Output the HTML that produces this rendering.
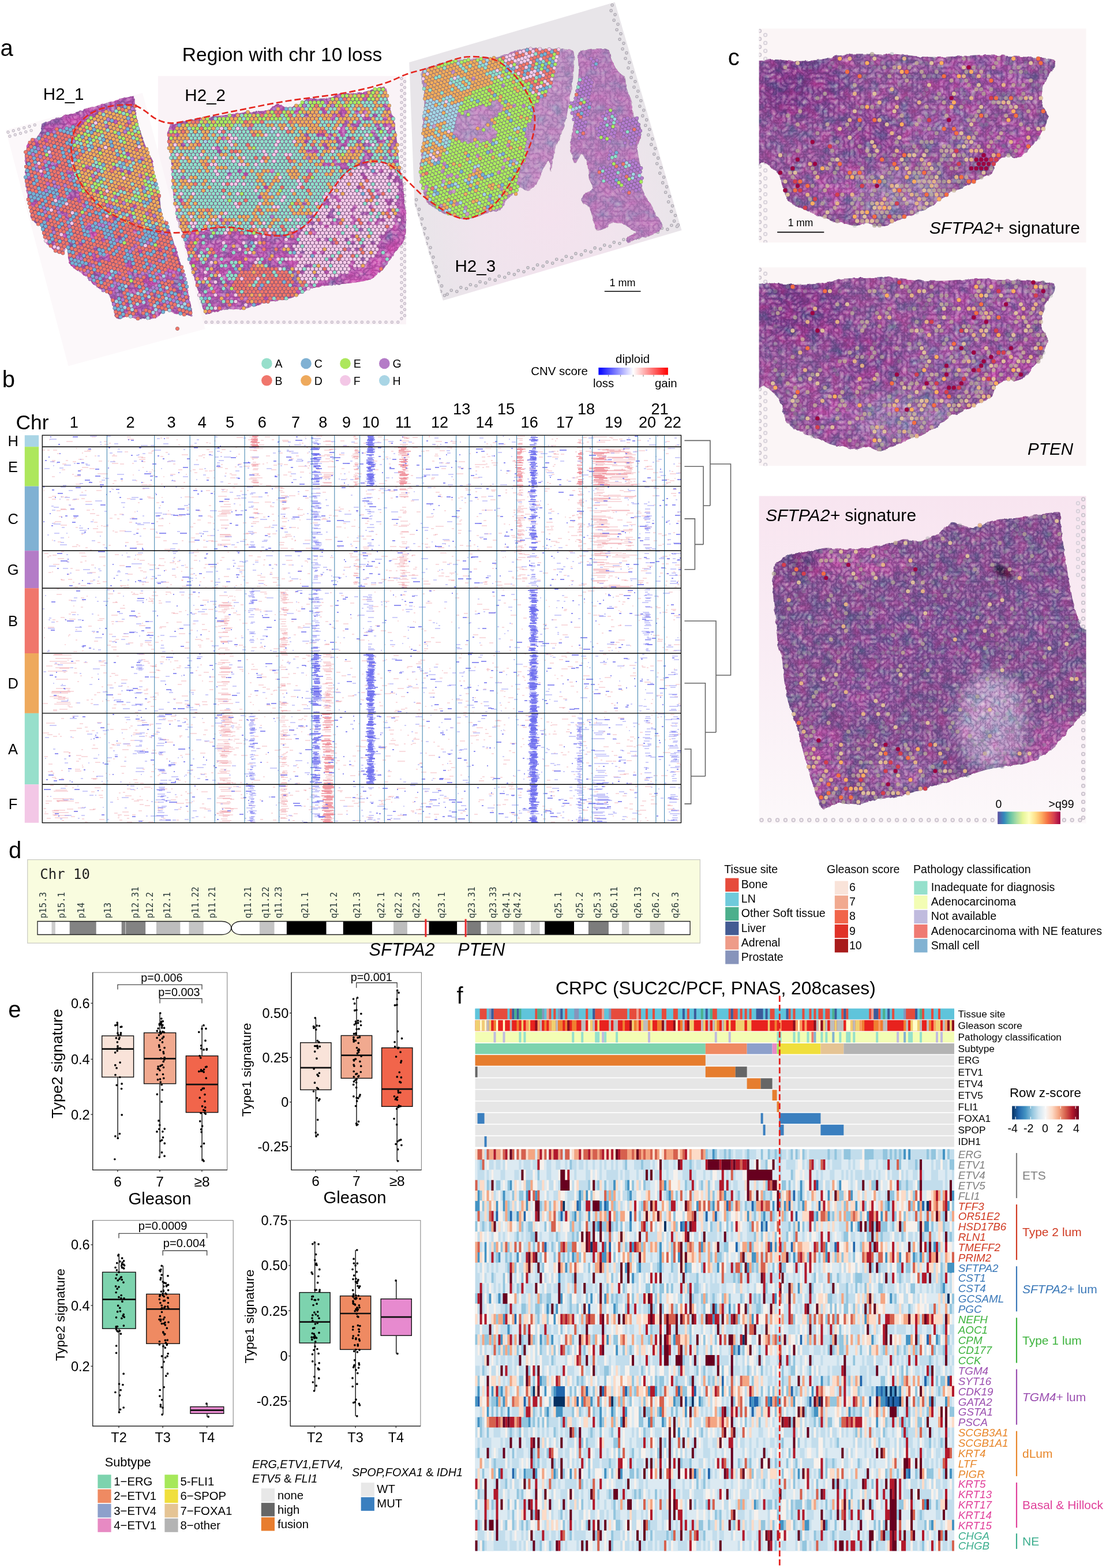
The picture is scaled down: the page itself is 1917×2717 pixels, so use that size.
<!DOCTYPE html>
<html lang="en"><head><meta charset="utf-8"><title>Figure</title>
<style>
html,body{margin:0;padding:0;background:#fff;}
body{width:1917px;height:2717px;overflow:hidden;}
svg{display:block;font-family:"Liberation Sans",sans-serif;}
.mono{font-family:"DejaVu Sans Mono","Liberation Mono",monospace;}
</style></head>
<body>
<svg width="1917" height="2717" viewBox="0 0 1917 2717">
<g id="panel_a">
<defs><filter id="ta" x="-3%" y="-3%" width="106%" height="106%" color-interpolation-filters="sRGB"><feTurbulence type="fractalNoise" baseFrequency="0.12" numOctaves="2" seed="18" result="e"/><feDisplacementMap in="SourceGraphic" in2="e" scale="4" xChannelSelector="R" yChannelSelector="G" result="s"/><feTurbulence type="turbulence" baseFrequency="0.13" numOctaves="2" seed="11" result="n"/><feColorMatrix in="n" type="matrix" values="0.45 0 0 0 0.374 0.45 0 0 0 0.374 0.338 0 0 0 0.405 0 0 0 0 1" result="nc"/><feTurbulence type="fractalNoise" baseFrequency="0.05" numOctaves="3" seed="14" result="n2"/><feColorMatrix in="n2" type="matrix" values="0.45 0 0 0 0.311 -0.113 0 0 0 0.556 0.045 0 0 0 0.477 0 0 0 0 1" result="nc2"/><feBlend in="nc" in2="s" mode="hard-light" result="b"/><feBlend in="nc2" in2="b" mode="hard-light" result="b2"/><feComposite in="b2" in2="s" operator="in"/></filter><filter id="ta3" x="-3%" y="-3%" width="106%" height="106%" color-interpolation-filters="sRGB"><feTurbulence type="fractalNoise" baseFrequency="0.12" numOctaves="2" seed="30" result="e"/><feDisplacementMap in="SourceGraphic" in2="e" scale="4" xChannelSelector="R" yChannelSelector="G" result="s"/><feTurbulence type="turbulence" baseFrequency="0.12" numOctaves="2" seed="23" result="n"/><feColorMatrix in="n" type="matrix" values="0.3 0 0 0 0.416 0.3 0 0 0 0.416 0.225 0 0 0 0.437 0 0 0 0 1" result="nc"/><feTurbulence type="fractalNoise" baseFrequency="0.05" numOctaves="3" seed="26" result="n2"/><feColorMatrix in="n2" type="matrix" values="0.25 0 0 0 0.395 -0.062 0 0 0 0.531 0.025 0 0 0 0.487 0 0 0 0 1" result="nc2"/><feBlend in="nc" in2="s" mode="hard-light" result="b"/><feBlend in="nc2" in2="b" mode="hard-light" result="b2"/><feComposite in="b2" in2="s" operator="in"/></filter><filter id="ab8" x="-30%" y="-30%" width="160%" height="160%"><feGaussianBlur stdDeviation="8"/></filter><filter id="ab20" x="-30%" y="-30%" width="160%" height="160%"><feGaussianBlur stdDeviation="22"/></filter></defs>
<rect x="273.9" y="131.7" width="430.1" height="430.3" fill="#FAF3F7"/>
<g fill="none" stroke-linecap="round">
<path d="M696,136V556M701.5,141.2V556M357,558.2H700" stroke="#c8becb" stroke-width="5.4" stroke-dasharray="0 10.4"/>
<path d="M696,136V556M701.5,141.2V556M357,558.2H700" stroke="#F1E8EF" stroke-width="2.6" stroke-dasharray="0 10.4"/>
</g>
<clipPath id="ck2"><path d="M290.8,231.1C291.2,226.9 293.2,219.3 295,217.2C296.8,215.1 300.9,214.4 306.1,213.1C311.3,211.8 330.7,207.6 339.4,206.1C348.2,204.7 371.4,201.9 381.1,200.6C390.8,199.3 413.1,196.1 422.8,195C432.5,193.9 457.6,192.6 464.4,190.8C471.2,189.1 477.2,180.2 481.1,179.7C485,179.2 493.2,186.5 497.8,186.7C502.3,186.8 516.1,183.1 520,181.1C523.9,179.2 527.9,171.1 531.1,170C534.4,168.9 542.6,171.6 547.8,171.4C553,171.2 570.7,169.7 575.6,168.6C580.4,167.5 584.6,162.5 589.4,161.7C594.3,160.9 610.7,162.3 617.2,161.7C623.7,161 639.5,157.6 645,156.1C650.5,154.7 661.5,148.8 664.4,149.2C667.4,149.5 669,155.8 670,158.9C671,162 671.8,171.7 672.8,175.6C673.8,179.4 677,188.3 678.3,192.2C679.6,196.1 682.9,204.4 683.9,208.9C684.9,213.4 686,225.3 686.7,231.1C687.3,236.9 688.8,252.4 689.4,258.9C690.1,265.4 691.2,280.2 692.2,286.7C693.2,293.1 696.8,308 697.8,314.4C698.8,320.9 699.9,335.7 700.6,342.2C701.2,348.7 702.9,365.6 703.3,370C703.7,374.4 703.9,375.9 703.9,380C703.9,384.1 704,400.1 703.3,405C702.6,409.9 699.7,418.1 697.8,421.7C695.8,425.2 689.6,431.7 686.7,435.6C683.8,439.4 676,450.8 672.8,455C669.5,459.2 662.1,468.4 658.9,471.7C655.6,474.9 648.2,481 645,482.8C641.8,484.6 636,486 631.1,486.9C626.2,487.9 609.8,490.3 603.3,491.1C596.9,491.9 581.4,493.2 575.6,493.9C569.7,494.5 558.2,495.7 553.3,496.7C548.5,497.6 538.4,500.3 533.9,502.2C529.4,504.2 519.3,511.4 514.4,513.3C509.6,515.3 498.1,517.8 492.2,518.9C486.4,520 469.3,522.1 464.4,523.1C459.6,524 453.8,526.2 450.6,527.2C447.3,528.2 440.9,530.3 436.7,531.4C432.5,532.5 419.3,536.5 414.4,536.9C409.6,537.4 398.9,535.4 395,535.6C391.1,535.7 385,537.4 381.1,538.3C377.2,539.3 364.9,543.7 361.7,543.9C358.4,544.1 356.6,548.1 353.3,539.7C350.1,531.3 339.1,490.3 333.9,471.7C328.7,453 311.5,388.6 308.9,380C306.3,371.4 312,398.3 311.7,397.8C311.3,397.3 307.2,381.1 306.1,375.6C305,370 302.8,356.4 301.9,350.6C301.1,344.7 299.7,331.4 299.2,325.6C298.7,319.7 298.1,306.4 297.8,300.6C297.5,294.7 297,281.1 296.4,275.6C295.7,270 292.9,258.5 292.2,253.3C291.6,248.1 290.5,235.3 290.8,231.1Z"/></clipPath>
<g filter="url(#ta)"><g clip-path="url(#ck2)"><rect x="270" y="130" width="440" height="440" fill="#B25CB4"/><path d="M520,520L600,498L660,478L700,430L700,360L670,440L620,470Z" fill="#CC5CB8" opacity="0.8" filter="url(#ab8)"/><ellipse cx="420" cy="470" rx="60" ry="40" fill="#B858B4" opacity="0.5" filter="url(#ab8)"/></g></g>
<g fill="none" stroke-linecap="round">
<path d="M0 0m650 154.7h0m7 0h0m7 0h0m-24.5 5.7h0m7 0h0m7 0h0m7 0h0m7 0h0m-73.5 5.6h0m7 0h0m7 0h0m7 0h0m7 0h0m7 0h0m7 0h0m7 0h0m7 0h0m7 0h0m7 0h0m7 0h0m-94.5 5.7h0m7 0h0m7 0h0m7 0h0m7 0h0m7 0h0m7 0h0m7 0h0m14 0h0m7 0h0m7 0h0m7 0h0m7 0h0m-143.5 5.7h0m7 0h0m7 0h0m7 0h0m7 0h0m7 0h0m14 0h0m7 0h0m7 0h0m7 0h0m7 0h0m7 0h0m7 0h0m7 0h0m7 0h0m7 0h0m7 0h0m7 0h0m7 0h0m7 0h0m7 0h0m-157.5 5.6h0m7 0h0m7 0h0m7 0h0m7 0h0m7 0h0m7 0h0m7 0h0m7 0h0m7 0h0m7 0h0m7 0h0m7 0h0m7 0h0m7 0h0m7 0h0m7 0h0m7 0h0m7 0h0m7 0h0m7 0h0m7 0h0m14 0h0m-199.5 5.7h0m7 0h0m14 0h0m7 0h0m7 0h0m14 0h0m7 0h0m7 0h0m7 0h0m7 0h0m14 0h0m7 0h0m7 0h0m7 0h0m14 0h0m7 0h0m7 0h0m7 0h0m7 0h0m7 0h0m7 0h0m7 0h0m7 0h0m7 0h0m-234.5 5.6h0m35 0h0m7 0h0m7 0h0m7 0h0m7 0h0m7 0h0m7 0h0m14 0h0m7 0h0m7 0h0m7 0h0m7 0h0m7 0h0m14 0h0m7 0h0m7 0h0m21 0h0m7 0h0m14 0h0m14 0h0m7 0h0m7 0h0m7 0h0m7 0h0m7 0h0m-276.5 5.7h0m14 0h0m7 0h0m7 0h0m7 0h0m7 0h0m7 0h0m7 0h0m7 0h0m7 0h0m7 0h0m7 0h0m7 0h0m7 0h0m7 0h0m7 0h0m7 0h0m7 0h0m14 0h0m7 0h0m7 0h0m7 0h0m7 0h0m7 0h0m14 0h0m14 0h0m7 0h0m7 0h0m7 0h0m7 0h0m7 0h0m7 0h0m14 0h0m7 0h0m7 0h0m-318.5 5.7h0m7 0h0m14 0h0m7 0h0m7 0h0m7 0h0m7 0h0m7 0h0m7 0h0m7 0h0m7 0h0m7 0h0m7 0h0m7 0h0m7 0h0m7 0h0m7 0h0m7 0h0m7 0h0m7 0h0m7 0h0m7 0h0m7 0h0m7 0h0m7 0h0m7 0h0m7 0h0m7 0h0m7 0h0m7 0h0m7 0h0m14 0h0m7 0h0m7 0h0m7 0h0m7 0h0m7 0h0m7 0h0m21 0h0m7 0h0m7 0h0m14 0h0m7 0h0m-353.5 5.6h0m7 0h0m7 0h0m7 0h0m7 0h0m7 0h0m7 0h0m7 0h0m7 0h0m7 0h0m7 0h0m7 0h0m7 0h0m7 0h0m7 0h0m7 0h0m7 0h0m7 0h0m7 0h0m7 0h0m7 0h0m7 0h0m7 0h0m7 0h0m7 0h0m7 0h0m7 0h0m7 0h0m7 0h0m7 0h0m7 0h0m7 0h0m7 0h0m7 0h0m7 0h0m7 0h0m7 0h0m7 0h0m7 0h0m14 0h0m7 0h0m14 0h0m7 0h0m7 0h0m7 0h0m7 0h0m7 0h0m7 0h0m7 0h0m-367.5 5.7h0m7 0h0m7 0h0m7 0h0m7 0h0m7 0h0m7 0h0m7 0h0m7 0h0m7 0h0m7 0h0m7 0h0m7 0h0m7 0h0m7 0h0m7 0h0m7 0h0m7 0h0m7 0h0m7 0h0m7 0h0m7 0h0m7 0h0m7 0h0m7 0h0m7 0h0m7 0h0m7 0h0m7 0h0m7 0h0m7 0h0m7 0h0m7 0h0m7 0h0m7 0h0m7 0h0m7 0h0m7 0h0m7 0h0m7 0h0m7 0h0m14 0h0m21 0h0m7 0h0m7 0h0m7 0h0m14 0h0m21 0h0m-374.5 5.6h0m7 0h0m7 0h0m7 0h0m7 0h0m7 0h0m7 0h0m7 0h0m7 0h0m7 0h0m7 0h0m7 0h0m7 0h0m7 0h0m7 0h0m7 0h0m7 0h0m7 0h0m7 0h0m7 0h0m7 0h0m7 0h0m7 0h0m7 0h0m7 0h0m7 0h0m7 0h0m7 0h0m7 0h0m7 0h0m7 0h0m7 0h0m7 0h0m7 0h0m7 0h0m7 0h0m7 0h0m7 0h0m7 0h0m7 0h0m7 0h0m14 0h0m7 0h0m7 0h0m7 0h0m7 0h0m7 0h0m7 0h0m7 0h0m14 0h0m7 0h0m-374.5 5.7h0m7 0h0m7 0h0m7 0h0m7 0h0m7 0h0m7 0h0m7 0h0m7 0h0m7 0h0m7 0h0m7 0h0m7 0h0m7 0h0m7 0h0m7 0h0m7 0h0m7 0h0m7 0h0m7 0h0m7 0h0m7 0h0m7 0h0m7 0h0m7 0h0m7 0h0m7 0h0m7 0h0m7 0h0m7 0h0m7 0h0m7 0h0m7 0h0m7 0h0m7 0h0m7 0h0m7 0h0m7 0h0m7 0h0m7 0h0m7 0h0m7 0h0m21 0h0m7 0h0m7 0h0m7 0h0m7 0h0m7 0h0m14 0h0m7 0h0m7 0h0m14 0h0m-388.5 5.7h0m7 0h0m14 0h0m7 0h0m7 0h0m7 0h0m7 0h0m7 0h0m7 0h0m7 0h0m7 0h0m7 0h0m7 0h0m7 0h0m7 0h0m7 0h0m7 0h0m7 0h0m7 0h0m7 0h0m7 0h0m7 0h0m7 0h0m7 0h0m7 0h0m7 0h0m7 0h0m7 0h0m7 0h0m7 0h0m7 0h0m7 0h0m7 0h0m14 0h0m7 0h0m21 0h0m14 0h0m7 0h0m14 0h0m7 0h0m7 0h0m7 0h0m7 0h0m7 0h0m7 0h0m14 0h0m7 0h0m7 0h0m7 0h0m7 0h0m-388.5 5.6h0m7 0h0m7 0h0m7 0h0m7 0h0m7 0h0m7 0h0m7 0h0m7 0h0m7 0h0m7 0h0m7 0h0m7 0h0m14 0h0m7 0h0m7 0h0m7 0h0m7 0h0m7 0h0m7 0h0m7 0h0m7 0h0m7 0h0m7 0h0m7 0h0m7 0h0m7 0h0m7 0h0m7 0h0m7 0h0m7 0h0m7 0h0m7 0h0m7 0h0m7 0h0m7 0h0m7 0h0m7 0h0m14 0h0m14 0h0m7 0h0m14 0h0m7 0h0m7 0h0m7 0h0m7 0h0m7 0h0m14 0h0m7 0h0m14 0h0m-388.5 5.7h0m7 0h0m7 0h0m7 0h0m7 0h0m7 0h0m7 0h0m7 0h0m7 0h0m7 0h0m7 0h0m7 0h0m7 0h0m7 0h0m7 0h0m7 0h0m7 0h0m7 0h0m7 0h0m7 0h0m7 0h0m7 0h0m7 0h0m7 0h0m7 0h0m7 0h0m7 0h0m7 0h0m7 0h0m7 0h0m7 0h0m7 0h0m7 0h0m7 0h0m14 0h0m7 0h0m7 0h0m7 0h0m7 0h0m7 0h0m7 0h0m14 0h0m14 0h0m7 0h0m14 0h0m7 0h0m7 0h0m7 0h0m21 0h0m7 0h0m-381.5 5.6h0m7 0h0m7 0h0m14 0h0m7 0h0m7 0h0m7 0h0m7 0h0m7 0h0m7 0h0m7 0h0m7 0h0m7 0h0m7 0h0m7 0h0m7 0h0m7 0h0m7 0h0m7 0h0m7 0h0m7 0h0m7 0h0m7 0h0m7 0h0m7 0h0m7 0h0m7 0h0m7 0h0m7 0h0m7 0h0m7 0h0m7 0h0m7 0h0m7 0h0m7 0h0m7 0h0m7 0h0m14 0h0m7 0h0m7 0h0m21 0h0m7 0h0m7 0h0m7 0h0m21 0h0m7 0h0m7 0h0m7 0h0m7 0h0m14 0h0m-395.5 5.7h0m7 0h0m7 0h0m7 0h0m7 0h0m7 0h0m7 0h0m7 0h0m7 0h0m7 0h0m7 0h0m7 0h0m14 0h0m7 0h0m7 0h0m7 0h0m7 0h0m7 0h0m7 0h0m7 0h0m7 0h0m7 0h0m7 0h0m7 0h0m7 0h0m7 0h0m7 0h0m7 0h0m7 0h0m7 0h0m7 0h0m7 0h0m7 0h0m7 0h0m7 0h0m7 0h0m7 0h0m7 0h0m14 0h0m7 0h0m14 0h0m7 0h0m7 0h0m7 0h0m14 0h0m7 0h0m7 0h0m7 0h0m7 0h0m7 0h0m7 0h0m14 0h0m-388.5 5.7h0m7 0h0m7 0h0m7 0h0m7 0h0m7 0h0m7 0h0m7 0h0m7 0h0m7 0h0m7 0h0m7 0h0m14 0h0m7 0h0m7 0h0m7 0h0m7 0h0m7 0h0m7 0h0m7 0h0m7 0h0m7 0h0m7 0h0m7 0h0m7 0h0m7 0h0m7 0h0m7 0h0m7 0h0m7 0h0m7 0h0m7 0h0m7 0h0m28 0h0m7 0h0m7 0h0m7 0h0m7 0h0m7 0h0m7 0h0m7 0h0m14 0h0m7 0h0m14 0h0m7 0h0m7 0h0m7 0h0m7 0h0m7 0h0m7 0h0m7 0h0m-388.5 5.6h0m7 0h0m7 0h0m7 0h0m7 0h0m7 0h0m7 0h0m7 0h0m7 0h0m7 0h0m7 0h0m7 0h0m7 0h0m7 0h0m7 0h0m7 0h0m7 0h0m7 0h0m7 0h0m7 0h0m7 0h0m7 0h0m7 0h0m7 0h0m7 0h0m7 0h0m7 0h0m7 0h0m7 0h0m7 0h0m7 0h0m7 0h0m7 0h0m7 0h0m7 0h0m7 0h0m7 0h0m7 0h0m7 0h0m7 0h0m7 0h0m7 0h0m7 0h0m7 0h0m7 0h0m7 0h0m7 0h0m7 0h0m21 0h0m7 0h0m7 0h0m7 0h0m14 0h0m-388.5 5.7h0m7 0h0m7 0h0m7 0h0m7 0h0m7 0h0m7 0h0m7 0h0m7 0h0m7 0h0m7 0h0m7 0h0m7 0h0m7 0h0m7 0h0m7 0h0m7 0h0m7 0h0m7 0h0m7 0h0m7 0h0m7 0h0m7 0h0m7 0h0m7 0h0m7 0h0m7 0h0m7 0h0m7 0h0m7 0h0m7 0h0m7 0h0m7 0h0m7 0h0m14 0h0m7 0h0m7 0h0m7 0h0m7 0h0m7 0h0m7 0h0m7 0h0m7 0h0m7 0h0m7 0h0m7 0h0m7 0h0m21 0h0m7 0h0m7 0h0m7 0h0m7 0h0m7 0h0m7 0h0m-388.5 5.6h0m7 0h0m7 0h0m7 0h0m7 0h0m7 0h0m7 0h0m7 0h0m7 0h0m7 0h0m7 0h0m7 0h0m7 0h0m7 0h0m7 0h0m7 0h0m7 0h0m7 0h0m7 0h0m7 0h0m7 0h0m7 0h0m7 0h0m7 0h0m7 0h0m7 0h0m7 0h0m7 0h0m7 0h0m7 0h0m7 0h0m7 0h0m7 0h0m7 0h0m7 0h0m7 0h0m7 0h0m7 0h0m7 0h0m7 0h0m14 0h0m7 0h0m7 0h0m14 0h0m7 0h0m14 0h0m7 0h0m7 0h0m7 0h0m7 0h0m7 0h0m7 0h0m-374.5 5.7h0m7 0h0m7 0h0m7 0h0m7 0h0m7 0h0m7 0h0m7 0h0m7 0h0m7 0h0m7 0h0m7 0h0m7 0h0m7 0h0m7 0h0m7 0h0m7 0h0m7 0h0m7 0h0m7 0h0m7 0h0m7 0h0m7 0h0m7 0h0m7 0h0m7 0h0m7 0h0m7 0h0m7 0h0m7 0h0m7 0h0m7 0h0m7 0h0m7 0h0m7 0h0m7 0h0m7 0h0m21 0h0m28 0h0m7 0h0m7 0h0m21 0h0m7 0h0m7 0h0m7 0h0m7 0h0m7 0h0m7 0h0m7 0h0m-388.5 5.7h0m7 0h0m7 0h0m7 0h0m7 0h0m7 0h0m7 0h0m7 0h0m7 0h0m7 0h0m7 0h0m7 0h0m7 0h0m7 0h0m7 0h0m7 0h0m7 0h0m7 0h0m7 0h0m7 0h0m7 0h0m7 0h0m7 0h0m7 0h0m7 0h0m7 0h0m7 0h0m7 0h0m7 0h0m7 0h0m7 0h0m7 0h0m7 0h0m7 0h0m7 0h0m7 0h0m7 0h0m7 0h0m7 0h0m7 0h0m7 0h0m7 0h0m21 0h0m7 0h0m7 0h0m7 0h0m14 0h0m7 0h0m7 0h0m7 0h0m7 0h0m7 0h0m7 0h0m7 0h0m-388.5 5.6h0m7 0h0m7 0h0m7 0h0m7 0h0m7 0h0m7 0h0m7 0h0m7 0h0m7 0h0m7 0h0m7 0h0m7 0h0m7 0h0m7 0h0m7 0h0m14 0h0m7 0h0m7 0h0m7 0h0m7 0h0m7 0h0m7 0h0m14 0h0m7 0h0m7 0h0m7 0h0m7 0h0m7 0h0m7 0h0m7 0h0m7 0h0m7 0h0m7 0h0m7 0h0m7 0h0m7 0h0m7 0h0m7 0h0m7 0h0m7 0h0m7 0h0m7 0h0m7 0h0m7 0h0m7 0h0m7 0h0m7 0h0m7 0h0m14 0h0m7 0h0m7 0h0m7 0h0m-388.5 5.7h0m7 0h0m7 0h0m7 0h0m7 0h0m7 0h0m7 0h0m7 0h0m7 0h0m7 0h0m7 0h0m7 0h0m7 0h0m7 0h0m14 0h0m7 0h0m7 0h0m14 0h0m7 0h0m7 0h0m7 0h0m7 0h0m7 0h0m7 0h0m7 0h0m7 0h0m7 0h0m7 0h0m7 0h0m7 0h0m7 0h0m7 0h0m7 0h0m7 0h0m7 0h0m7 0h0m7 0h0m7 0h0m7 0h0m7 0h0m7 0h0m7 0h0m7 0h0m7 0h0m7 0h0m14 0h0m7 0h0m14 0h0m7 0h0m7 0h0m14 0h0m7 0h0m-388.5 5.6h0m7 0h0m7 0h0m7 0h0m7 0h0m7 0h0m7 0h0m7 0h0m7 0h0m7 0h0m7 0h0m7 0h0m7 0h0m7 0h0m7 0h0m7 0h0m7 0h0m7 0h0m7 0h0m7 0h0m7 0h0m7 0h0m7 0h0m7 0h0m7 0h0m7 0h0m7 0h0m7 0h0m7 0h0m7 0h0m7 0h0m7 0h0m7 0h0m7 0h0m7 0h0m7 0h0m7 0h0m7 0h0m7 0h0m7 0h0m7 0h0m7 0h0m7 0h0m7 0h0m7 0h0m7 0h0m7 0h0m14 0h0m7 0h0m7 0h0m7 0h0m7 0h0m14 0h0m14 0h0m-395.5 5.7h0m7 0h0m7 0h0m7 0h0m7 0h0m7 0h0m7 0h0m7 0h0m7 0h0m7 0h0m7 0h0m7 0h0m7 0h0m7 0h0m7 0h0m7 0h0m7 0h0m7 0h0m7 0h0m7 0h0m7 0h0m7 0h0m7 0h0m7 0h0m7 0h0m7 0h0m7 0h0m7 0h0m7 0h0m7 0h0m7 0h0m7 0h0m7 0h0m7 0h0m7 0h0m7 0h0m7 0h0m7 0h0m7 0h0m7 0h0m7 0h0m7 0h0m7 0h0m7 0h0m7 0h0m7 0h0m7 0h0m7 0h0m7 0h0m7 0h0m7 0h0m7 0h0m7 0h0m7 0h0m7 0h0m-374.5 5.7h0m7 0h0m7 0h0m7 0h0m7 0h0m7 0h0m7 0h0m7 0h0m7 0h0m7 0h0m7 0h0m7 0h0m7 0h0m7 0h0m7 0h0m7 0h0m7 0h0m7 0h0m7 0h0m7 0h0m7 0h0m7 0h0m7 0h0m7 0h0m7 0h0m7 0h0m7 0h0m7 0h0m7 0h0m7 0h0m7 0h0m7 0h0m7 0h0m7 0h0m7 0h0m7 0h0m7 0h0m7 0h0m7 0h0m7 0h0m7 0h0m7 0h0m7 0h0m7 0h0m7 0h0m7 0h0m7 0h0m7 0h0m7 0h0m7 0h0m7 0h0m7 0h0m7 0h0m7 0h0m7 0h0m7 0h0m-388.5 5.6h0m7 0h0m7 0h0m7 0h0m7 0h0m7 0h0m7 0h0m7 0h0m7 0h0m7 0h0m7 0h0m7 0h0m7 0h0m7 0h0m7 0h0m7 0h0m7 0h0m7 0h0m7 0h0m7 0h0m7 0h0m7 0h0m7 0h0m14 0h0m7 0h0m7 0h0m7 0h0m7 0h0m7 0h0m7 0h0m7 0h0m7 0h0m7 0h0m7 0h0m7 0h0m7 0h0m7 0h0m7 0h0m7 0h0m7 0h0m7 0h0m7 0h0m7 0h0m7 0h0m7 0h0m14 0h0m7 0h0m7 0h0m7 0h0m7 0h0m7 0h0m7 0h0m7 0h0m7 0h0m-381.5 5.7h0m7 0h0m7 0h0m7 0h0m7 0h0m7 0h0m7 0h0m7 0h0m7 0h0m7 0h0m7 0h0m7 0h0m7 0h0m7 0h0m7 0h0m7 0h0m7 0h0m7 0h0m7 0h0m7 0h0m7 0h0m7 0h0m7 0h0m7 0h0m7 0h0m7 0h0m7 0h0m7 0h0m7 0h0m7 0h0m7 0h0m7 0h0m7 0h0m7 0h0m7 0h0m7 0h0m7 0h0m7 0h0m7 0h0m7 0h0m7 0h0m7 0h0m7 0h0m7 0h0m7 0h0m7 0h0m7 0h0m7 0h0m7 0h0m7 0h0m14 0h0m7 0h0m7 0h0m7 0h0m7 0h0m-381.5 5.6h0m7 0h0m7 0h0m7 0h0m7 0h0m7 0h0m7 0h0m7 0h0m7 0h0m7 0h0m7 0h0m7 0h0m7 0h0m7 0h0m7 0h0m7 0h0m7 0h0m7 0h0m7 0h0m7 0h0m7 0h0m7 0h0m7 0h0m7 0h0m7 0h0m7 0h0m7 0h0m7 0h0m7 0h0m7 0h0m7 0h0m7 0h0m7 0h0m7 0h0m7 0h0m7 0h0m7 0h0m7 0h0m14 0h0m7 0h0m7 0h0m7 0h0m7 0h0m7 0h0m7 0h0m7 0h0m7 0h0m7 0h0m7 0h0m14 0h0m7 0h0m7 0h0m7 0h0m-381.5 5.7h0m7 0h0m7 0h0m7 0h0m7 0h0m7 0h0m7 0h0m7 0h0m7 0h0m7 0h0m7 0h0m7 0h0m7 0h0m7 0h0m7 0h0m7 0h0m7 0h0m7 0h0m7 0h0m7 0h0m7 0h0m14 0h0m7 0h0m7 0h0m7 0h0m7 0h0m7 0h0m7 0h0m7 0h0m7 0h0m7 0h0m7 0h0m7 0h0m7 0h0m7 0h0m7 0h0m7 0h0m7 0h0m21 0h0m7 0h0m7 0h0m7 0h0m7 0h0m7 0h0m7 0h0m7 0h0m7 0h0m7 0h0m7 0h0m7 0h0m7 0h0m7 0h0m7 0h0m-381.5 5.7h0m14 0h0m7 0h0m7 0h0m7 0h0m7 0h0m7 0h0m7 0h0m7 0h0m7 0h0m7 0h0m7 0h0m7 0h0m7 0h0m7 0h0m7 0h0m7 0h0m7 0h0m7 0h0m7 0h0m7 0h0m7 0h0m7 0h0m7 0h0m7 0h0m7 0h0m7 0h0m7 0h0m7 0h0m7 0h0m7 0h0m7 0h0m7 0h0m7 0h0m7 0h0m7 0h0m14 0h0m7 0h0m14 0h0m7 0h0m7 0h0m7 0h0m7 0h0m7 0h0m7 0h0m7 0h0m7 0h0m7 0h0m7 0h0m21 0h0m-381.5 5.6h0m7 0h0m7 0h0m7 0h0m7 0h0m7 0h0m7 0h0m7 0h0m7 0h0m7 0h0m7 0h0m7 0h0m7 0h0m7 0h0m7 0h0m7 0h0m7 0h0m7 0h0m7 0h0m7 0h0m7 0h0m7 0h0m7 0h0m7 0h0m7 0h0m7 0h0m7 0h0m7 0h0m7 0h0m7 0h0m7 0h0m7 0h0m14 0h0m7 0h0m7 0h0m7 0h0m21 0h0m7 0h0m7 0h0m7 0h0m7 0h0m7 0h0m7 0h0m7 0h0m7 0h0m7 0h0m7 0h0m7 0h0m7 0h0m7 0h0m14 0h0m-374.5 5.7h0m7 0h0m7 0h0m7 0h0m7 0h0m7 0h0m7 0h0m7 0h0m7 0h0m7 0h0m7 0h0m7 0h0m7 0h0m7 0h0m7 0h0m7 0h0m7 0h0m7 0h0m7 0h0m7 0h0m7 0h0m7 0h0m7 0h0m7 0h0m7 0h0m7 0h0m7 0h0m7 0h0m7 0h0m7 0h0m7 0h0m7 0h0m7 0h0m7 0h0m7 0h0m7 0h0m7 0h0m7 0h0m7 0h0m7 0h0m7 0h0m7 0h0m7 0h0m7 0h0m14 0h0m7 0h0m7 0h0m14 0h0m7 0h0m7 0h0m7 0h0m7 0h0m7 0h0m-374.5 5.6h0m7 0h0m7 0h0m7 0h0m7 0h0m7 0h0m7 0h0m7 0h0m7 0h0m7 0h0m7 0h0m7 0h0m7 0h0m7 0h0m7 0h0m7 0h0m7 0h0m7 0h0m7 0h0m7 0h0m7 0h0m7 0h0m7 0h0m7 0h0m7 0h0m7 0h0m7 0h0m7 0h0m7 0h0m7 0h0m7 0h0m7 0h0m7 0h0m7 0h0m7 0h0m7 0h0m7 0h0m7 0h0m14 0h0m7 0h0m7 0h0m7 0h0m14 0h0m7 0h0m7 0h0m7 0h0m7 0h0m7 0h0m7 0h0m7 0h0m14 0h0m7 0h0m-381.5 5.7h0m7 0h0m7 0h0m7 0h0m7 0h0m7 0h0m7 0h0m7 0h0m7 0h0m7 0h0m7 0h0m7 0h0m7 0h0m7 0h0m7 0h0m7 0h0m7 0h0m7 0h0m7 0h0m7 0h0m7 0h0m7 0h0m7 0h0m7 0h0m7 0h0m7 0h0m7 0h0m7 0h0m7 0h0m7 0h0m7 0h0m7 0h0m7 0h0m7 0h0m7 0h0m7 0h0m7 0h0m7 0h0m14 0h0m7 0h0m7 0h0m7 0h0m7 0h0m7 0h0m7 0h0m21 0h0m7 0h0m7 0h0m7 0h0m7 0h0m7 0h0m7 0h0m-374.5 5.7h0m7 0h0m7 0h0m7 0h0m7 0h0m7 0h0m7 0h0m7 0h0m7 0h0m7 0h0m7 0h0m7 0h0m7 0h0m7 0h0m7 0h0m7 0h0m7 0h0m7 0h0m7 0h0m7 0h0m7 0h0m7 0h0m7 0h0m7 0h0m7 0h0m7 0h0m7 0h0m7 0h0m7 0h0m7 0h0m7 0h0m7 0h0m7 0h0m14 0h0m7 0h0m7 0h0m21 0h0m7 0h0m7 0h0m7 0h0m14 0h0m7 0h0m7 0h0m7 0h0m7 0h0m7 0h0m7 0h0m7 0h0m7 0h0m7 0h0m-367.5 5.6h0m7 0h0m7 0h0m7 0h0m7 0h0m7 0h0m7 0h0m7 0h0m7 0h0m7 0h0m14 0h0m7 0h0m7 0h0m7 0h0m7 0h0m7 0h0m7 0h0m7 0h0m7 0h0m7 0h0m7 0h0m7 0h0m7 0h0m7 0h0m7 0h0m7 0h0m7 0h0m7 0h0m7 0h0m7 0h0m7 0h0m7 0h0m7 0h0m7 0h0m7 0h0m7 0h0m7 0h0m7 0h0m14 0h0m7 0h0m7 0h0m14 0h0m7 0h0m7 0h0m7 0h0m7 0h0m21 0h0m7 0h0m14 0h0m-374.5 5.7h0m7 0h0m7 0h0m7 0h0m7 0h0m7 0h0m7 0h0m7 0h0m7 0h0m7 0h0m7 0h0m7 0h0m7 0h0m7 0h0m7 0h0m7 0h0m7 0h0m7 0h0m7 0h0m7 0h0m7 0h0m7 0h0m7 0h0m7 0h0m7 0h0m7 0h0m7 0h0m7 0h0m7 0h0m7 0h0m7 0h0m21 0h0m14 0h0m7 0h0m21 0h0m7 0h0m7 0h0m14 0h0m7 0h0m7 0h0m14 0h0m14 0h0m7 0h0m7 0h0m7 0h0m-367.5 5.6h0m7 0h0m7 0h0m7 0h0m7 0h0m7 0h0m7 0h0m7 0h0m7 0h0m7 0h0m7 0h0m7 0h0m7 0h0m7 0h0m7 0h0m7 0h0m7 0h0m7 0h0m7 0h0m7 0h0m7 0h0m7 0h0m7 0h0m7 0h0m7 0h0m7 0h0m7 0h0m7 0h0m7 0h0m7 0h0m7 0h0m7 0h0m7 0h0m7 0h0m7 0h0m7 0h0m14 0h0m7 0h0m7 0h0m7 0h0m7 0h0m7 0h0m7 0h0m7 0h0m7 0h0m7 0h0m7 0h0m7 0h0m7 0h0m7 0h0m7 0h0m7 0h0m-360.5 5.7h0m7 0h0m7 0h0m14 0h0m7 0h0m14 0h0m14 0h0m7 0h0m7 0h0m7 0h0m7 0h0m7 0h0m7 0h0m7 0h0m7 0h0m7 0h0m7 0h0m7 0h0m7 0h0m7 0h0m7 0h0m7 0h0m7 0h0m7 0h0m7 0h0m7 0h0m14 0h0m7 0h0m14 0h0m7 0h0m7 0h0m7 0h0m7 0h0m7 0h0m7 0h0m7 0h0m7 0h0m7 0h0m7 0h0m14 0h0m7 0h0m7 0h0m7 0h0m7 0h0m7 0h0m-346.5 5.7h0m7 0h0m14 0h0m28 0h0m7 0h0m7 0h0m7 0h0m7 0h0m21 0h0m7 0h0m7 0h0m7 0h0m7 0h0m7 0h0m7 0h0m7 0h0m7 0h0m7 0h0m7 0h0m7 0h0m7 0h0m21 0h0m7 0h0m7 0h0m14 0h0m7 0h0m7 0h0m7 0h0m7 0h0m14 0h0m7 0h0m7 0h0m7 0h0m7 0h0m7 0h0m7 0h0m7 0h0m7 0h0m7 0h0m7 0h0m-346.5 5.6h0m7 0h0m28 0h0m14 0h0m77 0h0m14 0h0m42 0h0m7 0h0m14 0h0m7 0h0m7 0h0m7 0h0m7 0h0m7 0h0m7 0h0m7 0h0m7 0h0m7 0h0m7 0h0m7 0h0m7 0h0m14 0h0m7 0h0m7 0h0m7 0h0m7 0h0m7 0h0m-332.5 5.7h0m21 0h0m154 0h0m21 0h0m7 0h0m7 0h0m7 0h0m7 0h0m14 0h0m14 0h0m7 0h0m7 0h0m7 0h0m14 0h0m7 0h0m7 0h0m7 0h0m7 0h0m7 0h0m7 0h0m7 0h0m-325.5 5.6h0m7 0h0m14 0h0m35 0h0m35 0h0m14 0h0m7 0h0m7 0h0m7 0h0m63 0h0m7 0h0m7 0h0m7 0h0m7 0h0m7 0h0m7 0h0m7 0h0m14 0h0m7 0h0m7 0h0m7 0h0m14 0h0m7 0h0m7 0h0m7 0h0m14 0h0m-325.5 5.7h0m7 0h0m56 0h0m14 0h0m21 0h0m14 0h0m56 0h0m14 0h0m7 0h0m7 0h0m7 0h0m7 0h0m7 0h0m7 0h0m7 0h0m7 0h0m7 0h0m7 0h0m7 0h0m7 0h0m7 0h0m7 0h0m7 0h0m7 0h0m14 0h0m7 0h0m7 0h0m-318.5 5.7h0m7 0h0m21 0h0m7 0h0m21 0h0m28 0h0m14 0h0m7 0h0m21 0h0m21 0h0m14 0h0m7 0h0m14 0h0m7 0h0m7 0h0m7 0h0m7 0h0m7 0h0m7 0h0m7 0h0m7 0h0m7 0h0m7 0h0m7 0h0m7 0h0m14 0h0m14 0h0m7 0h0m7 0h0m7 0h0m7 0h0m-325.5 5.6h0m7 0h0m14 0h0m14 0h0m7 0h0m35 0h0m21 0h0m7 0h0m7 0h0m63 0h0m7 0h0m7 0h0m14 0h0m7 0h0m14 0h0m14 0h0m7 0h0m7 0h0m7 0h0m7 0h0m7 0h0m7 0h0m7 0h0m7 0h0m7 0h0m7 0h0m7 0h0m7 0h0m14 0h0m-332.5 5.7h0m7 0h0m7 0h0m7 0h0m7 0h0m14 0h0m98 0h0m42 0h0m14 0h0m7 0h0m7 0h0m7 0h0m7 0h0m7 0h0m7 0h0m7 0h0m7 0h0m7 0h0m7 0h0m7 0h0m7 0h0m7 0h0m7 0h0m7 0h0m7 0h0m7 0h0m-318.5 5.6h0m14 0h0m7 0h0m7 0h0m28 0h0m42 0h0m21 0h0m7 0h0m14 0h0m14 0h0m7 0h0m7 0h0m7 0h0m7 0h0m7 0h0m7 0h0m7 0h0m7 0h0m7 0h0m7 0h0m7 0h0m7 0h0m14 0h0m7 0h0m7 0h0m7 0h0m7 0h0m7 0h0m7 0h0m14 0h0m35 0h0m-318.5 5.7h0m14 0h0m7 0h0m28 0h0m7 0h0m7 0h0m28 0h0m7 0h0m35 0h0m35 0h0m7 0h0m7 0h0m7 0h0m7 0h0m7 0h0m7 0h0m7 0h0m7 0h0m7 0h0m7 0h0m7 0h0m7 0h0m14 0h0m7 0h0m7 0h0m-297.5 5.7h0m49 0h0m7 0h0m14 0h0m14 0h0m21 0h0m7 0h0m7 0h0m7 0h0m56 0h0m7 0h0m21 0h0m7 0h0m7 0h0m7 0h0m7 0h0m7 0h0m7 0h0m7 0h0m7 0h0m14 0h0m7 0h0m7 0h0m-290.5 5.6h0m21 0h0m7 0h0m42 0h0m7 0h0m21 0h0m7 0h0m7 0h0m7 0h0m7 0h0m7 0h0m7 0h0m7 0h0m7 0h0m14 0h0m7 0h0m7 0h0m7 0h0m7 0h0m7 0h0m7 0h0m7 0h0m7 0h0m7 0h0m7 0h0m7 0h0m7 0h0m7 0h0m7 0h0m56 0h0m-325.5 5.7h0m21 0h0m21 0h0m21 0h0m21 0h0m7 0h0m7 0h0m7 0h0m7 0h0m7 0h0m7 0h0m7 0h0m7 0h0m7 0h0m7 0h0m7 0h0m7 0h0m14 0h0m14 0h0m7 0h0m7 0h0m7 0h0m7 0h0m14 0h0m7 0h0m7 0h0m7 0h0m7 0h0m-234.5 5.6h0m7 0h0m7 0h0m14 0h0m7 0h0m7 0h0m7 0h0m7 0h0m7 0h0m7 0h0m7 0h0m7 0h0m7 0h0m7 0h0m7 0h0m7 0h0m7 0h0m7 0h0m7 0h0m7 0h0m14 0h0m7 0h0m7 0h0m7 0h0m14 0h0m7 0h0m7 0h0m7 0h0m7 0h0m-241.5 5.7h0m14 0h0m7 0h0m21 0h0m14 0h0m7 0h0m7 0h0m7 0h0m7 0h0m7 0h0m7 0h0m7 0h0m7 0h0m7 0h0m7 0h0m7 0h0m7 0h0m7 0h0m7 0h0m7 0h0m14 0h0m7 0h0m7 0h0m7 0h0m7 0h0m7 0h0m7 0h0m7 0h0m-220.5 5.7h0m7 0h0m7 0h0m14 0h0m14 0h0m21 0h0m7 0h0m7 0h0m7 0h0m7 0h0m7 0h0m7 0h0m7 0h0m7 0h0m7 0h0m7 0h0m7 0h0m7 0h0m7 0h0m7 0h0m14 0h0m7 0h0m7 0h0m7 0h0m7 0h0m-206.5 5.6h0m21 0h0m28 0h0m14 0h0m7 0h0m7 0h0m7 0h0m7 0h0m7 0h0m7 0h0m7 0h0m7 0h0m7 0h0m7 0h0m7 0h0m7 0h0m7 0h0m7 0h0m21 0h0m7 0h0m14 0h0m-178.5 5.7h0m21 0h0m14 0h0m7 0h0m7 0h0m7 0h0m7 0h0m7 0h0m7 0h0m7 0h0m7 0h0m7 0h0m7 0h0m7 0h0m7 0h0m7 0h0m7 0h0m7 0h0m7 0h0m7 0h0m14 0h0m-178.5 5.6h0m14 0h0m42 0h0m7 0h0m7 0h0m7 0h0m7 0h0m7 0h0m7 0h0m7 0h0m7 0h0m7 0h0m7 0h0m7 0h0m7 0h0m7 0h0m7 0h0m14 0h0m-178.5 5.7h0m28 0h0m21 0h0m14 0h0m7 0h0m7 0h0m7 0h0m7 0h0m7 0h0m7 0h0m7 0h0m7 0h0m7 0h0m7 0h0m7 0h0m7 0h0m7 0h0m7 0h0m7 0h0m-164.5 5.7h0m7 0h0m7 0h0m21 0h0m35 0h0m14 0h0m7 0h0m7 0h0m7 0h0m14 0h0m7 0h0m7 0h0m7 0h0m7 0h0m-143.5 5.6h0m7 0h0m28 0h0m7 0h0m7 0h0m7 0h0m21 0h0m7 0h0m7 0h0m7 0h0m7 0h0m7 0h0m-101.5 5.7h0m35 0h0m28 0h0m14 0h0m-80.5 5.6h0m7 0h0m7 0h0m7 0h0m42 0h0m-66.5 5.7h0m7 0h0" stroke="#504a58" stroke-width="6.55"/>
<path d="M0 0m660.5 160.4h0m0 11.3h0m7 0h0m-136.5 5.7h0m63 0h0m35 0h0m7 0h0m7 0h0m14 0h0m7 0h0m7 0h0m-136.5 5.6h0m28 0h0m49 0h0m21 0h0m7 0h0m7 0h0m-143.5 5.7h0m7 0h0m21 0h0m42 0h0m7 0h0m28 0h0m14 0h0m21 0h0m14 0h0m7 0h0m-108.5 5.6h0m14 0h0m42 0h0m35 0h0m7 0h0m7 0h0m-241.5 5.7h0m70 0h0m21 0h0m14 0h0m84 0h0m35 0h0m14 0h0m-283.5 5.7h0m49 0h0m70 0h0m63 0h0m28 0h0m42 0h0m28 0h0m7 0h0m21 0h0m-220.5 5.6h0m7 0h0m7 0h0m7 0h0m7 0h0m7 0h0m49 0h0m14 0h0m7 0h0m7 0h0m7 0h0m35 0h0m14 0h0m7 0h0m7 0h0m-297.5 5.7h0m63 0h0m7 0h0m28 0h0m7 0h0m7 0h0m21 0h0m21 0h0m14 0h0m42 0h0m7 0h0m14 0h0m14 0h0m35 0h0m21 0h0m14 0h0m-332.5 5.6h0m49 0h0m14 0h0m14 0h0m14 0h0m7 0h0m14 0h0m7 0h0m7 0h0m7 0h0m7 0h0m14 0h0m21 0h0m14 0h0m7 0h0m7 0h0m35 0h0m7 0h0m28 0h0m21 0h0m14 0h0m7 0h0m7 0h0m14 0h0m-332.5 5.7h0m14 0h0m21 0h0m7 0h0m21 0h0m7 0h0m7 0h0m7 0h0m7 0h0m7 0h0m28 0h0m7 0h0m14 0h0m7 0h0m7 0h0m21 0h0m14 0h0m42 0h0m7 0h0m7 0h0m21 0h0m14 0h0m7 0h0m7 0h0m7 0h0m14 0h0m14 0h0m14 0h0m-353.5 5.7h0m7 0h0m7 0h0m7 0h0m14 0h0m14 0h0m7 0h0m7 0h0m14 0h0m7 0h0m7 0h0m7 0h0m7 0h0m35 0h0m7 0h0m14 0h0m7 0h0m7 0h0m7 0h0m7 0h0m21 0h0m7 0h0m42 0h0m14 0h0m7 0h0m7 0h0m7 0h0m7 0h0m28 0h0m7 0h0m7 0h0m7 0h0m-346.5 5.6h0m7 0h0m7 0h0m21 0h0m7 0h0m42 0h0m7 0h0m7 0h0m7 0h0m7 0h0m7 0h0m7 0h0m7 0h0m7 0h0m7 0h0m7 0h0m7 0h0m7 0h0m7 0h0m35 0h0m7 0h0m7 0h0m7 0h0m14 0h0m14 0h0m7 0h0m21 0h0m14 0h0m7 0h0m7 0h0m14 0h0m-339.5 5.7h0m14 0h0m14 0h0m14 0h0m7 0h0m14 0h0m7 0h0m14 0h0m7 0h0m7 0h0m7 0h0m7 0h0m7 0h0m7 0h0m7 0h0m7 0h0m7 0h0m7 0h0m14 0h0m7 0h0m7 0h0m35 0h0m14 0h0m42 0h0m14 0h0m7 0h0m14 0h0m14 0h0m7 0h0m21 0h0m-346.5 5.6h0m28 0h0m7 0h0m7 0h0m7 0h0m7 0h0m7 0h0m7 0h0m21 0h0m7 0h0m14 0h0m7 0h0m7 0h0m7 0h0m7 0h0m7 0h0m14 0h0m7 0h0m7 0h0m7 0h0m14 0h0m14 0h0m14 0h0m28 0h0m7 0h0m21 0h0m7 0h0m42 0h0m14 0h0m-360.5 5.7h0m35 0h0m7 0h0m7 0h0m7 0h0m21 0h0m14 0h0m7 0h0m7 0h0m7 0h0m7 0h0m21 0h0m7 0h0m7 0h0m7 0h0m7 0h0m7 0h0m7 0h0m7 0h0m7 0h0m7 0h0m7 0h0m14 0h0m7 0h0m14 0h0m7 0h0m35 0h0m42 0h0m7 0h0m7 0h0m14 0h0m7 0h0m-367.5 5.7h0m7 0h0m7 0h0m7 0h0m7 0h0m7 0h0m7 0h0m14 0h0m7 0h0m7 0h0m14 0h0m7 0h0m28 0h0m7 0h0m7 0h0m7 0h0m21 0h0m7 0h0m14 0h0m7 0h0m7 0h0m7 0h0m7 0h0m42 0h0m28 0h0m7 0h0m7 0h0m49 0h0m21 0h0m14 0h0m-381.5 5.6h0m21 0h0m7 0h0m7 0h0m7 0h0m14 0h0m7 0h0m7 0h0m7 0h0m21 0h0m7 0h0m14 0h0m7 0h0m7 0h0m7 0h0m7 0h0m7 0h0m14 0h0m14 0h0m7 0h0m21 0h0m7 0h0m7 0h0m28 0h0m14 0h0m7 0h0m7 0h0m49 0h0m21 0h0m7 0h0m7 0h0m7 0h0m-374.5 5.7h0m7 0h0m28 0h0m14 0h0m7 0h0m14 0h0m14 0h0m14 0h0m14 0h0m21 0h0m7 0h0m14 0h0m21 0h0m7 0h0m7 0h0m7 0h0m14 0h0m7 0h0m7 0h0m42 0h0m7 0h0m14 0h0m42 0h0m21 0h0m7 0h0m21 0h0m7 0h0m7 0h0m-374.5 5.6h0m7 0h0m14 0h0m7 0h0m21 0h0m14 0h0m7 0h0m7 0h0m7 0h0m14 0h0m14 0h0m7 0h0m7 0h0m7 0h0m21 0h0m14 0h0m7 0h0m7 0h0m21 0h0m7 0h0m7 0h0m14 0h0m7 0h0m14 0h0m7 0h0m14 0h0m28 0h0m21 0h0m21 0h0m7 0h0m7 0h0m7 0h0m-360.5 5.7h0m7 0h0m7 0h0m7 0h0m7 0h0m35 0h0m7 0h0m14 0h0m7 0h0m28 0h0m14 0h0m7 0h0m7 0h0m7 0h0m7 0h0m7 0h0m7 0h0m7 0h0m14 0h0m14 0h0m7 0h0m7 0h0m63 0h0m7 0h0m35 0h0m42 0h0m-374.5 5.7h0m7 0h0m7 0h0m7 0h0m7 0h0m7 0h0m14 0h0m7 0h0m28 0h0m7 0h0m7 0h0m7 0h0m7 0h0m7 0h0m7 0h0m14 0h0m7 0h0m7 0h0m7 0h0m7 0h0m7 0h0m7 0h0m7 0h0m14 0h0m7 0h0m7 0h0m7 0h0m7 0h0m7 0h0m7 0h0m7 0h0m7 0h0m7 0h0m7 0h0m21 0h0m7 0h0m-311.5 5.6h0m21 0h0m7 0h0m7 0h0m14 0h0m14 0h0m14 0h0m7 0h0m14 0h0m7 0h0m14 0h0m7 0h0m14 0h0m7 0h0m28 0h0m7 0h0m7 0h0m28 0h0m7 0h0m14 0h0m14 0h0m7 0h0m7 0h0m14 0h0m14 0h0m7 0h0m84 0h0m-388.5 5.7h0m7 0h0m7 0h0m7 0h0m7 0h0m7 0h0m7 0h0m7 0h0m7 0h0m7 0h0m7 0h0m14 0h0m7 0h0m14 0h0m7 0h0m7 0h0m14 0h0m7 0h0m21 0h0m7 0h0m7 0h0m14 0h0m7 0h0m28 0h0m7 0h0m14 0h0m7 0h0m7 0h0m21 0h0m7 0h0m7 0h0m98 0h0m-388.5 5.6h0m7 0h0m14 0h0m21 0h0m7 0h0m7 0h0m7 0h0m7 0h0m7 0h0m7 0h0m14 0h0m7 0h0m7 0h0m14 0h0m7 0h0m7 0h0m14 0h0m7 0h0m7 0h0m21 0h0m7 0h0m21 0h0m28 0h0m7 0h0m7 0h0m7 0h0m7 0h0m7 0h0m7 0h0m105 0h0m-388.5 5.7h0m28 0h0m7 0h0m7 0h0m14 0h0m14 0h0m7 0h0m7 0h0m7 0h0m7 0h0m14 0h0m7 0h0m7 0h0m7 0h0m21 0h0m7 0h0m21 0h0m7 0h0m7 0h0m7 0h0m14 0h0m14 0h0m7 0h0m7 0h0m7 0h0m7 0h0m7 0h0m7 0h0m-269.5 5.7h0m35 0h0m14 0h0m7 0h0m7 0h0m7 0h0m35 0h0m14 0h0m14 0h0m7 0h0m14 0h0m14 0h0m7 0h0m7 0h0m7 0h0m7 0h0m7 0h0m14 0h0m7 0h0m7 0h0m7 0h0m7 0h0m7 0h0m14 0h0m70 0h0m28 0h0m-374.5 5.6h0m7 0h0m14 0h0m14 0h0m7 0h0m7 0h0m7 0h0m14 0h0m7 0h0m7 0h0m7 0h0m7 0h0m7 0h0m7 0h0m7 0h0m7 0h0m7 0h0m7 0h0m14 0h0m21 0h0m7 0h0m14 0h0m7 0h0m7 0h0m21 0h0m7 0h0m7 0h0m7 0h0m7 0h0m7 0h0m-255.5 5.7h0m7 0h0m7 0h0m7 0h0m7 0h0m7 0h0m14 0h0m7 0h0m7 0h0m7 0h0m14 0h0m7 0h0m7 0h0m7 0h0m7 0h0m7 0h0m7 0h0m14 0h0m7 0h0m14 0h0m7 0h0m14 0h0m7 0h0m14 0h0m7 0h0m7 0h0m14 0h0m7 0h0m7 0h0m7 0h0m7 0h0m49 0h0m28 0h0m28 0h0m-367.5 5.6h0m14 0h0m7 0h0m14 0h0m7 0h0m7 0h0m7 0h0m7 0h0m7 0h0m7 0h0m7 0h0m14 0h0m21 0h0m7 0h0m7 0h0m7 0h0m28 0h0m14 0h0m7 0h0m7 0h0m14 0h0m7 0h0m7 0h0m14 0h0m7 0h0m7 0h0m-255.5 5.7h0m14 0h0m7 0h0m14 0h0m7 0h0m7 0h0m7 0h0m7 0h0m7 0h0m7 0h0m14 0h0m7 0h0m7 0h0m7 0h0m7 0h0m7 0h0m7 0h0m7 0h0m35 0h0m7 0h0m14 0h0m7 0h0m7 0h0m7 0h0m7 0h0m7 0h0m7 0h0m7 0h0m7 0h0m133 0h0m-381.5 5.7h0m14 0h0m14 0h0m7 0h0m7 0h0m7 0h0m7 0h0m7 0h0m7 0h0m7 0h0m7 0h0m14 0h0m7 0h0m7 0h0m14 0h0m7 0h0m7 0h0m7 0h0m14 0h0m7 0h0m7 0h0m14 0h0m7 0h0m7 0h0m14 0h0m14 0h0m7 0h0m7 0h0m7 0h0m-248.5 5.6h0m21 0h0m14 0h0m7 0h0m7 0h0m7 0h0m7 0h0m7 0h0m7 0h0m7 0h0m7 0h0m21 0h0m7 0h0m7 0h0m7 0h0m35 0h0m7 0h0m7 0h0m7 0h0m42 0h0m91 0h0m21 0h0m-339.5 5.7h0m21 0h0m7 0h0m7 0h0m7 0h0m7 0h0m7 0h0m7 0h0m7 0h0m7 0h0m7 0h0m7 0h0m14 0h0m7 0h0m7 0h0m7 0h0m14 0h0m7 0h0m7 0h0m21 0h0m7 0h0m14 0h0m7 0h0m14 0h0m7 0h0m7 0h0m21 0h0m-248.5 5.6h0m7 0h0m7 0h0m7 0h0m35 0h0m7 0h0m7 0h0m7 0h0m7 0h0m7 0h0m7 0h0m7 0h0m7 0h0m7 0h0m21 0h0m28 0h0m7 0h0m7 0h0m14 0h0m14 0h0m14 0h0m7 0h0m140 0h0m-381.5 5.7h0m14 0h0m21 0h0m14 0h0m14 0h0m7 0h0m21 0h0m7 0h0m7 0h0m7 0h0m7 0h0m7 0h0m14 0h0m14 0h0m7 0h0m7 0h0m7 0h0m7 0h0m7 0h0m7 0h0m84 0h0m56 0h0m14 0h0m-346.5 5.7h0m14 0h0m14 0h0m21 0h0m28 0h0m7 0h0m7 0h0m7 0h0m28 0h0m14 0h0m7 0h0m7 0h0m14 0h0m7 0h0m7 0h0m7 0h0m7 0h0m7 0h0m7 0h0m7 0h0m21 0h0m105 0h0m-325.5 5.6h0m14 0h0m7 0h0m7 0h0m21 0h0m35 0h0m7 0h0m14 0h0m21 0h0m7 0h0m7 0h0m21 0h0m21 0h0m14 0h0m7 0h0m49 0h0m63 0h0m-297.5 5.7h0m7 0h0m49 0h0m21 0h0m7 0h0m14 0h0m21 0h0m14 0h0m7 0h0m7 0h0m7 0h0m7 0h0m7 0h0m7 0h0m7 0h0m-199.5 5.6h0m14 0h0m7 0h0m14 0h0m7 0h0m21 0h0m7 0h0m7 0h0m7 0h0m7 0h0m7 0h0m7 0h0m14 0h0m7 0h0m7 0h0m14 0h0m7 0h0m14 0h0m7 0h0m7 0h0m91 0h0m14 0h0m-283.5 5.7h0m14 0h0m21 0h0m14 0h0m7 0h0m28 0h0m7 0h0m7 0h0m56 0h0m14 0h0m14 0h0m105 0h0m21 0h0m-262.5 5.7h0m7 0h0m42 0h0m7 0h0m14 0h0m7 0h0m28 0h0m7 0h0m7 0h0m35 0h0m63 0h0m49 0h0m-290.5 5.6h0m14 0h0m133 0h0m17.5 5.7h0m56 0h0m56 0h0m-276.5 5.6h0m252 0h0m21 0h0m-234.5 5.7h0m35 0h0m14 0h0m84 0h0m-164.5 5.7h0m28 0h0m49 0h0m-87.5 5.6h0m56 0h0m21 0h0m77 0h0m84 0h0m77 0h0m-332.5 5.7h0m21 0h0m7 0h0m14 0h0m203 0h0m42 0h0m-269.5 5.6h0m35 0h0m70 0h0m35 0h0m77 0h0m105 0h0m-318.5 5.7h0m49 0h0m7 0h0m42 0h0m35 0h0m-101.5 5.7h0m7 0h0m14 0h0m14 0h0m42 0h0m84 0h0m28 0h0m-213.5 5.6h0m133 0h0m35 0h0m-129.5 5.7h0m77 0h0m28 0h0m77 0h0m-213.5 5.6h0m28 0h0m7 0h0m7 0h0m49 0h0m21 0h0m-94.5 5.7h0m14 0h0m7 0h0m140 0h0m-199.5 5.7h0m14 0h0m28 0h0m56 0h0m21 0h0m-24.5 5.6h0m63 0h0m28 0h0m14 0h0m-178.5 5.7h0m21 0h0m133 0h0m-164.5 5.6h0m63 0h0m105 0h0m-175 11.4h0m14 0h0m112 0h0m21 0h0m-143.5 5.6h0m35 0h0m14 0h0m-38.5 5.7h0m-3.5 5.6h0m7 0h0" stroke="#8FE0CB" stroke-width="6.0"/>
<path d="M0 0m636 166h0m-38.5 5.7h0m-49 11.3h0m-70 11.3h0m7 0h0m-31.5 5.7h0m28 0h0m21 0h0m84 0h0m-252 11.3h0m7 0h0m84 0h0m28 0h0m49 0h0m-66.5 5.7h0m-87.5 5.6h0m266 0h0m-297.5 5.7h0m70 0h0m112 0h0m56 0h0m7 0h0m-269.5 5.7h0m7 0h0m140 0h0m94.5 5.6h0m77 0h0m-318.5 5.7h0m52.5 5.6h0m84 0h0m112 0h0m-140 11.4h0m7 0h0m266 0h0m-231 11.3h0m14 0h0m42 0h0m3.5 5.6h0m-143.5 5.7h0m178.5 17h0m70 0h0m-73.5 5.6h0m-3.5 5.7h0m105 0h0m-297.5 5.7h0m56 0h0m94.5 5.6h0m35 0h0m105 0h0m-241.5 5.7h0m147 0h0m105 0h0m3.5 5.6h0m21 0h0m-17.5 5.7h0m-220.5 5.7h0m210 0h0m-318.5 5.6h0m98 0h0m98 0h0m73.5 5.7h0m-227.5 5.6h0m91 0h0m196 0h0m24.5 5.7h0m3.5 5.7h0m-122.5 5.6h0m70 0h0m-297.5 5.7h0m112 0h0m154 0h0m35 0h0m-248.5 5.6h0m112 0h0m182 0h0m-262.5 5.7h0m28 0h0m21 0h0m35 0h0m-171.5 5.7h0m7 0h0m70 0h0m21 0h0m42 0h0m14 0h0m28 0h0m35 0h0m-220.5 5.6h0m189 0h0m-164.5 5.7h0m238 0h0m42 0h0m-290.5 5.6h0m126 0h0m126 0h0m-255.5 5.7h0m7 0h0m-3.5 5.7h0m35 0h0m63 0h0m28 0h0m21 0h0m119 0h0m28 0h0m-255.5 5.6h0m259 0h0m-290.5 5.7h0m252 0h0m21 0h0m-269.5 5.6h0m126 0h0m119 0h0m-147 11.4h0m-101.5 5.6h0m98 0h0m7 0h0m7 0h0m7 0h0m7 0h0m7 0h0m7 0h0m84 0h0m98 0h0m-283.5 5.7h0m42 0h0m7 0h0m7 0h0m14 0h0m7 0h0m7 0h0m7 0h0m14 0h0m7 0h0m7 0h0m21 0h0m-101.5 5.6h0m7 0h0m7 0h0m7 0h0m7 0h0m7 0h0m14 0h0m7 0h0m14 0h0m7 0h0m7 0h0m-136.5 5.7h0m49 0h0m14 0h0m7 0h0m7 0h0m14 0h0m7 0h0m7 0h0m7 0h0m7 0h0m7 0h0m7 0h0m7 0h0m-94.5 5.7h0m7 0h0m7 0h0m7 0h0m7 0h0m14 0h0m7 0h0m14 0h0m7 0h0m7 0h0m14 0h0m7 0h0m21 0h0m-185.5 5.6h0m49 0h0m14 0h0m7 0h0m7 0h0m7 0h0m21 0h0m14 0h0m7 0h0m7 0h0m7 0h0m7 0h0m7 0h0m28 0h0m-115.5 5.7h0m7 0h0m7 0h0m7 0h0m7 0h0m7 0h0m14 0h0m7 0h0m7 0h0m7 0h0m7 0h0m7 0h0m7 0h0m7 0h0m7 0h0m-143.5 5.6h0m42 0h0m14 0h0m7 0h0m7 0h0m7 0h0m7 0h0m7 0h0m7 0h0m7 0h0m7 0h0m7 0h0m7 0h0m7 0h0m7 0h0m-115.5 5.7h0m21 0h0m7 0h0m7 0h0m14 0h0m14 0h0m7 0h0m7 0h0m7 0h0m7 0h0m7 0h0m7 0h0m7 0h0m-87.5 5.7h0m14 0h0m7 0h0m7 0h0m7 0h0m14 0h0m14 0h0m7 0h0m-129.5 5.6h0m35 0h0m35 0h0m14 0h0m7 0h0m7 0h0m7 0h0m-66.5 5.7h0m-17.5 5.6h0m-17.5 5.7h0" stroke="#F0766A" stroke-width="6.0"/>
<path d="M0 0m590.5 171.7h0m-94.5 17h0m-185.5 28.3h0m49 0h0m287 79.2h0m-17.5 39.6h0m24.5 5.7h0m-329 67.9h0m-3.5 5.7h0m115.5 5.6h0m-98 11.4h0m171.5 5.6h0m31.5 5.7h0m-213.5 5.6h0m80.5 17h0m84 22.7h0m-38.5 5.6h0m-98 22.7h0m84 11.3h0" stroke="#74B2D6" stroke-width="6.0"/>
<path d="M0 0m639.5 160.4h0m14 0h0m14 0h0m-59.5 5.6h0m14 0h0m28 0h0m14 0h0m7 0h0m-87.5 5.7h0m21 0h0m21 0h0m28 0h0m-80.5 5.7h0m7 0h0m21 0h0m49 0h0m-136.5 5.6h0m56 0h0m21 0h0m28 0h0m7 0h0m28 0h0m7 0h0m14 0h0m-192.5 5.7h0m42 0h0m21 0h0m7 0h0m14 0h0m21 0h0m14 0h0m14 0h0m14 0h0m7 0h0m14 0h0m-220.5 5.6h0m35 0h0m35 0h0m28 0h0m7 0h0m7 0h0m7 0h0m28 0h0m7 0h0m21 0h0m21 0h0m14 0h0m28 0h0m7 0h0m-262.5 5.7h0m28 0h0m28 0h0m49 0h0m21 0h0m7 0h0m7 0h0m7 0h0m7 0h0m7 0h0m28 0h0m14 0h0m21 0h0m28 0h0m7 0h0m-318.5 5.7h0m49 0h0m7 0h0m28 0h0m7 0h0m21 0h0m42 0h0m7 0h0m7 0h0m7 0h0m7 0h0m7 0h0m7 0h0m14 0h0m7 0h0m21 0h0m7 0h0m7 0h0m7 0h0m7 0h0m28 0h0m28 0h0m-346.5 5.6h0m28 0h0m14 0h0m35 0h0m28 0h0m77 0h0m7 0h0m7 0h0m7 0h0m7 0h0m14 0h0m35 0h0m7 0h0m14 0h0m42 0h0m7 0h0m7 0h0m7 0h0m7 0h0m-360.5 5.7h0m14 0h0m7 0h0m56 0h0m28 0h0m7 0h0m35 0h0m7 0h0m14 0h0m7 0h0m14 0h0m14 0h0m7 0h0m7 0h0m7 0h0m7 0h0m21 0h0m14 0h0m21 0h0m28 0h0m7 0h0m42 0h0m-374.5 5.6h0m7 0h0m7 0h0m49 0h0m28 0h0m91 0h0m21 0h0m28 0h0m7 0h0m7 0h0m7 0h0m21 0h0m28 0h0m-297.5 5.7h0m14 0h0m14 0h0m14 0h0m7 0h0m77 0h0m7 0h0m7 0h0m56 0h0m14 0h0m14 0h0m7 0h0m7 0h0m63 0h0m-297.5 5.7h0m7 0h0m35 0h0m14 0h0m84 0h0m70 0h0m42 0h0m14 0h0m105 0h0m-381.5 5.6h0m7 0h0m7 0h0m7 0h0m28 0h0m7 0h0m21 0h0m14 0h0m119 0h0m7 0h0m7 0h0m98 0h0m56 0h0m-381.5 5.7h0m7 0h0m7 0h0m28 0h0m35 0h0m140 0h0m7 0h0m21 0h0m14 0h0m7 0h0m7 0h0m7 0h0m98 0h0m-381.5 5.6h0m14 0h0m21 0h0m7 0h0m70 0h0m105 0h0m14 0h0m28 0h0m14 0h0m49 0h0m7 0h0m35 0h0m14 0h0m14 0h0m-395.5 5.7h0m7 0h0m14 0h0m7 0h0m7 0h0m7 0h0m56 0h0m42 0h0m91 0h0m49 0h0m7 0h0m28 0h0m7 0h0m14 0h0m28 0h0m28 0h0m-388.5 5.7h0m56 0h0m63 0h0m105 0h0m7 0h0m35 0h0m7 0h0m35 0h0m14 0h0m7 0h0m14 0h0m14 0h0m7 0h0m28 0h0m-374.5 5.6h0m70 0h0m7 0h0m140 0h0m7 0h0m7 0h0m14 0h0m28 0h0m14 0h0m7 0h0m7 0h0m7 0h0m63 0h0m-374.5 5.7h0m14 0h0m35 0h0m42 0h0m14 0h0m49 0h0m63 0h0m14 0h0m7 0h0m28 0h0m14 0h0m7 0h0m7 0h0m7 0h0m7 0h0m42 0h0m-360.5 5.6h0m7 0h0m21 0h0m21 0h0m7 0h0m14 0h0m49 0h0m42 0h0m49 0h0m28 0h0m21 0h0m35 0h0m7 0h0m21 0h0m21 0h0m7 0h0m-346.5 5.7h0m7 0h0m42 0h0m77 0h0m91 0h0m28 0h0m7 0h0m21 0h0m42 0h0m56 0h0m7 0h0m-381.5 5.7h0m7 0h0m49 0h0m21 0h0m7 0h0m7 0h0m119 0h0m168 0h0m7 0h0m7 0h0m-374.5 5.6h0m28 0h0m14 0h0m77 0h0m21 0h0m7 0h0m35 0h0m7 0h0m7 0h0m35 0h0m28 0h0m14 0h0m-143.5 5.7h0m7 0h0m49 0h0m7 0h0m7 0h0m49 0h0m7 0h0m-241.5 5.6h0m7 0h0m84 0h0m28 0h0m28 0h0m28 0h0m7 0h0m14 0h0m-227.5 5.7h0m14 0h0m7 0h0m35 0h0m91 0h0m7 0h0m21 0h0m7 0h0m-178.5 5.7h0m14 0h0m7 0h0m7 0h0m21 0h0m105 0h0m14 0h0m98 0h0m35 0h0m21 0h0m-311.5 5.6h0m14 0h0m35 0h0m84 0h0m21 0h0m105 0h0m-269.5 5.7h0m49 0h0m112 0h0m119 0h0m-185.5 5.6h0m56 0h0m7 0h0m21 0h0m28 0h0m28 0h0m56 0h0m-283.5 5.7h0m21 0h0m126 0h0m7 0h0m7 0h0m-143.5 5.7h0m133 0h0m56 0h0m14 0h0m112 0h0m-339.5 5.6h0m21 0h0m14 0h0m119 0h0m7 0h0m7 0h0m49 0h0m14 0h0m-213.5 5.7h0m7 0h0m119 0h0m56 0h0m21 0h0m28 0h0m-241.5 5.6h0m35 0h0m7 0h0m14 0h0m77 0h0m21 0h0m7 0h0m7 0h0m28 0h0m14 0h0m14 0h0m147 0h0m-353.5 5.7h0m7 0h0m14 0h0m14 0h0m21 0h0m56 0h0m14 0h0m56 0h0m7 0h0m7 0h0m7 0h0m7 0h0m126 0h0m21 0h0m-367.5 5.7h0m28 0h0m7 0h0m14 0h0m7 0h0m42 0h0m7 0h0m7 0h0m14 0h0m-129.5 5.6h0m7 0h0m14 0h0m28 0h0m28 0h0m7 0h0m7 0h0m21 0h0m14 0h0m7 0h0m28 0h0m7 0h0m14 0h0m98 0h0m-276.5 5.7h0m49 0h0m7 0h0m14 0h0m28 0h0m35 0h0m21 0h0m-157.5 5.6h0m7 0h0m35 0h0m112 0h0m-150.5 5.7h0m7 0h0m119 0h0m-101.5 5.7h0m276.5 5.6h0m21 0h0m-189 11.3h0m-45.5 5.7h0m87.5 5.7h0m7 0h0m63 0h0m-234.5 5.6h0m7 0h0m28 0h0m77 0h0m203 0h0m-171.5 5.7h0m-115.5 5.6h0m70 0h0m-52.5 5.7h0m42 0h0m31.5 5.7h0m7 0h0m98 0h0m77 0h0m-262.5 5.6h0m49 0h0m91 0h0m-171.5 5.7h0m105 0h0m105 0h0m-171.5 5.6h0m133 0h0m-164.5 5.7h0m175 0h0m-164.5 5.7h0m168 0h0m-157.5 5.6h0m70 0h0m3.5 17h0m14 0h0m63 0h0m-129.5 5.7h0m52.5 5.6h0m-14 11.3h0m-66.5 5.7h0" stroke="#F0AC5C" stroke-width="6.0"/>
<path d="M0 0m650 154.7h0m7 0h0m7 0h0m-17.5 5.7h0m-52.5 5.6h0m7 0h0m14 0h0m14 0h0m14 0h0m14 0h0m-80.5 5.7h0m35 0h0m7 0h0m21 0h0m7 0h0m-122.5 5.7h0m14 0h0m7 0h0m7 0h0m7 0h0m28 0h0m21 0h0m7 0h0m7 0h0m-101.5 5.6h0m21 0h0m14 0h0m28 0h0m14 0h0m7 0h0m-66.5 5.7h0m-66.5 5.6h0m21 0h0m14 0h0m14 0h0m-122.5 5.7h0m28 0h0m7 0h0m14 0h0m14 0h0m14 0h0m21 0h0m-136.5 5.7h0m21 0h0m7 0h0m7 0h0m21 0h0m14 0h0m21 0h0m7 0h0m14 0h0m7 0h0m7 0h0m14 0h0m-150.5 5.6h0m14 0h0m14 0h0m7 0h0m7 0h0m7 0h0m14 0h0m7 0h0m21 0h0m7 0h0m-122.5 5.7h0m28 0h0m14 0h0m7 0h0m7 0h0m7 0h0m14 0h0m-66.5 5.6h0m7 0h0m14 0h0m7 0h0m-66.5 5.7h0m7 0h0m357 0h0m-213.5 5.7h0m196 0h0m-346.5 5.6h0m143.5 17h0m154 11.3h0m-112 34h0m59.5 5.6h0m-56 22.7h0m-66.5 5.6h0m-21 11.4h0m108.5 5.6h0m-105 45.3h0m-31.5 5.7h0m70 0h0m-101.5 16.9h0m-3.5 39.7h0m66.5 39.6h0" stroke="#AAEC5E" stroke-width="6.0"/>
<path d="M0 0m629 200h0m-245 22.6h0m28 0h0m63 0h0m21 0h0m91 0h0m42 0h0m42 0h0m-290.5 5.7h0m17.5 5.7h0m63 0h0m21 0h0m154 0h0m-234.5 5.6h0m7 0h0m259 0h0m-339.5 5.7h0m70 0h0m84 0h0m28 0h0m126 0h0m-332.5 5.6h0m98 0h0m77 0h0m168 0h0m-276.5 5.7h0m231 0h0m-143.5 5.7h0m21 0h0m98 0h0m-269.5 5.6h0m42 0h0m63 0h0m49 0h0m14 0h0m21 0h0m7 0h0m-185.5 5.7h0m21 0h0m35 0h0m14 0h0m35 0h0m-17.5 5.6h0m49 0h0m21 0h0m-108.5 5.7h0m7 0h0m42 0h0m7 0h0m21 0h0m196 0h0m14 0h0m7 0h0m7 0h0m-45.5 5.7h0m7 0h0m14 0h0m7 0h0m7 0h0m7 0h0m7 0h0m-360.5 5.6h0m63 0h0m238 0h0m7 0h0m7 0h0m7 0h0m7 0h0m14 0h0m14 0h0m7 0h0m7 0h0m-304.5 5.7h0m224 0h0m14 0h0m7 0h0m14 0h0m7 0h0m14 0h0m7 0h0m7 0h0m14 0h0m-290.5 5.6h0m91 0h0m112 0h0m7 0h0m7 0h0m7 0h0m7 0h0m14 0h0m7 0h0m7 0h0m7 0h0m7 0h0m14 0h0m-353.5 5.7h0m42 0h0m42 0h0m105 0h0m70 0h0m7 0h0m7 0h0m7 0h0m7 0h0m7 0h0m7 0h0m14 0h0m7 0h0m7 0h0m7 0h0m7 0h0m7 0h0m-290.5 5.7h0m14 0h0m7 0h0m14 0h0m98 0h0m63 0h0m7 0h0m7 0h0m14 0h0m7 0h0m14 0h0m7 0h0m14 0h0m7 0h0m7 0h0m14 0h0m7 0h0m-171.5 5.6h0m63 0h0m7 0h0m7 0h0m7 0h0m7 0h0m7 0h0m21 0h0m7 0h0m7 0h0m7 0h0m7 0h0m7 0h0m7 0h0m7 0h0m-241.5 5.7h0m63 0h0m70 0h0m14 0h0m7 0h0m7 0h0m7 0h0m14 0h0m7 0h0m28 0h0m7 0h0m14 0h0m7 0h0m-374.5 5.6h0m21 0h0m77 0h0m154 0h0m14 0h0m7 0h0m14 0h0m7 0h0m7 0h0m7 0h0m14 0h0m14 0h0m21 0h0m7 0h0m7 0h0m-297.5 5.7h0m105 0h0m70 0h0m7 0h0m21 0h0m7 0h0m7 0h0m7 0h0m7 0h0m7 0h0m7 0h0m7 0h0m21 0h0m7 0h0m7 0h0m7 0h0m-192.5 5.7h0m84 0h0m7 0h0m14 0h0m7 0h0m7 0h0m7 0h0m7 0h0m7 0h0m21 0h0m7 0h0m7 0h0m21 0h0m-276.5 5.6h0m42 0h0m98 0h0m28 0h0m7 0h0m7 0h0m7 0h0m7 0h0m7 0h0m7 0h0m7 0h0m14 0h0m7 0h0m14 0h0m7 0h0m14 0h0m-374.5 5.7h0m105 0h0m63 0h0m7 0h0m77 0h0m14 0h0m7 0h0m14 0h0m7 0h0m7 0h0m14 0h0m7 0h0m7 0h0m14 0h0m7 0h0m7 0h0m7 0h0m7 0h0m7 0h0m-129.5 5.6h0m7 0h0m7 0h0m14 0h0m7 0h0m7 0h0m7 0h0m14 0h0m7 0h0m7 0h0m7 0h0m14 0h0m7 0h0m7 0h0m-276.5 5.7h0m154 0h0m7 0h0m7 0h0m7 0h0m14 0h0m14 0h0m7 0h0m7 0h0m7 0h0m7 0h0m28 0h0m28 0h0m-346.5 5.7h0m49 0h0m175 0h0m7 0h0m21 0h0m7 0h0m7 0h0m7 0h0m14 0h0m7 0h0m7 0h0m7 0h0m7 0h0m14 0h0m7 0h0m14 0h0m-311.5 5.6h0m133 0h0m14 0h0m21 0h0m7 0h0m14 0h0m7 0h0m7 0h0m28 0h0m7 0h0m21 0h0m7 0h0m14 0h0m21 0h0m7 0h0m14 0h0m-360.5 5.7h0m7 0h0m21 0h0m49 0h0m49 0h0m91 0h0m14 0h0m7 0h0m28 0h0m7 0h0m14 0h0m14 0h0m14 0h0m14 0h0m7 0h0m7 0h0m7 0h0m-346.5 5.6h0m105 0h0m77 0h0m14 0h0m7 0h0m7 0h0m7 0h0m7 0h0m14 0h0m7 0h0m7 0h0m7 0h0m14 0h0m14 0h0m7 0h0m7 0h0m7 0h0m7 0h0m7 0h0m7 0h0m14 0h0m-325.5 5.7h0m42 0h0m56 0h0m14 0h0m42 0h0m21 0h0m7 0h0m14 0h0m7 0h0m7 0h0m7 0h0m7 0h0m7 0h0m7 0h0m7 0h0m7 0h0m7 0h0m21 0h0m14 0h0m7 0h0m7 0h0m7 0h0m-276.5 5.7h0m77 0h0m56 0h0m28 0h0m7 0h0m7 0h0m7 0h0m7 0h0m21 0h0m7 0h0m7 0h0m7 0h0m7 0h0m7 0h0m14 0h0m7 0h0m7 0h0m-220.5 5.6h0m14 0h0m63 0h0m7 0h0m7 0h0m7 0h0m7 0h0m7 0h0m7 0h0m7 0h0m7 0h0m7 0h0m7 0h0m7 0h0m7 0h0m21 0h0m7 0h0m14 0h0m7 0h0m-157.5 5.7h0m28 0h0m7 0h0m7 0h0m7 0h0m14 0h0m28 0h0m7 0h0m14 0h0m7 0h0m21 0h0m7 0h0m7 0h0m7 0h0m-269.5 5.6h0m35 0h0m21 0h0m77 0h0m7 0h0m7 0h0m7 0h0m7 0h0m7 0h0m7 0h0m7 0h0m21 0h0m7 0h0m21 0h0m14 0h0m7 0h0m14 0h0m-157.5 5.7h0m14 0h0m7 0h0m14 0h0m7 0h0m7 0h0m7 0h0m7 0h0m7 0h0m7 0h0m7 0h0m7 0h0m7 0h0m7 0h0m7 0h0m7 0h0m7 0h0m14 0h0m7 0h0m7 0h0m-234.5 5.7h0m98 0h0m7 0h0m7 0h0m7 0h0m7 0h0m7 0h0m7 0h0m14 0h0m7 0h0m7 0h0m7 0h0m21 0h0m21 0h0m7 0h0m7 0h0m7 0h0m-220.5 5.6h0m84 0h0m14 0h0m7 0h0m14 0h0m14 0h0m7 0h0m7 0h0m14 0h0m7 0h0m7 0h0m7 0h0m7 0h0m14 0h0m14 0h0m-304.5 5.7h0m168 0h0m14 0h0m7 0h0m14 0h0m7 0h0m7 0h0m7 0h0m14 0h0m14 0h0m7 0h0m21 0h0m7 0h0m7 0h0m7 0h0m-199.5 5.6h0m35 0h0m14 0h0m7 0h0m7 0h0m7 0h0m7 0h0m7 0h0m7 0h0m7 0h0m7 0h0m7 0h0m21 0h0m14 0h0m7 0h0m7 0h0m7 0h0m7 0h0m14 0h0m-269.5 5.7h0m77 0h0m77 0h0m7 0h0m7 0h0m7 0h0m7 0h0m7 0h0m7 0h0m7 0h0m7 0h0m7 0h0m7 0h0m7 0h0m7 0h0m14 0h0m7 0h0m7 0h0m-115.5 5.7h0m7 0h0m35 0h0m7 0h0m14 0h0m7 0h0m7 0h0m7 0h0m14 0h0m7 0h0m-136.5 5.6h0m28 0h0m7 0h0m14 0h0m7 0h0m7 0h0m7 0h0m14 0h0m7 0h0m7 0h0m7 0h0m7 0h0m7 0h0m-248.5 5.7h0m175 0h0m7 0h0m14 0h0m7 0h0m14 0h0m14 0h0m7 0h0m7 0h0m-220.5 5.6h0m140 0h0m7 0h0m7 0h0m7 0h0m14 0h0m7 0h0m7 0h0m7 0h0m7 0h0m-227.5 5.7h0m63 0h0m28 0h0m77 0h0m7 0h0m7 0h0m14 0h0m7 0h0m7 0h0m-192.5 5.7h0m161 0h0m7 0h0m7 0h0m-14 11.3h0m-189 11.3h0m28 0h0m35 0h0m0 11.3h0m17.5 5.7h0m-52.5 5.6h0" stroke="#F6CBEA" stroke-width="6.0"/>
<path d="M0 0m527.5 183h0m49 0h0m-101.5 5.7h0m-42 33.9h0m112 34h0m10.5 17h0m112 0h0m-133 22.6h0m-217 11.3h0m154 68h0m63 0h0m-140 11.3h0m56 113.2h0" stroke="#B47CD0" stroke-width="6.0"/>
<path d="M0 0m622 200h0m-150.5 28.3h0m-115.5 17h0m94.5 17h0m-56 22.6h0m112 0h0m-59.5 5.7h0m-52.5 5.6h0m42 22.7h0m31.5 16.9h0m87.5 17h0m-241.5 17h0m66.5 17h0m3.5 5.6h0m140 0h0m-52.5 5.7h0m7 0h0" stroke="#A4D6E6" stroke-width="6.0"/>
</g>
<path d="M9.9,225.2L247,161L355.5,570L118.5,634.3Z" fill="#FCF8FA"/>
<g fill="none" stroke-linecap="round">
<path d="M14,229L66,215M17,236L60,224.5" stroke="#c6bfc9" stroke-width="5.4" stroke-dasharray="0 9.6"/>
<path d="M14,229L66,215M17,236L60,224.5" stroke="#F4EEF3" stroke-width="2.6" stroke-dasharray="0 9.6"/>
</g>
<path d="M43.2,268.4C43.5,263.5 45.8,254.1 46.9,251.1C48.1,248.1 51.1,244.1 53.1,242.5C55.1,240.9 62.2,239.4 64.2,237.5C66.2,235.7 69.2,229.2 70.4,226.4C71.5,223.7 70.8,216.7 74.1,214.1C77.4,211.5 93,206.2 98.8,204.2C104.5,202.2 117.7,198.5 123.5,196.8C129.2,195.1 142.4,191.1 148.1,189.4C153.9,187.7 167.1,183.7 172.8,182C178.6,180.2 190.9,176.4 197.5,174.6C204.2,172.8 225.5,167.2 229.6,166.7C233.8,166.1 232.8,167 233.3,169.6C233.9,172.3 233.8,184.2 234.6,189.4C235.3,194.6 238.1,208.3 239.5,214.1C240.9,219.8 244.9,233 246.9,238.8C248.9,244.5 254.8,258.8 256.8,263.5C258.8,268.1 263,274.2 264.2,278.3C265.3,282.3 265.8,292.8 266.7,298C267.5,303.2 270.5,318.1 271.6,322.7C272.8,327.3 275.7,332.9 276.5,337.5C277.4,342.1 278.1,356.5 279,362.2C279.9,368 283.1,384.8 284,386.9C284.8,389 285,377.9 286.4,380C287.9,382.1 293.7,397.5 296.3,404.7C298.9,411.9 305.8,432.5 308.6,441.7C311.5,450.9 318.4,473.6 321,483.7C323.6,493.8 329.4,520.7 330.9,528.1C332.3,535.6 334.5,545.9 333.3,547.9C332.2,549.9 324.4,546 321,545.4C317.5,544.9 307.7,543.8 303.7,543C299.7,542.1 290.2,537.2 286.4,538C282.7,538.9 275.1,548.6 271.6,550.4C268.1,552.1 260.8,552.6 256.8,552.8C252.8,553.1 241.1,553.4 237,552.8C233,552.3 226,547.9 222.2,547.9C218.5,547.9 207.5,552.8 204.9,552.8C202.3,552.8 201.2,550.8 200,547.9C198.8,545 196.5,532.8 195.1,528.1C193.6,523.5 190.2,511.6 187.7,508.4C185.1,505.2 176.3,503.3 172.8,501C169.4,498.7 160.9,491.2 158,488.6C155.1,486 150.5,480.8 148.1,478.8C145.8,476.7 141.2,473.4 138.3,471.4C135.4,469.3 125.8,464.1 123.5,461.5C121.2,458.9 119.4,452.9 118.5,449.1C117.7,445.4 117.2,430.5 116,429.4C114.9,428.2 110.7,438.3 108.6,439.3C106.6,440.3 101.1,439.2 98.8,438C96.5,436.9 91.2,431.5 88.9,429.4C86.6,427.2 80.7,422.4 79,419.5C77.3,416.6 74.9,408.1 74.1,404.7C73.2,401.2 73,392 71.6,389.9C70.2,387.8 63.7,388.4 61.7,386.9C59.7,385.4 55.5,379.9 54.3,377C53.2,374.2 52.7,366.8 51.9,362.2C51,357.6 47.9,343.3 46.9,337.5C45.9,331.8 43.5,318 43.2,312.8C42.9,307.7 44.4,298.3 44.4,293.1C44.4,287.9 42.9,273.3 43.2,268.4Z" fill="#B058B2" filter="url(#ta)"/>
<g fill="none" stroke-linecap="round">
<path d="M0 0m234.1 183.8h0m-17.3 1h0m6.4 1.9h0m-17.3 1h0m23.7 0.9h0m-17.4 1.1h0m6.4 1.9h0m-17.3 1h0m23.7 0.9h0m-41 0.1h0m23.7 0.9h0m23.7 0.9h0m-41 0.1h0m23.7 0.9h0m-41 0.1h0m23.7 0.9h0m-17.4 1h0m41-0.1h0m-17.3 1.1h0m-17.3 1h0m41-0.1h0m-58.3 1.1h0m41-0.1h0m-17.3 1h0m41-0.1h0m-58.3 1.1h0m41-0.1h0m-58.3 1.1h0m41-0.1h0m-17.3 1h0m40.9-0.1h0m-58.3 1.1h0m41-0.1h0m-17.3 1h0m41-0.1h0m-58.3 1.1h0m41-0.1h0m-58.3 1.2h0m41-0.2h0m41-0.1h0m-58.3 1.2h0m41-0.2h0m-58.3 1.2h0m23.7 0.9h0m-17.3 1h0m40.9-0.1h0m-58.2 1.1h0m40.9-0.1h0m41-0.1h0m-58.3 1.1h0m41-0.1h0m-58.3 1.1h0m41-0.1h0m41-0.1h0m-58.3 1.1h0m41-0.1h0m-58.3 1.1h0m41-0.1h0m-58.3 1.1h0m82-0.2h0m-99.3 1.3h0m41-0.2h0m41-0.1h0m-58.3 1.2h0m41-0.2h0m40.9-0.1h0m-99.2 1.3h0m40.9-0.1h0m41-0.1h0m23.7 0.9h0m-122.9 0.3h0m40.9-0.1h0m41-0.1h0m23.7 0.9h0m-123 0.3h0m41-0.1h0m41-0.1h0m23.7 0.9h0m-82 0.2h0m41-0.1h0m23.7 0.9h0m41-0.1h0m-123 0.3h0m41-0.1h0m64.7 0.8h0m-82 0.2h0m41-0.1h0m23.7 0.9h0m41-0.1h0m-123 0.3h0m41-0.1h0m23.7 0.9h0m40.9-0.1h0m-122.9 0.3h0m41-0.1h0m23.7 0.9h0m40.9-0.1h0m41-0.1h0m-122.9 0.4h0m23.6 0.9h0m41-0.2h0m41-0.1h0m-122.9 0.4h0m23.6 0.9h0m41-0.1h0m41-0.2h0m-123 0.4h0m23.7 0.9h0m41-0.1h0m41-0.1h0m41-0.2h0m-140.3 1.4h0m41-0.1h0m41-0.1h0m41-0.1h0m-99.3 1.2h0m41-0.1h0m41-0.1h0m41-0.1h0m-140.3 1.3h0m41-0.1h0m41-0.1h0m41-0.1h0m-140.3 1.3h0m41-0.1h0m41-0.1h0m41-0.1h0m40.9-0.1h0m-140.2 1.3h0m41-0.1h0m40.9-0.1h0m41-0.1h0m-140.2 1.3h0m40.9-0.1h0m41-0.1h0m41-0.1h0m-140.2 1.4h0m40.9-0.2h0m41-0.1h0m41-0.1h0m41-0.1h0m-140.3 1.4h0m41-0.2h0m41-0.1h0m41-0.1h0m-140.3 1.4h0m41-0.1h0m41-0.2h0m41-0.1h0m41-0.1h0m-181.3 1.5h0m41-0.1h0m41-0.1h0m41-0.2h0m41-0.1h0m-99.3 1.3h0m41-0.1h0m41-0.2h0m40.9-0.1h0m-140.2 1.4h0m41-0.1h0m41-0.1h0m40.9-0.1h0m-140.2 1.3h0m41-0.1h0m40.9-0.1h0m41-0.1h0m-140.2 1.3h0m41-0.1h0m40.9-0.1h0m41-0.1h0m41-0.1h0m-181.2 1.4h0m40.9-0.1h0m41-0.1h0m41-0.1h0m41-0.1h0m-140.3 1.3h0m41-0.1h0m41-0.1h0m41-0.1h0m41-0.1h0m-181.3 1.4h0m41-0.1h0m41-0.1h0m41-0.1h0m41-0.1h0m23.7 0.9h0m-164 0.4h0m41-0.1h0m41-0.1h0m41-0.1h0m-99.3 1.2h0m41-0.1h0m41-0.1h0m41-0.1h0m-140.3 1.4h0m41-0.1h0m41-0.2h0m40.9-0.1h0m23.7 0.9h0m-163.9 0.5h0m41-0.1h0m41-0.1h0m40.9-0.2h0m23.7 0.9h0m-163.9 0.5h0m41-0.1h0m40.9-0.1h0m41-0.1h0m23.7 0.9h0m41-0.2h0m-164 0.5h0m41-0.1h0m41-0.1h0m23.7 0.9h0m41-0.1h0m-164 0.4h0m41-0.1h0m41-0.1h0m23.7 0.9h0m41-0.1h0m41-0.1h0m-164 0.4h0m41-0.1h0m23.7 0.9h0m41-0.1h0m41-0.1h0m-164 0.4h0m41-0.1h0m64.7 0.8h0m41-0.1h0m40.9-0.1h0m-204.9 0.5h0m41-0.1h0m41-0.1h0m23.7 0.9h0m41-0.1h0m40.9-0.1h0m-163.9 0.4h0m41-0.1h0m23.7 0.9h0m40.9-0.1h0m41-0.1h0m-163.9 0.5h0m41-0.2h0m23.6 0.9h0m41-0.1h0m41-0.1h0m41-0.1h0m-163.9 0.5h0m23.6 0.9h0m41-0.2h0m41-0.1h0m41-0.1h0m-163.9 0.5h0m23.6 0.9h0m41-0.1h0m41-0.2h0m41-0.1h0m41-0.1h0m-205 0.6h0m23.7 0.9h0m41-0.1h0m41-0.1h0m41-0.2h0m41-0.1h0m-181.3 1.5h0m41-0.1h0m41-0.1h0m41-0.1h0m41-0.2h0m41-0.1h0m-181.3 1.5h0m41-0.1h0m41-0.1h0m41-0.1h0m41-0.1h0m-181.3 1.4h0m41-0.1h0m41-0.1h0m41-0.1h0m-99.3 1.2h0m41-0.1h0m40.9-0.1h0m41-0.1h0m41-0.1h0m-181.2 1.4h0m41-0.1h0m40.9-0.1h0m41-0.1h0m41-0.1h0m-181.2 1.4h0m40.9-0.1h0m41-0.1h0m41-0.1h0m41-0.1h0m41-0.1h0m-181.3 1.4h0m41-0.1h0m41-0.1h0m41-0.1h0m41-0.1h0m-181.3 1.5h0m41-0.2h0m41-0.1h0m41-0.1h0m41-0.1h0m41-0.1h0m-181.3 1.5h0m41-0.2h0m41-0.1h0m41-0.1h0m41-0.1h0m-181.3 1.5h0m41-0.1h0m41-0.1h0m41-0.2h0m41-0.1h0m-140.3 1.4h0m41-0.1h0m41-0.1h0m40.9-0.2h0m-140.2 1.4h0m41-0.1h0m41-0.1h0m40.9-0.1h0m41-0.2h0m-181.2 1.5h0m41-0.1h0m40.9-0.1h0m41-0.1h0m41-0.1h0m41-0.2h0m-181.2 1.5h0m40.9-0.1h0m41-0.1h0m41-0.1h0m41-0.1h0m23.7 0.9h0m-205 0.5h0m41-0.1h0m41-0.1h0m41-0.1h0m41-0.1h0m23.7 0.9h0m-123 0.3h0m41-0.1h0m41-0.1h0m23.7 0.9h0m-164 0.4h0m41-0.1h0m41-0.1h0m41-0.1h0m64.6 0.8h0m-163.9 0.4h0m41-0.1h0m41-0.1h0m41-0.1h0m23.6 0.9h0m-163.9 0.5h0m41-0.2h0m41-0.1h0m41-0.1h0m23.6 0.9h0m41-0.1h0m-204.9 0.6h0m41-0.1h0m41-0.2h0m40.9-0.1h0m23.7 0.9h0m41-0.1h0m-163.9 0.5h0m40.9-0.1h0m41-0.2h0m23.7 0.9h0m41-0.1h0m41-0.1h0m-204.9 0.6h0m81.9-0.2h0m23.7 0.9h0m41-0.2h0m41-0.1h0m-164 0.5h0m41-0.1h0m23.7 0.9h0m41-0.1h0m41-0.2h0m-123 0.4h0m23.7 0.9h0m41-0.1h0m41-0.1h0m41-0.1h0m-205 0.5h0m146.7 0.6h0m41-0.1h0m-164 0.4h0m41-0.1h0m23.7 0.9h0m41-0.1h0m40.9-0.1h0m41-0.1h0m-204.9 0.5h0m41-0.1h0m23.7 0.9h0m40.9-0.1h0m82-0.2h0m-140.2 1.3h0m40.9-0.1h0m41-0.1h0m41-0.1h0m41-0.1h0m-204.9 0.5h0m23.6 0.9h0m41-0.1h0m41-0.1h0m41-0.1h0m41-0.1h0m-181.3 1.5h0m41-0.2h0m41-0.1h0m41-0.1h0m41-0.1h0m-181.3 1.5h0m41-0.1h0m41-0.2h0m41-0.1h0m82-0.2h0m-181.3 1.5h0m41-0.1h0m41-0.1h0m41-0.2h0m41-0.1h0m-181.3 1.5h0m41-0.1h0m41-0.1h0m41-0.1h0m41-0.2h0m40.9-0.1h0m-181.2 1.5h0m82-0.2h0m40.9-0.1h0m41-0.2h0m-181.2 1.5h0m41-0.1h0m41-0.1h0m40.9-0.1h0m82-0.3h0m-181.2 1.5h0m81.9-0.2h0m41-0.1h0m41-0.1h0m-181.2 1.4h0m40.9-0.1h0m41-0.1h0m41-0.1h0m41-0.1h0m-181.3 1.4h0m41-0.1h0m41-0.1h0m41-0.1h0m41-0.1h0m41-0.1h0m-140.3 1.3h0m41-0.1h0m41-0.1h0m41-0.1h0m-181.3 1.5h0m41-0.2h0m41-0.1h0m41-0.1h0m41-0.1h0m41-0.1h0m-181.3 1.5h0m41-0.2h0m41-0.1h0m41-0.1h0m-140.3 1.4h0m41-0.1h0m41-0.2h0m41-0.1h0m40.9-0.1h0m41-0.1h0m-222.2 1.6h0m41-0.1h0m41-0.1h0m40.9-0.2h0m41-0.1h0m41-0.1h0m-181.2 1.5h0m41-0.1h0m40.9-0.1h0m41-0.2h0m41-0.1h0m23.7 0.9h0m-164 0.5h0m41-0.1h0m41-0.1h0m41-0.2h0m23.7 0.9h0m-164 0.5h0m41-0.1h0m41-0.1h0m41-0.1h0m23.7 0.9h0m41-0.1h0m-205 0.5h0m41-0.1h0m41-0.1h0m41-0.1h0m23.7 0.9h0m41-0.1h0m-164 0.4h0m41-0.1h0m41-0.1h0m23.7 0.9h0m41-0.1h0m40.9-0.1h0m-204.9 0.5h0m41-0.1h0m41-0.1h0m64.6 0.8h0m41-0.1h0m-204.9 0.5h0m41-0.1h0m41-0.1h0m41-0.1h0m23.6 0.9h0m41-0.1h0m-163.9 0.4h0m41-0.1h0m41-0.1h0m23.6 0.9h0m41-0.1h0m41-0.1h0m-204.9 0.6h0m41-0.2h0m40.9-0.1h0m23.7 0.9h0m41-0.1h0m41-0.1h0m-164 0.5h0m41-0.2h0m23.7 0.9h0m41-0.1h0m41-0.1h0m41-0.1h0m-205 0.6h0m41-0.1h0m23.7 0.9h0m41-0.1h0m41-0.2h0m41-0.1h0m-140.3 1.4h0m41-0.1h0m41-0.1h0m41-0.2h0m41-0.1h0m-205 0.6h0m23.7 0.9h0m41-0.1h0m41-0.1h0m41-0.1h0m40.9-0.2h0m-204.9 0.6h0m64.7 0.8h0m41-0.1h0m40.9-0.1h0m41-0.1h0m-163.9 0.4h0m23.7 0.9h0m41-0.1h0m40.9-0.1h0m41-0.1h0m41-0.1h0m-204.9 0.5h0m23.7 0.9h0m40.9-0.1h0m41-0.1h0m41-0.1h0m41-0.1h0m-181.2 1.4h0m40.9-0.1h0m41-0.1h0m41-0.1h0m41-0.1h0m41-0.1h0m-181.3 1.4h0m41-0.1h0m41-0.1h0m41-0.1h0m-140.3 1.4h0m41-0.2h0m41-0.1h0m41-0.1h0m41-0.1h0m41-0.1h0m-222.3 1.6h0m41-0.1h0m41-0.2h0m41-0.1h0m41-0.1h0m41-0.1h0m-181.3 1.5h0m41-0.1h0m41-0.2h0m41-0.1h0m40.9-0.1h0m-181.2 1.5h0m41-0.1h0m41-0.1h0m41-0.2h0m40.9-0.1h0m41-0.1h0m-181.2 1.5h0m41-0.1h0m40.9-0.1h0m41-0.2h0m41-0.1h0m-181.2 1.5h0m41-0.1h0m40.9-0.1h0m41-0.1h0m41-0.2h0m41-0.1h0m-181.3 1.5h0m123-0.3h0m41-0.1h0m-181.3 1.4h0m41-0.1h0m41-0.1h0m41-0.1h0m41-0.1h0m41-0.1h0m-222.3 1.5h0m41-0.1h0m82-0.2h0m41-0.1h0m41-0.1h0m-181.3 1.4h0m41-0.1h0m41-0.1h0m41-0.1h0m41-0.1h0m23.6 0.9h0m-204.9 0.5h0m41-0.1h0m41-0.1h0m41-0.1h0m41-0.1h0m23.6 0.9h0m-163.9 0.4h0m82-0.2h0m40.9-0.1h0m64.7 0.8h0m-204.9 0.6h0m41-0.2h0m41-0.1h0m40.9-0.1h0m41-0.1h0m23.7 0.9h0m-163.9 0.5h0m81.9-0.3h0m41-0.1h0m23.7 0.9h0m41-0.1h0m-205 0.6h0m41-0.1h0m41-0.1h0m41-0.2h0m23.7 0.9h0m41-0.1h0m-205 0.6h0m41-0.1h0m82-0.2h0m64.7 0.7h0m-164 0.5h0m82-0.2h0m23.7 0.9h0m41-0.1h0m41-0.2h0m-205 0.6h0m82-0.2h0m23.7 0.9h0m41-0.1h0m40.9-0.1h0m-163.9 0.4h0m64.7 0.8h0m41-0.1h0m40.9-0.1h0m41-0.1h0m-204.9 0.5h0m41-0.1h0m64.6 0.8h0m41-0.1h0m41-0.1h0m-204.9 0.5h0m41-0.1h0m41-0.1h0m23.6 0.9h0m41-0.1h0m41-0.1h0m-163.9 0.4h0m40.9-0.1h0m64.7 0.8h0m41-0.1h0m41-0.1h0m-204.9 0.5h0m40.9-0.1h0m23.7 0.9h0m41-0.1h0m41-0.1h0m41-0.1h0m-164 0.5h0m23.7 0.9h0m41-0.2h0m41-0.1h0m41-0.1h0m41-0.1h0m-181.3 1.5h0m41-0.1h0m41-0.2h0m41-0.1h0m41-0.1h0m-181.3 1.5h0m41-0.1h0m41-0.1h0m41-0.2h0m40.9-0.1h0m41-0.1h0m-222.2 1.6h0m41-0.1h0m41-0.1h0m41-0.1h0m40.9-0.2h0m41-0.1h0m-181.2 1.5h0m41-0.1h0m40.9-0.1h0m41-0.1h0m41-0.2h0m-140.2 1.4h0m40.9-0.1h0m41-0.1h0m41-0.1h0m41-0.1h0m-181.3 1.4h0m41-0.1h0m41-0.1h0m41-0.1h0m41-0.1h0m-181.3 1.4h0m41-0.1h0m82-0.2h0m41-0.1h0m41-0.1h0m-181.3 1.4h0m41-0.1h0m41-0.1h0m41-0.1h0m41-0.1h0m-181.3 1.4h0m41-0.1h0m41-0.1h0m41-0.1h0m81.9-0.2h0m-222.2 1.6h0m41-0.2h0m41-0.1h0m41-0.1h0m41-0.1h0m40.9-0.1h0m-181.2 1.5h0m41-0.2h0m41-0.1h0m40.9-0.1h0m41-0.1h0m-181.2 1.5h0m41-0.1h0m41-0.2h0m40.9-0.1h0m41-0.1h0m41-0.1h0m-181.2 1.5h0m40.9-0.1h0m41-0.1h0m41-0.2h0m41-0.1h0m-181.3 1.5h0m41-0.1h0m41-0.1h0m41-0.1h0m41-0.2h0m41-0.1h0m-181.3 1.5h0m41-0.1h0m41-0.1h0m41-0.1h0m41-0.2h0m23.7 0.9h0m-205 0.6h0m41-0.1h0m41-0.1h0m41-0.1h0m41-0.1h0m23.7 0.9h0m-205 0.5h0m41-0.1h0m41-0.1h0m41-0.1h0m41-0.1h0m23.6 0.9h0m-163.9 0.4h0m41-0.1h0m41-0.1h0m41-0.1h0m23.6 0.9h0m41-0.1h0m-204.9 0.5h0m41-0.1h0m41-0.1h0m41-0.1h0m23.6 0.9h0m41-0.1h0m-163.9 0.4h0m41-0.1h0m40.9-0.1h0m64.7 0.8h0m41-0.1h0m-204.9 0.6h0m81.9-0.3h0m41-0.1h0m23.7 0.9h0m41-0.1h0m-164 0.5h0m41-0.2h0m41-0.1h0m23.7 0.9h0m41-0.1h0m41-0.1h0m-205 0.6h0m82-0.3h0m23.7 0.9h0m41-0.1h0m41-0.1h0m-205 0.6h0m41-0.1h0m41-0.1h0m23.7 0.9h0m41-0.2h0m41-0.1h0m-164 0.5h0m41-0.1h0m23.7 0.9h0m41-0.1h0m81.9-0.3h0m-204.9 0.6h0m41-0.1h0m23.7 0.9h0m41-0.1h0m40.9-0.1h0m41-0.2h0m-163.9 0.5h0m23.7 0.9h0m40.9-0.1h0m41-0.1h0m41-0.1h0m41-0.1h0m-204.9 0.5h0m64.6 0.8h0m41-0.1h0m41-0.1h0m41-0.1h0m-163.9 0.4h0m64.6 0.8h0m82-0.2h0m41-0.1h0m-205 0.5h0m23.7 0.9h0m41-0.1h0m41-0.1h0m41-0.1h0m41-0.1h0m-205 0.5h0m64.7 0.8h0m41-0.1h0m41-0.1h0m41-0.1h0m-181.3 1.5h0m41-0.2h0m41-0.1h0m41-0.1h0m41-0.1h0m40.9-0.1h0m-181.2 1.5h0m41-0.2h0m41-0.1h0m41-0.1h0m40.9-0.1h0m-181.2 1.5h0m41-0.1h0m41-0.2h0m40.9-0.1h0m41-0.1h0m41-0.1h0m-181.2 1.5h0m41-0.1h0m40.9-0.1h0m41-0.2h0m41-0.1h0m-181.2 1.5h0m40.9-0.1h0m41-0.1h0m41-0.1h0m41-0.2h0m41-0.1h0m-181.3 1.5h0m41-0.1h0m41-0.1h0m41-0.1h0m41-0.2h0m-181.3 1.5h0m41-0.1h0m41-0.1h0m41-0.1h0m41-0.1h0m41-0.2h0m-222.3 1.6h0m41-0.1h0m41-0.1h0m41-0.1h0m41-0.1h0m41-0.1h0m-181.3 1.4h0m41-0.1h0m41-0.1h0m41-0.1h0m41-0.1h0m-181.3 1.4h0m41-0.1h0m82-0.2h0m40.9-0.1h0m41-0.1h0m-181.2 1.4h0m41-0.1h0m41-0.1h0m40.9-0.1h0m41-0.1h0m23.7 0.9h0m-204.9 0.6h0m41-0.2h0m40.9-0.1h0m41-0.1h0m41-0.1h0m-140.3 1.4h0m41-0.2h0m41-0.1h0m41-0.1h0m41-0.1h0m23.7 0.9h0m-205 0.6h0m41-0.1h0m41-0.2h0m41-0.1h0m41-0.1h0m23.7 0.9h0m-164 0.5h0m82-0.3h0m41-0.1h0m23.7 0.9h0m-123 0.4h0m41-0.1h0m41-0.2h0m23.7 0.9h0m40.9-0.1h0m-204.9 0.6h0m41-0.1h0m82-0.2h0m23.7 0.9h0m40.9-0.2h0m-163.9 0.5h0m41-0.1h0m41-0.1h0m23.6 0.9h0m41-0.1h0m41-0.1h0m-204.9 0.5h0m41-0.1h0m41-0.1h0m23.6 0.9h0m41-0.1h0m41-0.1h0m-163.9 0.4h0m40.9-0.1h0m64.7 0.8h0m41-0.1h0m-163.9 0.4h0m40.9-0.1h0m41-0.1h0m23.7 0.9h0m82-0.2h0m-164 0.4h0m41-0.1h0m23.7 0.9h0m41-0.1h0m41-0.1h0m-164 0.4h0m41-0.1h0m64.7 0.8h0m41-0.1h0m41-0.1h0m-205 0.6h0m41-0.2h0m23.7 0.9h0m41-0.1h0m41-0.1h0m41-0.1h0m-164 0.5h0m23.7 0.9h0m82-0.3h0m40.9-0.1h0m41-0.1h0m-204.9 0.6h0m23.7 0.9h0m41-0.1h0m40.9-0.1h0m41-0.2h0m41-0.1h0m-181.2 1.5h0m41-0.1h0m40.9-0.1h0m41-0.1h0m41-0.2h0m41-0.1h0m-140.3 1.4h0m41-0.1h0m41-0.1h0m41-0.2h0m-181.3 1.5h0m41-0.1h0m41-0.1h0m41-0.1h0m41-0.1h0m-181.3 1.4h0m41-0.1h0m82-0.2h0m41-0.1h0m41-0.1h0m-181.3 1.4h0m41-0.1h0m41-0.1h0m41-0.1h0m41-0.1h0m-181.3 1.4h0m41-0.1h0m41-0.1h0m82-0.2h0m40.9-0.1h0m-181.2 1.4h0m41-0.1h0m41-0.1h0m40.9-0.1h0m41-0.1h0m-181.2 1.5h0m41-0.2h0m41-0.1h0m40.9-0.1h0m41-0.1h0m41-0.1h0m-181.2 1.5h0m40.9-0.2h0m41-0.1h0m41-0.1h0m41-0.1h0m-181.2 1.5h0m40.9-0.1h0m82-0.3h0m41-0.1h0m-181.3 1.5h0m41-0.1h0m41-0.1h0m41-0.2h0m41-0.1h0m41-0.1h0m-181.3 1.5h0m41-0.1h0m41-0.1h0m41-0.2h0m41-0.1h0m-181.3 1.5h0m41-0.1h0m41-0.1h0m41-0.1h0m41-0.2h0m41-0.1h0m-181.3 1.5h0m41-0.1h0m41-0.1h0m41-0.1h0m40.9-0.2h0m23.7 1h0m-163.9 0.4h0m41-0.1h0m41-0.1h0m40.9-0.1h0m23.7 0.9h0m-163.9 0.4h0m41-0.1h0m40.9-0.1h0m41-0.1h0m23.7 0.9h0m-163.9 0.4h0m81.9-0.2h0m41-0.1h0m23.7 0.9h0m41-0.1h0m-123 0.3h0m41-0.1h0m64.7 0.8h0m-164 0.4h0m41-0.1h0m41-0.1h0m41-0.1h0m23.7 0.9h0m41-0.1h0m-205 0.6h0m41-0.2h0m41-0.1h0m41-0.1h0m64.7 0.8h0m-164 0.5h0m41-0.2h0m41-0.1h0m23.7 0.9h0m41-0.1h0m40.9-0.1h0m-204.9 0.6h0m41-0.1h0m41-0.2h0m23.7 1h0m40.9-0.2h0m41-0.1h0m-163.9 0.5h0m41-0.1h0m23.6 0.9h0m41-0.1h0m41-0.2h0m-163.9 0.5h0m41-0.1h0m64.6 0.8h0m41-0.1h0m41-0.2h0m-163.9 0.5h0m23.6 0.9h0m41-0.1h0m41-0.1h0m41-0.1h0m-164 0.4h0m64.7 0.8h0m41-0.1h0m41-0.1h0m41-0.1h0m-164 0.4h0m23.7 0.9h0m41-0.1h0m41-0.1h0m-99.3 1.2h0m41-0.1h0m41-0.1h0m41-0.1h0m41-0.1h0m-205 0.5h0m23.7 0.9h0m41-0.1h0m41-0.1h0m81.9-0.2h0m-181.2 1.5h0m41-0.2h0m41-0.1h0m40.9-0.1h0m41-0.1h0m-140.2 1.4h0m41-0.2h0m40.9-0.1h0m41-0.1h0m41-0.1h0m-181.2 1.5h0m40.9-0.1h0m41-0.2h0m41-0.1h0m41-0.1h0m-140.3 1.4h0m41-0.1h0m41-0.2h0m41-0.1h0m41-0.1h0m-140.3 1.4h0m41-0.1h0m41-0.2h0m41-0.1h0m-99.3 1.3h0m41-0.1h0m41-0.2h0m-140.3 1.4h0m82-0.2h0m41-0.1h0m41-0.2h0m-140.3 1.4h0m82-0.2h0m40.9-0.1h0m-140.2 1.3h0m41-0.1h0m41-0.1h0m40.9-0.1h0m41-0.1h0m-140.2 1.3h0m40.9-0.1h0m41-0.1h0m41-0.1h0m-140.2 1.3h0m81.9-0.2h0m41-0.1h0m41-0.1h0m-140.3 1.3h0m41-0.1h0m41-0.1h0m41-0.1h0m23.7 0.9h0m-164 0.4h0m82-0.2h0m41-0.1h0m-140.3 1.4h0m82-0.3h0m41-0.1h0m-99.3 1.3h0m82-0.3h0m41-0.1h0m23.6 0.9h0m-163.9 0.5h0m82-0.2h0m41-0.2h0m23.6 0.9h0m-122.9 0.4h0m41-0.1h0m40.9-0.1h0m23.7 0.9h0m41-0.2h0m-163.9 0.5h0m41-0.1h0m40.9-0.1h0m23.7 0.9h0m41-0.1h0m-123 0.3h0m41-0.1h0m64.7 0.8h0m41-0.1h0m-164 0.4h0m41-0.1h0m23.7 0.9h0m41-0.1h0m41-0.1h0m-164 0.4h0m41-0.1h0m64.7 0.8h0m41-0.1h0m-123 0.3h0m41-0.1h0m23.7 0.9h0m41-0.1h0m41-0.1h0m-164 0.4h0m41-0.1h0m23.7 0.9h0m41-0.1h0m40.9-0.1h0m-99.2 1.2h0m122.9-0.3h0m-163.9 0.5h0m23.7 0.9h0m40.9-0.2h0m41-0.1h0m41-0.1h0m-99.3 1.3h0m82-0.3h0m41-0.1h0m-140.3 1.4h0m41-0.1h0m41-0.2h0m41-0.1h0m-140.3 1.4h0m41-0.1h0m41-0.1h0m41-0.2h0m41-0.1h0m-181.3 1.5h0m41-0.1h0m41-0.1h0m41-0.1h0m41-0.1h0m-140.3 1.3h0m41-0.1h0m41-0.1h0m41-0.1h0m-140.3 1.3h0m41-0.1h0m41-0.1h0m40.9-0.1h0m41-0.1h0m-140.2 1.3h0m41-0.1h0m40.9-0.1h0m41-0.1h0m-140.2 1.3h0m40.9-0.1h0m41-0.1h0m41-0.1h0m41-0.1h0m-140.3 1.3h0m41-0.1h0m41-0.1h0m-99.3 1.2h0m41-0.1h0m41-0.1h0m41-0.1h0m41-0.1h0m-140.3 1.3h0m41-0.1h0m41-0.1h0m-99.3 1.3h0m41-0.2h0m41-0.1h0m41-0.1h0m-99.3 1.3h0m82-0.3h0m-17.3 1.1h0m40.9-0.2h0m-17.3 1.1h0m-58.3 1.1h0m82-0.2h0m23.7 0.9h0m-164 0.4h0m41-0.1h0m105.7 0.7h0m-123 0.3h0m41-0.1h0m41-0.1h0m23.7 0.9h0m-123 0.3h0m41-0.1h0m41-0.1h0m-58.3 1.1h0m41-0.1h0m41-0.1h0m-99.3 1.2h0m41-0.1h0m41-0.1h0m23.6 0.9h0m41-0.1h0m-122.9 0.3h0m-17.3 1.1h0m41-0.2h0m23.6 0.9h0m82-0.2h0m-163.9 0.5h0m64.6 0.8h0m41-0.2h0m-58.3 1.2h0m41-0.1h0m41-0.2h0m-123 0.4h0m23.7 0.9h0m41-0.1h0m41-0.1h0m-58.3 1.1h0m82-0.2h0m-123 0.3h0m23.7 0.9h0m41-0.1h0m41-0.1h0m-99.3 1.2h0m41-0.1h0m81.9-0.2h0m-99.2 1.2h0m40.9-0.1h0m41-0.1h0m41-0.1h0m-140.3 1.3h0m41-0.1h0m-17.3 1h0m41-0.1h0m41-0.1h0m-99.3 1.2h0m123-0.3h0m-140.3 1.4h0m41-0.1h0m41-0.2h0m41-0.1h0m-99.3 1.3h0m41-0.1h0m41-0.2h0m41-0.1h0m-140.3 1.4h0m41-0.1h0m23.7 0.9h0m40.9-0.1h0m41-0.2h0m-140.2 1.4h0m81.9-0.2h0m-58.3 1.1h0m41-0.1h0m41-0.1h0m-17.3 1h0m41-0.1h0m-99.3 1.2h0m41-0.1h0m41-0.1h0m-17.3 1h0m41-0.1h0m-140.3 1.3h0m41-0.1h0m41-0.1h0m41-0.1h0m-99.3 1.2h0m41-0.1h0m-58.3 1.2h0m81.9-0.3h0m-17.3 1h0m41-0.1h0m-99.3 1.3h0m82-0.3h0m23.7 0.9h0m-82 0.3h0m41-0.1h0m23.7 0.9h0m41-0.1h0m-82 0.2h0m23.7 0.9h0m41-0.1h0m-82 0.2h0m23.7 0.9h0m41-0.1h0m-82 0.2h0m105.6 0.7h0m-81.9 0.2h0m23.7 0.9h0m40.9-0.1h0m-58.3 1.1h0m41-0.1h0m41-0.1h0m-99.3 1.2h0m41-0.1h0m41-0.1h0m-58.3 1.1h0m41-0.1h0m41-0.1h0m-99.3 1.3h0m41-0.2h0m41-0.1h0m-99.3 1.3h0m41-0.1h0m41-0.2h0m-58.3 1.2h0m41-0.1h0m41-0.2h0m-99.3 1.3h0m82-0.2h0m-99.3 1.2h0m41-0.1h0m40.9-0.1h0m41-0.1h0m-99.3 1.2h0m41-0.1h0m41-0.1h0m-99.3 1.2h0m41-0.1h0m41-0.1h0m41-0.1h0m-99.3 1.2h0m41-0.1h0m41-0.1h0m-99.3 1.2h0m41-0.1h0m41-0.1h0m-58.3 1.1h0m41-0.1h0m41-0.1h0m-99.3 1.2h0m82-0.2h0m-99.3 1.3h0m41-0.2h0m81.9-0.2h0m-58.3 1.1h0m41-0.1h0m-99.2 1.3h0m81.9-0.3h0m41-0.1h0m-99.3 1.3h0m41-0.1h0m41-0.2h0m-99.3 1.3h0m82-0.2h0m-17.3 1h0m41-0.1h0m-99.3 1.2h0m82-0.2h0m23.7 0.9h0m-123 0.3h0m82-0.2h0m-58.3 1.1h0m105.6 0.7h0m-122.9 0.3h0m81.9-0.2h0m23.7 0.9h0m-82 0.2h0m41-0.1h0m23.7 0.9h0m-82 0.2h0m41-0.1h0m23.7 0.9h0m41-0.1h0m-82 0.3h0m23.7 0.9h0m23.7 0.9h0m41-0.2h0m-123 0.4h0m23.7 0.9h0m41-0.1h0m-58.3 1.1h0m41-0.1h0m81.9-0.2h0m-99.2 1.2h0m81.9-0.2h0m-99.3 1.2h0m41-0.1h0m64.7 0.8h0m-99.3 1.2h0m-17.3 1h0m23.7 0.9h0m41-0.1h0m-58.3 1.2h0m47.3 1.8h0m-17.3 1h0m68.5 17.4h0" stroke="#504a58" stroke-width="6.55"/>
<path d="M0 0m201.3 192.6h0m12.8 3.8h0m-34.7 2h0m3.7 13.6h0m-21.9 5.8h0m77.4 4.7h0m-51.9 3h0m47.4 1.8h0m-82 0.2h0m25.5 7.7h0m53.7 3.7h0m-58.3 1.1h0m36.4 4.8h0m-75.6 2.1h0m41-0.1h0m-17.3 1h0m-17.3 1h0m12.8 3.9h0m1.8 6.7h0m47.3 1.8h0m12.8 3.8h0m8.2 8.7h0m-58.3 1.2h0m1.8 6.7h0m41-0.1h0m23.6 0.9h0m-69.2 4.1h0m41-0.2h0m23.7 0.9h0m-58.3 1.2h0m6.4 1.9h0m40.9-0.1h0m12.8 3.8h0m-92.9 3.2h0m41-0.1h0m-11 2.9h0m-34.6 2h0m1.8 6.8h0m47.4 1.8h0m-10.9 2.9h0m23.6 0.9h0m64.7 0.8h0m6.4 1.9h0m-34.6 2h0m-52 3.1h0m-17.3 1h0m23.7 0.9h0m82-0.2h0m6.4 1.9h0m-17.3 1h0m-17.4 1h0m-28.2 4h0m23.7 0.9h0m-17.3 1h0m23.7 0.9h0m-34.7 2h0m53.8 3.7h0m-75.6 2.2h0m47.3 1.8h0m-34.6 2h0m41-0.1h0m14.6 10.6h0m-31 15.5h0m-11 3h0m23.7 0.9h0m38.3 11.5h0m-17.3 1h0m6.3 1.9h0m23.7 0.9h0" stroke="#8FE0CB" stroke-width="6.0"/>
<path d="M0 0m234.1 183.8h0m-21.9 5.9h0m-57.4 26.2h0m64.7 0.8h0m-86.5 5.1h0m-34.7 2h0m47.4 1.8h0m-17.3 1h0m6.4 1.9h0m-34.6 2.1h0m6.3 1.9h0m-17.3 1h0m41-0.1h0m-17.3 1h0m-34.6 2h0m41-0.1h0m-17.3 1h0m-17.3 1h0m40.9-0.1h0m-17.3 1h0m-17.3 1.1h0m-17.3 1h0m41-0.1h0m-58.3 1.1h0m41-0.1h0m6.4 1.9h0m-17.3 1h0m-17.3 1h0m41-0.1h0m-58.3 1.1h0m40.9-0.1h0m-17.3 1h0m-17.3 1h0m41-0.1h0m-17.3 1h0m23.7 0.9h0m-17.3 1.1h0m-17.3 1h0m41-0.1h0m-58.3 1.1h0m64.6 0.8h0m-17.3 1h0m47.4 1.8h0m-99.3 1.2h0m41-0.1h0m41-0.1h0m64.7 0.8h0m40.9-0.1h0m-163.9 0.4h0m41-0.1h0m-17.3 1h0m6.3 2h0m23.7 0.9h0m-82 0.2h0m23.7 0.9h0m23.7 0.9h0m-17.3 1h0m41-0.1h0m-17.3 1h0m41-0.1h0m-17.3 1h0m-58.3 1.1h0m41-0.1h0m-58.3 1.1h0m6.3 2h0m41-0.2h0m41-0.1h0m-58.3 1.2h0m41-0.2h0m-17.3 1.1h0m-17.3 1h0m41-0.1h0m81.9-0.3h0m-140.2 1.4h0m41-0.1h0m-58.3 1.1h0m41-0.1h0m-17.3 1h0m40.9-0.1h0m-58.3 1.1h0m41-0.1h0m123-0.3h0m-110.2 4.1h0m-34.6 2.1h0m40.9-0.1h0m-58.2 1.1h0m47.3 1.8h0m-58.3 1.1h0m23.7 0.9h0m41-0.1h0m-58.3 1.1h0m64.7 0.8h0m-17.3 1h0m23.6 0.9h0m41-0.1h0m-58.3 1.1h0m41-0.1h0m-58.3 1.2h0m23.7 0.9h0m82-0.3h0m-140.3 1.4h0m41-0.1h0m-17.3 1h0m-17.3 1h0m41-0.1h0m-34.6 2h0m23.6 0.9h0m23.7 0.9h0m-58.3 1.2h0m41-0.2h0m6.4 2h0m64.6 0.7h0m-99.2 1.3h0m23.6 0.9h0m-17.3 1h0m41-0.1h0m-58.3 1.1h0m41-0.1h0m-17.3 1h0m82-0.2h0m-58.3 1.1h0m-58.3 1.1h0m41-0.1h0m-17.3 1h0m41-0.1h0m-58.3 1.2h0m81.9-0.3h0m-58.3 1.2h0m41-0.2h0m-17.3 1.1h0m23.7 0.9h0m-17.3 1h0m-41 0.1h0m23.7 0.9h0m-41 0.1h0m23.7 0.9h0m-17.3 1h0m23.7 0.9h0m40.9-0.1h0m-58.2 1.1h0m64.6 0.8h0m82-0.2h0m-99.3 1.2h0m-58.3 1.2h0m82-0.3h0m82-0.2h0m-140.3 1.4h0m82-0.3h0m-99.3 1.3h0m6.4 1.9h0m41-0.1h0m122.9-0.4h0m-116.6 2.3h0m30.1 2.8h0m41-0.1h0m-75.6 2.1h0m41-0.1h0m-58.3 1.2h0m187.6 0.4h0m-164 0.5h0m47.4 1.8h0m105.7 0.6h0m-123 0.4h0m64.7 0.8h0m-123 0.3h0m64.7 0.8h0m-99.3 1.2h0m41-0.1h0m41-0.1h0m23.6 0.9h0m-81.9 0.2h0m47.3 1.8h0m23.7 0.9h0m-58.3 1.2h0m41-0.1h0m82-0.3h0m-140.3 1.4h0m123-0.4h0m-140.3 1.4h0m82-0.2h0m23.6 0.9h0m-17.3 1h0m41-0.1h0m-99.3 1.2h0m41-0.1h0m41-0.1h0m-99.3 1.2h0m164-0.4h0m-140.3 1.3h0m41-0.1h0m-17.3 1h0m-58.3 1.2h0m41-0.2h0m41-0.1h0m-17.3 1h0m-58.3 1.2h0m82-0.3h0m-17.4 1.1h0m41-0.1h0m82-0.3h0m-181.3 1.5h0m41-0.1h0m82-0.2h0m-58.3 1.1h0m41-0.1h0m41-0.1h0m-140.3 1.3h0m41-0.1h0m41-0.1h0m105.7 0.7h0m-205 0.5h0m41-0.1h0m41-0.1h0m82-0.2h0m-99.3 1.2h0m41-0.1h0m-99.3 1.2h0m23.7 0.9h0m64.6 0.8h0m-58.3 1.2h0m88.4 1.6h0m82-0.2h0m-205 0.6h0m41-0.1h0m41-0.1h0m23.7 0.9h0m-82 0.2h0m41-0.1h0m-58.3 1.1h0m105.7 0.7h0m-58.3 1.1h0m40.9-0.1h0m41-0.1h0m-122.9 0.3h0m64.6 0.8h0m-40.9 0.1h0m64.6 0.8h0m-82 0.2h0m105.7 0.7h0m41-0.1h0m-164 0.4h0m105.7 0.7h0m-99.3 1.3h0m41-0.2h0m41-0.1h0m41-0.1h0m81.9-0.2h0m-181.2 1.5h0m41-0.2h0m41-0.1h0m41-0.1h0m-140.3 1.4h0m41-0.1h0m41-0.2h0m40.9-0.1h0m-99.2 1.3h0m41-0.1h0m23.6 0.9h0m-58.3 1.1h0m-17.3 1h0m123-0.3h0m82-0.3h0m-222.3 1.6h0m82-0.2h0m82-0.2h0m-140.3 1.3h0m41-0.1h0m-17.3 1h0m122.9-0.3h0m-140.2 1.3h0m41-0.1h0m81.9-0.2h0m23.7 0.9h0m-17.3 1h0m-140.3 1.4h0m41-0.1h0m82-0.3h0m64.7 0.8h0m-164 0.5h0m82-0.3h0m41-0.1h0m-99.3 1.3h0m82-0.3h0m23.7 0.9h0m-123 0.4h0m105.7 0.7h0m-123 0.3h0m41-0.1h0m64.6 0.8h0m41-0.1h0m-163.9 0.4h0m146.6 0.6h0m-122.9 0.3h0m-17.3 1h0m40.9-0.1h0m41-0.1h0m105.7 0.7h0m-164 0.4h0m64.7 0.8h0m41-0.1h0m-82 0.2h0m64.7 0.8h0m-123 0.4h0m64.7 0.7h0m82-0.2h0m-123 0.4h0m105.7 0.6h0m40.9-0.1h0m-163.9 0.5h0m146.6 0.5h0m-99.2 1.3h0m40.9-0.1h0m41-0.1h0m82-0.3h0m-58.3 1.2h0m41-0.2h0m-181.3 1.5h0m41-0.1h0m41-0.1h0m-99.3 1.2h0m123-0.3h0m41-0.1h0m41-0.1h0m-181.3 1.4h0m41-0.1h0m82-0.2h0m-140.3 1.3h0m41-0.1h0m41-0.1h0m122.9-0.3h0m-181.2 1.4h0m41-0.1h0m81.9-0.2h0m-99.2 1.2h0m41-0.1h0m122.9-0.3h0m-181.2 1.5h0m40.9-0.2h0m123-0.3h0m-181.2 1.5h0m40.9-0.1h0m82-0.3h0m41-0.1h0m23.7 0.9h0m-99.3 1.3h0m41-0.2h0m-58.3 1.2h0m123-0.4h0m-181.3 1.5h0m41-0.1h0m82-0.2h0m40.9-0.2h0m-140.2 1.4h0m41-0.1h0m105.6 0.7h0m-163.9 0.4h0m41-0.1h0m81.9-0.2h0m-140.2 1.3h0m81.9-0.2h0m41-0.1h0m64.7 0.8h0m-123 0.3h0m41-0.1h0m-99.3 1.2h0m41-0.1h0m41-0.1h0m41-0.1h0m64.7 0.8h0m-205 0.6h0m82-0.3h0m41-0.1h0m64.7 0.8h0m-164 0.5h0m41-0.2h0m64.7 0.8h0m41-0.1h0m40.9-0.1h0m-163.9 0.5h0m41-0.2h0m23.7 1h0m40.9-0.2h0m41-0.1h0m-122.9 0.4h0m23.6 0.9h0m41-0.1h0m41-0.2h0m-122.9 0.4h0m105.6 0.7h0m-122.9 0.3h0m23.6 0.9h0m123-0.3h0m-164 0.4h0m105.7 0.7h0m41-0.1h0m41-0.1h0m-164 0.4h0m23.7 0.9h0m41-0.1h0m41-0.1h0m-99.3 1.2h0m123-0.3h0m-164 0.4h0m64.7 0.8h0m122.9-0.3h0m-181.2 1.5h0m41-0.2h0m41-0.1h0m-17.3 1h0m40.9-0.1h0m41-0.1h0m41-0.1h0m-181.2 1.5h0m40.9-0.1h0m41-0.2h0m41-0.1h0m41-0.1h0m-140.3 1.4h0m82-0.3h0m82-0.2h0m-58.3 1.1h0m41-0.1h0m-157.6 2.4h0m82-0.2h0m64.6 0.8h0m-140.2 1.3h0m41-0.1h0m41-0.1h0m40.9-0.1h0m41-0.1h0m-140.2 1.3h0m40.9-0.1h0m41-0.1h0m41-0.1h0m-17.3 1h0m41-0.1h0m-140.3 1.3h0m41-0.1h0m41-0.1h0m41-0.1h0m23.7 0.9h0m-41 0.1h0m-58.3 1.1h0m41-0.1h0m-99.3 1.3h0m123-0.4h0m23.6 0.9h0m-81.9 0.3h0m-58.3 1.1h0m41-0.1h0m40.9-0.1h0m23.7 0.9h0m41-0.2h0m-122.9 0.4h0m64.6 0.8h0m-82 0.2h0m41-0.1h0m64.7 0.8h0m41-0.1h0m-123 0.3h0m23.7 0.9h0m41-0.1h0m41-0.1h0m-123 0.3h0m105.7 0.7h0m-82 0.2h0m23.7 0.9h0m82-0.2h0m-99.3 1.2h0m41-0.1h0m40.9-0.1h0m-99.2 1.2h0m122.9-0.3h0m-99.3 1.2h0m41-0.1h0m41-0.1h0m-99.3 1.3h0m123-0.4h0m-140.3 1.4h0m41-0.1h0m82-0.3h0m-140.3 1.4h0m41-0.1h0m41-0.1h0m41-0.2h0m41-0.1h0m-181.3 1.5h0m41-0.1h0m41-0.1h0m41-0.1h0m41-0.1h0m-140.3 1.3h0m41-0.1h0m41-0.1h0m41-0.1h0m-140.3 1.3h0m41-0.1h0m41-0.1h0m81.9-0.2h0m-99.2 1.2h0m40.9-0.1h0m41-0.1h0m-140.2 1.3h0m40.9-0.1h0m41-0.1h0m41-0.1h0m-99.3 1.2h0m41-0.1h0m41-0.1h0m64.7 0.8h0m-140.3 1.3h0m41-0.1h0m-58.3 1.2h0m82-0.3h0m41-0.1h0m-99.3 1.3h0m82-0.3h0m-52 3.1h0m-58.3 1.1h0m146.7 0.6h0m-82 0.2h0m-17.3 1h0m6.4 1.9h0m41-0.1h0m23.6 0.9h0m-34.6 2h0m-17.3 1.1h0m41-0.2h0m-58.3 1.2h0m41-0.1h0m-58.3 1.1h0m23.7 0.9h0m82-0.2h0m-123 0.3h0m23.7 0.9h0m41-0.1h0m-17.3 1h0m81.9-0.2h0m-58.3 1.1h0m41-0.1h0m-99.3 1.2h0m41-0.1h0m23.7 0.9h0m41-0.1h0m-99.3 1.2h0m-17.3 1.1h0m123-0.4h0m-58.3 1.2h0m82-0.3h0m-140.3 1.4h0m105.6 0.7h0m-99.2 1.2h0m64.6 0.8h0m47.4 1.8h0m23.7 0.9h0m-99.3 1.2h0m82-0.2h0m-58.3 1.1h0m-58.3 1.2h0m105.6 0.6h0m-99.3 1.3h0m82-0.3h0m-58.3 1.2h0m64.7 0.8h0m-17.3 1h0m47.3 1.8h0m-58.2 1.1h0m-17.4 1h0m-17.3 1h0m82-0.2h0m-58.3 1.1h0m41-0.1h0m41-0.1h0m-58.3 1.1h0m-34.6 2.1h0m41-0.1h0m41-0.2h0m-116.6 2.3h0m41-0.1h0m40.9-0.1h0m41-0.1h0m-99.3 1.2h0m41-0.1h0m-17.3 1h0m23.7 0.9h0m-34.6 2h0m-17.3 1h0m82-0.2h0m-34.7 2h0m41-0.1h0m-99.2 1.3h0m81.9-0.3h0m41-0.1h0m-51.9 3.1h0m23.7 0.9h0m-17.3 1h0m-58.3 1.1h0m64.6 0.8h0m23.7 0.9h0m-58.3 1.1h0m64.7 0.8h0m-82 0.3h0m23.7 0.9h0m64.7 0.7h0m-123 0.4h0m23.7 0.9h0m-17.3 1h0m41-0.1h0m81.9-0.2h0m-99.2 1.2h0m88.3 1.7h0m-99.3 1.2h0m-17.3 1h0m64.7 0.8h0m-28.3 4h0m68.5 17.4h0" stroke="#F0766A" stroke-width="6.0"/>
<path d="M0 0m216.8 184.8h0m5.4 20.3h0m-28.2 3.9h0m-67.4 10.9h0m-10.9 2.9h0m105.6 0.7h0m-99.3 1.2h0m41-0.1h0m-58.3 1.1h0m6.4 1.9h0m47.4 1.8h0m-41 0.2h0m6.3 1.9h0m82-0.3h0m-123 0.4h0m12.8 3.8h0m47.4 1.8h0m-75.6 2.2h0m88.3 1.6h0m23.7 0.9h0m-58.3 1.2h0m71 2.7h0m-75.6 2.1h0m123-0.3h0m-116.6 2.2h0m71 2.7h0m-99.2 1.3h0m64.6 0.8h0m-99.3 1.2h0m82-0.2h0m-58.3 1.1h0m41-0.1h0m-17.3 1h0m105.7 0.7h0m-157.6 2.4h0m64.6 0.7h0m-40.9 0.2h0m64.6 0.7h0m-81.9 0.3h0m47.3 1.8h0m-58.3 1.1h0m82-0.2h0m71 2.7h0m-75.6 2.1h0m-17.3 1h0m-51.9 3.1h0m71 2.7h0m112.1 2.6h0m-123 0.3h0m-58.3 1.1h0m41-0.1h0m-17.3 1h0m129.3 1.6h0m-163.9 0.5h0m129.3 1.5h0m-99.3 1.3h0m41-0.1h0m88.4 1.7h0m-116.6 2.2h0m129.3 1.6h0m-163.9 0.4h0m23.6 0.9h0m-34.6 2.1h0m36.5 4.7h0m23.6 0.9h0m-58.3 1.1h0m30.1 2.9h0m41-0.2h0m-58.3 1.2h0m-17.3 1h0m41-0.1h0m23.7 0.9h0m64.6 0.8h0m-110.2 4.1h0m64.7 0.8h0m-69.3 4.1h0m211.4 1.3h0m-140.3 1.4h0m6.4 1.9h0m-52 3h0m-17.3 1.1h0m23.7 0.9h0m23.7 0.9h0m-17.3 1h0m41-0.1h0m-17.3 1h0m-34.7 2h0m164-0.4h0m-181.3 1.4h0m-17.3 1h0m41-0.1h0m-17.3 1h0m41-0.1h0m-58.3 1.1h0m41-0.1h0m-17.3 1h0m-17.3 1.1h0m6.3 1.9h0m-17.3 1h0m41-0.1h0m-17.3 1h0m-17.3 1h0m6.4 1.9h0m41-0.1h0m6.3 1.9h0m146.7 0.6h0m-204.9 0.5h0m23.6 1h0m23.7 0.9h0m64.7 0.7h0m82-0.2h0m-140.3 1.4h0m41-0.1h0m-58.3 1.1h0m163.9-0.5h0m-181.2 1.5h0m23.7 0.9h0m6.3 1.9h0m-34.6 2h0m82-0.2h0m6.4 1.9h0m40.9-0.1h0m-116.5 2.3h0m122.9-0.4h0m-58.3 1.2h0m82-0.3h0m47.4 1.8h0m-99.3 1.3h0m6.4 1.9h0m-17.4 1h0m-99.2 1.3h0m146.6 0.5h0m-82 0.2h0m41-0.1h0m-99.3 1.3h0m82-0.3h0m-51.9 3.1h0m23.7 0.9h0m-41 0.1h0m88.3 1.7h0m-75.6 2.1h0m41-0.1h0m-17.3 1h0m82-0.2h0m-28.3 4h0m82-0.3h0m-181.2 1.5h0m40.9-0.1h0m82-0.2h0m-58.3 1.1h0m41-0.1h0m-17.3 1h0m-58.3 1.1h0m105.7 0.7h0m-140.3 1.3h0m123-0.3h0m-116.6 2.3h0m81.9-0.3h0m41-0.1h0m-99.3 1.3h0m41-0.2h0m41-0.1h0m82-0.2h0m23.7 0.9h0m-123 0.3h0m6.4 2h0m-99.3 1.2h0m123-0.3h0m64.6 0.7h0m-81.9 0.3h0m-58.3 1.1h0m41-0.1h0m23.6 0.9h0m82-0.2h0m-123 0.3h0m64.7 0.8h0m41-0.1h0m-58.3 1.1h0m-41 0.1h0m105.7 0.7h0m-17.3 1h0m-123 0.3h0m64.7 0.8h0m82-0.2h0m-140.3 1.4h0m23.7 0.9h0m40.9-0.1h0m82-0.3h0m-181.2 1.5h0m163.9-0.5h0m-99.3 1.3h0m41-0.1h0m23.7 0.9h0m41-0.1h0m-140.3 1.3h0m64.7 0.8h0m82-0.2h0m-17.3 1h0m23.6 0.9h0m-181.2 1.5h0m122.9-0.4h0m41-0.1h0m-58.3 1.1h0m-75.6 2.2h0m41-0.1h0m82-0.3h0m-140.3 1.4h0m41-0.1h0m123-0.4h0m-181.3 1.5h0m41-0.1h0m82-0.2h0m41-0.2h0m-58.3 1.2h0m105.6 0.7h0m-99.3 1.2h0m64.7 0.8h0m-17.3 1h0m-116.6 2.2h0m64.7 0.8h0m-75.6 2.2h0m170.3 1.4h0m-99.3 1.3h0m-17.3 1h0m6.4 1.9h0m41-0.1h0m82-0.2h0m-181.3 1.4h0m82-0.2h0m64.6 0.8h0m-140.2 1.4h0m47.3 1.8h0m82-0.3h0m-99.3 1.3h0m41-0.1h0m-17.3 1h0m41-0.1h0m41-0.2h0m-17.3 1.1h0m41-0.2h0m-140.3 1.4h0m82-0.2h0m-11 2.9h0m6.4 1.9h0m-99.3 1.3h0m105.7 0.6h0m-99.3 1.3h0m123-0.4h0m-116.6 2.3h0m81.9-0.2h0m64.7 0.8h0m-140.3 1.3h0m-17.3 1h0m105.7 0.7h0m-82 0.2h0m105.7 0.7h0m-123 0.3h0m41-0.1h0m-34.6 2.1h0m129.3 1.5h0m-17.3 1h0m12.7 3.9h0m-99.2 1.2h0m146.6 0.6h0m-75.6 2.1h0m41-0.1h0m-75.6 2.1h0m-4.6 4.9h0m-17.3 1h0m82-0.2h0m-99.3 1.2h0m64.7 0.8h0m41-0.1h0m47.3 1.8h0m-140.2 1.4h0m-11 2.9h0m105.7 0.7h0m-92.9 3.1h0m146.6 0.6h0m-10.9 2.9h0m-99.3 1.3h0m-17.3 1h0m82-0.3h0m-34.6 2.1h0m81.9-0.3h0m-116.6 2.3h0m105.7 0.7h0m-99.3 1.2h0m41-0.1h0m23.7 0.9h0m-11 2.9h0m30.1 2.8h0m23.7 1h0m-17.3 1h0m-82 0.2h0m23.7 0.9h0m41-0.1h0m-11 2.9h0m-51.9 3.1h0m-17.3 1h0m41-0.1h0m47.4 1.8h0m-11 2.9h0m-58.3 1.1h0m82-0.2h0m-99.3 1.2h0m64.7 0.8h0m-62.9 6h0m82-0.2h0m30.1 2.8h0m-123 0.3h0m129.3 1.6h0m-122.9 0.3h0m6.3 1.9h0m71.1 2.8h0m30 2.8h0m-99.3 1.2h0m41-0.1h0m-45.5 5h0" stroke="#74B2D6" stroke-width="6.0"/>
<path d="M0 0m223.2 186.7h0m-17.3 1h0m12.7 3.9h0m-34.6 2h0m47.4 1.8h0m-41 0.1h0m-17.3 1h0m23.7 0.9h0m6.3 2h0m-17.3 1h0m41-0.1h0m-58.3 1.1h0m41-0.1h0m-17.3 1h0m-17.3 1h0m41-0.1h0m-17.3 1h0m-17.3 1h0m-17.4 1h0m41-0.1h0m23.7 0.9h0m-58.3 1.1h0m41-0.1h0m23.7 0.9h0m-58.3 1.2h0m41-0.2h0m-58.3 1.2h0m47.3 1.8h0m-58.2 1.1h0m40.9-0.1h0m41-0.1h0m-58.3 1.1h0m41-0.1h0m-17.3 1h0m-17.3 1h0m23.7 0.9h0m-58.3 1.1h0m82-0.2h0m-58.3 1.1h0m23.7 0.9h0m-17.4 1.1h0m41-0.1h0m-58.3 1.1h0m41-0.1h0m-58.3 1.1h0m41-0.1h0m23.7 0.9h0m23.7 0.9h0m-17.3 1h0m-17.3 1h0m-52 3.1h0m41-0.2h0m-17.3 1.1h0m23.7 0.9h0m-17.3 1h0m41-0.1h0m-17.3 1h0m41-0.1h0m-17.3 1h0m-58.3 1.1h0m41-0.1h0m40.9-0.1h0m-58.3 1.1h0m41-0.1h0m-75.6 2.1h0m41-0.1h0m6.4 1.9h0m23.7 0.9h0m-17.3 1h0m40.9-0.1h0m-99.2 1.3h0m41-0.1h0m40.9-0.1h0m-58.3 1.1h0m64.7 0.8h0m-34.6 2h0m-17.3 1h0m41-0.1h0m23.7 0.9h0m-82 0.2h0m41-0.1h0m-58.3 1.1h0m41-0.1h0m41-0.1h0m-58.3 1.1h0m40.9-0.1h0m23.7 0.9h0m-17.3 1h0m-82 0.3h0m41-0.1h0m23.7 0.9h0m23.7 0.9h0m-58.3 1.1h0m41-0.1h0m41-0.1h0m-58.3 1.1h0m41-0.1h0m23.6 0.9h0m-116.5 2.2h0m40.9-0.1h0m41-0.1h0m-58.3 1.1h0m82-0.2h0m-58.3 1.1h0m41-0.1h0m-58.3 1.1h0m41-0.1h0m41-0.1h0m-99.3 1.3h0m41-0.2h0m41-0.1h0m23.7 0.9h0m-99.3 1.3h0m41-0.1h0m41-0.1h0m-58.3 1.1h0m-17.4 1h0m82-0.2h0m-99.3 1.2h0m41-0.1h0m41-0.1h0m-58.3 1.1h0m82-0.2h0m-99.3 1.2h0m41-0.1h0m41-0.1h0m-58.3 1.1h0m82-0.2h0m-99.3 1.2h0m41-0.1h0m41-0.1h0m-99.3 1.3h0m41-0.2h0m-34.6 2.1h0m40.9-0.1h0m-17.3 1h0m41-0.1h0m41-0.2h0m-99.3 1.3h0m41-0.1h0m41-0.1h0m23.7 0.9h0m-82 0.2h0m-17.3 1h0m41-0.1h0m23.7 0.9h0m-82 0.2h0m41-0.1h0m64.6 0.8h0m-99.2 1.2h0m41-0.1h0m64.6 0.8h0m-122.9 0.3h0m105.6 0.7h0m-82 0.2h0m64.7 0.8h0m41-0.1h0m-123 0.4h0m105.7 0.6h0m-58.3 1.2h0m-58.3 1.1h0m64.7 0.8h0m41-0.1h0m-99.3 1.2h0m122.9-0.3h0m-17.3 1h0m-99.3 1.2h0m123-0.3h0m-58.3 1.1h0m41-0.1h0m-58.3 1.1h0m-58.3 1.1h0m123-0.3h0m-99.3 1.3h0m82-0.3h0m-17.3 1h0m40.9-0.1h0m-99.2 1.3h0m40.9-0.1h0m41-0.2h0m-99.2 1.3h0m40.9-0.1h0m82-0.3h0m-58.3 1.2h0m41-0.1h0m-99.3 1.2h0m41-0.1h0m41-0.1h0m-58.3 1.1h0m-17.3 1h0m41-0.1h0m41-0.1h0m-58.3 1.1h0m41-0.1h0m41-0.1h0m-58.3 1.1h0m-58.3 1.1h0m41-0.1h0m40.9-0.1h0m-17.3 1h0m41-0.1h0m-99.3 1.3h0m41-0.2h0m41-0.1h0m6.4 1.9h0m-41 0.2h0m23.7 0.9h0m-82 0.2h0m64.7 0.8h0m41-0.1h0m-58.3 1.1h0m41-0.1h0m40.9-0.1h0m-122.9 0.3h0m64.6 0.8h0m23.7 0.9h0m-81.9 0.2h0m64.6 0.8h0m-58.3 1.1h0m41-0.1h0m41-0.1h0m-99.3 1.2h0m41-0.1h0m41-0.1h0m-17.3 1h0m41-0.1h0m-58.3 1.2h0m23.7 0.9h0m-58.3 1.1h0m40.9-0.1h0m41-0.1h0m-17.3 1h0m-17.3 1h0m41-0.1h0m-99.3 1.2h0m82-0.2h0m-75.6 2.1h0m41-0.1h0m41-0.1h0m-58.3 1.1h0m23.7 0.9h0m-17.3 1h0m40.9-0.1h0m-17.3 1h0m41-0.1h0m23.7 0.9h0m-116.6 2.3h0m41-0.1h0m64.7 0.8h0m-99.3 1.2h0m64.7 0.8h0m23.6 0.9h0m-81.9 0.2h0m105.6 0.7h0m-82 0.2h0m41-0.1h0m-58.3 1.1h0m41-0.1h0m-58.3 1.2h0m41-0.2h0m23.7 0.9h0m6.4 2h0m-58.3 1.1h0m81.9-0.2h0m-58.2 1.1h0m81.9-0.2h0m-99.3 1.2h0m41-0.1h0m41-0.1h0m-75.6 2.1h0m-17.3 1h0m105.7 0.7h0m-34.7 2h0m41-0.1h0m-99.2 1.3h0m23.6 0.9h0m41-0.2h0m-17.3 1.1h0m41-0.1h0m-58.3 1.1h0m41-0.1h0m23.7 0.9h0m-99.3 1.2h0m41-0.1h0m64.6 0.8h0m-99.2 1.2h0m41-0.1h0m40.9-0.1h0m-17.3 1h0m-58.3 1.1h0m41-0.1h0m41-0.1h0m6.4 1.9h0m-17.3 1h0m-58.3 1.2h0m41-0.1h0m6.3 1.9h0m-17.3 1h0m41-0.1h0m-58.3 1.1h0m41-0.1h0m23.7 0.9h0m-75.6 2.1h0m41-0.1h0m41-0.1h0m-75.6 2.1h0m41-0.1h0m30 2.9h0m-58.3 1.1h0m41-0.1h0m-17.3 1h0m41-0.1h0m-17.3 1h0m-17.3 1h0m-11 2.9h0m41-0.1h0m-58.3 1.1h0m64.7 0.8h0m-58.3 1.2h0m41-0.2h0m-17.3 1.1h0m30 2.8h0m-28.2 3.9h0m6.4 1.9h0m23.6 0.9h0m6.4 2h0" stroke="#F0AC5C" stroke-width="6.0"/>
<path d="M0 0m207.7 194.5h0m12.7 3.8h0m12.8 3.9h0m-75.6 2.1h0m-4.6 4.9h0m83.8 6.5h0m-28.2 3.9h0m-58.3 1.2h0m81.9-0.3h0m-62.8 6h0m6.4 1.9h0m23.6 0.9h0m41-0.1h0m-17.3 1h0m-75.6 2.2h0m82-0.3h0m-75.6 2.2h0m-17.3 1h0m30 2.8h0m41-0.1h0m-75.6 2.1h0m82-0.2h0m23.7 0.9h0m-99.3 1.3h0m23.7 0.9h0m-11 2.9h0m64.7 0.8h0m-86.5 5.1h0m44.6 13.4h0m-92.9 3.1h0m129.3 1.6h0m6.4 1.9h0m-80.2 7h0m36.4 4.7h0m23.7 0.9h0m-51.9 3.1h0m105.7 0.7h0m-69.3 4h0m31.9 9.6h0m41-0.1h0m-116.6 2.2h0m129.3 1.6h0m-110.2 4.2h0m105.7 0.7h0m-11 2.9h0m-75.6 2.1h0m-10.9 3h0m-17.3 1h0m23.7 0.9h0m81.9-0.3h0m6.4 2h0m-92.9 3.1h0m94.7 3.6h0m-99.3 1.3h0m-17.3 1h0m129.4 1.6h0m-99.3 1.2h0m23.7 0.9h0m64.6 0.8h0m-10.9 2.9h0m-17.3 1h0m-58.3 1.2h0m64.7 0.7h0m-21.9 5.9h0m-17.3 1h0m41-0.1h0m-58.3 1.1h0m41-0.1h0m-82.9 18.6h0m88.3 1.7h0m-41 0.1h0m60.1 5.6h0m1.8 6.8h0m-36.4 38.8h0m53.7 3.7h0m-42 62h0" stroke="#AAEC5E" stroke-width="6.0"/>
<path d="M0 0m165.8 213h0m75.5 41.3h0m-58.3 1.2h0m-97.5 8h0m40.1 18.2h0m-58.3 1.2h0m3.6 13.5h0m143.9 12.1h0m-29.2 22.4h0m-89.3 16.6h0m19.2 5.8h0m-26.5 10.7h0m36.5 4.7h0m60.1 5.7h0m-61.1 12.7h0m-18.2 19.4h0m-26.5 10.7h0m172.2 8.2h0m-157.6 2.4h0m6.4 1.9h0" stroke="#F6CBEA" stroke-width="6.0"/>
<path d="M0 0m229.6 188.6h0m-4.6 4.9h0m-37.4 13.6h0m29.1 21.2h0m-122.9 0.3h0m33.7 16.4h0m-50.2 9.8h0m-10.9 2.9h0m105.7 0.7h0m-114.8 9h0m30 2.8h0m-17.3 1h0m159.4 4.4h0m-138.4 8.2h0m66.4 7.5h0m-92.9 3.2h0m105.7 0.6h0m-9.1 9.7h0m-34.6 2.1h0m129.3 1.5h0m-133.9 3.3h0m-28.2 3.9h0m19.1 5.8h0m-17.3 1h0m6.3 1.9h0m-21.8 5.9h0m134.7 21.8h0m-28.2 4h0m6.4 1.9h0m-116.6 2.3h0m23.7 0.9h0m-21.9 5.8h0m123-0.3h0m-99.3 1.2h0m153 2.5h0m-110.2 4.2h0m122.9-0.4h0m-39.1 6.9h0m12.7 3.8h0m-51.9 3.1h0m-17.3 1h0m6.4 1.9h0m-58.3 1.1h0m-26.5 10.7h0m187.7 0.5h0m6.3 1.9h0m-97.4 8h0m47.3 1.8h0m-34.6 2h0m53.7 3.8h0m-50.1 9.8h0m23.7 0.9h0m-4.6 4.8h0m-91 9.9h0m6.3 1.9h0m135.7 3.5h0m-114.7 9.1h0m-9.2 9.6h0m105.7 0.7h0m-10.9 3h0m40.9-0.2h0m-17.3 1.1h0m23.7 0.9h0m23.7 0.9h0m-75.6 2.1h0m-58.3 1.1h0m-17.3 1h0m47.4 1.8h0m105.6 0.7h0m-163.9 0.5h0m129.3 1.5h0m-10.9 3h0m-75.6 2.1h0m6.3 1.9h0m47.4 1.8h0m12.7 3.9h0m6.4 1.9h0m-92.9 3.1h0m82-0.2h0m-58.3 1.1h0m53.7 3.8h0m-51.9 3h0m88.3 1.7h0m23.7 0.9h0m-10.9 2.9h0m-92.9 3.2h0m88.3 1.7h0m23.7 0.9h0m-34.6 2h0m23.7 0.9h0m-116.6 2.3h0m79.2 11.3h0" stroke="#B47CD0" stroke-width="6.0"/>
<path d="M0 0m193.6 470h0m90.2 8.5h0m-92.9 3.1h0m27.3 14.5h0m71 2.7h0m-39.2 6.8h0m-10.9 3h0m-10.9 2.9h0m30 2.8h0m30.1 2.8h0m-86.6 5.1h0m47.4 1.8h0m-10.9 2.9h0m81.9-0.2h0m-92.9 3.2h0m41-0.1h0m41-0.2h0m6.4 2h0m-99.3 1.2h0m12.7 3.8h0m41-0.1h0m23.7 0.9h0m-28.2 4h0m-39.2 6.8h0m30 2.9h0" stroke="#A4D6E6" stroke-width="6.0"/>
</g>
<defs><radialGradient id="g3" cx="0.52" cy="0.72" r="0.5"><stop offset="0" stop-color="#F4E2EE"/><stop offset="0.55" stop-color="#F0E4ED"/><stop offset="1" stop-color="#E8E5E9"/></radialGradient><clipPath id="c3"><path d="M709.3,108L1065.7,3.7L1181.5,398.9L767.9,520.8L718.5,352.6Z"/></clipPath></defs>
<path d="M709.3,108L1065.7,3.7L1181.5,398.9L767.9,520.8L718.5,352.6Z" fill="url(#g3)"/>
<g clip-path="url(#c3)">
<g fill="none" stroke-linecap="round">
<path d="M1061.1,8.8L1176.6,393.7M1059.2,18.4L1172.2,395M1173.5,392.5L773,510.5M1163.9,390.5L771.7,506.1M770.5,512L721,344M763.6,505L716.6,345.3" stroke="#b0acb4" stroke-width="5.6" stroke-dasharray="0 17.3"/>
<path d="M1061.1,8.8L1176.6,393.7M1059.2,18.4L1172.2,395M1173.5,392.5L773,510.5M1163.9,390.5L771.7,506.1M770.5,512L721,344M763.6,505L716.6,345.3" stroke="#DEDAE0" stroke-width="2.9" stroke-dasharray="0 17.3"/>
</g>
<g filter="url(#ta3)"><path d="M732.4,121.9C737.4,116.3 766.5,108.8 777.2,106.5C787.8,104.1 813.4,102.8 823.5,101.9C833.5,101 856.4,100 863.6,98.8C870.8,97.5 879.1,92.8 885.2,91C891.3,89.2 908.8,84.1 916,83.3C923.3,82.6 940.4,84.7 946.9,84.9C953.4,85.1 966.2,84.5 971.6,84.9C977,85.2 990.4,85.3 993.2,88C996,90.7 995.3,103.2 995.4,108C995.4,112.9 994.4,124.2 993.8,129.6C993.3,135 991.5,149.3 990.7,154.3C990,159.4 988.6,167.8 987.7,172.8C986.8,177.9 984.1,192.5 983,197.5C981.9,202.6 979.7,211.7 978.4,216C977.1,220.4 974,229.9 972.2,234.6C970.4,239.2 964.6,251.1 963,256.2C961.3,261.2 959.2,273.1 958.3,277.8C957.4,282.5 956.1,296.2 955.2,296.3C954.3,296.4 952.3,278.8 950.6,278.5C948.9,278.2 943.2,289.3 940.7,294C938.3,298.6 932.8,314.3 929.9,318.6C927.1,323 919.5,330.3 916,331C912.6,331.7 903.9,324.1 900.6,324.8C897.4,325.5 891.2,334.3 888.3,337.2C885.4,340 878.3,346.4 875.9,349.5C873.6,352.6 871.5,361.2 868.2,363.4C865,365.6 852.6,366.7 848.1,368C843.6,369.4 834.3,373.3 829.6,374.8C824.9,376.3 813.1,381 808,381C803,381 791.8,376.6 786.4,374.8C781,373 767.1,368.4 761.7,365.6C756.3,362.7 743.7,355.2 740.1,350.1C736.5,345 732.3,328.6 730.9,321.7C729.4,314.8 728,296 727.8,290.9C727.6,285.7 728.6,282.9 729.3,277.8C730,272.7 733.6,254.1 734,246.9C734.3,239.7 732.2,223.3 732.4,216C732.6,208.8 735.3,192.4 735.5,185.2C735.7,178 734.3,161.7 734,154.3C733.6,146.9 727.4,127.5 732.4,121.9Z" fill="#B98CC2"/><path d="M1004,89.5C1008.3,84.9 1033.6,84.3 1039.5,84C1045.4,83.6 1052.6,84.3 1054.9,86.4C1057.3,88.5 1057.8,97.5 1059.6,101.9C1061.4,106.2 1067.7,119.9 1070.4,123.5C1073.1,127.1 1080.8,129.1 1082.7,132.7C1084.6,136.3 1085,149.3 1086.4,154.3C1087.9,159.4 1093.8,170.9 1095.1,175.9C1096.3,181 1095.8,193.2 1097.2,197.5C1098.7,201.9 1105.8,208.6 1107.4,213C1109,217.3 1111.4,229.5 1111.1,234.6C1110.8,239.6 1105.3,251.1 1104.9,256.2C1104.6,261.2 1107.3,273.1 1108,277.8C1108.7,282.5 1111.1,292.6 1111.1,296.3C1111.1,300 1107.6,305.3 1108,309.4C1108.5,313.5 1113,326.6 1115.1,331.6C1117.3,336.6 1123.8,347.6 1126.5,352.6C1129.3,357.6 1136.4,369.9 1138.9,374.2C1141.4,378.5 1147.5,386.7 1148.1,389.6C1148.8,392.6 1147,397.3 1144.4,399.5C1141.9,401.7 1131,407 1125.9,408.8C1120.9,410.6 1105.5,413.5 1101.2,414.9C1097,416.4 1091.3,421.5 1089.5,421.1C1087.7,420.8 1084.4,414 1085.8,411.9C1087.2,409.7 1101.6,405.2 1101.2,402.6C1100.9,400 1087,391.7 1082.7,389.6C1078.4,387.6 1068.2,384.3 1064.2,385C1060.2,385.7 1052.4,394.2 1048.8,395.8C1045.2,397.4 1035.9,401 1033.3,398.9C1030.8,396.7 1028.6,382 1027.2,377.3C1025.7,372.6 1023.1,362 1021,358.8C1018.8,355.5 1009.7,352 1008.6,349.5C1007.6,347 1009.6,339.9 1011.7,337.2C1013.9,334.5 1026.1,329.6 1027.2,326.4C1028.2,323.1 1022.1,314.2 1021,309.4C1019.9,304.5 1019.3,289.7 1017.9,284.7C1016.5,279.7 1011.2,266.3 1008.6,266.2C1006.1,266.1 998.6,285.1 996.3,284C994,282.8 989.1,262.7 988.6,256.2C988,249.7 990.6,235.2 991.7,228.4C992.7,221.6 996.8,206.2 997.8,197.5C998.9,188.9 1000.3,163 1000.9,154.3C1001.5,145.7 1002.7,131 1003.1,123.5C1003.4,115.9 999.8,94.1 1004,89.5Z" fill="#B57EBC"/></g>
<g fill="none" stroke-linecap="round">
<path d="M0 0m919.6 84.6h0m16.2 0.3h0m16.2 0.4h0m16.3 0.3h0m-54.7 1h0m16.3 0.3h0m16.2 0.4h0m16.3 0.4h0m-54.7 0.9h0m16.3 0.4h0m16.2 0.3h0m16.2 0.4h0m-54.6 0.9h0m16.3 0.4h0m16.2 0.3h0m16.2 0.4h0m16.3 0.4h0m-70.9 0.5h0m16.3 0.4h0m16.2 0.4h0m16.2 0.3h0m16.3 0.4h0m-70.9 0.6h0m16.3 0.3h0m16.2 0.4h0m16.2 0.4h0m16.3 0.3h0m-70.9 0.6h0m16.2 0.4h0m16.3 0.3h0m16.2 0.4h0m16.3 0.3h0m16.2 0.4h0m-87.1 0.2h0m16.2 0.4h0m16.3 0.3h0m-54.6 1h0m70.8-0.6h0m16.2 0.4h0m-70.8 0.5h0m16.2 0.4h0m16.3 0.4h0m54.6-1h0m-125.5 1.5h0m16.3 0.4h0m70.8-0.6h0m16.2 0.4h0m87.1-0.2h0m-157.9 0.8h0m16.2 0.3h0m16.3 0.4h0m54.6-1h0m-141.7 1.2h0m16.2 0.4h0m16.3 0.3h0m70.8-0.6h0m16.2 0.4h0m103.4 0.1h0m-245.1 1.1h0m70.9-0.6h0m16.2 0.3h0m70.9-0.5h0m16.2 0.3h0m-157.9 0.8h0m16.2 0.4h0m16.2 0.3h0m54.7-0.9h0m16.2 0.4h0m16.2 0.3h0m103.3 0.2h0m-245 1h0m70.9-0.6h0m16.2 0.4h0m70.9-0.6h0m16.2 0.4h0m-157.9 0.7h0m16.2 0.4h0m16.2 0.4h0m54.7-1h0m16.2 0.4h0m16.2 0.4h0m-141.7 1.1h0m70.9-0.6h0m16.2 0.4h0m70.9-0.6h0m16.2 0.4h0m-157.9 0.8h0m16.2 0.3h0m16.2 0.4h0m54.6-0.9h0m32.5 0.7h0m-141.7 1.1h0m70.9-0.5h0m16.2 0.3h0m70.9-0.6h0m16.2 0.4h0m16.2 0.4h0m70.9-0.6h0m-245 1h0m16.2 0.4h0m70.8-0.6h0m16.3 0.3h0m16.2 0.4h0m-141.7 1.2h0m54.6-1h0m16.3 0.4h0m16.2 0.3h0m70.8-0.5h0m16.3 0.3h0m16.2 0.4h0m70.9-0.6h0m-245 1h0m16.2 0.4h0m70.8-0.6h0m16.3 0.4h0m16.2 0.3h0m-141.7 1.2h0m54.6-1h0m16.3 0.4h0m16.2 0.4h0m70.8-0.6h0m16.3 0.3h0m16.2 0.4h0m-174.2 0.4h0m16.3 0.4h0m70.8-0.6h0m16.3 0.4h0m16.2 0.3h0m-141.7 1.2h0m54.6-0.9h0m16.2 0.3h0m16.3 0.4h0m70.8-0.6h0m16.3 0.4h0m16.2 0.3h0m87.1-0.2h0m-261.3 0.7h0m16.3 0.3h0m70.8-0.6h0m16.3 0.4h0m16.2 0.4h0m70.8-0.6h0m-157.9 0.8h0m16.2 0.3h0m16.3 0.4h0m70.8-0.6h0m16.3 0.4h0m16.2 0.4h0m-190.4 0h0m16.2 0.4h0m16.3 0.3h0m70.8-0.5h0m16.2 0.3h0m16.3 0.4h0m70.8-0.6h0m-157.9 0.8h0m16.2 0.4h0m16.3 0.3h0m70.8-0.5h0m16.3 0.3h0m16.2 0.4h0m-190.4 0h0m16.2 0.4h0m16.3 0.4h0m70.8-0.6h0m16.2 0.4h0m16.3 0.3h0m70.8-0.6h0m-157.9 0.8h0m16.2 0.4h0m16.3 0.4h0m70.8-0.6h0m16.2 0.3h0m16.3 0.4h0m-190.4 0.1h0m16.2 0.3h0m16.3 0.4h0m70.8-0.6h0m16.2 0.4h0m16.3 0.3h0m70.8-0.5h0m16.3 0.3h0m-158 0.8h0m16.3 0.4h0m70.8-0.6h0m16.2 0.4h0m-157.9 0.8h0m16.2 0.3h0m70.9-0.6h0m16.2 0.4h0m16.3 0.4h0m54.6-1h0m16.2 0.4h0m16.2 0.3h0m-174.1 0.5h0m16.2 0.3h0m16.3 0.4h0m70.8-0.6h0m16.2 0.4h0m-157.9 0.8h0m16.2 0.3h0m70.9-0.5h0m16.2 0.3h0m16.3 0.4h0m54.6-1h0m16.2 0.4h0m16.2 0.4h0m-174.1 0.4h0m16.2 0.4h0m16.2 0.3h0m70.9-0.6h0m16.2 0.4h0m-157.9 0.8h0m16.2 0.4h0m70.9-0.6h0m16.2 0.3h0m70.9-0.5h0m16.2 0.3h0m16.2 0.4h0m-174.1 0.4h0m16.2 0.4h0m16.2 0.3h0m54.7-0.9h0m16.2 0.4h0m16.2 0.3h0m70.9-0.5h0m-212.6 1.7h0m70.9-0.6h0m16.2 0.4h0m70.9-0.6h0m16.2 0.4h0m16.2 0.3h0m-174.1 0.4h0m16.2 0.4h0m16.2 0.4h0m54.6-1h0m16.3 0.4h0m16.2 0.4h0m70.9-0.6h0m-212.6 1.7h0m70.9-0.6h0m16.2 0.4h0m70.8-0.6h0m16.3 0.4h0m16.2 0.3h0m87.1-0.2h0m-261.2 0.7h0m16.2 0.3h0m16.2 0.4h0m54.6-0.9h0m16.3 0.3h0m16.2 0.4h0m70.9-0.6h0m-212.6 1.7h0m70.9-0.5h0m87-0.3h0m16.3 0.4h0m16.2 0.4h0m87.1-0.3h0m-261.2 0.7h0m16.2 0.4h0m70.8-0.6h0m16.3 0.3h0m16.2 0.4h0m70.8-0.6h0m16.3 0.4h0m-174.2 0.4h0m16.3 0.4h0m16.2 0.3h0m70.8-0.5h0m16.3 0.3h0m16.2 0.4h0m87.1-0.2h0m-261.3 0.6h0m16.3 0.4h0m70.8-0.6h0m16.3 0.4h0m16.2 0.3h0m70.8-0.6h0m16.3 0.4h0m70.8-0.6h0m-245 1h0m16.2 0.4h0m16.3 0.4h0m70.8-0.6h0m16.3 0.3h0m16.2 0.4h0m-174.2 0.4h0m16.3 0.4h0m70.8-0.6h0m16.3 0.4h0m16.2 0.3h0m70.8-0.5h0m16.3 0.3h0m70.8-0.6h0m-245 1.1h0m16.2 0.3h0m16.3 0.4h0m70.8-0.6h0m16.3 0.4h0m16.2 0.3h0m-157.9 0.8h0m70.8-0.6h0m16.2 0.4h0m16.3 0.4h0m70.8-0.6h0m16.3 0.4h0m87-0.3h0m-261.2 0.7h0m16.2 0.3h0m16.3 0.4h0m70.8-0.6h0m16.3 0.4h0m16.2 0.4h0m54.6-1h0m-212.5 1.7h0m70.8-0.5h0m16.2 0.3h0m16.3 0.4h0m70.8-0.6h0m16.3 0.4h0m70.8-0.6h0m16.2 0.4h0m-261.2 0.6h0m16.2 0.4h0m16.3 0.3h0m70.8-0.5h0m16.2 0.3h0m16.3 0.4h0m54.6-1h0m-141.7 1.2h0m16.2 0.4h0m16.3 0.3h0m70.8-0.6h0m16.2 0.4h0m87.1-0.2h0m-261.2 0.6h0m16.2 0.4h0m16.3 0.4h0m70.8-0.6h0m32.5 0.7h0m54.6-0.9h0m-141.7 1.1h0m16.2 0.4h0m16.3 0.3h0m70.8-0.5h0m16.2 0.3h0m87.1-0.2h0m16.3 0.4h0m-277.5 0.3h0m16.2 0.3h0m16.3 0.4h0m70.8-0.6h0m16.2 0.4h0m70.9-0.6h0m16.2 0.3h0m-157.9 0.8h0m16.2 0.4h0m16.3 0.4h0m54.6-1h0m16.2 0.4h0m16.2 0.3h0m87.1-0.2h0m16.3 0.4h0m-277.5 0.3h0m16.2 0.3h0m16.2 0.4h0m70.9-0.6h0m16.2 0.4h0m70.9-0.6h0m16.2 0.4h0m-157.9 0.8h0m16.2 0.3h0m16.2 0.4h0m54.7-1h0m16.2 0.4h0m16.2 0.4h0m103.3 0.1h0m-277.4 0.3h0m16.2 0.4h0m16.2 0.3h0m70.9-0.6h0m16.2 0.4h0m70.9-0.6h0m16.2 0.4h0m-157.9 0.8h0m16.2 0.3h0m70.9-0.5h0m16.2 0.3h0m16.2 0.4h0m103.3 0.1h0m-261.2 0.7h0m16.2 0.3h0m54.6-0.9h0m16.3 0.4h0m16.2 0.3h0m70.9-0.5h0m16.2 0.3h0m87.1-0.2h0m-245 1h0m16.2 0.4h0m70.8-0.6h0m16.3 0.4h0m16.2 0.3h0m103.3 0.2h0m-261.2 0.6h0m16.2 0.4h0m54.6-1h0m16.3 0.4h0m16.2 0.4h0m70.9-0.6h0m16.2 0.3h0m16.2 0.4h0m70.9-0.6h0m-245 1h0m16.2 0.4h0m70.8-0.6h0m16.3 0.4h0m16.2 0.3h0m-141.7 1.2h0m54.6-0.9h0m16.3 0.3h0m16.2 0.4h0m70.8-0.6h0m16.3 0.4h0m16.2 0.3h0m70.9-0.6h0m-245 1.1h0m16.2 0.3h0m70.8-0.6h0m16.3 0.4h0m16.2 0.4h0m-87.1 0.2h0m16.3 0.3h0m16.2 0.4h0m70.8-0.6h0m16.3 0.4h0m16.2 0.3h0m70.9-0.5h0m16.2 0.3h0m-277.5 0.3h0m16.2 0.4h0m16.3 0.3h0m70.8-0.5h0m16.3 0.3h0m16.2 0.4h0m-87.1 0.2h0m16.3 0.4h0m16.2 0.3h0m70.8-0.6h0m16.3 0.4h0m16.2 0.4h0m70.8-0.6h0m16.3 0.3h0m-277.5 0.3h0m16.2 0.4h0m16.3 0.4h0m70.8-0.6h0m16.3 0.3h0m16.2 0.4h0m70.8-0.6h0m-157.9 0.8h0m16.2 0.4h0m16.3 0.3h0m70.8-0.5h0m16.3 0.3h0m16.2 0.4h0m87.1-0.2h0m-261.3 0.6h0m16.3 0.4h0m70.8-0.6h0m16.2 0.4h0m16.3 0.3h0m70.8-0.5h0m-157.9 0.7h0m16.2 0.4h0m16.3 0.4h0m70.8-0.6h0m16.3 0.4h0m103.3 0.1h0m-261.3 0.6h0m16.3 0.4h0m70.8-0.6h0m16.2 0.4h0m16.3 0.4h0m54.6-1h0m16.2 0.4h0m87.1-0.2h0m-245 1h0m16.2 0.3h0m16.3 0.4h0m70.8-0.6h0m16.2 0.4h0m103.4 0.1h0m-261.3 0.7h0m16.3 0.3h0m70.8-0.5h0m16.2 0.3h0m16.3 0.4h0m54.6-1h0m16.2 0.4h0m-157.9 0.8h0m16.2 0.4h0m16.3 0.3h0m70.8-0.6h0m16.2 0.4h0m-141.7 1.2h0m70.9-0.6h0m16.2 0.3h0m16.3 0.4h0m54.6-0.9h0m16.2 0.3h0m87.1-0.2h0m-245 1h0m16.2 0.4h0m16.3 0.3h0m70.8-0.5h0m16.2 0.3h0m-141.7 1.2h0m70.9-0.6h0m16.2 0.4h0m70.9-0.6h0m16.2 0.3h0m16.2 0.4h0m70.9-0.6h0m16.2 0.4h0m-261.2 0.6h0m16.2 0.4h0m16.2 0.4h0m54.7-1h0m32.4 0.7h0m-70.8 0.6h0m16.2 0.4h0m70.9-0.6h0m16.2 0.4h0m16.2 0.3h0m70.9-0.5h0m16.2 0.3h0m-261.2 0.7h0m16.2 0.3h0m16.2 0.4h0m54.7-1h0m32.4 0.8h0m-70.8 0.5h0m16.2 0.4h0m70.9-0.6h0m16.2 0.4h0m16.2 0.4h0m70.9-0.6h0m16.2 0.3h0m16.2 0.4h0m-277.4 0.3h0m16.2 0.3h0m70.8-0.5h0m16.3 0.3h0m-70.9 0.6h0m16.3 0.4h0m16.2 0.3h0m70.8-0.5h0m16.3 0.3h0m16.2 0.4h0m87.1-0.2h0m-261.2 0.6h0m16.2 0.4h0m70.8-0.6h0m16.3 0.4h0m174.1-0.5h0m-245 1h0m16.3 0.4h0m16.2 0.4h0m70.8-0.6h0m119.6 0.5h0m-245 1h0m70.8-0.6h0m103.3 0.2h0m87.1-0.3h0m-245 1.1h0m16.3 0.3h0m16.2 0.4h0m87.1-0.2h0m16.2 0.3h0m87.1-0.2h0m-245 1h0m70.8-0.6h0m103.3 0.2h0m87.1-0.2h0m16.3 0.3h0m-261.3 0.7h0m16.2 0.3h0m16.3 0.4h0m87.1-0.2h0m16.2 0.3h0m-157.9 0.8h0m70.8-0.5h0m103.3 0.1h0m87.1-0.2h0m16.2 0.4h0m-261.2 0.6h0m16.2 0.4h0m16.3 0.3h0m87.1-0.2h0m16.2 0.4h0m-87.1 0.2h0m103.3 0.1h0m16.3 0.4h0m70.8-0.6h0m16.2 0.4h0m-261.2 0.6h0m16.2 0.4h0m16.3 0.3h0m103.3 0.2h0m174.1-0.4h0m-261.2 0.6h0m103.3 0.2h0m16.3 0.3h0m87-0.2h0m16.3 0.4h0m-277.5 0.2h0m16.2 0.4h0m16.3 0.4h0m277.4-0.3h0m-261.2 0.6h0m87.1-0.2h0m16.2 0.4h0m16.2 0.3h0m87.1-0.2h0m16.3 0.4h0m-277.5 0.3h0m16.2 0.3h0m16.3 0.4h0m293.7 0.1h0m-277.5 0.3h0m16.2 0.3h0m70.9-0.6h0m16.2 0.4h0m16.2 0.4h0m87.1-0.3h0m16.3 0.4h0m-261.3 0.7h0m16.3 0.3h0m157.9-0.8h0m135.8 0.9h0m-277.5 0.3h0m32.5 0.7h0m54.6-0.9h0m16.2 0.3h0m16.2 0.4h0m103.4 0.1h0m-261.3 0.7h0m16.2 0.3h0m158-0.8h0m103.3 0.2h0m-245 1h0m16.2 0.4h0m87.1-0.3h0m16.2 0.4h0m103.3 0.2h0m54.7-1h0m16.2 0.4h0m-332.1 1.2h0m16.2 0.4h0m158-0.8h0m103.3 0.1h0m-245 1h0m16.2 0.4h0m87.1-0.2h0m16.2 0.3h0m157.9-0.8h0m16.3 0.4h0m-315.9 1.6h0m158-0.8h0m16.2 0.4h0m87.1-0.3h0m-245 1h0m16.2 0.4h0m87.1-0.2h0m16.2 0.4h0m16.3 0.3h0m16.2 0.4h0m87.1-0.2h0m87-0.3h0m16.3 0.4h0m-364.6 0.5h0m16.3 0.4h0m16.2 0.3h0m87.1-0.2h0m16.2 0.4h0m174.2-0.5h0m16.2 0.4h0m-277.5 0.3h0m103.3 0.1h0m16.3 0.4h0m87.1-0.2h0m87-0.2h0m16.3 0.3h0m-348.3 0.9h0m16.2 0.4h0m87.1-0.3h0m16.2 0.4h0m190.4-0.1h0m-277.5 0.3h0m103.3 0.2h0m16.3 0.3h0m16.2 0.4h0m87.1-0.2h0m87.1-0.3h0m-348.4 0.9h0m16.3 0.4h0m103.3 0.1h0m190.4-0.1h0m-277.5 0.3h0m103.3 0.2h0m16.3 0.3h0m103.3 0.2h0m70.8-0.6h0m16.3 0.4h0m16.2 0.3h0m-364.6 0.5h0m16.3 0.4h0m103.3 0.1h0m54.6-0.9h0m103.3 0.2h0m32.5 0.7h0m-277.5 0.3h0m16.2 0.3h0m87.1-0.2h0m16.3 0.4h0m174.1-0.5h0m16.3 0.4h0m16.2 0.4h0m-348.3 0.8h0m157.9-0.8h0m103.3 0.2h0m32.5 0.7h0m-277.5 0.3h0m16.2 0.3h0m87.1-0.2h0m16.3 0.4h0m174.1-0.4h0m16.2 0.3h0m16.3 0.4h0m-348.3 0.8h0m103.3 0.2h0m54.6-0.9h0m103.3 0.1h0m103.3 0.1h0m-348.3 0.9h0m16.2 0.4h0m87.1-0.2h0m16.2 0.3h0m174.2-0.4h0m-315.8 1.6h0m157.9-0.8h0m16.2 0.3h0m87.1-0.2h0m16.2 0.4h0m70.9-0.6h0m16.2 0.4h0m-332.1 1.2h0m16.3 0.4h0m70.8-0.6h0m16.2 0.3h0m174.2-0.4h0m16.2 0.4h0m-174.1 0.4h0m16.2 0.4h0m103.3 0.1h0m70.9-0.6h0m-332.1 1.3h0m16.2 0.3h0m16.3 0.4h0m87-0.2h0m174.2-0.5h0m16.2 0.4h0m-174.1 0.4h0m16.2 0.4h0m103.3 0.1h0m87.1-0.2h0m16.2 0.4h0m-364.5 0.5h0m16.2 0.3h0m70.9-0.5h0m32.4 0.7h0m174.2-0.4h0m16.2 0.3h0m-277.5 0.3h0m103.4 0.1h0m16.2 0.4h0m16.2 0.4h0m158-0.8h0m16.2 0.3h0m16.2 0.4h0m-364.5 0.5h0m16.2 0.4h0m87.1-0.3h0m174.1-0.4h0m32.5 0.7h0m-277.5 0.3h0m16.3 0.4h0m87.1-0.2h0m16.2 0.3h0m16.2 0.4h0m158-0.8h0m16.2 0.4h0m16.2 0.3h0m-348.3 0.9h0m261.2-0.7h0m32.5 0.8h0m70.9-0.6h0m-348.4 0.8h0m16.3 0.4h0m87-0.2h0m16.3 0.4h0m16.2 0.3h0m190.4-0.1h0m-348.3 0.9h0m261.2-0.6h0m103.4 0.1h0m-348.4 0.9h0m16.3 0.3h0m103.3 0.2h0m16.2 0.3h0m157.9-0.8h0m16.3 0.4h0m16.2 0.4h0m-348.3 0.8h0m174.1-0.4h0m103.4 0.1h0m87-0.2h0m-348.3 0.9h0m16.3 0.4h0m16.2 0.3h0m87.1-0.2h0m16.2 0.4h0m157.9-0.8h0m16.3 0.3h0m-158 0.8h0m103.4 0.2h0m87-0.3h0m16.3 0.4h0m-364.6 0.5h0m16.2 0.4h0m16.3 0.3h0m87.1-0.2h0m16.2 0.4h0m157.9-0.8h0m16.3 0.3h0m-158 0.8h0m190.4 0h0m16.3 0.3h0m-364.6 0.5h0m16.2 0.4h0m16.3 0.4h0m277.5-0.3h0m16.2 0.3h0m-277.5 0.3h0m87.1-0.2h0m16.2 0.4h0m16.3 0.3h0m103.3 0.2h0m70.8-0.6h0m16.3 0.4h0m-348.4 0.8h0m16.3 0.4h0m277.4-0.3h0m-261.2 0.6h0m87.1-0.2h0m16.2 0.4h0m16.3 0.4h0m103.3 0.1h0m87.1-0.2h0m-348.4 0.8h0m16.3 0.4h0m293.7 0.1h0m-277.5 0.3h0m16.2 0.3h0m70.9-0.5h0m16.2 0.3h0m16.3 0.4h0m-158 0.8h0m16.3 0.3h0m70.8-0.5h0m87.1-0.3h0m190.4 0h0m-332.1 1.2h0m16.2 0.4h0m70.9-0.6h0m16.2 0.3h0m16.2 0.4h0m158-0.8h0m-299.6 2h0m157.9-0.8h0m190.4-0.1h0m-332.1 1.2h0m16.2 0.4h0m87.1-0.2h0m16.2 0.3h0m174.2-0.4h0m-315.9 1.6h0m54.7-1h0m32.4 0.8h0m70.9-0.6h0m-141.7 1.1h0m16.2 0.4h0m70.9-0.6h0m16.2 0.4h0m16.2 0.3h0m-87.1 0.3h0m16.3 0.3h0m16.2 0.4h0m70.9-0.6h0m16.2 0.4h0m174.2-0.5h0m16.2 0.4h0m-364.6 0.5h0m16.3 0.4h0m16.2 0.3h0m70.9-0.6h0m16.2 0.4h0m16.2 0.4h0m-87.1 0.2h0m16.3 0.3h0m16.2 0.4h0m70.9-0.6h0m16.2 0.4h0m190.4-0.1h0m-348.3 0.9h0m16.2 0.3h0m70.8-0.5h0m16.3 0.3h0m16.2 0.4h0m-87.1 0.2h0m16.3 0.4h0m16.2 0.3h0m87.1-0.2h0m-157.9 0.8h0m16.2 0.4h0m87.1-0.2h0m16.2 0.3h0m-87.1 0.2h0m16.3 0.4h0m16.2 0.4h0m70.8-0.6h0m16.3 0.3h0m16.2 0.4h0m-174.1 0.4h0m16.2 0.4h0m70.8-0.6h0m16.3 0.4h0m16.2 0.3h0m-87.1 0.3h0m16.3 0.3h0m16.2 0.4h0m70.8-0.6h0m16.3 0.4h0m-141.7 1.1h0m70.8-0.6h0m16.3 0.4h0m16.2 0.4h0m54.6-1h0m-141.7 1.2h0m16.3 0.3h0m16.2 0.4h0m70.8-0.6h0m16.3 0.4h0m-141.7 1.1h0m70.8-0.5h0m16.3 0.3h0m16.2 0.4h0m54.6-1h0m-141.7 1.2h0m16.2 0.4h0m16.3 0.3h0m70.8-0.6h0m16.3 0.4h0m-141.7 1.2h0m70.8-0.6h0m16.3 0.3h0m70.8-0.5h0m16.2 0.3h0m-157.9 0.8h0m16.2 0.4h0m16.3 0.3h0m54.6-0.9h0m32.5 0.7h0m190.4 0h0m-261.3 0.6h0m16.2 0.4h0m70.9-0.6h0m16.2 0.4h0m-157.9 0.7h0m16.2 0.4h0m16.3 0.4h0m54.6-1h0m16.2 0.4h0m16.2 0.4h0m-70.8 0.5h0m16.2 0.4h0m70.9-0.6h0m16.2 0.4h0m16.3 0.3h0m157.9-0.8h0m-332.1 1.3h0m16.2 0.3h0m16.3 0.4h0m54.6-0.9h0m16.2 0.3h0m16.2 0.4h0m-70.8 0.6h0m16.2 0.3h0m70.9-0.6h0m16.2 0.4h0m16.2 0.4h0m158-0.8h0m-315.9 1.6h0m70.9-0.6h0m16.2 0.3h0m16.2 0.4h0m-87 0.2h0m16.2 0.4h0m16.2 0.3h0m70.9-0.5h0m16.2 0.3h0m16.2 0.4h0m158-0.8h0m-315.9 1.6h0m70.9-0.6h0m32.4 0.7h0m-87.1 0.2h0m16.3 0.4h0m16.2 0.4h0m70.9-0.6h0m16.2 0.3h0m16.2 0.4h0m174.2-0.4h0m-332.1 1.2h0m70.9-0.6h0m16.2 0.4h0m16.2 0.3h0m70.9-0.5h0m-158 0.8h0m16.3 0.3h0m16.2 0.4h0m70.9-0.6h0m16.2 0.4h0m16.2 0.3h0m174.2-0.4h0m-261.3 0.6h0m16.3 0.4h0m16.2 0.4h0m70.9-0.6h0m-158 0.8h0m32.5 0.7h0m70.9-0.6h0m16.2 0.4h0m16.2 0.4h0m174.2-0.5h0m-261.3 0.7h0m16.3 0.3h0m16.2 0.4h0m70.9-0.6h0m-158 0.8h0m16.3 0.4h0m16.2 0.3h0m70.8-0.5h0m16.3 0.3h0m-70.9 0.6h0m16.3 0.4h0m16.2 0.3h0m87.1-0.2h0m174.1-0.4h0m16.3 0.3h0m-364.6 0.5h0m16.3 0.4h0m16.2 0.4h0m70.8-0.6h0m16.3 0.3h0m16.2 0.4h0m-87.1 0.2h0m16.3 0.4h0m16.2 0.3h0m70.8-0.5h0m16.3 0.3h0m190.4-0.1h0m-348.3 0.9h0m16.2 0.4h0m70.8-0.6h0m16.3 0.4h0m-70.9 0.5h0m16.3 0.4h0m16.2 0.4h0m54.6-1h0m16.2 0.4h0m16.3 0.3h0m174.1-0.4h0m16.3 0.4h0m-348.4 0.8h0m16.3 0.4h0m70.8-0.6h0m16.3 0.4h0m261.2-0.7h0m-315.9 1.6h0m16.3 0.4h0m54.6-1h0m16.2 0.4h0m16.3 0.4h0m174.1-0.5h0m16.3 0.4h0m-348.4 0.9h0m16.3 0.3h0m70.8-0.6h0m16.3 0.4h0m261.2-0.6h0m-332.1 1.2h0m16.2 0.3h0m70.9-0.5h0m16.2 0.3h0m16.3 0.4h0m174.1-0.4h0m16.3 0.3h0m-332.1 1.2h0m54.6-0.9h0m16.2 0.4h0m16.2 0.3h0m70.9-0.5h0m190.4-0.1h0m16.2 0.3h0m-348.3 0.9h0m16.2 0.4h0m70.9-0.6h0m16.2 0.4h0m16.3 0.3h0m190.3-0.1h0m-332 1.3h0m54.6-1h0m16.2 0.4h0m16.2 0.4h0m70.9-0.6h0m190.4-0.1h0m16.2 0.4h0m-348.3 0.8h0m16.2 0.4h0m70.9-0.6h0m16.2 0.4h0m190.4-0.1h0m16.2 0.4h0m-332 1.2h0m54.6-0.9h0m16.2 0.3h0m16.2 0.4h0m70.9-0.6h0m190.4-0.1h0m16.2 0.4h0m16.2 0.3h0m-364.5 0.6h0m16.2 0.3h0m70.9-0.6h0m16.2 0.4h0m16.2 0.4h0m174.2-0.5h0m16.2 0.4h0m-277.4 0.3h0m16.2 0.3h0m16.2 0.4h0m70.9-0.6h0m16.2 0.4h0m174.2-0.4h0m32.4 0.7h0m-364.5 0.5h0m16.2 0.3h0m70.9-0.5h0m16.2 0.3h0m16.2 0.4h0m190.4-0.1h0m-277.4 0.3h0m16.2 0.4h0m16.2 0.3h0m70.9-0.6h0m16.2 0.4h0m174.2-0.4h0m16.2 0.3h0m16.2 0.4h0m-364.5 0.5h0m16.2 0.4h0m87.1-0.3h0m16.2 0.4h0m190.4-0.1h0m-261.2 0.7h0m16.2 0.3h0m70.9-0.5h0m16.2 0.3h0m174.2-0.4h0m16.2 0.4h0m16.2 0.3h0m-364.5 0.5h0m16.2 0.4h0m70.8-0.6h0m16.3 0.4h0m16.2 0.3h0m190.4 0h0m70.9-0.6h0m-348.4 0.8h0m16.3 0.4h0m16.2 0.4h0m87.1-0.2h0m174.1-0.5h0m16.3 0.4h0m16.2 0.3h0m-348.3 0.9h0m70.8-0.6h0m16.3 0.4h0m16.2 0.4h0m54.6-1h0m-141.7 1.2h0m16.3 0.3h0m16.2 0.4h0m70.8-0.6h0m16.3 0.4h0m174.1-0.5h0m16.3 0.4h0m16.2 0.4h0m-348.3 0.8h0m70.8-0.5h0m16.3 0.3h0m16.2 0.4h0m54.6-1h0m206.6 0.3h0m-348.3 0.9h0m16.3 0.4h0m87-0.3h0m16.3 0.4h0m174.1-0.4h0m16.3 0.3h0m-261.3 0.7h0m16.3 0.3h0m16.2 0.4h0m54.6-0.9h0m206.6 0.2h0m16.3 0.4h0m-364.6 0.5h0m16.3 0.4h0m87-0.2h0m16.3 0.3h0m190.4 0h0m-245 1h0m70.8-0.6h0m16.2 0.3h0m174.2-0.4h0m16.2 0.4h0m16.3 0.3h0m-364.6 0.5h0m16.2 0.4h0m16.3 0.4h0m54.6-1h0m16.2 0.4h0m16.3 0.3h0m-70.9 0.6h0m16.3 0.4h0m70.8-0.6h0m16.2 0.4h0m174.2-0.5h0m16.2 0.4h0m16.3 0.4h0m-364.6 0.5h0m16.2 0.3h0m16.3 0.4h0m54.6-1h0m16.2 0.4h0m16.3 0.4h0m190.4-0.1h0m70.8-0.6h0m-332.1 1.2h0m16.2 0.4h0m70.9-0.6h0m16.2 0.4h0m174.2-0.4h0m16.2 0.3h0m16.3 0.4h0m-348.4 0.8h0m70.9-0.5h0m16.2 0.3h0m16.2 0.4h0m261.3-0.7h0m-348.3 0.9h0m16.2 0.4h0m16.2 0.3h0m70.9-0.5h0m16.2 0.3h0m16.3 0.4h0m157.9-0.8h0m16.2 0.3h0m16.2 0.4h0m-348.3 0.9h0m70.9-0.6h0m16.2 0.4h0m16.2 0.3h0m261.3-0.6h0m-348.3 0.8h0m32.4 0.8h0m70.9-0.6h0m16.2 0.3h0m16.2 0.4h0m158-0.8h0m16.2 0.4h0m16.2 0.3h0m-348.3 0.9h0m70.9-0.6h0m16.2 0.4h0m16.2 0.3h0m261.3-0.6h0m16.2 0.3h0m-364.5 0.6h0m16.2 0.3h0m16.2 0.4h0m70.9-0.6h0m16.2 0.4h0m16.2 0.3h0m174.2-0.4h0m16.2 0.4h0m-277.4 0.2h0m16.2 0.4h0m16.2 0.4h0m261.3-0.7h0m16.2 0.4h0m-364.6 0.5h0m16.3 0.3h0m16.2 0.4h0m70.9-0.6h0m16.2 0.4h0m16.2 0.3h0m190.4 0h0m-277.4 0.3h0m16.2 0.3h0m16.2 0.4h0m70.9-0.6h0m190.4-0.1h0m16.2 0.4h0m-364.6 0.5h0m16.3 0.4h0m16.2 0.3h0m70.9-0.6h0m16.2 0.4h0m16.2 0.4h0m190.4-0.1h0m-277.5 0.3h0m16.3 0.3h0m16.2 0.4h0m70.9-0.6h0m190.4 0h0m16.2 0.3h0m16.2 0.4h0m-364.5 0.5h0m16.2 0.3h0m70.9-0.5h0m16.2 0.3h0m16.2 0.4h0m-87.1 0.2h0m16.3 0.4h0m16.2 0.3h0m70.9-0.5h0m16.2 0.3h0m174.2-0.4h0m16.2 0.3h0m-332.1 1.3h0m70.8-0.6h0m16.3 0.4h0m261.2-0.7h0m-332.1 1.2h0m16.3 0.4h0m16.2 0.4h0m54.6-1h0m16.2 0.4h0m16.3 0.3h0m174.1-0.4h0m-332 1.2h0m16.2 0.4h0m70.8-0.6h0m16.3 0.4h0m261.2-0.7h0m-332.1 1.3h0m16.3 0.3h0m16.2 0.4h0m54.6-1h0m32.5 0.8h0m-141.7 1.1h0m70.8-0.6h0m16.3 0.4h0m261.2-0.6h0m16.2 0.3h0m-348.3 0.9h0m16.3 0.3h0m70.8-0.5h0m16.2 0.3h0m16.3 0.4h0m-87.1 0.2h0m16.2 0.4h0m16.3 0.3h0m70.8-0.6h0m190.4 0h0m16.2 0.3h0m-348.3 0.9h0m16.2 0.4h0m70.9-0.6h0m16.2 0.3h0m16.3 0.4h0m-70.9 0.6h0m16.3 0.3h0m70.8-0.5h0m190.4-0.1h0m-332.1 1.2h0m16.2 0.4h0m70.9-0.6h0m16.2 0.4h0m16.3 0.3h0m-70.9 0.6h0m16.2 0.4h0m70.9-0.6h0m206.6 0.3h0m-348.3 0.8h0m16.2 0.4h0m70.9-0.6h0m16.2 0.4h0m16.3 0.4h0m-87.1 0.2h0m16.2 0.3h0m16.2 0.4h0m70.9-0.6h0m16.2 0.4h0m-141.7 1.1h0m70.9-0.5h0m16.2 0.3h0m16.2 0.4h0m-87 0.2h0m16.2 0.4h0m16.2 0.3h0m70.9-0.6h0m-125.5 1.6h0m70.9-0.6h0m16.2 0.3h0m16.2 0.4h0m-87 0.2h0m16.2 0.4h0m16.2 0.3h0m70.9-0.5h0m-125.5 1.5h0m70.9-0.6h0m16.2 0.4h0m16.2 0.3h0m-87 0.2h0m16.2 0.4h0m16.2 0.4h0m70.9-0.6h0m16.2 0.3h0m-70.8 0.6h0m16.2 0.4h0m16.2 0.3h0m-87.1 0.3h0m16.3 0.3h0m16.2 0.4h0m70.9-0.6h0m16.2 0.4h0m-70.9 0.5h0m16.3 0.4h0m16.2 0.4h0m-87.1 0.2h0m16.3 0.3h0m16.2 0.4h0m87.1-0.2h0m-70.9 0.6h0m16.3 0.3h0m16.2 0.4h0m-70.8 0.6h0m16.2 0.3h0m70.8-0.5h0m16.3 0.3h0m-70.9 0.6h0m16.3 0.4h0m-54.6 0.9h0m16.2 0.4h0m54.6-1h0m16.2 0.4h0m16.3 0.3h0m-70.9 0.6h0m16.3 0.4h0m70.8-0.6h0m-109.2 1.9h0m54.6-1h0m16.2 0.4h0m16.3 0.4h0m-70.9 0.5h0m87.1-0.2h0m-54.6 1h0m16.2 0.3h0m16.3 0.4h0m-87.1 0.2h0m16.2 0.4h0m16.3 0.3h0m70.8-0.6h0m-54.6 1h0m16.2 0.3h0m16.3 0.4h0m-54.7 0.9h0m70.9-0.5h0m16.2 0.3h0m-70.8 0.6h0m16.2 0.4h0m16.2 0.3h0m-70.8 0.6h0m16.2 0.4h0m70.9-0.6h0m16.2 0.4h0m-70.8 0.5h0m32.4 0.8h0m-54.6 0.9h0m70.9-0.6h0m16.2 0.4h0m-70.8 0.6h0m16.2 0.3h0m16.2 0.4h0m-54.6 0.9h0m70.9-0.6h0m16.2 0.4h0m-70.8 0.6h0m16.2 0.3h0m16.2 0.4h0m16.3 0.4h0m-54.6 0.9h0m16.2 0.4h0m16.2 0.3h0m16.3 0.4h0m16.2 0.3h0m-54.6 1h0m16.2 0.3h0m16.3 0.4h0m16.2 0.4h0m-54.6 0.9h0m16.2 0.4h0m32.5 0.7h0m-38.4 1.3h0m16.2 0.4h0m16.3 0.3h0m-22.2 1.7h0m16.3 0.3h0m-5.9 2.1h0" stroke="#504a58" stroke-width="6.3"/>
<path d="M0 0m928.4 93.4h0m13.3 13.2h0m-104.8 6.3h0m-38.4 1.3h0m16.2 0.3h0m16.3 0.4h0m10.3 2.4h0m87.1-0.2h0m-158 0.8h0m32.5 0.7h0m4.4 4.4h0m48.7 1.1h0m-5.9 2h0m16.3 0.4h0m-22.2 1.6h0m16.3 0.4h0m-5.9 2h0m-93 2.2h0m168.2 1.6h0m-174.1 0.5h0m48.7 1.1h0m48.7 1h0m-70.9 0.6h0m16.3 0.4h0m206.6 0.3h0m-212.6 1.7h0m16.3 0.4h0m87.1-0.3h0m-109.3 1.9h0m10.4 2.4h0m16.2 0.4h0m-22.1 1.6h0m10.3 2.4h0m152 1.2h0m48.7 1.1h0m-196.3 2.1h0m-70.8 0.6h0m48.7 1.1h0m16.2 0.3h0m-54.6 1h0m20.7 4.8h0m2.9 10.8h0m16.2 0.4h0m32.5 0.7h0m190.4-0.1h0m-228.8 1.4h0m20.7 4.7h0m-38.4 1.3h0m156.4 5.7h0m-144.6 14h0m287.8 2.1h0m2.9 10.8h0m-11.8 4.1h0m-283.4 2.3h0m10.4 2.4h0m-22.2 1.6h0m16.2 0.4h0m314.4 4.8h0m-87.1 0.3h0m-245 1h0m128.4 9.3h0m10.4 2.4h0m-147.6 3.2h0m32.4 0.7h0m-11.8 4h0m-22.1 1.7h0m32.4 0.7h0m289.3 19.4h0m-5.9 2h0m-246.5 7.4h0m-76.8 2.6h0m-5.9 2.1h0m352.8 3.5h0m-39.9 7.7h0m26.6 2.8h0m-25.1 14.5h0" stroke="#8FE0CB" stroke-width="5.8"/>
<path d="M0 0m929.9 86.9h0m16.2 0.4h0m16.3 0.4h0m-22.2 1.6h0m-22.1 1.7h0m16.2 0.3h0m16.2 0.4h0m16.3 0.4h0m-70.9 0.5h0m10.4 2.4h0m48.7 1.1h0m-54.7 1h0m32.5 0.7h0m16.3 0.3h0m-54.7 1h0m32.5 0.7h0m16.2 0.4h0m-70.8 0.5h0m48.7 1.1h0m26.6 2.8h0m-22.2 1.6h0m-38.3 1.3h0m-6 2.1h0m32.5 0.7h0m-5.9 2h0m16.2 0.4h0m-22.1 1.6h0m48.7 1.1h0m-44.3 3.3h0m16.3 0.4h0m32.4 0.7h0m-54.6 1h0m-5.9 2h0m48.7 1.1h0m16.3 0.3h0m-54.7 1h0m48.7 1h0m-38.3 1.3h0m16.2 0.4h0m16.2 0.4h0m-44.2 3.3h0m48.7 1.1h0m-5.9 2h0m-22.2 1.7h0m16.2 0.3h0m-22.1 1.7h0m16.2 0.3h0m16.3 0.4h0m-38.4 1.3h0m10.3 2.4h0m32.5 0.7h0m-22.1 1.7h0m-6 2h0m16.3 0.4h0m-17.7 6h0m-76.8 2.6h0m81.2 1.8h0m69.3 5.9h0m-54.6 0.9h0m-11.8 4.1h0m73.8 10.2h0m-4.4 19.3h0m4.4 4.4h0m92.9 21.5h0m-88.5 6.6h0m69.3 53.3h0m-11.9 4h0m-29.5 10.2h0m-299.6 1.9h0m346.8 5.6h0m-336.5 20.5h0m135.8 0.9h0m205.1 6.7h0" stroke="#F0766A" stroke-width="5.8"/>
<path d="M0 0m913.6 86.6h0m42.8 3.1h0m-11.8 4h0m-5.9 2.1h0m14.8 6.7h0m-22.2 1.7h0m26.6 2.8h0m-22.1 1.6h0m10.3 2.4h0m87.1-0.2h0m-76.8 2.6h0m-38.4 1.3h0m16.3 0.3h0m-54.6 1h0m64.9 1.4h0m-54.6 1h0m-5.9 2h0m32.5 0.7h0m16.2 0.4h0m-54.6 0.9h0m70.8-0.6h0m-38.4 1.3h0m-1.4 6.5h0m26.5 2.7h0m-14.8 16.9h0m26.6 2.8h0m-5.9 2h0m-22.1 1.7h0m16.2 0.3h0m-78.2 9h0m81.1 1.9h0m-110.7 8.3h0m48.7 1h0m144.7 9.7h0m-98.9 4.3h0m-44.3 3.3h0m129.9 2.9h0m-122.6 12.4h0m23.6 15.6h0m-122.5 12.3h0m67.9 12.3h0m-8.9 14.9h0m222.9 0.6h0m-196.3 2.1h0m-60.5 3h0m73.7 10.3h0m-125.4 1.5h0m-5.9 2h0m20.6 4.8h0m118.1 6.9h0m-93 2.2h0m36.9 5.2h0m16.2 0.3h0m-28 3.7h0m16.2 0.4h0m42.8 3.1h0m184.5 1.9h0m-256.8 5.1h0m59 3.5h0m-87.1 0.2h0m-5.9 2h0m48.7 1.1h0m-11.8 4h0m-60.5 3h0m4.4 4.4h0m91.5 4.2h0m3 10.8h0m-70.9 0.6h0m63.5 7.9h0m-82.7 4.6h0" stroke="#74B2D6" stroke-width="5.8"/>
<path d="M0 0m856.1 100.4h0m-5.9 2h0m10.3 2.4h0m-38.4 1.3h0m16.2 0.3h0m16.3 0.4h0m-38.4 1.3h0m32.5 0.7h0m16.2 0.4h0m-54.6 0.9h0m16.2 0.4h0m32.5 0.7h0m-70.8 0.6h0m16.2 0.4h0m16.2 0.3h0m32.5 0.7h0m-70.8 0.6h0m64.9 1.5h0m-70.9 0.5h0m16.3 0.4h0m70.8-0.6h0m-109.2 1.9h0m54.6-0.9h0m16.2 0.3h0m-38.3 1.3h0m70.8-0.6h0m-38.4 1.3h0m16.3 0.4h0m-87.1 0.2h0m16.2 0.4h0m16.3 0.3h0m70.8-0.5h0m16.2 0.3h0m-70.8 0.6h0m16.2 0.4h0m16.3 0.3h0m-87.1 0.2h0m16.2 0.4h0m16.3 0.4h0m70.8-0.6h0m-54.6 0.9h0m32.5 0.8h0m-70.9 0.5h0m16.3 0.4h0m70.8-0.6h0m-38.4 1.3h0m16.3 0.4h0m-70.9 0.6h0m16.2 0.3h0m70.9-0.6h0m-54.6 1h0m16.2 0.3h0m16.3 0.4h0m-54.7 0.9h0m70.9-0.5h0m-54.6 0.9h0m16.2 0.4h0m16.2 0.3h0m-70.8 0.6h0m16.2 0.4h0m70.9-0.6h0m16.2 0.3h0m-70.8 0.6h0m16.2 0.4h0m16.2 0.3h0m70.9-0.5h0m-125.5 1.5h0m70.9-0.6h0m16.2 0.4h0m-54.6 0.9h0m70.8-0.6h0m-109.2 1.9h0m70.9-0.6h0m16.2 0.4h0m-54.6 0.9h0m70.8-0.5h0m16.3 0.3h0m-109.2 1.9h0m16.2 0.4h0m70.8-0.6h0m-22.1 1.6h0m-70.9 0.6h0m16.3 0.4h0m70.8-0.6h0m16.3 0.4h0m-70.9 0.5h0m-38.4 1.3h0m16.3 0.4h0m70.8-0.6h0m16.3 0.4h0m-70.9 0.6h0m32.5 0.7h0m87.1-0.2h0m-141.7 1.1h0m70.8-0.6h0m16.2 0.4h0m16.3 0.4h0m-87.1 0.2h0m-22.1 1.6h0m87-0.2h0m16.3 0.4h0m-87.1 0.2h0m16.2 0.4h0m32.5 0.7h0m16.2 0.4h0m16.3 0.3h0m-87.1 0.2h0m16.2 0.4h0m16.3 0.4h0m32.4 0.7h0m16.3 0.3h0m-87.1 0.3h0m16.2 0.3h0m16.3 0.4h0m48.7 1.1h0m-87.1 0.2h0m16.2 0.3h0m16.2 0.4h0m16.3 0.4h0m32.4 0.7h0m70.9-0.6h0m-141.7 1.2h0m16.2 0.3h0m-5.9 2h0m54.6-0.9h0m-38.3 1.3h0m16.2 0.4h0m103.3 0.1h0m-157.9 0.8h0m16.2 0.4h0m54.6-1h0m-38.3 1.3h0m16.2 0.4h0m-38.4 1.3h0m54.6-0.9h0m-22.1 1.6h0m70.8-0.6h0m-54.6 1h0m16.3 0.3h0m-70.9 0.6h0m16.2 0.4h0m16.3 0.3h0m16.2 0.4h0m16.3 0.4h0m-70.9 0.5h0m16.2 0.4h0m16.3 0.4h0m16.2 0.3h0m16.2 0.4h0m-54.6 0.9h0m16.3 0.4h0m103.3 0.1h0m-70.9 0.6h0m-54.6 0.9h0m16.3 0.4h0m32.4 0.7h0m-54.6 1h0m16.3 0.3h0m48.7 1.1h0m48.7 1.1h0m-87.1 0.2h0m32.5 0.7h0m70.8-0.5h0m-76.8 2.6h0m-5.9 2h0m97.4 2.2h0m-125.4 1.5h0m16.2 0.3h0m113.7 2.6h0m-5.9 2h0m-5.9 2h0m-131.4 3.5h0m26.6 2.8h0m134.3 7.3h0m-22.2 1.7h0m32.5 0.7h0m-174.2 0.4h0m113.7 2.5h0m4.4 4.4h0m-87.1 0.3h0m-5.9 2h0m-22.1 1.6h0m103.3 0.2h0m-87.1 0.2h0m4.4 4.4h0m-22.1 1.7h0m87.1-0.2h0m-93 2.2h0m16.2 0.4h0m-5.9 2h0m16.2 0.3h0m135.8 0.9h0m-157.9 0.8h0m32.5 0.7h0m-38.4 1.3h0m16.2 0.4h0m16.3 0.4h0m16.2 0.3h0m-38.4 1.3h0m32.5 0.7h0m-38.4 1.3h0m16.2 0.4h0m10.4 2.4h0m16.2 0.3h0m-22.1 1.7h0m32.4 0.7h0m32.5 0.8h0m-60.5 2.9h0m119.5 0.5h0m-141.7 1.2h0m-5.9 2h0m16.3 0.4h0m4.4 4.4h0m87.1-0.2h0m-109.2 1.8h0m16.2 0.4h0m16.2 0.4h0m119.6 0.5h0m-141.7 1.1h0m157.9-0.8h0m-141.7 1.2h0m-22.1 1.6h0m16.2 0.4h0m16.2 0.4h0m-38.3 1.3h0m32.4 0.7h0m-22.1 1.6h0m64.9 1.5h0m-54.6 0.9h0m10.4 2.4h0m-6 2h0m97.5 2.2h0m-22.2 1.7h0m-87.1 0.2h0m135.8 0.9h0m-70.8 0.5h0m-70.9 0.6h0m-5.9 2h0m10.4 2.4h0m42.7 3.1h0m103.4 0.2h0m-141.7 1.1h0m48.7 1.1h0m-28.1 3.7h0m-38.3 1.3h0m168.2 1.6h0m-70.8 0.6h0m4.4 4.4h0m-5.9 2h0m-93 2.2h0m87.1-0.2h0m-5.9 2h0m16.2 0.4h0m4.4 4.4h0m-22.1 1.7h0m-34 5.7h0m48.7 1.1h0m26.6 2.7h0m-38.4 1.3h0m32.5 0.7h0m16.2 0.4h0m-93 2.2h0m81.2 1.8h0m-28 3.7h0m48.7 1.1h0m-66.5 5h0m70.9-0.6h0m16.2 0.4h0m-153.5 5.2h0m36.9 5.1h0m48.7 1.1h0m-38.4 1.3h0m32.5 0.7h0m-50.2 5.4h0m16.3 0.3h0m64.9 1.5h0m-76.8 2.6h0m-5.9 2h0m70.9-0.6h0m10.3 2.4h0m-22.1 1.7h0m-39.9 7.7h0" stroke="#F0AC5C" stroke-width="5.8"/>
<path d="M0 0m960.9 94.1h0m-1.5 6.4h0m-125.5 1.5h0m32.5 0.8h0m-54.6 0.9h0m16.2 0.4h0m-38.4 1.3h0m16.3 0.3h0m-22.2 1.7h0m87.1-0.2h0m-70.8 0.5h0m-22.2 1.7h0m174.2-0.4h0m-180.1 2.4h0m158-0.8h0m32.4 0.8h0m-70.8 0.5h0m-125.5 1.6h0m174.2-0.5h0m-70.9 0.6h0m-109.2 1.9h0m113.7 2.5h0m64.9 1.5h0m-66.4 4.9h0m10.3 2.4h0m-5.9 2h0m16.2 0.4h0m-5.9 2h0m70.9-0.5h0m-60.6 2.9h0m-22.1 1.7h0m16.2 0.3h0m-5.9 2.1h0m16.3 0.3h0m-38.4 1.3h0m16.2 0.4h0m-22.1 1.6h0m70.8-0.5h0m-54.6 0.9h0m32.5 0.7h0m32.5 0.8h0m-70.9 0.5h0m16.3 0.4h0m16.2 0.4h0m16.2 0.3h0m-54.6 1h0m16.2 0.3h0m16.3 0.4h0m16.2 0.3h0m-54.6 1h0m32.5 0.7h0m16.2 0.4h0m-54.6 0.9h0m16.2 0.4h0m16.3 0.3h0m16.2 0.4h0m16.2 0.3h0m-70.8 0.6h0m16.2 0.4h0m16.3 0.3h0m-38.4 1.3h0m16.2 0.4h0m16.3 0.4h0m16.2 0.3h0m16.2 0.4h0m-70.8 0.6h0m32.4 0.7h0m16.3 0.4h0m-54.6 0.9h0m16.2 0.4h0m70.9-0.6h0m32.4 0.7h0m-87.1 0.2h0m16.3 0.4h0m16.2 0.3h0m-70.8 0.6h0m16.2 0.4h0m70.8-0.6h0m32.5 0.7h0m-70.8 0.6h0m16.2 0.4h0m-54.6 0.9h0m70.8-0.6h0m16.3 0.4h0m-70.9 0.6h0m16.3 0.3h0m16.2 0.4h0m-54.6 0.9h0m70.8-0.6h0m16.3 0.4h0m16.2 0.4h0m-87.1 0.2h0m32.5 0.7h0m-54.6 0.9h0m70.8-0.5h0m16.3 0.3h0m16.2 0.4h0m-87.1 0.2h0m16.2 0.4h0m-38.3 1.3h0m70.8-0.6h0m16.3 0.4h0m-70.9 0.5h0m16.2 0.4h0m16.3 0.4h0m54.6-1h0m-109.2 1.9h0m70.8-0.6h0m16.2 0.4h0m-70.8 0.6h0m16.2 0.3h0m16.3 0.4h0m54.6-1h0m16.2 0.4h0m-54.6 0.9h0m16.2 0.4h0m-54.6 0.9h0m70.9-0.5h0m16.2 0.3h0m-38.4 1.3h0m-70.8 0.6h0m87.1-0.2h0m16.2 0.3h0m16.2 0.4h0m-87 0.2h0m-38.4 1.3h0m16.2 0.4h0m70.9-0.6h0m16.2 0.4h0m16.2 0.3h0m87.1-0.2h0m-174.1 0.4h0m32.4 0.8h0m-54.6 0.9h0m70.9-0.6h0m16.2 0.4h0m16.2 0.4h0m-87.1 0.2h0m16.3 0.3h0m-38.4 1.3h0m87.1-0.2h0m16.2 0.4h0m-87.1 0.2h0m16.3 0.4h0m-38.4 1.3h0m70.8-0.6h0m-54.6 0.9h0m103.3 0.2h0m-125.4 1.5h0m103.3 0.1h0m87.1-0.2h0m-174.2 0.4h0m81.2 1.8h0m-87.1 0.3h0m103.3 0.1h0m-22.1 1.7h0m-87.1 0.2h0m103.3 0.1h0m-22.1 1.7h0m174.1-0.4h0m-261.2 0.6h0m103.3 0.2h0m16.3 0.3h0m-22.2 1.7h0m16.2 0.3h0m-109.2 1.9h0m70.9-0.6h0m16.2 0.4h0m16.2 0.4h0m16.3 0.3h0m-109.2 1.9h0m54.6-0.9h0m32.4 0.7h0m16.3 0.3h0m-38.4 1.3h0m16.2 0.4h0m16.3 0.4h0m-38.4 1.3h0m16.2 0.3h0m32.5 0.8h0m-54.6 0.9h0m32.5 0.7h0m-38.4 1.3h0m16.2 0.4h0m16.2 0.3h0m16.3 0.4h0m-38.4 1.3h0m32.5 0.7h0m16.2 0.4h0m-54.6 0.9h0m16.2 0.4h0m16.3 0.3h0m16.2 0.4h0m-38.4 1.3h0m16.3 0.4h0m16.2 0.3h0m-38.4 1.3h0m16.3 0.4h0m16.2 0.4h0m-38.4 1.3h0m16.2 0.3h0m16.3 0.4h0m16.2 0.3h0m-54.6 1h0m16.2 0.3h0m190.4 0h0m-174.1 0.4h0m16.2 0.4h0m-38.4 1.3h0m16.3 0.3h0m-22.2 1.7h0m16.3 0.3h0m-38.4 1.3h0m32.5 0.8h0m16.2 0.3h0m16.2 0.4h0m-38.4 1.3h0m16.3 0.4h0m-5.9 2h0m16.2 0.3h0m16.2 0.4h0m-38.3 1.3h0m16.2 0.4h0m16.2 0.3h0m-38.3 1.3h0m16.2 0.4h0m16.2 0.3h0m-22.1 1.7h0m16.2 0.4h0m16.3 0.3h0m135.7 0.9h0m-174.1 0.4h0m32.5 0.8h0m152 1.2h0m-190.4 0.1h0m16.2 0.3h0m32.5 0.7h0m-125.5 1.6h0m70.9-0.6h0m16.2 0.3h0m16.2 0.4h0m16.3 0.4h0m-38.4 1.3h0m-70.8 0.5h0m32.4 0.8h0m70.9-0.6h0m-54.6 0.9h0m32.4 0.7h0m-87.1 0.3h0m16.3 0.3h0m16.2 0.4h0m70.9-0.6h0m16.2 0.4h0m-70.8 0.5h0m32.4 0.8h0m-87.1 0.2h0m16.3 0.3h0m16.2 0.4h0m70.9-0.6h0m16.2 0.4h0m-70.9 0.6h0m16.3 0.3h0m16.2 0.4h0m-70.8 0.6h0m16.2 0.3h0m87.1-0.2h0m-38.4 1.3h0m-70.8 0.6h0m16.2 0.4h0m70.8-0.6h0m16.3 0.3h0m16.2 0.4h0m-87.1 0.2h0m16.3 0.4h0m16.2 0.3h0m-70.8 0.6h0m16.2 0.4h0m70.8-0.6h0m-54.6 0.9h0m16.3 0.4h0m16.2 0.4h0m-70.8 0.5h0m16.2 0.4h0m70.8-0.6h0m16.3 0.4h0m-70.9 0.6h0m16.3 0.3h0m16.2 0.4h0m54.6-1h0m-109.2 1.9h0m70.8-0.6h0m16.3 0.4h0m-70.9 0.6h0m16.3 0.3h0m70.8-0.5h0m16.2 0.3h0m-125.4 1.5h0m54.6-0.9h0m32.5 0.7h0m-70.9 0.6h0m16.2 0.4h0m70.9-0.6h0m16.2 0.4h0m-70.8 0.5h0m32.4 0.8h0m-70.8 0.5h0m87.1-0.2h0m16.2 0.4h0m16.3 0.3h0m-141.7 1.2h0m54.6-0.9h0m16.2 0.3h0m16.2 0.4h0m-70.8 0.6h0m16.2 0.3h0m87.1-0.2h0m16.2 0.4h0m-87 0.2h0m16.2 0.3h0m16.2 0.4h0m-70.8 0.6h0m16.2 0.3h0m87.1-0.2h0m16.2 0.4h0m-54.6 0.9h0m-70.8 0.6h0m16.2 0.4h0m70.9-0.6h0m16.2 0.3h0m16.2 0.4h0m-87 0.2h0m16.2 0.4h0m16.2 0.3h0m70.9-0.5h0m-141.7 1.1h0m16.2 0.4h0m87.1-0.2h0m16.2 0.3h0m-87.1 0.2h0m16.3 0.4h0m87.1-0.2h0m-125.5 1.5h0m70.9-0.6h0m16.2 0.4h0m-70.9 0.6h0m32.5 0.7h0m70.9-0.6h0m-125.5 1.5h0m70.8-0.5h0m16.3 0.3h0m-70.9 0.6h0m16.3 0.4h0m16.2 0.3h0m87.1-0.2h0m-141.7 1.2h0m70.8-0.6h0m16.3 0.3h0m16.2 0.4h0m-87.1 0.2h0m16.3 0.4h0m103.3 0.1h0m-70.9 0.6h0m16.3 0.4h0m-70.9 0.5h0m16.3 0.4h0m16.2 0.4h0m54.6-1h0m16.2 0.4h0m-54.6 0.9h0m16.3 0.4h0m-38.4 1.3h0m54.6-1h0m16.2 0.4h0m190.4-0.1h0m-245 1h0m16.3 0.4h0m-70.9 0.6h0m16.2 0.3h0m70.9-0.5h0m16.2 0.3h0m-125.4 1.5h0m70.8-0.5h0m87.1-0.2h0m-141.7 1.1h0m87.1-0.2h0m16.2 0.4h0m16.3 0.3h0m-141.7 1.2h0m54.6-1h0m16.2 0.4h0m87.1-0.2h0m-141.7 1.1h0m87.1-0.2h0m16.2 0.4h0m-70.8 0.6h0m16.2 0.3h0m16.2 0.4h0m70.9-0.6h0m-141.7 1.2h0m16.2 0.3h0m70.9-0.6h0m16.2 0.4h0m16.2 0.4h0m-87 0.2h0m16.2 0.3h0m16.2 0.4h0m70.9-0.6h0m-141.7 1.2h0m16.2 0.3h0m87.1-0.2h0m16.2 0.4h0m-87 0.2h0m16.2 0.4h0m16.2 0.3h0m70.9-0.6h0m-141.7 1.2h0m16.2 0.4h0m87.1-0.3h0m16.2 0.4h0m-70.8 0.6h0m87.1-0.2h0m16.2 0.3h0m-157.9 0.8h0m16.2 0.4h0m70.8-0.6h0m32.5 0.7h0m-87.1 0.2h0m16.3 0.4h0m16.2 0.4h0m87.1-0.2h0m-70.9 0.5h0m32.5 0.8h0m54.6-1h0m-141.7 1.2h0m16.3 0.3h0m16.2 0.4h0m70.8-0.6h0m16.3 0.4h0m-70.9 0.6h0m87.1-0.3h0m-141.7 1.2h0m16.3 0.4h0m103.3 0.1h0m-70.9 0.6h0m87.1-0.2h0m-141.7 1.1h0m16.3 0.4h0m103.3 0.1h0m-54.6 1h0m70.8-0.6h0m16.2 0.3h0m-157.9 0.8h0m16.2 0.4h0m16.3 0.4h0m87.1-0.3h0m-70.9 0.6h0m16.3 0.4h0m70.8-0.6h0m16.2 0.4h0m-157.9 0.8h0m16.2 0.3h0m16.3 0.4h0m87.1-0.2h0m-70.9 0.5h0m16.2 0.4h0m70.9-0.6h0m222.9 0.7h0m-348.4 0.8h0m87.1-0.2h0m16.2 0.4h0m-87 0.2h0m16.2 0.4h0m16.2 0.3h0m70.9-0.5h0m16.2 0.3h0m16.3 0.4h0m-158 0.8h0m87.1-0.2h0m16.2 0.3h0m-87 0.2h0m32.4 0.8h0m70.9-0.6h0m16.2 0.3h0m16.2 0.4h0m-157.9 0.8h0m70.9-0.6h0m32.4 0.7h0m277.5-0.3h0m-364.5 0.6h0m16.2 0.3h0m87.1-0.2h0m16.2 0.4h0m16.2 0.3h0m190.4 0h0m-277.4 0.2h0m-54.7 1h0m16.3 0.3h0m16.2 0.4h0m70.9-0.6h0m16.2 0.4h0m16.2 0.3h0m-70.8 0.6h0m16.2 0.4h0m70.9-0.6h0m-158 0.8h0m16.3 0.4h0m87.1-0.3h0m-38.4 1.3h0m87.1-0.2h0m190.4 0h0m-332.1 1.2h0m16.2 0.3h0m70.9-0.5h0m-22.2 1.6h0m70.9-0.5h0m16.2 0.3h0m-54.6 1h0m-54.6 0.9h0m16.2 0.4h0m54.6-1h0m16.2 0.4h0m16.3 0.3h0m-157.9 0.8h0m87-0.2h0m16.3 0.4h0m-70.9 0.6h0m16.3 0.3h0m16.2 0.4h0m-54.6 0.9h0m87.1-0.2h0m-70.9 0.6h0m16.3 0.3h0m70.8-0.5h0m16.2 0.3h0m16.3 0.4h0m-87.1 0.2h0m16.2 0.4h0m87.1-0.3h0m-125.5 1.6h0m70.9-0.6h0m16.2 0.3h0m-54.6 1h0m16.3 0.3h0m70.8-0.5h0m-141.7 1.1h0m16.2 0.4h0m70.9-0.6h0m16.2 0.4h0m16.3 0.3h0m-70.9 0.6h0m16.2 0.4h0m70.9-0.6h0m-141.7 1.1h0m87.1-0.2h0m16.2 0.4h0m16.3 0.4h0m-87.1 0.2h0m16.2 0.3h0m32.5 0.8h0m32.4 0.7h0m-87 0.2h0m16.2 0.4h0m16.2 0.3h0m70.9-0.6h0m-125.5 1.6h0m70.9-0.6h0m16.2 0.3h0m-70.8 0.6h0m16.2 0.4h0m16.2 0.3h0m16.3 0.4h0m16.2 0.4h0m16.2 0.3h0m-87 0.2h0m16.2 0.4h0m16.2 0.4h0m70.9-0.6h0m16.2 0.3h0m-70.8 0.6h0m16.2 0.4h0m16.2 0.3h0m-87.1 0.3h0m16.3 0.3h0m16.2 0.4h0m70.9-0.6h0m16.2 0.4h0m-70.9 0.5h0m16.3 0.4h0m16.2 0.4h0m-70.8 0.5h0m103.3 0.2h0m-70.9 0.6h0m16.3 0.3h0m-54.6 1h0m16.2 0.3h0m70.8-0.5h0m16.3 0.3h0m-54.6 1h0m-54.6 0.9h0m16.2 0.4h0m70.8-0.6h0m32.5 0.7h0m-109.2 1.9h0m54.6-1h0m32.5 0.8h0m-70.9 0.5h0m87.1-0.2h0m-54.6 1h0m16.2 0.3h0m16.3 0.4h0m-87.1 0.2h0m103.3 0.1h0m-54.6 1h0m16.2 0.3h0m16.3 0.4h0m-54.7 0.9h0m87.1-0.2h0m-70.8 0.6h0m16.2 0.4h0m16.2 0.3h0m-70.8 0.6h0m103.3 0.2h0m-70.8 0.5h0m32.4 0.8h0m32.5 0.7h0m-70.8 0.6h0m16.2 0.3h0m16.2 0.4h0m16.3 0.3h0m-38.4 1.3h0m16.2 0.4h0m-22.1 1.7h0m32.5 0.7h0m16.2 0.3h0m-54.6 1h0m16.2 0.3h0m16.3 0.4h0m16.2 0.4h0m-54.6 0.9h0m16.2 0.4h0m32.5 0.7h0m-22.2 1.7h0m16.3 0.3h0m-22.2 1.7h0m16.3 0.3h0m-5.9 2.1h0" stroke="#AAEC5E" stroke-width="5.8"/>
<path d="M0 0m919.6 84.6h0m16.2 0.3h0m16.2 0.4h0m16.3 0.3h0m-60.6 3h0m16.3 0.4h0m-22.2 1.6h0m10.4 2.4h0m-22.2 1.7h0m32.5 0.7h0m-38.4 1.3h0m32.5 0.7h0m48.7 1.1h0m-87.1 0.2h0m32.5 0.7h0m-22.2 1.7h0m16.3 0.4h0m32.4 0.7h0m-54.6 0.9h0m16.3 0.4h0m16.2 0.3h0m-38.4 1.3h0m87.1-0.2h0m-70.8 0.6h0m16.2 0.4h0m-5.9 2h0m16.2 0.4h0m-33.9 5.7h0m10.3 2.3h0m16.2 0.4h0m48.7 1.1h0m-98.9 4.3h0m65 1.4h0m-5.9 2h0m16.2 0.4h0m-38.4 1.3h0m-157.9 0.8h0m184.5 1.9h0m16.2 0.4h0m-22.1 1.7h0m-54.6 0.9h0m48.7 1.1h0m-125.5 1.5h0m-54.6 0.9h0m174.2-0.4h0m48.7 1.1h0m-11.8 4h0m4.4 4.4h0m-11.8 4.1h0m-5.9 2h0m-7.4 8.5h0m10.3 2.3h0m-160.9 13.7h0m4.4 51.8h0m-19.3 36.2h0m-11.8 4.1h0m4.4 4.4h0m4.5 4.4h0" stroke="#F6CBEA" stroke-width="5.8"/>
<path d="M0 0m1024.3 102h0m10.4 2.3h0m-6 2.1h0m-1.4 6.4h0m4.4 4.4h0m-14.8 16.9h0m-5.9 2h0m10.3 2.4h0m-5.9 2h0m10.3 2.4h0m-22.1 1.7h0m16.2 0.4h0m-5.9 2h0m-5.9 2h0m16.3 0.4h0m-5.9 2h0m-6 2h0m-5.9 2h0m16.3 0.4h0m-22.2 1.7h0m16.3 0.3h0m-5.9 2h0m-5.9 2.1h0m16.2 0.3h0m-5.9 2h0m-5.9 2.1h0m-5.9 2h0m16.2 0.4h0m-22.1 1.6h0m4.4 4.4h0m16.2 0.4h0m-22.1 1.7h0m-5.9 2h0m32.4 0.7h0m-22.1 1.7h0m16.2 0.3h0m-22.1 1.7h0m16.2 0.3h0m4.4 4.5h0m-5.9 2h0m-5.9 2h0m16.3 0.4h0m32.4 0.7h0m-54.6 0.9h0m16.3 0.4h0m48.7 1.1h0m-70.9 0.5h0m65 1.5h0m-38.4 1.3h0m-22.2 1.7h0m54.7-1h0m16.2 0.4h0m-54.6 0.9h0m32.4 0.7h0m-44.2 3.4h0m87-0.3h0m16.3 0.4h0m-109.2 1.9h0m87-0.2h0m16.3 0.3h0m-38.4 1.3h0m-54.6 1h0m87.1-0.3h0m-38.4 1.3h0m-54.6 1h0m70.8-0.6h0m16.3 0.4h0m16.2 0.3h0m-87.1 0.3h0m32.5 0.7h0m32.5 0.7h0m16.2 0.4h0m-87.1 0.2h0m32.5 0.7h0m16.2 0.4h0m16.2 0.3h0m16.3 0.4h0m-87.1 0.2h0m103.3 0.1h0m-109.2 1.9h0m16.2 0.4h0m70.9-0.6h0m16.2 0.4h0m-54.6 0.9h0m-38.4 1.3h0m70.9-0.6h0m-38.4 1.3h0m16.2 0.4h0m-54.6 0.9h0m87.1-0.2h0m16.2 0.4h0m-70.8 0.6h0m16.2 0.3h0m16.3 0.4h0m16.2 0.3h0m-70.9 0.6h0m32.5 0.7h0m16.3 0.4h0m16.2 0.4h0m16.2 0.3h0m-87.1 0.2h0m32.5 0.8h0m70.9-0.6h0m-5.9 2h0m-54.7 0.9h0m16.3 0.4h0m16.2 0.4h0m16.2 0.3h0m-54.6 1h0m16.3 0.3h0m-54.6 1h0m87-0.3h0m16.3 0.4h0m-70.9 0.6h0m16.3 0.3h0m32.4 0.8h0m16.3 0.3h0m-54.6 1h0m16.2 0.3h0m-54.6 1h0m70.8-0.6h0m16.3 0.4h0m-93 2.2h0m87.1-0.2h0m10.3 2.4h0m-54.6 0.9h0m48.7 1.1h0m-38.4 1.3h0m26.6 2.7h0m16.2 0.4h0m-5.9 2h0m-35.4 12.2h0m4.4 4.4h0m-5.9 2h0m-1.5 6.4h0m26.5 2.8h0m16.3 0.3h0m-5.9 2h0m-22.2 1.7h0m32.5 0.7h0m-5.9 2.1h0m-38.4 1.3h0m16.3 0.3h0m32.4 0.7h0m-5.9 2.1h0m-54.6 0.9h0m16.2 0.4h0m16.3 0.3h0m16.2 0.4h0m16.2 0.3h0m-70.8 0.6h0m16.2 0.4h0m16.3 0.4h0m32.4 0.7h0m-54.6 0.9h0m16.3 0.4h0m16.2 0.3h0m16.2 0.4h0m-38.3 1.3h0m16.2 0.4h0m16.2 0.3h0m16.3 0.4h0m-54.7 0.9h0m32.5 0.7h0m-38.4 1.3h0m16.3 0.4h0m16.2 0.4h0m-38.4 1.3h0m16.3 0.3h0m32.4 0.7h0m-38.3 1.4h0m16.2 0.3h0m32.5 0.7h0m-38.4 1.3h0m16.2 0.4h0m-38.3 1.3h0m70.8-0.6h0m-54.6 1h0m16.2 0.3h0m32.5 0.7h0m-54.6 1h0m32.4 0.7h0m16.3 0.4h0m-38.4 1.3h0m16.2 0.3h0m16.3 0.4h0m-38.4 1.3h0m32.5 0.7h0m16.2 0.4h0m-38.4 1.3h0m16.3 0.3h0m16.2 0.4h0m-38.4 1.3h0m32.5 0.7h0m16.2 0.4h0m-38.3 1.3h0m16.2 0.3h0m16.2 0.4h0m-38.4 1.3h0m32.5 0.7h0m-5.9 2.1h0m16.2 0.3h0m-22.1 1.7h0m16.2 0.3h0m-22.1 1.7h0" stroke="#B47CD0" stroke-width="5.8"/>
<path d="M0 0m844.3 104.4h0m-11.9 4.1h0m-38.3 1.3h0m48.7 1.1h0m32.4 0.7h0m-138.7 12h0m152 1.2h0m-94.5 8.7h0m87.1-0.2h0m-11.8 4h0m-88.6 6.6h0m14.8 6.8h0m16.2 0.4h0m97.4 2.2h0m-128.4 14.3h0m-5.9 2.1h0m-28.1 3.7h0m-5.9 2h0m16.3 0.3h0m-5.9 2.1h0m16.2 0.3h0m-22.1 1.7h0m32.4 0.7h0m16.3 0.4h0m-54.6 0.9h0m48.7 1.1h0m-38.4 1.3h0m16.2 0.4h0m16.3 0.3h0m-38.4 1.3h0m261.2-0.6h0m-245 1h0m16.2 0.3h0m16.3 0.4h0m-54.6 0.9h0m261.2-0.6h0m-245 1h0m16.2 0.4h0m16.3 0.3h0m206.6 0.3h0m-245 1h0m16.2 0.4h0m16.3 0.3h0m-22.2 1.7h0m16.3 0.4h0m16.2 0.3h0m-54.6 1h0m16.2 0.3h0m32.5 0.8h0m-38.4 1.3h0m16.3 0.3h0m16.2 0.4h0m103.3 0.1h0m-141.7 1.2h0m16.2 0.3h0m32.5 0.8h0m-54.6 0.9h0m16.2 0.4h0m16.3 0.3h0m16.2 0.4h0m-38.4 1.3h0m16.3 0.3h0m16.2 0.4h0m-22.1 1.7h0m16.2 0.3h0m277.5-0.3h0m16.2 0.4h0m-277.5 0.3h0m-38.3 1.3h0m16.2 0.4h0m16.2 0.3h0m-38.4 1.3h0m16.3 0.4h0m16.2 0.3h0m-38.4 1.3h0m16.3 0.4h0m32.4 0.7h0m-38.3 1.3h0m32.4 0.7h0m-5.9 2.1h0m-38.3 1.3h0m48.7 1.1h0m-38.4 1.3h0m152 1.2h0m-5.9 2h0m-125.5 1.5h0m16.3 0.4h0m-23.7 8.1h0m10.4 2.4h0m-22.2 1.6h0m-5.9 2h0m32.5 0.8h0m-38.4 1.3h0m16.3 0.3h0m16.2 0.4h0m-11.8 4h0m16.2 0.4h0m87.1-0.2h0m-98.9 4.2h0m-22.1 1.7h0m32.4 0.7h0m-23.6 8.1h0m26.6 2.8h0m-38.4 1.3h0m129.9 2.9h0m-125.5 1.5h0m-5.9 2h0m14.8 6.8h0m146.1 3.2h0m190.4 0h0m-202.2 4.1h0m-54.7 0.9h0m261.3-0.6h0m-267.2 2.7h0m274.5 12.5h0m10.4 2.4h0m-261.3 0.7h0m249.5 3.4h0m-277.5 0.2h0m-11.8 4.1h0m10.3 2.4h0m-28 3.7h0m-22.2 1.6h0m26.6 2.8h0m-38.4 1.3h0m-3 12.8h0m87.1-0.2h0m26.6 2.8h0m-121.1 5.9h0m53.2 5.5h0m32.4 0.7h0m-51.6 11.8h0m-5.9 2h0m32.4 0.7h0" stroke="#A4D6E6" stroke-width="5.8"/>
</g>
</g>
<path d="M234.4,182.9C239.8,184.6 245.3,188.4 250.7,191.9C256.1,195.4 261.6,200.8 267,204.1C272.4,207.3 277.9,209.8 283.3,211.4C288.7,213 293.5,213.6 299.6,213.4C305.7,213.2 312.5,211.5 320,210.2C327.5,208.8 333.5,207.6 344.4,205.3C355.3,203.1 371.6,199.5 385.2,196.7C398.8,193.9 412.3,191.3 425.9,188.6C439.5,185.9 453.1,182.9 466.7,180.4C480.3,177.9 493.8,175.5 507.4,173.5C521,171.5 534.6,170 548.2,168.2C561.8,166.4 575.3,164.8 588.9,162.5C602.5,160.2 616,157.7 629.6,154.4C643.2,151.2 657.8,147.3 670.4,143C683,138.7 694.6,132.2 705,128.5C715.4,124.8 723.7,123.2 733,120.5C742.3,117.8 749.5,115.5 761,112C772.5,108.5 788.9,101.6 801.9,99.5C814.9,97.4 828.6,98.2 838.9,99.4C849.2,100.6 855.9,102.5 863.6,106.5C871.3,110.5 878.5,117.1 885.2,123.5C891.9,129.9 898.6,137.9 903.7,145.1C908.8,152.3 912.4,159 916,166.7C919.6,174.4 923.5,183.2 925.3,191.4C927.1,199.6 927.4,207.8 926.9,216C926.4,224.2 924.5,232.5 922.2,240.7C919.9,248.9 916.6,257.1 913,265.4C909.4,273.7 905.2,282.1 900.6,290.5C896,298.9 890.9,307.2 885.2,316C879.6,324.8 872.9,335.7 866.7,343.3C860.5,350.9 854.3,357 848.1,361.9C841.9,366.8 836.3,369.9 829.6,372.7C822.9,375.5 815.2,378.6 808,378.8C800.8,379.1 794.1,377.3 786.4,374.2C778.7,371.1 770.1,365.4 761.7,360C753.4,354.6 743.4,347.6 736.3,342C729.2,336.4 724.8,331.6 719.3,326.3C713.8,321 708.4,315.4 703,310C697.6,304.6 692.1,298.1 686.7,293.7C681.3,289.3 676.5,285.9 670.4,283.5C664.3,281.1 656.8,279.6 650,279.4C643.2,279.2 636.4,280.2 629.6,282.3C622.8,284.4 615.4,287.8 609.3,291.7C603.2,295.6 597.8,300.8 593,305.9C588.2,311 584.9,316.8 580.8,322.2C576.7,327.6 572.6,332.7 568.5,338.5C564.4,344.3 560.4,350.8 556.3,356.9C552.2,363 548.9,369.4 544.1,375.2C539.4,381 533.9,386.8 527.8,391.5C521.7,396.2 514.2,400.8 507.4,403.7C500.6,406.6 494.5,408.1 487,408.6C479.5,409.2 470.7,408.1 462.6,407C454.5,405.9 446.4,403.6 438.2,401.7C430,399.8 421.8,397 413.7,395.6C405.6,394.2 397.4,393.5 389.3,393.5C381.2,393.5 373,394.6 364.8,395.6C356.6,396.6 348.5,398.4 340.4,399.6C332.2,400.8 324,402.3 315.9,402.9C307.8,403.4 299.6,403.4 291.5,402.9C283.4,402.3 275.1,401.2 267,399.6C258.9,398 250.7,396.2 242.6,393.5C234.5,390.8 226.3,387 218.2,383.3C210,379.6 201.2,375.5 193.7,371.1C186.2,366.7 179.4,362 173.3,356.9C167.2,351.8 162.1,346.4 157,340.6C151.9,334.8 146.9,328.6 142.8,322.2C138.7,315.8 135.5,309.4 132.6,301.9C129.7,294.4 126.8,285.5 125.3,277.4C123.8,269.2 123.1,261.1 123.6,253C124.1,244.8 125.7,235.6 128.5,228.5C131.3,221.4 135.9,215.5 140.7,210.2C145.4,204.9 150.9,200.4 157,196.7C163.1,193 170.6,190.1 177.4,187.8C184.2,185.5 191,183.9 197.8,182.9C204.6,181.9 212.1,181.7 218.2,181.7C224.3,181.7 229,181.2 234.4,182.9Z" fill="none" stroke="#E5261F" stroke-width="2.7" stroke-dasharray="11 5"/>
<text x="74.8" y="173.3" font-size="29.6">H2_1</text>
<text x="320.3" y="175.4" font-size="29.6">H2_2</text>
<text x="788.5" y="470.8" font-size="29.6">H2_3</text>
<text x="489" y="105.5" font-size="33.5" text-anchor="middle">Region with chr 10 loss</text>
<path d="M1047.8,504.8H1110.5" stroke="#000" stroke-width="1.6"/>
<text x="1079" y="496.1" font-size="18" text-anchor="middle">1 mm</text>
</g>
<g id="panel_c">
<defs><filter id="tc" x="-3%" y="-3%" width="106%" height="106%" color-interpolation-filters="sRGB"><feTurbulence type="fractalNoise" baseFrequency="0.09" numOctaves="2" seed="11" result="e"/><feDisplacementMap in="SourceGraphic" in2="e" scale="6" xChannelSelector="R" yChannelSelector="G" result="s"/><feTurbulence type="turbulence" baseFrequency="0.11" numOctaves="2" seed="4" result="n"/><feColorMatrix in="n" type="matrix" values="0.5 0 0 0 0.360 0.5 0 0 0 0.360 0.375 0 0 0 0.395 0 0 0 0 1" result="nc"/><feTurbulence type="fractalNoise" baseFrequency="0.05" numOctaves="3" seed="7" result="n2"/><feColorMatrix in="n2" type="matrix" values="0.42 0 0 0 0.324 -0.105 0 0 0 0.552 0.042 0 0 0 0.479 0 0 0 0 1" result="nc2"/><feBlend in="nc" in2="s" mode="hard-light" result="b"/><feBlend in="nc2" in2="b" mode="hard-light" result="b2"/><feComposite in="b2" in2="s" operator="in"/></filter><filter id="tc3" x="-3%" y="-3%" width="106%" height="106%" color-interpolation-filters="sRGB"><feTurbulence type="fractalNoise" baseFrequency="0.1" numOctaves="2" seed="16" result="e"/><feDisplacementMap in="SourceGraphic" in2="e" scale="5" xChannelSelector="R" yChannelSelector="G" result="s"/><feTurbulence type="turbulence" baseFrequency="0.12" numOctaves="2" seed="9" result="n"/><feColorMatrix in="n" type="matrix" values="0.5 0 0 0 0.360 0.5 0 0 0 0.360 0.375 0 0 0 0.395 0 0 0 0 1" result="nc"/><feTurbulence type="fractalNoise" baseFrequency="0.05" numOctaves="3" seed="12" result="n2"/><feColorMatrix in="n2" type="matrix" values="0.35 0 0 0 0.353 -0.087 0 0 0 0.544 0.035 0 0 0 0.482 0 0 0 0 1" result="nc2"/><feBlend in="nc" in2="s" mode="hard-light" result="b"/><feBlend in="nc2" in2="b" mode="hard-light" result="b2"/><feComposite in="b2" in2="s" operator="in"/></filter><filter id="bl12" x="-30%" y="-30%" width="160%" height="160%"><feGaussianBlur stdDeviation="12"/></filter><filter id="bl5" x="-30%" y="-30%" width="160%" height="160%"><feGaussianBlur stdDeviation="4"/></filter></defs>
<clipPath id="cc1"><rect x="1315.6" y="49.6" width="566.9" height="370.7"/></clipPath>
<rect x="1315.6" y="49.6" width="566.9" height="370.7" fill="#FBF5F6"/>
<g clip-path="url(#cc1)">
<g fill="none" stroke-linecap="round"><path d="M1316.6,53.6V420.3" stroke="#cdc6cf" stroke-width="7.4" stroke-dasharray="0 13.8"/><path d="M1316.6,53.6V420.3" stroke="#F3EDF2" stroke-width="3.8" stroke-dasharray="0 13.8"/></g>
<g fill="none" stroke-linecap="round"><path d="M1326.6,60.6V420.3" stroke="#d8d2da" stroke-width="7.4" stroke-dasharray="0 13.8"/><path d="M1326.6,60.6V420.3" stroke="#F6F0F4" stroke-width="3.8" stroke-dasharray="0 13.8"/></g>
<clipPath id="ct1"><path d="M1315.6,105.2C1321.6,104.8 1330.1,103 1341.1,103.1C1352.1,103.3 1368.1,106 1381.7,106C1395.2,106 1408.7,105 1422.2,103.1C1435.7,101.3 1449.3,96.5 1462.8,95C1476.3,93.5 1489.8,94.6 1503.3,94.2C1516.8,93.9 1530.4,92.5 1543.9,93C1557.4,93.5 1570.9,96 1584.4,97.1C1598,98.1 1611.5,99.1 1625,99.1C1638.5,99.1 1652,97.7 1665.5,97.1C1679.1,96.4 1692.6,95 1706.1,95C1719.6,95 1733.1,96.4 1746.7,97.1C1760.2,97.7 1774.4,98.1 1787.2,99.1C1800.1,100.1 1817,100.4 1823.7,103.1C1830.5,105.8 1829.1,110.2 1827.8,115.3C1826.4,120.4 1819,127.1 1815.6,133.6C1812.2,140 1809.2,146.4 1807.5,153.8C1805.8,161.3 1804.1,170.7 1805.5,178.2C1806.8,185.6 1814.6,191.7 1815.6,198.4C1816.6,205.2 1814.2,212 1811.5,218.7C1808.8,225.5 1803.4,233.3 1799.4,239C1795.3,244.7 1790.6,249.1 1787.2,253.2C1783.8,257.2 1783.2,259.9 1779.1,263.3C1775,266.7 1768.3,272.5 1762.9,273.5C1757.5,274.5 1752.7,268.1 1746.7,269.4C1740.6,270.8 1731.1,276.5 1726.4,281.6C1721.6,286.6 1724.4,294.4 1718.3,299.8C1712.2,305.2 1698.7,309.6 1689.9,314C1681.1,318.4 1673,322.8 1665.5,326.2C1658.1,329.6 1652,330.2 1645.3,334.3C1638.5,338.4 1631.8,345.8 1625,350.5C1618.2,355.3 1611.5,359.3 1604.7,362.7C1598,366.1 1591.2,368.1 1584.4,370.8C1577.7,373.5 1570.9,376.2 1564.2,378.9C1557.4,381.6 1550.6,384.7 1543.9,387C1537.1,389.4 1530.4,393.1 1523.6,393.1C1516.8,393.1 1510.1,387.4 1503.3,387C1496.6,386.7 1489.8,391.1 1483.1,391.1C1476.3,391.1 1469.5,388.4 1462.8,387C1456,385.7 1449.3,385 1442.5,383C1435.7,380.9 1429,377.6 1422.2,374.9C1415.5,372.2 1408.7,369.4 1401.9,366.7C1395.2,364 1387.7,362 1381.7,358.6C1375.6,355.3 1369.5,351.9 1365.4,346.5C1361.4,341.1 1359.7,332.9 1357.3,326.2C1355,319.4 1354,311.3 1351.2,305.9C1348.5,300.5 1345.5,297.8 1341.1,293.7C1336.7,289.7 1331,285 1324.9,281.6C1318.8,278.2 1308,302.9 1304.6,273.5C1301.2,244.1 1302.8,133.2 1304.6,105.2C1306.4,77.1 1309.5,105.5 1315.6,105.2Z"/></clipPath>
<g filter="url(#tc)"><g clip-path="url(#ct1)">
<rect x="1305.6" y="39.6" width="586.9" height="390.7" fill="#925AA2"/>
<ellipse cx="1400" cy="150" rx="70" ry="55" fill="#7E3F94" opacity="0.7" filter="url(#bl12)"/>
<ellipse cx="1500" cy="230" rx="60" ry="50" fill="#86459A" opacity="0.55" filter="url(#bl12)"/>
<ellipse cx="1560" cy="335" rx="90" ry="40" fill="#A890C4" opacity="0.6" filter="url(#bl12)"/>
<ellipse cx="1700" cy="140" rx="90" ry="50" fill="#A852AE" opacity="0.5" filter="url(#bl12)"/>
<ellipse cx="1760" cy="260" rx="60" ry="40" fill="#C04CB0" opacity="0.6" filter="url(#bl12)"/>
<ellipse cx="1450" cy="330" rx="50" ry="30" fill="#B858B4" opacity="0.5" filter="url(#bl12)"/>
<ellipse cx="1640" cy="230" rx="70" ry="40" fill="#9A68B4" opacity="0.5" filter="url(#bl12)"/>
<ellipse cx="1360" cy="150" rx="40" ry="60" fill="#7A3C90" opacity="0.6" filter="url(#bl12)"/>
</g></g>
<g fill="none" stroke-linecap="round">
<path d="M0 0m1545.9 94h0m73.1 7.6h0m-176.3 7.6h0m51.6 0h0m17.2 0h0m17.2 0h0m68.8 0h0m8.6 0h0m137.6 0h0m8.6 0h0m25.8 0h0m-374.1 7.6h0m34.4 0h0m77.4 0h0m8.6 0h0m94.6 0h0m172 0h0m17.2 0h0m-159.1 7.6h0m43 0h0m68.8 0h0m-141.9 7.6h0m8.6 0h0m77.4 0h0m-38.7 7.6h0m-90.3 7.6h0m189.2 0h0m25.8 0h0m8.6 0h0m-279.5 7.6h0m86 0h0m51.6 0h0m8.6 0h0m137.6 0h0m-202.1 7.6h0m129 0h0m17.2 0h0m8.6 0h0m-184.9 7.6h0m103.2 0h0m-4.3 7.6h0m25.8 0h0m-210.7 7.6h0m292.4 0h0m-288.1 7.6h0m146.2 0h0m68.8 0h0m60.2 0h0m-382.7 7.6h0m344 0h0m-176.3 7.6h0m8.6 0h0m43 0h0m94.6 0h0m17.2 0h0m25.8 0h0m-374.1 7.6h0m215 0h0m43 0h0m43 0h0m34.4 0h0m8.6 0h0m86 0h0m-451.5 7.6h0m223.6 0h0m51.6 0h0m-176.3 7.6h0m146.2 0h0m94.6 0h0m55.9 7.6h0m60.2 0h0m-322.5 7.6h0m103.2 0h0m68.8 0h0m-193.5 7.6h0m51.6 0h0m17.2 0h0m51.6 0h0m34.4 0h0m111.8 0h0m17.2 0h0m-262.3 7.7h0m94.6 0h0m8.6 0h0m197.8 0h0m-408.5 7.6h0m163.4 0h0m77.4 0h0m129 0h0m-236.5 7.6h0m34.4 0h0m-47.3 7.6h0m129 0h0m68.8 0h0m-288.1 7.6h0m275.2 0h0m4.3 7.6h0m-176.3 7.6h0m38.7 7.6h0m111.8 0h0m-116.1 7.6h0m94.6 0h0m8.6 0h0m8.6 0h0m-227.9 7.6h0m103.2 0h0m8.6 0h0m-103.2 15.2h0m73.1 7.6h0m25.8 30.4h0" stroke="#5a3a4a" stroke-opacity="0.1" stroke-width="7.8"/>
<path d="M0 0m1545.9 94h0m73.1 7.6h0m-176.3 7.6h0m51.6 0h0m17.2 0h0m17.2 0h0m68.8 0h0m8.6 0h0m137.6 0h0m8.6 0h0m25.8 0h0m-374.1 7.6h0m34.4 0h0m77.4 0h0m8.6 0h0m94.6 0h0m172 0h0m17.2 0h0m-159.1 7.6h0m43 0h0m68.8 0h0m-141.9 7.6h0m8.6 0h0m77.4 0h0m-38.7 7.6h0m-90.3 7.6h0m189.2 0h0m25.8 0h0m8.6 0h0m-279.5 7.6h0m86 0h0m51.6 0h0m8.6 0h0m137.6 0h0m-202.1 7.6h0m129 0h0m17.2 0h0m8.6 0h0m-184.9 7.6h0m103.2 0h0m-4.3 7.6h0m25.8 0h0m-210.7 7.6h0m292.4 0h0m-288.1 7.6h0m146.2 0h0m68.8 0h0m60.2 0h0m-382.7 7.6h0m344 0h0m-176.3 7.6h0m8.6 0h0m43 0h0m94.6 0h0m17.2 0h0m25.8 0h0m-374.1 7.6h0m215 0h0m43 0h0m43 0h0m34.4 0h0m8.6 0h0m86 0h0m-451.5 7.6h0m223.6 0h0m51.6 0h0m-176.3 7.6h0m146.2 0h0m94.6 0h0m55.9 7.6h0m60.2 0h0m-322.5 7.6h0m103.2 0h0m68.8 0h0m-193.5 7.6h0m51.6 0h0m17.2 0h0m51.6 0h0m34.4 0h0m111.8 0h0m17.2 0h0m-262.3 7.7h0m94.6 0h0m8.6 0h0m197.8 0h0m-408.5 7.6h0m163.4 0h0m77.4 0h0m129 0h0m-236.5 7.6h0m34.4 0h0m-47.3 7.6h0m129 0h0m68.8 0h0m-288.1 7.6h0m275.2 0h0m4.3 7.6h0m-176.3 7.6h0m38.7 7.6h0m111.8 0h0m-116.1 7.6h0m94.6 0h0m8.6 0h0m8.6 0h0m-227.9 7.6h0m103.2 0h0m8.6 0h0m-103.2 15.2h0m73.1 7.6h0m25.8 30.4h0" stroke="#93A8B4" stroke-width="7.1" opacity="0.3"/>
<path d="M0 0m1644.8 101.6h0m34.4 0h0m-124.7 7.6h0m240.8 0h0m-339.7 7.6h0m172 0h0m68.8 0h0m8.6 0h0m51.6 0h0m-210.7 7.6h0m111.8 0h0m120.4 0h0m25.8 0h0m8.6 0h0m-313.9 7.6h0m25.8 0h0m51.6 0h0m34.4 0h0m77.4 0h0m-129 15.2h0m111.8 15.2h0m17.2 0h0m51.6 0h0m-107.5 7.6h0m103.2 0h0m25.8 0h0m4.3 7.6h0m8.6 0h0m-253.7 7.6h0m223.6 0h0m-124.7 7.6h0m180.6 0h0m-193.5 7.6h0m77.4 0h0m-210.7 22.8h0m129 0h0m77.4 0h0m8.6 0h0m51.6 0h0m-21.5 7.6h0m34.4 0h0m-38.7 7.6h0m12.9 7.6h0m43 0h0m-202.1 7.6h0m34.4 0h0m86 0h0m38.7 7.7h0m25.8 0h0m-391.3 7.6h0m258 0h0m25.8 0h0m111.8 0h0m-184.9 7.6h0m68.8 0h0m-64.5 7.6h0m17.2 0h0m51.6 0h0m25.8 0h0m-141.9 7.6h0m8.6 0h0m86 0h0m-90.3 7.6h0m163.4 0h0m17.2 0h0m-167.7 7.6h0m-98.9 7.6h0m223.6 0h0m-202.1 7.6h0m17.2 0h0m94.6 0h0m25.8 0h0m60.2 0h0m-296.7 7.6h0m275.2 0h0m-25.8 15.2h0m-236.5 7.6h0m180.6 0h0m-64.5 7.6h0m90.3 7.6h0m-150.5 7.6h0m86 0h0m-43 15.2h0" stroke="#5a3a4a" stroke-opacity="0.1" stroke-width="7.8"/>
<path d="M0 0m1644.8 101.6h0m34.4 0h0m-124.7 7.6h0m240.8 0h0m-339.7 7.6h0m172 0h0m68.8 0h0m8.6 0h0m51.6 0h0m-210.7 7.6h0m111.8 0h0m120.4 0h0m25.8 0h0m8.6 0h0m-313.9 7.6h0m25.8 0h0m51.6 0h0m34.4 0h0m77.4 0h0m-129 15.2h0m111.8 15.2h0m17.2 0h0m51.6 0h0m-107.5 7.6h0m103.2 0h0m25.8 0h0m4.3 7.6h0m8.6 0h0m-253.7 7.6h0m223.6 0h0m-124.7 7.6h0m180.6 0h0m-193.5 7.6h0m77.4 0h0m-210.7 22.8h0m129 0h0m77.4 0h0m8.6 0h0m51.6 0h0m-21.5 7.6h0m34.4 0h0m-38.7 7.6h0m12.9 7.6h0m43 0h0m-202.1 7.6h0m34.4 0h0m86 0h0m38.7 7.7h0m25.8 0h0m-391.3 7.6h0m258 0h0m25.8 0h0m111.8 0h0m-184.9 7.6h0m68.8 0h0m-64.5 7.6h0m17.2 0h0m51.6 0h0m25.8 0h0m-141.9 7.6h0m8.6 0h0m86 0h0m-90.3 7.6h0m163.4 0h0m17.2 0h0m-167.7 7.6h0m-98.9 7.6h0m223.6 0h0m-202.1 7.6h0m17.2 0h0m94.6 0h0m25.8 0h0m60.2 0h0m-296.7 7.6h0m275.2 0h0m-25.8 15.2h0m-236.5 7.6h0m180.6 0h0m-64.5 7.6h0m90.3 7.6h0m-150.5 7.6h0m86 0h0m-43 15.2h0" stroke="#A6B8B0" stroke-width="7.1" opacity="0.3"/>
<path d="M0 0m1511.5 94h0m159.1 7.6h0m60.2 0h0m-4.3 7.6h0m-193.5 7.6h0m43 0h0m111.8 0h0m77.4 0h0m-141.9 7.6h0m51.6 0h0m77.4 0h0m17.2 0h0m-202.1 7.6h0m34.4 0h0m73.1 7.6h0m4.3 7.6h0m94.6 0h0m-73.1 7.6h0m17.2 0h0m-288.1 7.6h0m197.8 0h0m77.4 0h0m68.8 0h0m-356.9 7.6h0m206.4 0h0m120.4 0h0m25.8 0h0m-47.3 7.6h0m-227.9 7.6h0m17.2 0h0m154.8 0h0m68.8 0h0m-369.8 15.2h0m326.8 0h0m17.2 0h0m-116.1 7.6h0m86 0h0m-189.2 15.2h0m120.4 0h0m-193.5 7.6h0m206.4 0h0m68.8 0h0m-38.7 7.6h0m8.6 0h0m8.6 0h0m-219.3 7.6h0m103.2 0h0m43 0h0m8.6 0h0m-116.1 7.6h0m94.6 0h0m60.2 0h0m120.4 0h0m-382.7 7.7h0m60.2 0h0m146.2 0h0m172 0h0m-245.1 7.6h0m34.4 0h0m111.8 0h0m8.6 0h0m77.4 0h0m-305.3 7.6h0m189.2 0h0m17.2 0h0m-81.7 7.6h0m60.2 0h0m-219.3 7.6h0m43 0h0m94.6 0h0m43 0h0m8.6 0h0m8.6 0h0m43 0h0m8.6 0h0m60.2 0h0m-270.9 7.6h0m94.6 0h0m43 0h0m25.8 0h0m-236.5 7.6h0m94.6 0h0m17.2 0h0m25.8 0h0m77.4 0h0m17.2 0h0m8.6 0h0m86 0h0m-202.1 7.6h0m8.6 0h0m25.8 0h0m94.6 0h0m8.6 0h0m25.8 0h0m-253.7 7.6h0m154.8 0h0m8.6 0h0m25.8 0h0m-81.7 7.6h0m51.6 0h0m60.2 0h0m8.6 0h0m-141.9 7.6h0m17.2 0h0m25.8 0h0m17.2 0h0m60.2 0h0m-210.7 7.6h0m77.4 0h0m8.6 0h0m60.2 0h0m-124.7 7.6h0m51.6 0h0m17.2 0h0m43 0h0m77.4 0h0m-133.3 7.6h0m38.7 7.6h0m12.9 7.6h0m17.2 0h0m-98.9 7.6h0m64.5 7.6h0m8.6 0h0" stroke="#5a3a4a" stroke-opacity="0.3" stroke-width="7.8"/>
<path d="M0 0m1511.5 94h0m159.1 7.6h0m60.2 0h0m-4.3 7.6h0m-193.5 7.6h0m43 0h0m111.8 0h0m77.4 0h0m-141.9 7.6h0m51.6 0h0m77.4 0h0m17.2 0h0m-202.1 7.6h0m34.4 0h0m73.1 7.6h0m4.3 7.6h0m94.6 0h0m-73.1 7.6h0m17.2 0h0m-288.1 7.6h0m197.8 0h0m77.4 0h0m68.8 0h0m-356.9 7.6h0m206.4 0h0m120.4 0h0m25.8 0h0m-47.3 7.6h0m-227.9 7.6h0m17.2 0h0m154.8 0h0m68.8 0h0m-369.8 15.2h0m326.8 0h0m17.2 0h0m-116.1 7.6h0m86 0h0m-189.2 15.2h0m120.4 0h0m-193.5 7.6h0m206.4 0h0m68.8 0h0m-38.7 7.6h0m8.6 0h0m8.6 0h0m-219.3 7.6h0m103.2 0h0m43 0h0m8.6 0h0m-116.1 7.6h0m94.6 0h0m60.2 0h0m120.4 0h0m-382.7 7.7h0m60.2 0h0m146.2 0h0m172 0h0m-245.1 7.6h0m34.4 0h0m111.8 0h0m8.6 0h0m77.4 0h0m-305.3 7.6h0m189.2 0h0m17.2 0h0m-81.7 7.6h0m60.2 0h0m-219.3 7.6h0m43 0h0m94.6 0h0m43 0h0m8.6 0h0m8.6 0h0m43 0h0m8.6 0h0m60.2 0h0m-270.9 7.6h0m94.6 0h0m43 0h0m25.8 0h0m-236.5 7.6h0m94.6 0h0m17.2 0h0m25.8 0h0m77.4 0h0m17.2 0h0m8.6 0h0m86 0h0m-202.1 7.6h0m8.6 0h0m25.8 0h0m94.6 0h0m8.6 0h0m25.8 0h0m-253.7 7.6h0m154.8 0h0m8.6 0h0m25.8 0h0m-81.7 7.6h0m51.6 0h0m60.2 0h0m8.6 0h0m-141.9 7.6h0m17.2 0h0m25.8 0h0m17.2 0h0m60.2 0h0m-210.7 7.6h0m77.4 0h0m8.6 0h0m60.2 0h0m-124.7 7.6h0m51.6 0h0m17.2 0h0m43 0h0m77.4 0h0m-133.3 7.6h0m38.7 7.6h0m12.9 7.6h0m17.2 0h0m-98.9 7.6h0m64.5 7.6h0m8.6 0h0" stroke="#C8C2A8" stroke-width="7.1" opacity="0.62"/>
<path d="M0 0m1588.9 109.2h0m-227.9 7.6h0m189.2 0h0m172 0h0m-124.7 7.6h0m103.2 0h0m-159.1 7.6h0m172 0h0m-141.9 7.6h0m77.4 0h0m137.6 0h0m-305.3 7.6h0m275.2 0h0m-64.5 7.6h0m-55.9 22.8h0m94.6 0h0m-124.7 7.6h0m146.2 0h0m-365.5 7.6h0m309.6 0h0m86 0h0m-219.3 7.6h0m77.4 0h0m103.2 0h0m-55.9 7.6h0m-305.3 7.6h0m51.6 0h0m34.4 0h0m120.4 0h0m180.6 0h0m12.9 7.6h0m-47.3 7.6h0m-47.3 7.6h0m43 0h0m-116.1 7.6h0m60.2 0h0m43 0h0m-81.7 7.6h0m25.8 0h0m34.4 0h0m17.2 0h0m-210.7 7.7h0m103.2 0h0m25.8 0h0m8.6 0h0m8.6 0h0m-141.9 7.6h0m129 0h0m-197.8 15.2h0m163.4 0h0m-167.7 7.6h0m60.2 0h0m-124.7 7.6h0m43 0h0m68.8 0h0m111.8 0h0m34.4 0h0m-133.3 7.6h0m180.6 0h0m-81.7 7.6h0m8.6 0h0m8.6 0h0m-176.3 7.6h0m189.2 0h0m-193.5 7.6h0m146.2 0h0m34.4 0h0m8.6 0h0m34.4 0h0m-193.5 7.6h0m103.2 0h0m25.8 0h0m43 0h0m-30.1 7.6h0m-90.3 7.6h0m34.4 0h0m25.8 0h0m-124.7 7.6h0m146.2 0h0m8.6 0h0m-116.1 7.6h0m43 0h0m8.6 0h0m43 0h0m-150.5 7.6h0m129 0h0m-64.5 7.6h0m25.8 0h0" stroke="#5a3a4a" stroke-opacity="0.3" stroke-width="7.8"/>
<path d="M0 0m1588.9 109.2h0m-227.9 7.6h0m189.2 0h0m172 0h0m-124.7 7.6h0m103.2 0h0m-159.1 7.6h0m172 0h0m-141.9 7.6h0m77.4 0h0m137.6 0h0m-305.3 7.6h0m275.2 0h0m-64.5 7.6h0m-55.9 22.8h0m94.6 0h0m-124.7 7.6h0m146.2 0h0m-365.5 7.6h0m309.6 0h0m86 0h0m-219.3 7.6h0m77.4 0h0m103.2 0h0m-55.9 7.6h0m-305.3 7.6h0m51.6 0h0m34.4 0h0m120.4 0h0m180.6 0h0m12.9 7.6h0m-47.3 7.6h0m-47.3 7.6h0m43 0h0m-116.1 7.6h0m60.2 0h0m43 0h0m-81.7 7.6h0m25.8 0h0m34.4 0h0m17.2 0h0m-210.7 7.7h0m103.2 0h0m25.8 0h0m8.6 0h0m8.6 0h0m-141.9 7.6h0m129 0h0m-197.8 15.2h0m163.4 0h0m-167.7 7.6h0m60.2 0h0m-124.7 7.6h0m43 0h0m68.8 0h0m111.8 0h0m34.4 0h0m-133.3 7.6h0m180.6 0h0m-81.7 7.6h0m8.6 0h0m8.6 0h0m-176.3 7.6h0m189.2 0h0m-193.5 7.6h0m146.2 0h0m34.4 0h0m8.6 0h0m34.4 0h0m-193.5 7.6h0m103.2 0h0m25.8 0h0m43 0h0m-30.1 7.6h0m-90.3 7.6h0m34.4 0h0m25.8 0h0m-124.7 7.6h0m146.2 0h0m8.6 0h0m-116.1 7.6h0m43 0h0m8.6 0h0m43 0h0m-150.5 7.6h0m129 0h0m-64.5 7.6h0m25.8 0h0" stroke="#E2D2A8" stroke-width="7.1" opacity="0.62"/>
<path d="M0 0m1515.8 101.6h0m-133.3 7.6h0m232.2 0h0m172 0h0m-116.1 7.6h0m-60.2 30.4h0m86 0h0m-180.6 15.2h0m137.6 0h0m-98.9 7.6h0m232.2 0h0m17.2 0h0m-55.9 7.6h0m-47.3 7.6h0m60.2 0h0m-279.5 7.6h0m68.8 0h0m-12.9 22.8h0m146.2 0h0m-227.9 7.6h0m344 0h0m8.6 0h0m-141.9 7.6h0m-193.5 7.6h0m86 0h0m-47.3 7.6h0m172 0h0m-12.9 7.6h0m-150.5 7.7h0m-167.7 7.6h0m232.2 0h0m17.2 0h0m51.6 0h0m-202.1 7.6h0m111.8 0h0m111.8 0h0m-103.2 15.2h0m43 0h0m-236.5 7.6h0m326.8 0h0m-176.3 7.6h0m94.6 0h0m-262.3 7.6h0m193.5 7.6h0m47.3 7.6h0m-236.5 7.6h0m202.1 7.6h0m38.7 7.6h0m-90.3 7.6h0m-81.7 7.6h0m64.5 7.6h0m-12.9 7.6h0m17.2 0h0m8.6 0h0" stroke="#5a3a4a" stroke-opacity="0.45" stroke-width="7.8"/>
<path d="M0 0m1515.8 101.6h0m-133.3 7.6h0m232.2 0h0m172 0h0m-116.1 7.6h0m-60.2 30.4h0m86 0h0m-180.6 15.2h0m137.6 0h0m-98.9 7.6h0m232.2 0h0m17.2 0h0m-55.9 7.6h0m-47.3 7.6h0m60.2 0h0m-279.5 7.6h0m68.8 0h0m-12.9 22.8h0m146.2 0h0m-227.9 7.6h0m344 0h0m8.6 0h0m-141.9 7.6h0m-193.5 7.6h0m86 0h0m-47.3 7.6h0m172 0h0m-12.9 7.6h0m-150.5 7.7h0m-167.7 7.6h0m232.2 0h0m17.2 0h0m51.6 0h0m-202.1 7.6h0m111.8 0h0m111.8 0h0m-103.2 15.2h0m43 0h0m-236.5 7.6h0m326.8 0h0m-176.3 7.6h0m94.6 0h0m-262.3 7.6h0m193.5 7.6h0m47.3 7.6h0m-236.5 7.6h0m202.1 7.6h0m38.7 7.6h0m-90.3 7.6h0m-81.7 7.6h0m64.5 7.6h0m-12.9 7.6h0m17.2 0h0m8.6 0h0" stroke="#F0D4A4" stroke-width="7.1" opacity="0.85"/>
<path d="M0 0m1472.8 101.6h0m94.6 0h0m-8.6 15.2h0m111.8 15.2h0m25.8 0h0m43 15.2h0m-193.5 7.6h0m-64.5 7.6h0m202.1 7.6h0m94.6 0h0m-253.7 7.6h0m68.8 0h0m146.2 0h0m-184.9 7.6h0m-81.7 22.8h0m51.6 0h0m21.5 22.8h0m236.5 7.6h0m-30.1 7.6h0m-236.5 7.6h0m38.7 7.7h0m129 0h0m8.6 0h0m8.6 0h0m-124.7 7.6h0m146.2 0h0m-124.7 7.6h0m86 0h0m-279.5 7.6h0m206.4 0h0m-34.4 15.2h0m-159.1 7.6h0m240.8 0h0m-38.7 7.6h0m25.8 0h0m-98.9 7.6h0m68.8 0h0m-64.5 7.6h0m-150.5 7.6h0m77.4 0h0m103.2 0h0m43 0h0m-90.3 7.6h0m60.2 0h0m-141.9 7.6h0m68.8 0h0m8.6 0h0m60.2 0h0m-64.5 7.6h0m17.2 0h0m-47.3 7.6h0m51.6 15.2h0" stroke="#5a3a4a" stroke-opacity="0.45" stroke-width="7.8"/>
<path d="M0 0m1472.8 101.6h0m94.6 0h0m-8.6 15.2h0m111.8 15.2h0m25.8 0h0m43 15.2h0m-193.5 7.6h0m-64.5 7.6h0m202.1 7.6h0m94.6 0h0m-253.7 7.6h0m68.8 0h0m146.2 0h0m-184.9 7.6h0m-81.7 22.8h0m51.6 0h0m21.5 22.8h0m236.5 7.6h0m-30.1 7.6h0m-236.5 7.6h0m38.7 7.7h0m129 0h0m8.6 0h0m8.6 0h0m-124.7 7.6h0m146.2 0h0m-124.7 7.6h0m86 0h0m-279.5 7.6h0m206.4 0h0m-34.4 15.2h0m-159.1 7.6h0m240.8 0h0m-38.7 7.6h0m25.8 0h0m-98.9 7.6h0m68.8 0h0m-64.5 7.6h0m-150.5 7.6h0m77.4 0h0m103.2 0h0m43 0h0m-90.3 7.6h0m60.2 0h0m-141.9 7.6h0m68.8 0h0m8.6 0h0m60.2 0h0m-64.5 7.6h0m17.2 0h0m-47.3 7.6h0m51.6 15.2h0" stroke="#F6C48C" stroke-width="7.1" opacity="0.85"/>
<path d="M0 0m1455.6 101.6h0m301 0h0m-253.7 7.6h0m129 0h0m-68.8 15.2h0m120.4 0h0m-21.5 7.6h0m-8.6 45.6h0m-150.5 7.6h0m146.2 0h0m107.5 7.6h0m-8.6 15.2h0m-184.9 7.6h0m116.1 22.8h0m-253.7 53.3h0m129 0h0m-77.4 15.2h0m94.6 0h0m-55.9 7.6h0m68.8 0h0m43 30.4h0m-219.3 7.6h0m124.7 7.6h0m-30.1 7.6h0m-21.5 7.6h0" stroke="#5a3a4a" stroke-opacity="0.6" stroke-width="7.8"/>
<path d="M0 0m1455.6 101.6h0m301 0h0m-253.7 7.6h0m129 0h0m-68.8 15.2h0m120.4 0h0m-21.5 7.6h0m-8.6 45.6h0m-150.5 7.6h0m146.2 0h0m107.5 7.6h0m-8.6 15.2h0m-184.9 7.6h0m116.1 22.8h0m-253.7 53.3h0m129 0h0m-77.4 15.2h0m94.6 0h0m-55.9 7.6h0m68.8 0h0m43 30.4h0m-219.3 7.6h0m124.7 7.6h0m-30.1 7.6h0m-21.5 7.6h0" stroke="#FDAE61" stroke-width="7.1" opacity="1"/>
<path d="M0 0m1799.6 101.6h0m4.3 7.6h0m-335.4 15.2h0m103.2 0h0m-81.7 7.6h0m146.2 0h0m81.7 7.6h0m8.6 30.4h0m25.8 0h0m55.9 22.8h0m-107.5 7.6h0m60.2 0h0m-270.9 7.6h0m25.8 0h0m120.4 15.2h0m17.2 0h0m4.3 7.6h0m124.7 22.8h0m-215 15.3h0m163.4 0h0m-202.1 7.6h0m-73.1 7.6h0m94.6 0h0m-77.4 15.2h0m17.2 0h0m111.8 0h0m64.5 7.6h0m-279.5 7.6h0m137.6 0h0m154.8 0h0m8.6 0h0m-288.1 7.6h0m-21.5 7.6h0m180.6 0h0m47.3 7.6h0m34.4 0h0m-124.7 38h0m51.6 0h0" stroke="#5a3a4a" stroke-opacity="0.6" stroke-width="7.8"/>
<path d="M0 0m1799.6 101.6h0m4.3 7.6h0m-335.4 15.2h0m103.2 0h0m-81.7 7.6h0m146.2 0h0m81.7 7.6h0m8.6 30.4h0m25.8 0h0m55.9 22.8h0m-107.5 7.6h0m60.2 0h0m-270.9 7.6h0m25.8 0h0m120.4 15.2h0m17.2 0h0m4.3 7.6h0m124.7 22.8h0m-215 15.3h0m163.4 0h0m-202.1 7.6h0m-73.1 7.6h0m94.6 0h0m-77.4 15.2h0m17.2 0h0m111.8 0h0m64.5 7.6h0m-279.5 7.6h0m137.6 0h0m154.8 0h0m8.6 0h0m-288.1 7.6h0m-21.5 7.6h0m180.6 0h0m47.3 7.6h0m34.4 0h0m-124.7 38h0m51.6 0h0" stroke="#F46D43" stroke-width="7.1" opacity="1"/>
<path d="M0 0m1717.9 170h0m-107.5 38h0m-172 45.6h0m219.3 7.7h0m60.2 15.2h0m8.6 0h0m-64.5 7.6h0m60.2 0h0m-344 30.4h0m116.1 7.6h0m-107.5 7.6h0m64.5 7.6h0m-38.7 7.6h0m141.9 7.6h0m-159.1 7.6h0m146.2 15.2h0" stroke="#5a3a4a" stroke-opacity="0.6" stroke-width="7.8"/>
<path d="M0 0m1717.9 170h0m-107.5 38h0m-172 45.6h0m219.3 7.7h0m60.2 15.2h0m8.6 0h0m-64.5 7.6h0m60.2 0h0m-344 30.4h0m116.1 7.6h0m-107.5 7.6h0m64.5 7.6h0m-38.7 7.6h0m141.9 7.6h0m-159.1 7.6h0m146.2 15.2h0" stroke="#D53E4F" stroke-width="7.1" opacity="1"/>
<path d="M0 0m1679.2 116.8h0m-30.1 53.2h0m-4.3 38h0m-236.5 38h0m296.7 22.9h0m-322.5 7.6h0m309.6 0h0m8.6 0h0m8.6 0h0m-296.7 7.6h0m283.8 0h0m8.6 0h0m8.6 0h0m-339.7 7.6h0m309.6 0h0m8.6 0h0m8.6 0h0m8.6 0h0m-356.9 7.6h0m30.1 22.8h0m137.6 0h0m-159.1 7.6h0" stroke="#5a3a4a" stroke-opacity="0.6" stroke-width="7.8"/>
<path d="M0 0m1679.2 116.8h0m-30.1 53.2h0m-4.3 38h0m-236.5 38h0m296.7 22.9h0m-322.5 7.6h0m309.6 0h0m8.6 0h0m8.6 0h0m-296.7 7.6h0m283.8 0h0m8.6 0h0m8.6 0h0m-339.7 7.6h0m309.6 0h0m8.6 0h0m8.6 0h0m8.6 0h0m-356.9 7.6h0m30.1 22.8h0m137.6 0h0m-159.1 7.6h0" stroke="#9E0142" stroke-width="7.1" opacity="1"/>
</g>
</g>
<clipPath id="cc2"><rect x="1315.6" y="463.3" width="566.9" height="343.9"/></clipPath>
<rect x="1315.6" y="463.3" width="566.9" height="343.9" fill="#FBF5F6"/>
<g clip-path="url(#cc2)">
<g fill="none" stroke-linecap="round"><path d="M1316.6,467.3V807.2" stroke="#cdc6cf" stroke-width="7.4" stroke-dasharray="0 13.8"/><path d="M1316.6,467.3V807.2" stroke="#F3EDF2" stroke-width="3.8" stroke-dasharray="0 13.8"/></g>
<g fill="none" stroke-linecap="round"><path d="M1326.6,474.3V807.2" stroke="#d8d2da" stroke-width="7.4" stroke-dasharray="0 13.8"/><path d="M1326.6,474.3V807.2" stroke="#F6F0F4" stroke-width="3.8" stroke-dasharray="0 13.8"/></g>
<clipPath id="ct2"><path d="M1315.6,492.9C1321.6,492.5 1330.1,490.7 1341.1,490.8C1352.1,491 1368.1,493.7 1381.7,493.7C1395.2,493.7 1408.7,492.7 1422.2,490.8C1435.7,489 1449.3,484.2 1462.8,482.7C1476.3,481.2 1489.8,482.3 1503.3,481.9C1516.8,481.6 1530.4,480.2 1543.9,480.7C1557.4,481.2 1570.9,483.7 1584.4,484.8C1598,485.8 1611.5,486.8 1625,486.8C1638.5,486.8 1652,485.4 1665.5,484.8C1679.1,484.1 1692.6,482.7 1706.1,482.7C1719.6,482.7 1733.1,484.1 1746.7,484.8C1760.2,485.4 1774.4,485.8 1787.2,486.8C1800.1,487.8 1817,488.1 1823.7,490.8C1830.5,493.5 1829.1,497.9 1827.8,503C1826.4,508.1 1819,514.8 1815.6,521.3C1812.2,527.7 1809.2,534.1 1807.5,541.5C1805.8,549 1804.1,558.4 1805.5,565.9C1806.8,573.3 1814.6,579.4 1815.6,586.1C1816.6,592.9 1814.2,599.7 1811.5,606.4C1808.8,613.2 1803.4,621 1799.4,626.7C1795.3,632.4 1790.6,636.8 1787.2,640.9C1783.8,644.9 1783.2,647.6 1779.1,651C1775,654.4 1768.3,660.2 1762.9,661.2C1757.5,662.2 1752.7,655.8 1746.7,657.1C1740.6,658.5 1731.1,664.2 1726.4,669.3C1721.6,674.3 1724.4,682.1 1718.3,687.5C1712.2,692.9 1698.7,697.3 1689.9,701.7C1681.1,706.1 1673,710.5 1665.5,713.9C1658.1,717.3 1652,717.9 1645.3,722C1638.5,726.1 1631.8,733.5 1625,738.2C1618.2,743 1611.5,747 1604.7,750.4C1598,753.8 1591.2,755.8 1584.4,758.5C1577.7,761.2 1570.9,763.9 1564.2,766.6C1557.4,769.3 1550.6,772.4 1543.9,774.7C1537.1,777.1 1530.4,780.8 1523.6,780.8C1516.8,780.8 1510.1,775.1 1503.3,774.7C1496.6,774.4 1489.8,778.8 1483.1,778.8C1476.3,778.8 1469.5,776.1 1462.8,774.7C1456,773.4 1449.3,772.7 1442.5,770.7C1435.7,768.6 1429,765.3 1422.2,762.6C1415.5,759.9 1408.7,757.1 1401.9,754.4C1395.2,751.7 1387.7,749.7 1381.7,746.3C1375.6,743 1369.5,739.6 1365.4,734.2C1361.4,728.8 1359.7,720.6 1357.3,713.9C1355,707.1 1354,699 1351.2,693.6C1348.5,688.2 1345.5,685.5 1341.1,681.4C1336.7,677.4 1331,672.7 1324.9,669.3C1318.8,665.9 1308,690.6 1304.6,661.2C1301.2,631.8 1302.8,520.9 1304.6,492.9C1306.4,464.8 1309.5,493.2 1315.6,492.9Z"/></clipPath>
<g filter="url(#tc)"><g clip-path="url(#ct2)">
<rect x="1305.6" y="453.3" width="586.9" height="363.9" fill="#925AA2"/>
<ellipse cx="1400" cy="537.7" rx="70" ry="55" fill="#7E3F94" opacity="0.7" filter="url(#bl12)"/>
<ellipse cx="1500" cy="617.7" rx="60" ry="50" fill="#86459A" opacity="0.55" filter="url(#bl12)"/>
<ellipse cx="1560" cy="722.7" rx="90" ry="40" fill="#A890C4" opacity="0.6" filter="url(#bl12)"/>
<ellipse cx="1700" cy="527.7" rx="90" ry="50" fill="#A852AE" opacity="0.5" filter="url(#bl12)"/>
<ellipse cx="1760" cy="647.7" rx="60" ry="40" fill="#C04CB0" opacity="0.6" filter="url(#bl12)"/>
<ellipse cx="1450" cy="717.7" rx="50" ry="30" fill="#B858B4" opacity="0.5" filter="url(#bl12)"/>
<ellipse cx="1640" cy="617.7" rx="70" ry="40" fill="#9A68B4" opacity="0.5" filter="url(#bl12)"/>
<ellipse cx="1360" cy="537.7" rx="40" ry="60" fill="#7A3C90" opacity="0.6" filter="url(#bl12)"/>
</g></g>
<g fill="none" stroke-linecap="round">
<path d="M0 0m1365.3 496.9h0m275.2 0h0m137.6 0h0m-30.1 7.6h0m68.8 0h0m-98.9 7.6h0m8.6 0h0m86 0h0m-47.3 7.6h0m-150.5 7.6h0m-219.3 7.6h0m232.2 0h0m180.6 0h0m-55.9 7.6h0m-150.5 7.6h0m90.3 7.6h0m-202.1 7.6h0m86 0h0m154.8 0h0m21.5 7.6h0m-150.5 7.6h0m-64.5 7.6h0m141.9 7.6h0m-326.8 15.2h0m301 0h0m25.8 0h0m-245.1 7.6h0m68.8 0h0m129 0h0m-38.7 7.6h0m51.6 0h0m-283.8 15.2h0m215 0h0m129 0h0m-356.9 7.7h0m103.2 0h0m-98.9 7.6h0m356.9 7.6h0m4.3 7.6h0m-219.3 7.6h0m60.2 0h0m25.8 0h0m129 0h0m8.6 0h0m-232.2 15.2h0m150.5 7.6h0m34.4 0h0m-215 15.2h0m68.8 15.2h0m-47.3 7.6h0m-4.3 7.6h0m68.8 0h0m51.6 0h0m-47.3 7.6h0m-8.6 15.2h0" stroke="#5a3a4a" stroke-opacity="0.1" stroke-width="7.8"/>
<path d="M0 0m1365.3 496.9h0m275.2 0h0m137.6 0h0m-30.1 7.6h0m68.8 0h0m-98.9 7.6h0m8.6 0h0m86 0h0m-47.3 7.6h0m-150.5 7.6h0m-219.3 7.6h0m232.2 0h0m180.6 0h0m-55.9 7.6h0m-150.5 7.6h0m90.3 7.6h0m-202.1 7.6h0m86 0h0m154.8 0h0m21.5 7.6h0m-150.5 7.6h0m-64.5 7.6h0m141.9 7.6h0m-326.8 15.2h0m301 0h0m25.8 0h0m-245.1 7.6h0m68.8 0h0m129 0h0m-38.7 7.6h0m51.6 0h0m-283.8 15.2h0m215 0h0m129 0h0m-356.9 7.7h0m103.2 0h0m-98.9 7.6h0m356.9 7.6h0m4.3 7.6h0m-219.3 7.6h0m60.2 0h0m25.8 0h0m129 0h0m8.6 0h0m-232.2 15.2h0m150.5 7.6h0m34.4 0h0m-215 15.2h0m68.8 15.2h0m-47.3 7.6h0m-4.3 7.6h0m68.8 0h0m51.6 0h0m-47.3 7.6h0m-8.6 15.2h0" stroke="#93A8B4" stroke-width="7.1" opacity="0.3"/>
<path d="M0 0m1730.8 489.3h0m34.4 0h0m43 0h0m-64.5 7.6h0m43 0h0m34.4 0h0m-477.3 7.6h0m51.6 0h0m60.2 0h0m326.8 0h0m-98.9 7.6h0m77.4 0h0m60.2 0h0m-227.9 7.6h0m51.6 0h0m43 0h0m8.6 0h0m8.6 0h0m17.2 0h0m8.6 0h0m-322.5 7.6h0m197.8 0h0m43 0h0m43 0h0m17.2 0h0m8.6 0h0m-374.1 7.6h0m137.6 0h0m94.6 0h0m25.8 0h0m94.6 0h0m103.2 0h0m-460.1 7.6h0m288.1 7.6h0m17.2 0h0m25.8 0h0m51.6 0h0m60.2 0h0m-438.6 15.2h0m197.8 0h0m8.6 0h0m137.6 0h0m60.2 0h0m43 0h0m-412.8 15.2h0m163.4 0h0m154.8 0h0m17.2 0h0m34.4 0h0m43 0h0m-30.1 7.6h0m51.6 0h0m-468.7 7.6h0m172 0h0m292.4 0h0m-399.9 7.6h0m172 0h0m8.6 0h0m17.2 0h0m25.8 0h0m25.8 0h0m17.2 0h0m21.5 7.6h0m103.2 0h0m8.6 0h0m-150.5 7.6h0m43 0h0m34.4 0h0m-391.3 7.6h0m215 0h0m43 0h0m189.2 0h0m-193.5 7.6h0m17.2 0h0m120.4 0h0m-288.1 7.6h0m146.2 0h0m120.4 0h0m34.4 0h0m-81.7 7.7h0m25.8 0h0m-124.7 7.6h0m77.4 0h0m86 0h0m-210.7 7.6h0m180.6 0h0m-365.5 7.6h0m335.4 0h0m-305.3 7.6h0m137.6 0h0m8.6 0h0m51.6 0h0m34.4 0h0m17.2 0h0m-133.3 7.6h0m189.2 0h0m-124.7 7.6h0m34.4 0h0m77.4 0h0m-270.9 7.6h0m4.3 7.6h0m77.4 0h0m43 0h0m94.6 0h0m8.6 0h0m51.6 0h0m-288.1 7.6h0m111.8 0h0m60.2 0h0m8.6 0h0m8.6 0h0m43 0h0m17.2 0h0m-236.5 7.6h0m137.6 0h0m43 0h0m34.4 0h0m17.2 0h0m8.6 0h0m-253.7 7.6h0m154.8 0h0m60.2 0h0m-210.7 7.6h0m219.3 7.6h0m-193.5 7.6h0m103.2 0h0m-25.8 15.2h0m8.6 0h0m25.8 0h0" stroke="#5a3a4a" stroke-opacity="0.1" stroke-width="7.8"/>
<path d="M0 0m1730.8 489.3h0m34.4 0h0m43 0h0m-64.5 7.6h0m43 0h0m34.4 0h0m-477.3 7.6h0m51.6 0h0m60.2 0h0m326.8 0h0m-98.9 7.6h0m77.4 0h0m60.2 0h0m-227.9 7.6h0m51.6 0h0m43 0h0m8.6 0h0m8.6 0h0m17.2 0h0m8.6 0h0m-322.5 7.6h0m197.8 0h0m43 0h0m43 0h0m17.2 0h0m8.6 0h0m-374.1 7.6h0m137.6 0h0m94.6 0h0m25.8 0h0m94.6 0h0m103.2 0h0m-460.1 7.6h0m288.1 7.6h0m17.2 0h0m25.8 0h0m51.6 0h0m60.2 0h0m-438.6 15.2h0m197.8 0h0m8.6 0h0m137.6 0h0m60.2 0h0m43 0h0m-412.8 15.2h0m163.4 0h0m154.8 0h0m17.2 0h0m34.4 0h0m43 0h0m-30.1 7.6h0m51.6 0h0m-468.7 7.6h0m172 0h0m292.4 0h0m-399.9 7.6h0m172 0h0m8.6 0h0m17.2 0h0m25.8 0h0m25.8 0h0m17.2 0h0m21.5 7.6h0m103.2 0h0m8.6 0h0m-150.5 7.6h0m43 0h0m34.4 0h0m-391.3 7.6h0m215 0h0m43 0h0m189.2 0h0m-193.5 7.6h0m17.2 0h0m120.4 0h0m-288.1 7.6h0m146.2 0h0m120.4 0h0m34.4 0h0m-81.7 7.7h0m25.8 0h0m-124.7 7.6h0m77.4 0h0m86 0h0m-210.7 7.6h0m180.6 0h0m-365.5 7.6h0m335.4 0h0m-305.3 7.6h0m137.6 0h0m8.6 0h0m51.6 0h0m34.4 0h0m17.2 0h0m-133.3 7.6h0m189.2 0h0m-124.7 7.6h0m34.4 0h0m77.4 0h0m-270.9 7.6h0m4.3 7.6h0m77.4 0h0m43 0h0m94.6 0h0m8.6 0h0m51.6 0h0m-288.1 7.6h0m111.8 0h0m60.2 0h0m8.6 0h0m8.6 0h0m43 0h0m17.2 0h0m-236.5 7.6h0m137.6 0h0m43 0h0m34.4 0h0m17.2 0h0m8.6 0h0m-253.7 7.6h0m154.8 0h0m60.2 0h0m-210.7 7.6h0m219.3 7.6h0m-193.5 7.6h0m103.2 0h0m-25.8 15.2h0m8.6 0h0m25.8 0h0" stroke="#A6B8B0" stroke-width="7.1" opacity="0.3"/>
<path d="M0 0m1739.4 489.3h0m17.2 0h0m-227.9 7.6h0m43 0h0m129 0h0m60.2 0h0m51.6 0h0m-279.5 7.6h0m43 0h0m215 0h0m-176.3 7.6h0m17.2 0h0m8.6 0h0m-30.1 7.6h0m30.1 7.6h0m-288.1 7.6h0m189.2 0h0m43 0h0m68.8 0h0m86 0h0m-262.3 7.6h0m43 0h0m17.2 0h0m163.4 0h0m86 0h0m-408.5 7.6h0m116.1 7.6h0m94.6 0h0m60.2 0h0m146.2 0h0m-296.7 7.6h0m25.8 0h0m154.8 0h0m25.8 0h0m8.6 0h0m-116.1 7.6h0m25.8 0h0m8.6 0h0m51.6 0h0m124.7 7.6h0m-167.7 7.6h0m86 0h0m25.8 0h0m25.8 0h0m-202.1 7.6h0m17.2 0h0m43 0h0m-124.7 7.6h0m43 0h0m215 0h0m-253.7 7.6h0m197.8 0h0m-339.7 7.6h0m111.8 0h0m8.6 0h0m17.2 0h0m17.2 0h0m68.8 0h0m8.6 0h0m43 0h0m25.8 0h0m94.6 0h0m34.4 0h0m-348.3 7.6h0m232.2 0h0m111.8 0h0m-47.3 7.6h0m-408.5 7.6h0m77.4 0h0m215 0h0m8.6 0h0m34.4 0h0m-322.5 7.7h0m51.6 0h0m249.4 0h0m77.4 0h0m25.8 0h0m-374.1 7.6h0m163.4 0h0m60.2 0h0m86 0h0m60.2 0h0m-176.3 7.6h0m34.4 0h0m68.8 0h0m8.6 0h0m-313.9 7.6h0m313.9 7.6h0m-150.5 7.6h0m154.8 0h0m-313.9 7.6h0m206.4 0h0m34.4 0h0m-167.7 7.6h0m77.4 0h0m-159.1 7.6h0m77.4 0h0m206.4 0h0m-150.5 7.6h0m34.4 0h0m34.4 0h0m68.8 0h0m-150.5 7.6h0m64.5 7.6h0m43 0h0m-202.1 7.6h0m25.8 0h0m86 0h0m47.3 7.6h0m17.2 0h0m-103.2 15.2h0m86 0h0m-30.1 7.6h0m-4.3 7.6h0" stroke="#5a3a4a" stroke-opacity="0.3" stroke-width="7.8"/>
<path d="M0 0m1739.4 489.3h0m17.2 0h0m-227.9 7.6h0m43 0h0m129 0h0m60.2 0h0m51.6 0h0m-279.5 7.6h0m43 0h0m215 0h0m-176.3 7.6h0m17.2 0h0m8.6 0h0m-30.1 7.6h0m30.1 7.6h0m-288.1 7.6h0m189.2 0h0m43 0h0m68.8 0h0m86 0h0m-262.3 7.6h0m43 0h0m17.2 0h0m163.4 0h0m86 0h0m-408.5 7.6h0m116.1 7.6h0m94.6 0h0m60.2 0h0m146.2 0h0m-296.7 7.6h0m25.8 0h0m154.8 0h0m25.8 0h0m8.6 0h0m-116.1 7.6h0m25.8 0h0m8.6 0h0m51.6 0h0m124.7 7.6h0m-167.7 7.6h0m86 0h0m25.8 0h0m25.8 0h0m-202.1 7.6h0m17.2 0h0m43 0h0m-124.7 7.6h0m43 0h0m215 0h0m-253.7 7.6h0m197.8 0h0m-339.7 7.6h0m111.8 0h0m8.6 0h0m17.2 0h0m17.2 0h0m68.8 0h0m8.6 0h0m43 0h0m25.8 0h0m94.6 0h0m34.4 0h0m-348.3 7.6h0m232.2 0h0m111.8 0h0m-47.3 7.6h0m-408.5 7.6h0m77.4 0h0m215 0h0m8.6 0h0m34.4 0h0m-322.5 7.7h0m51.6 0h0m249.4 0h0m77.4 0h0m25.8 0h0m-374.1 7.6h0m163.4 0h0m60.2 0h0m86 0h0m60.2 0h0m-176.3 7.6h0m34.4 0h0m68.8 0h0m8.6 0h0m-313.9 7.6h0m313.9 7.6h0m-150.5 7.6h0m154.8 0h0m-313.9 7.6h0m206.4 0h0m34.4 0h0m-167.7 7.6h0m77.4 0h0m-159.1 7.6h0m77.4 0h0m206.4 0h0m-150.5 7.6h0m34.4 0h0m34.4 0h0m68.8 0h0m-150.5 7.6h0m64.5 7.6h0m43 0h0m-202.1 7.6h0m25.8 0h0m86 0h0m47.3 7.6h0m17.2 0h0m-103.2 15.2h0m86 0h0m-30.1 7.6h0m-4.3 7.6h0" stroke="#C8C2A8" stroke-width="7.1" opacity="0.62"/>
<path d="M0 0m1696.4 489.3h0m-81.7 7.6h0m-107.5 7.6h0m8.6 0h0m180.6 0h0m17.2 0h0m-159.1 7.6h0m137.6 0h0m55.9 7.6h0m60.2 0h0m-356.9 7.6h0m180.6 0h0m73.1 7.6h0m-356.9 7.6h0m369.8 0h0m-12.9 7.6h0m60.2 0h0m-262.3 7.6h0m258 0h0m17.2 0h0m25.8 0h0m-133.3 7.6h0m-176.3 7.6h0m86 0h0m206.4 0h0m12.9 7.6h0m-408.5 7.6h0m301 0h0m107.5 7.6h0m-313.9 7.6h0m-12.9 7.6h0m197.8 0h0m77.4 0h0m25.8 0h0m-309.6 15.2h0m189.2 0h0m17.2 0h0m103.2 0h0m-167.7 7.6h0m120.4 0h0m34.4 0h0m-38.7 7.6h0m-202.1 7.7h0m94.6 0h0m8.6 0h0m51.6 0h0m34.4 0h0m-344 15.2h0m197.8 0h0m25.8 0h0m129 0h0m-288.1 7.6h0m60.2 0h0m86 0h0m43 0h0m-219.3 7.6h0m60.2 0h0m25.8 0h0m189.2 0h0m25.8 0h0m-262.3 7.6h0m17.2 0h0m120.4 0h0m86 0h0m17.2 0h0m-219.3 7.6h0m206.4 0h0m-288.1 7.6h0m34.4 0h0m51.6 0h0m43 0h0m34.4 0h0m51.6 0h0m60.2 0h0m-30.1 7.6h0m25.8 0h0m-150.5 7.6h0m86 0h0m-133.3 7.6h0m34.4 0h0m103.2 0h0m8.6 0h0m-124.7 7.6h0m55.9 7.6h0m68.8 0h0m17.2 0h0m-34.4 15.2h0" stroke="#5a3a4a" stroke-opacity="0.3" stroke-width="7.8"/>
<path d="M0 0m1696.4 489.3h0m-81.7 7.6h0m-107.5 7.6h0m8.6 0h0m180.6 0h0m17.2 0h0m-159.1 7.6h0m137.6 0h0m55.9 7.6h0m60.2 0h0m-356.9 7.6h0m180.6 0h0m73.1 7.6h0m-356.9 7.6h0m369.8 0h0m-12.9 7.6h0m60.2 0h0m-262.3 7.6h0m258 0h0m17.2 0h0m25.8 0h0m-133.3 7.6h0m-176.3 7.6h0m86 0h0m206.4 0h0m12.9 7.6h0m-408.5 7.6h0m301 0h0m107.5 7.6h0m-313.9 7.6h0m-12.9 7.6h0m197.8 0h0m77.4 0h0m25.8 0h0m-309.6 15.2h0m189.2 0h0m17.2 0h0m103.2 0h0m-167.7 7.6h0m120.4 0h0m34.4 0h0m-38.7 7.6h0m-202.1 7.7h0m94.6 0h0m8.6 0h0m51.6 0h0m34.4 0h0m-344 15.2h0m197.8 0h0m25.8 0h0m129 0h0m-288.1 7.6h0m60.2 0h0m86 0h0m43 0h0m-219.3 7.6h0m60.2 0h0m25.8 0h0m189.2 0h0m25.8 0h0m-262.3 7.6h0m17.2 0h0m120.4 0h0m86 0h0m17.2 0h0m-219.3 7.6h0m206.4 0h0m-288.1 7.6h0m34.4 0h0m51.6 0h0m43 0h0m34.4 0h0m51.6 0h0m60.2 0h0m-30.1 7.6h0m25.8 0h0m-150.5 7.6h0m86 0h0m-133.3 7.6h0m34.4 0h0m103.2 0h0m8.6 0h0m-124.7 7.6h0m55.9 7.6h0m68.8 0h0m17.2 0h0m-34.4 15.2h0" stroke="#E2D2A8" stroke-width="7.1" opacity="0.62"/>
<path d="M0 0m1563.1 496.9h0m240.8 0h0m-365.5 7.6h0m163.4 0h0m107.5 7.6h0m25.8 0h0m-266.6 15.2h0m301 0h0m-133.3 7.6h0m25.8 0h0m98.9 7.6h0m-124.7 7.6h0m146.2 15.2h0m-408.5 7.6h0m51.6 0h0m163.4 0h0m86 0h0m34.4 0h0m68.8 0h0m-21.5 7.6h0m-86 15.2h0m-73.1 7.6h0m51.6 0h0m60.2 0h0m86 0h0m-193.5 7.6h0m8.6 15.2h0m129 0h0m25.8 0h0m17.2 0h0m-64.5 7.6h0m47.3 7.6h0m-348.3 7.7h0m-12.9 7.6h0m318.2 0h0m-382.7 7.6h0m77.4 0h0m150.5 7.6h0m34.4 0h0m120.4 0h0m-133.3 7.6h0m-210.7 7.6h0m-4.3 7.6h0m223.6 0h0m34.4 0h0m43 0h0m-98.9 7.6h0m86 0h0m-64.5 7.6h0m-197.8 15.2h0m163.4 0h0m17.2 0h0m-137.6 15.2h0m73.1 7.6h0m17.2 0h0m-8.6 15.2h0m25.8 0h0" stroke="#5a3a4a" stroke-opacity="0.45" stroke-width="7.8"/>
<path d="M0 0m1563.1 496.9h0m240.8 0h0m-365.5 7.6h0m163.4 0h0m107.5 7.6h0m25.8 0h0m-266.6 15.2h0m301 0h0m-133.3 7.6h0m25.8 0h0m98.9 7.6h0m-124.7 7.6h0m146.2 15.2h0m-408.5 7.6h0m51.6 0h0m163.4 0h0m86 0h0m34.4 0h0m68.8 0h0m-21.5 7.6h0m-86 15.2h0m-73.1 7.6h0m51.6 0h0m60.2 0h0m86 0h0m-193.5 7.6h0m8.6 15.2h0m129 0h0m25.8 0h0m17.2 0h0m-64.5 7.6h0m47.3 7.6h0m-348.3 7.7h0m-12.9 7.6h0m318.2 0h0m-382.7 7.6h0m77.4 0h0m150.5 7.6h0m34.4 0h0m120.4 0h0m-133.3 7.6h0m-210.7 7.6h0m-4.3 7.6h0m223.6 0h0m34.4 0h0m43 0h0m-98.9 7.6h0m86 0h0m-64.5 7.6h0m-197.8 15.2h0m163.4 0h0m17.2 0h0m-137.6 15.2h0m73.1 7.6h0m17.2 0h0m-8.6 15.2h0m25.8 0h0" stroke="#F0D4A4" stroke-width="7.1" opacity="0.85"/>
<path d="M0 0m1717.9 496.9h0m-124.7 7.6h0m-12.9 7.6h0m215 15.2h0m-382.7 7.6h0m266.6 0h0m8.6 0h0m86 0h0m17.2 0h0m-81.7 7.6h0m94.6 0h0m-279.5 7.6h0m17.2 0h0m172 0h0m60.2 0h0m-374.1 7.6h0m51.6 0h0m154.8 0h0m21.5 7.6h0m73.1 7.6h0m-90.3 7.6h0m77.4 0h0m17.2 0h0m-318.2 30.4h0m365.5 7.6h0m34.4 0h0m-305.3 7.6h0m197.8 0h0m-184.9 7.6h0m-98.9 7.6h0m266.6 0h0m-172 15.3h0m25.8 0h0m189.2 0h0m43 0h0m-51.6 15.2h0m8.6 15.2h0m8.6 0h0m-288.1 7.6h0m129 0h0m51.6 0h0m94.6 0h0m-150.5 7.6h0m51.6 0h0m43 0h0m34.4 0h0m8.6 0h0m-167.7 38h0m47.3 7.6h0m21.5 7.6h0" stroke="#5a3a4a" stroke-opacity="0.45" stroke-width="7.8"/>
<path d="M0 0m1717.9 496.9h0m-124.7 7.6h0m-12.9 7.6h0m215 15.2h0m-382.7 7.6h0m266.6 0h0m8.6 0h0m86 0h0m17.2 0h0m-81.7 7.6h0m94.6 0h0m-279.5 7.6h0m17.2 0h0m172 0h0m60.2 0h0m-374.1 7.6h0m51.6 0h0m154.8 0h0m21.5 7.6h0m73.1 7.6h0m-90.3 7.6h0m77.4 0h0m17.2 0h0m-318.2 30.4h0m365.5 7.6h0m34.4 0h0m-305.3 7.6h0m197.8 0h0m-184.9 7.6h0m-98.9 7.6h0m266.6 0h0m-172 15.3h0m25.8 0h0m189.2 0h0m43 0h0m-51.6 15.2h0m8.6 15.2h0m8.6 0h0m-288.1 7.6h0m129 0h0m51.6 0h0m94.6 0h0m-150.5 7.6h0m51.6 0h0m43 0h0m34.4 0h0m8.6 0h0m-167.7 38h0m47.3 7.6h0m21.5 7.6h0" stroke="#F6C48C" stroke-width="7.1" opacity="0.85"/>
<path d="M0 0m1692.1 496.9h0m103.2 0h0m-38.7 7.6h0m-219.3 7.6h0m163.4 0h0m-38.7 7.6h0m68.8 60.8h0m-107.5 38h0m-21.5 22.8h0m154.8 0h0m-120.4 15.3h0m90.3 7.6h0m-382.7 7.6h0m279.5 7.6h0m-176.3 7.6h0m43 15.2h0m90.3 7.6h0m-64.5 53.2h0" stroke="#5a3a4a" stroke-opacity="0.6" stroke-width="7.8"/>
<path d="M0 0m1692.1 496.9h0m103.2 0h0m-38.7 7.6h0m-219.3 7.6h0m163.4 0h0m-38.7 7.6h0m68.8 60.8h0m-107.5 38h0m-21.5 22.8h0m154.8 0h0m-120.4 15.3h0m90.3 7.6h0m-382.7 7.6h0m279.5 7.6h0m-176.3 7.6h0m43 15.2h0m90.3 7.6h0m-64.5 53.2h0" stroke="#FDAE61" stroke-width="7.1" opacity="1"/>
<path d="M0 0m1373.9 496.9h0m55.9 7.6h0m270.9 22.8h0m-8.6 15.2h0m38.7 7.6h0m-77.4 45.6h0m-253.7 7.6h0m404.2 0h0m-258 60.9h0m-163.4 15.2h0m262.3 7.6h0m-25.8 15.2h0m-64.5 7.6h0m30.1 22.8h0" stroke="#5a3a4a" stroke-opacity="0.6" stroke-width="7.8"/>
<path d="M0 0m1373.9 496.9h0m55.9 7.6h0m270.9 22.8h0m-8.6 15.2h0m38.7 7.6h0m-77.4 45.6h0m-253.7 7.6h0m404.2 0h0m-258 60.9h0m-163.4 15.2h0m262.3 7.6h0m-25.8 15.2h0m-64.5 7.6h0m30.1 22.8h0" stroke="#F46D43" stroke-width="7.1" opacity="1"/>
<path d="M0 0m1558.8 489.3h0m172 15.2h0m64.5 7.6h0m-180.6 45.6h0m51.6 15.2h0m60.2 0h0m4.3 38h0m8.6 0h0m-17.2 15.2h0m-25.8 15.2h0m-107.5 7.7h0m81.7 7.6h0m43 0h0m-90.3 7.6h0m38.7 7.6h0m-21.5 7.6h0m-223.6 60.8h0" stroke="#5a3a4a" stroke-opacity="0.6" stroke-width="7.8"/>
<path d="M0 0m1558.8 489.3h0m172 15.2h0m64.5 7.6h0m-180.6 45.6h0m51.6 15.2h0m60.2 0h0m4.3 38h0m8.6 0h0m-17.2 15.2h0m-25.8 15.2h0m-107.5 7.7h0m81.7 7.6h0m43 0h0m-90.3 7.6h0m38.7 7.6h0m-21.5 7.6h0m-223.6 60.8h0" stroke="#D53E4F" stroke-width="7.1" opacity="1"/>
<path d="M0 0m1791 489.3h0m17.2 15.2h0m-64.5 22.8h0m-335.4 15.2h0m279.5 7.6h0m21.5 7.6h0m-292.4 15.2h0m249.4 30.4h0m86 0h0m-64.5 7.6h0m30.1 7.6h0m-12.9 7.6h0m-64.5 7.6h0m60.2 0h0m-12.9 7.6h0m-133.3 7.7h0m86 0h0m129 0h0m-163.4 15.2h0m60.2 0h0m-21.5 7.6h0m8.6 0h0m-81.7 38h0m-154.8 15.2h0" stroke="#5a3a4a" stroke-opacity="0.6" stroke-width="7.8"/>
<path d="M0 0m1791 489.3h0m17.2 15.2h0m-64.5 22.8h0m-335.4 15.2h0m279.5 7.6h0m21.5 7.6h0m-292.4 15.2h0m249.4 30.4h0m86 0h0m-64.5 7.6h0m30.1 7.6h0m-12.9 7.6h0m-64.5 7.6h0m60.2 0h0m-12.9 7.6h0m-133.3 7.7h0m86 0h0m129 0h0m-163.4 15.2h0m60.2 0h0m-21.5 7.6h0m8.6 0h0m-81.7 38h0m-154.8 15.2h0" stroke="#9E0142" stroke-width="7.1" opacity="1"/>
</g>
</g>
<clipPath id="cc3"><rect x="1315.6" y="859.5" width="566.9" height="567.2"/></clipPath>
<defs><linearGradient id="bg3" x1="0" y1="0" x2="0" y2="1"><stop offset="0" stop-color="#F8E5F0"/><stop offset="0.45" stop-color="#F9ECF4"/><stop offset="1" stop-color="#FCF8FA"/></linearGradient></defs>
<rect x="1315.6" y="859.5" width="566.9" height="567.2" fill="url(#bg3)"/>
<g clip-path="url(#cc3)">
<g fill="none" stroke-linecap="round"><path d="M1320,1421H1880" stroke="#cbc3cd" stroke-width="7.4" stroke-dasharray="0 13.8"/><path d="M1320,1421H1880" stroke="#F3EDF2" stroke-width="3.8" stroke-dasharray="0 13.8"/></g>
<g fill="none" stroke-linecap="round"><path d="M1877.6,865V1425" stroke="#cbc3cd" stroke-width="7.4" stroke-dasharray="0 13.8"/><path d="M1877.6,865V1425" stroke="#F3EAF1" stroke-width="3.8" stroke-dasharray="0 13.8"/></g>
<g fill="none" stroke-linecap="round"><path d="M1868.5,872V1010" stroke="#d8d0da" stroke-width="7.4" stroke-dasharray="0 13.8"/><path d="M1868.5,872V1010" stroke="#F4E8F1" stroke-width="3.8" stroke-dasharray="0 13.8"/></g>
<clipPath id="ct3"><path d="M1343.1,979.9C1345.8,975 1359.6,964.1 1365.4,961.7C1371.3,959.2 1395.5,956.8 1401.9,955.6C1408.4,954.4 1424.2,949.9 1430.3,949.5C1436.4,949.1 1455.5,951.5 1462.8,951.5C1470.1,951.5 1495.2,950.5 1503.3,949.5C1511.4,948.5 1537.4,942.8 1543.9,941.4C1550.4,940 1562.9,935.7 1568.2,935.3C1573.5,934.9 1591.7,937.9 1596.6,937.3C1601.5,936.7 1613.2,931 1616.9,929.2C1620.5,927.4 1629.9,921.5 1633.1,919.1C1636.3,916.6 1646.1,905.9 1649.3,904.9C1652.6,903.9 1661.9,907.9 1665.5,908.9C1669.2,910 1681.8,915.2 1685.8,915C1689.9,914.8 1702,908.3 1706.1,906.9C1710.2,905.5 1720.3,901.8 1726.4,900.8C1732.5,899.8 1758.8,897.8 1766.9,896.8C1775,895.8 1800.6,891.6 1807.5,890.7C1814.4,889.8 1832.6,884.8 1835.9,887.9C1839.1,890.9 1838.9,913.7 1839.9,921.1C1840.9,928.5 1844.8,953.6 1846,961.7C1847.2,969.8 1850.7,994.1 1852.1,1002.2C1853.5,1010.3 1858.2,1034.7 1860.2,1042.8C1862.2,1050.9 1869.7,1077.2 1872.4,1083.3C1875,1089.4 1885.2,1089.8 1886.6,1103.6C1888,1117.4 1888.4,1206.9 1886.6,1221.1C1884.7,1235.3 1872.2,1240.6 1868.3,1245.4C1864.5,1250.3 1852.1,1264.9 1848,1269.8C1844,1274.6 1832.6,1289.6 1827.8,1294.1C1822.9,1298.6 1805.1,1311.3 1799.4,1314.4C1793.7,1317.4 1777.1,1323.1 1771,1324.5C1764.9,1325.9 1745,1327.6 1738.5,1328.6C1732.1,1329.6 1711.8,1333.2 1706.1,1334.7C1700.4,1336.1 1687.4,1340.9 1681.8,1342.8C1676.1,1344.6 1655.8,1350.9 1649.3,1352.9C1642.8,1354.9 1623.4,1361 1616.9,1363.1C1610.4,1365.1 1590.9,1371.4 1584.4,1373.2C1577.9,1375 1558.5,1380.1 1552,1381.3C1545.5,1382.5 1526,1384.1 1519.6,1385.4C1513.1,1386.6 1493.6,1392.9 1487.1,1393.5C1480.6,1394.1 1460.7,1390.6 1454.7,1391.4C1448.6,1392.3 1430.1,1402.8 1426.3,1401.6C1422.4,1400.4 1418.2,1384.3 1416.1,1379.3C1414.1,1374.2 1407.8,1356.6 1406,1350.9C1404.2,1345.2 1399.5,1328.2 1397.9,1322.5C1396.3,1316.8 1391.4,1300.2 1389.8,1294.1C1388.2,1288 1383.9,1269 1381.7,1261.7C1379.4,1254.4 1369.7,1229.2 1367.5,1221.1C1365.2,1213 1360.6,1188.7 1359.4,1180.6C1358.1,1172.4 1356.3,1145.7 1355.3,1140C1354.3,1134.3 1350.2,1129.6 1349.2,1123.9C1348.2,1118.2 1346,1091.4 1345.2,1083.3C1344.4,1075.2 1341.7,1050.1 1341.1,1042.8C1340.5,1035.5 1338.9,1016.6 1339.1,1010.3C1339.3,1004 1340.5,984.8 1343.1,979.9Z"/></clipPath>
<g filter="url(#tc3)"><g clip-path="url(#ct3)">
<rect x="1305.6" y="849.5" width="586.9" height="587.2" fill="#83569A"/>
<ellipse cx="1480" cy="975" rx="90" ry="22" fill="#C858B0" opacity="0.7" filter="url(#bl12)"/>
<ellipse cx="1390" cy="975" rx="30" ry="18" fill="#5A2A78" opacity="0.6" filter="url(#bl12)"/>
<ellipse cx="1720" cy="1250" rx="60" ry="85" fill="#C8B4D8" opacity="0.75" filter="url(#bl12)"/>
<ellipse cx="1830" cy="1280" rx="40" ry="40" fill="#C660B4" opacity="0.6" filter="url(#bl12)"/>
<ellipse cx="1790" cy="1320" rx="60" ry="18" fill="#CC62B6" opacity="0.6" filter="url(#bl12)"/>
<ellipse cx="1420" cy="1320" rx="40" ry="70" fill="#C058B0" opacity="0.6" filter="url(#bl12)"/>
<ellipse cx="1560" cy="1340" rx="60" ry="30" fill="#B078BC" opacity="0.5" filter="url(#bl12)"/>
<ellipse cx="1600" cy="1100" rx="120" ry="60" fill="#8450A0" opacity="0.4" filter="url(#bl12)"/>
<ellipse cx="1500" cy="1200" rx="60" ry="40" fill="#A054AC" opacity="0.45" filter="url(#bl12)"/>
<ellipse cx="1800" cy="1050" rx="50" ry="80" fill="#8A58A4" opacity="0.4" filter="url(#bl12)"/>
<path d="M1720,981q10,-6 22,2q12,6 16,16q-12,6 -24,-2q-12,-6 -14,-16z" fill="#2E1440" filter="url(#bl5)" opacity="0.9"/>
</g></g>
<g fill="none" stroke-linecap="round">
<path d="M0 0m1771.5 918h0m-107.5 22.8h0m38.7 7.6h0m-176.3 22.8h0m141.9 7.6h0m55.9 7.6h0m90.3 38h0m-90.3 7.6h0m-150.5 22.9h0m279.5 38h0m-279.5 22.8h0m60.2 15.2h0m223.6 0h0m-270.9 22.8h0m25.8 0h0m262.3 7.6h0m-137.6 15.2h0m-331.1 7.6h0m51.6 15.2h0m391.3 7.6h0m-159.1 7.6h0m4.3 38h0m51.6 15.2h0m-12.9 38h0m4.3 7.6h0m-275.2 15.2h0m275.2 0h0m-133.3 7.6h0" stroke="#5a3a4a" stroke-opacity="0.1" stroke-width="7.7"/>
<path d="M0 0m1771.5 918h0m-107.5 22.8h0m38.7 7.6h0m-176.3 22.8h0m141.9 7.6h0m55.9 7.6h0m90.3 38h0m-90.3 7.6h0m-150.5 22.9h0m279.5 38h0m-279.5 22.8h0m60.2 15.2h0m223.6 0h0m-270.9 22.8h0m25.8 0h0m262.3 7.6h0m-137.6 15.2h0m-331.1 7.6h0m51.6 15.2h0m391.3 7.6h0m-159.1 7.6h0m4.3 38h0m51.6 15.2h0m-12.9 38h0m4.3 7.6h0m-275.2 15.2h0m275.2 0h0m-133.3 7.6h0" stroke="#8894B0" stroke-width="7.0" opacity="0.3"/>
<path d="M0 0m1801.6 895.2h0m-38.7 7.6h0m-107.5 22.8h0m103.2 0h0m8.6 0h0m-90.3 7.6h0m-98.9 7.6h0m34.4 0h0m77.4 0h0m94.6 0h0m-159.1 7.6h0m-202.1 7.6h0m111.8 0h0m25.8 0h0m240.8 0h0m-348.3 7.6h0m8.6 0h0m240.8 0h0m68.8 0h0m-116.1 7.6h0m25.8 0h0m154.8 0h0m-434.3 7.6h0m344 0h0m60.2 0h0m-193.5 7.6h0m34.4 0h0m17.2 0h0m120.4 0h0m-399.9 7.6h0m258 0h0m120.4 0h0m51.6 0h0m-184.9 7.6h0m94.6 0h0m17.2 0h0m60.2 0h0m-399.9 7.6h0m68.8 0h0m180.6 0h0m25.8 0h0m-81.7 7.6h0m-202.1 7.6h0m86 0h0m86 0h0m68.8 0h0m8.6 0h0m-262.3 7.6h0m86 0h0m94.6 0h0m51.6 0h0m180.6 0h0m-331.1 7.7h0m68.8 0h0m34.4 0h0m120.4 0h0m77.4 0h0m17.2 0h0m-408.5 7.6h0m197.8 0h0m-116.1 7.6h0m51.6 0h0m103.2 0h0m68.8 0h0m8.6 0h0m34.4 0h0m60.2 0h0m60.2 0h0m-348.3 7.6h0m163.4 0h0m-159.1 7.6h0m86 0h0m86 0h0m43 0h0m25.8 0h0m17.2 0h0m25.8 0h0m17.2 0h0m8.6 0h0m43 0h0m-425.7 7.6h0m25.8 0h0m8.6 0h0m8.6 0h0m189.2 0h0m17.2 0h0m189.2 0h0m8.6 0h0m-253.7 7.6h0m34.4 0h0m60.2 0h0m25.8 0h0m-184.9 7.6h0m86 0h0m189.2 0h0m8.6 0h0m-279.5 7.6h0m94.6 0h0m43 0h0m120.4 0h0m51.6 0h0m-288.1 7.6h0m120.4 0h0m51.6 0h0m17.2 0h0m-348.3 7.6h0m43 0h0m189.2 0h0m34.4 0h0m-202.1 7.6h0m25.8 0h0m86 0h0m68.8 0h0m68.8 0h0m25.8 0h0m51.6 0h0m43 0h0m-417.1 7.6h0m103.2 0h0m8.6 0h0m8.6 0h0m154.8 0h0m68.8 0h0m68.8 0h0m-331.1 7.6h0m137.6 0h0m120.4 0h0m-348.3 7.6h0m60.2 0h0m107.5 7.6h0m197.8 0h0m-391.3 7.6h0m94.6 0h0m51.6 0h0m292.4 0h0m-460.1 7.6h0m223.6 0h0m111.8 0h0m146.2 0h0m17.2 0h0m-399.9 7.6h0m8.6 0h0m258 0h0m51.6 0h0m8.6 0h0m25.8 0h0m-451.5 7.6h0m180.6 0h0m51.6 15.2h0m8.6 0h0m-245.1 7.6h0m8.6 0h0m172 0h0m189.2 0h0m86 0h0m51.6 0h0m-511.7 7.6h0m60.2 0h0m215 0h0m180.6 0h0m34.4 0h0m-460.1 7.6h0m8.6 0h0m111.8 0h0m86 0h0m111.8 0h0m94.6 0h0m17.2 0h0m-425.7 7.6h0m34.4 0h0m77.4 0h0m94.6 0h0m137.6 0h0m86 0h0m-408.5 7.6h0m137.6 0h0m146.2 0h0m17.2 0h0m17.2 0h0m43 0h0m68.8 0h0m8.6 0h0m-460.1 7.6h0m240.8 0h0m51.6 0h0m25.8 0h0m25.8 0h0m-348.3 7.6h0m455.8 0h0m-236.5 7.6h0m180.6 0h0m-296.7 7.6h0m146.2 0h0m103.2 0h0m-262.3 7.6h0m8.6 0h0m301 0h0m-184.9 7.6h0m68.8 0h0m103.2 0h0m-382.7 7.6h0m77.4 0h0m25.8 0h0m129 0h0m60.2 0h0m8.6 0h0m77.4 0h0m25.8 0h0m-262.3 7.6h0m120.4 0h0m43 0h0m51.6 0h0m-313.9 7.6h0m120.4 0h0m25.8 0h0m-107.5 7.6h0m8.6 0h0m73.1 7.6h0m137.6 0h0m60.2 0h0m-296.7 7.6h0m8.6 0h0m146.2 0h0m86 0h0m8.6 0h0m-309.6 15.2h0m137.6 0h0m129 0h0m-245.1 7.6h0m197.8 0h0m-184.9 7.7h0m55.9 7.6h0m-47.3 7.6h0m12.9 7.6h0m34.4 0h0m-21.5 7.6h0" stroke="#5a3a4a" stroke-opacity="0.1" stroke-width="7.7"/>
<path d="M0 0m1801.6 895.2h0m-38.7 7.6h0m-107.5 22.8h0m103.2 0h0m8.6 0h0m-90.3 7.6h0m-98.9 7.6h0m34.4 0h0m77.4 0h0m94.6 0h0m-159.1 7.6h0m-202.1 7.6h0m111.8 0h0m25.8 0h0m240.8 0h0m-348.3 7.6h0m8.6 0h0m240.8 0h0m68.8 0h0m-116.1 7.6h0m25.8 0h0m154.8 0h0m-434.3 7.6h0m344 0h0m60.2 0h0m-193.5 7.6h0m34.4 0h0m17.2 0h0m120.4 0h0m-399.9 7.6h0m258 0h0m120.4 0h0m51.6 0h0m-184.9 7.6h0m94.6 0h0m17.2 0h0m60.2 0h0m-399.9 7.6h0m68.8 0h0m180.6 0h0m25.8 0h0m-81.7 7.6h0m-202.1 7.6h0m86 0h0m86 0h0m68.8 0h0m8.6 0h0m-262.3 7.6h0m86 0h0m94.6 0h0m51.6 0h0m180.6 0h0m-331.1 7.7h0m68.8 0h0m34.4 0h0m120.4 0h0m77.4 0h0m17.2 0h0m-408.5 7.6h0m197.8 0h0m-116.1 7.6h0m51.6 0h0m103.2 0h0m68.8 0h0m8.6 0h0m34.4 0h0m60.2 0h0m60.2 0h0m-348.3 7.6h0m163.4 0h0m-159.1 7.6h0m86 0h0m86 0h0m43 0h0m25.8 0h0m17.2 0h0m25.8 0h0m17.2 0h0m8.6 0h0m43 0h0m-425.7 7.6h0m25.8 0h0m8.6 0h0m8.6 0h0m189.2 0h0m17.2 0h0m189.2 0h0m8.6 0h0m-253.7 7.6h0m34.4 0h0m60.2 0h0m25.8 0h0m-184.9 7.6h0m86 0h0m189.2 0h0m8.6 0h0m-279.5 7.6h0m94.6 0h0m43 0h0m120.4 0h0m51.6 0h0m-288.1 7.6h0m120.4 0h0m51.6 0h0m17.2 0h0m-348.3 7.6h0m43 0h0m189.2 0h0m34.4 0h0m-202.1 7.6h0m25.8 0h0m86 0h0m68.8 0h0m68.8 0h0m25.8 0h0m51.6 0h0m43 0h0m-417.1 7.6h0m103.2 0h0m8.6 0h0m8.6 0h0m154.8 0h0m68.8 0h0m68.8 0h0m-331.1 7.6h0m137.6 0h0m120.4 0h0m-348.3 7.6h0m60.2 0h0m107.5 7.6h0m197.8 0h0m-391.3 7.6h0m94.6 0h0m51.6 0h0m292.4 0h0m-460.1 7.6h0m223.6 0h0m111.8 0h0m146.2 0h0m17.2 0h0m-399.9 7.6h0m8.6 0h0m258 0h0m51.6 0h0m8.6 0h0m25.8 0h0m-451.5 7.6h0m180.6 0h0m51.6 15.2h0m8.6 0h0m-245.1 7.6h0m8.6 0h0m172 0h0m189.2 0h0m86 0h0m51.6 0h0m-511.7 7.6h0m60.2 0h0m215 0h0m180.6 0h0m34.4 0h0m-460.1 7.6h0m8.6 0h0m111.8 0h0m86 0h0m111.8 0h0m94.6 0h0m17.2 0h0m-425.7 7.6h0m34.4 0h0m77.4 0h0m94.6 0h0m137.6 0h0m86 0h0m-408.5 7.6h0m137.6 0h0m146.2 0h0m17.2 0h0m17.2 0h0m43 0h0m68.8 0h0m8.6 0h0m-460.1 7.6h0m240.8 0h0m51.6 0h0m25.8 0h0m25.8 0h0m-348.3 7.6h0m455.8 0h0m-236.5 7.6h0m180.6 0h0m-296.7 7.6h0m146.2 0h0m103.2 0h0m-262.3 7.6h0m8.6 0h0m301 0h0m-184.9 7.6h0m68.8 0h0m103.2 0h0m-382.7 7.6h0m77.4 0h0m25.8 0h0m129 0h0m60.2 0h0m8.6 0h0m77.4 0h0m25.8 0h0m-262.3 7.6h0m120.4 0h0m43 0h0m51.6 0h0m-313.9 7.6h0m120.4 0h0m25.8 0h0m-107.5 7.6h0m8.6 0h0m73.1 7.6h0m137.6 0h0m60.2 0h0m-296.7 7.6h0m8.6 0h0m146.2 0h0m86 0h0m8.6 0h0m-309.6 15.2h0m137.6 0h0m129 0h0m-245.1 7.6h0m197.8 0h0m-184.9 7.7h0m55.9 7.6h0m-47.3 7.6h0m12.9 7.6h0m34.4 0h0m-21.5 7.6h0" stroke="#93A8B4" stroke-width="7.0" opacity="0.3"/>
<path d="M0 0m1793 895.2h0m-129 15.2h0m94.6 0h0m25.8 0h0m-21.5 7.6h0m55.9 7.6h0m-210.7 7.6h0m51.6 0h0m34.4 0h0m25.8 0h0m60.2 0h0m-184.9 7.6h0m215 0h0m-141.9 7.6h0m120.4 0h0m-279.5 7.6h0m137.6 0h0m94.6 0h0m-219.3 7.6h0m25.8 0h0m34.4 0h0m180.6 0h0m-382.7 7.6h0m8.6 0h0m86 0h0m17.2 0h0m43 0h0m137.6 0h0m94.6 0h0m17.2 0h0m-408.5 7.6h0m86 0h0m25.8 0h0m34.4 0h0m51.6 0h0m43 0h0m206.4 0h0m-417.1 7.6h0m163.4 0h0m103.2 0h0m-176.3 7.6h0m103.2 0h0m77.4 0h0m17.2 0h0m94.6 0h0m8.6 0h0m8.6 0h0m34.4 0h0m-442.9 7.6h0m60.2 0h0m17.2 0h0m94.6 0h0m86 0h0m77.4 0h0m25.8 0h0m77.4 0h0m-339.7 7.6h0m8.6 0h0m86 0h0m25.8 0h0m103.2 0h0m-141.9 7.6h0m206.4 0h0m-124.7 7.6h0m163.4 0h0m-322.5 7.6h0m120.4 0h0m34.4 0h0m-270.9 7.7h0m137.6 0h0m60.2 0h0m38.7 7.6h0m77.4 0h0m68.8 0h0m-253.7 7.6h0m309.6 0h0m-202.1 7.6h0m77.4 0h0m60.2 0h0m25.8 0h0m-425.7 7.6h0m129 0h0m120.4 0h0m34.4 0h0m172 0h0m43 0h0m-460.1 7.6h0m8.6 0h0m8.6 0h0m94.6 0h0m68.8 0h0m60.2 0h0m180.6 0h0m-374.1 7.6h0m25.8 0h0m17.2 0h0m17.2 0h0m25.8 0h0m240.8 0h0m43 0h0m8.6 0h0m-468.7 7.6h0m215 0h0m25.8 0h0m137.6 0h0m146.2 0h0m-348.3 7.6h0m240.8 0h0m86 0h0m-262.3 7.6h0m8.6 0h0m34.4 0h0m-262.3 7.6h0m258 0h0m77.4 0h0m17.2 0h0m17.2 0h0m-202.1 7.6h0m8.6 0h0m8.6 0h0m43 0h0m137.6 0h0m8.6 0h0m51.6 0h0m-417.1 7.6h0m8.6 0h0m8.6 0h0m51.6 0h0m77.4 0h0m86 0h0m8.6 0h0m34.4 0h0m8.6 0h0m-305.3 7.6h0m25.8 0h0m51.6 0h0m43 0h0m120.4 0h0m103.2 0h0m-184.9 7.6h0m223.6 0h0m-348.3 7.6h0m344 0h0m137.6 0h0m-468.7 7.6h0m25.8 0h0m68.8 0h0m223.6 0h0m-288.1 7.6h0m249.4 0h0m34.4 0h0m34.4 0h0m8.6 0h0m-356.9 7.6h0m86 0h0m232.2 0h0m-210.7 7.6h0m223.6 0h0m60.2 0h0m-348.3 7.6h0m206.4 0h0m120.4 0h0m51.6 0h0m34.4 0h0m-425.7 7.6h0m189.2 0h0m34.4 0h0m154.8 0h0m51.6 0h0m-382.7 7.6h0m34.4 0h0m146.2 0h0m-55.9 7.6h0m51.6 0h0m77.4 0h0m103.2 0h0m34.4 0h0m-296.7 7.6h0m8.6 0h0m94.6 0h0m77.4 0h0m-382.7 7.6h0m189.2 0h0m60.2 0h0m60.2 0h0m17.2 0h0m68.8 0h0m77.4 0h0m-176.3 7.6h0m-184.9 7.6h0m172 0h0m77.4 0h0m17.2 0h0m86 0h0m-313.9 7.6h0m34.4 0h0m34.4 0h0m17.2 0h0m146.2 0h0m17.2 0h0m34.4 0h0m-288.1 7.6h0m8.6 0h0m232.2 0h0m25.8 0h0m-262.3 7.6h0m25.8 0h0m8.6 0h0m43 0h0m103.2 0h0m-240.8 15.2h0m17.2 0h0m215 0h0m-288.1 7.6h0m8.6 0h0m266.6 0h0m86 0h0m-313.9 7.6h0m17.2 0h0m25.8 0h0m154.8 0h0m68.8 0h0m12.9 7.6h0m17.2 0h0m17.2 0h0m-313.9 7.6h0m60.2 0h0m34.4 0h0m120.4 0h0m8.6 0h0m-279.5 7.6h0m34.4 0h0m60.2 0h0m240.8 0h0m-313.9 7.6h0m86 0h0m8.6 0h0m25.8 0h0m120.4 0h0m-219.3 7.6h0m8.6 0h0m60.2 0h0m137.6 0h0m-236.5 7.6h0m43 0h0m43 0h0m86 0h0m68.8 0h0m-159.1 7.6h0m-30.1 7.7h0m51.6 0h0m60.2 0h0m-141.9 22.8h0m8.6 0h0m34.4 0h0m43 0h0m-81.7 7.6h0m25.8 0h0" stroke="#5a3a4a" stroke-opacity="0.1" stroke-width="7.7"/>
<path d="M0 0m1793 895.2h0m-129 15.2h0m94.6 0h0m25.8 0h0m-21.5 7.6h0m55.9 7.6h0m-210.7 7.6h0m51.6 0h0m34.4 0h0m25.8 0h0m60.2 0h0m-184.9 7.6h0m215 0h0m-141.9 7.6h0m120.4 0h0m-279.5 7.6h0m137.6 0h0m94.6 0h0m-219.3 7.6h0m25.8 0h0m34.4 0h0m180.6 0h0m-382.7 7.6h0m8.6 0h0m86 0h0m17.2 0h0m43 0h0m137.6 0h0m94.6 0h0m17.2 0h0m-408.5 7.6h0m86 0h0m25.8 0h0m34.4 0h0m51.6 0h0m43 0h0m206.4 0h0m-417.1 7.6h0m163.4 0h0m103.2 0h0m-176.3 7.6h0m103.2 0h0m77.4 0h0m17.2 0h0m94.6 0h0m8.6 0h0m8.6 0h0m34.4 0h0m-442.9 7.6h0m60.2 0h0m17.2 0h0m94.6 0h0m86 0h0m77.4 0h0m25.8 0h0m77.4 0h0m-339.7 7.6h0m8.6 0h0m86 0h0m25.8 0h0m103.2 0h0m-141.9 7.6h0m206.4 0h0m-124.7 7.6h0m163.4 0h0m-322.5 7.6h0m120.4 0h0m34.4 0h0m-270.9 7.7h0m137.6 0h0m60.2 0h0m38.7 7.6h0m77.4 0h0m68.8 0h0m-253.7 7.6h0m309.6 0h0m-202.1 7.6h0m77.4 0h0m60.2 0h0m25.8 0h0m-425.7 7.6h0m129 0h0m120.4 0h0m34.4 0h0m172 0h0m43 0h0m-460.1 7.6h0m8.6 0h0m8.6 0h0m94.6 0h0m68.8 0h0m60.2 0h0m180.6 0h0m-374.1 7.6h0m25.8 0h0m17.2 0h0m17.2 0h0m25.8 0h0m240.8 0h0m43 0h0m8.6 0h0m-468.7 7.6h0m215 0h0m25.8 0h0m137.6 0h0m146.2 0h0m-348.3 7.6h0m240.8 0h0m86 0h0m-262.3 7.6h0m8.6 0h0m34.4 0h0m-262.3 7.6h0m258 0h0m77.4 0h0m17.2 0h0m17.2 0h0m-202.1 7.6h0m8.6 0h0m8.6 0h0m43 0h0m137.6 0h0m8.6 0h0m51.6 0h0m-417.1 7.6h0m8.6 0h0m8.6 0h0m51.6 0h0m77.4 0h0m86 0h0m8.6 0h0m34.4 0h0m8.6 0h0m-305.3 7.6h0m25.8 0h0m51.6 0h0m43 0h0m120.4 0h0m103.2 0h0m-184.9 7.6h0m223.6 0h0m-348.3 7.6h0m344 0h0m137.6 0h0m-468.7 7.6h0m25.8 0h0m68.8 0h0m223.6 0h0m-288.1 7.6h0m249.4 0h0m34.4 0h0m34.4 0h0m8.6 0h0m-356.9 7.6h0m86 0h0m232.2 0h0m-210.7 7.6h0m223.6 0h0m60.2 0h0m-348.3 7.6h0m206.4 0h0m120.4 0h0m51.6 0h0m34.4 0h0m-425.7 7.6h0m189.2 0h0m34.4 0h0m154.8 0h0m51.6 0h0m-382.7 7.6h0m34.4 0h0m146.2 0h0m-55.9 7.6h0m51.6 0h0m77.4 0h0m103.2 0h0m34.4 0h0m-296.7 7.6h0m8.6 0h0m94.6 0h0m77.4 0h0m-382.7 7.6h0m189.2 0h0m60.2 0h0m60.2 0h0m17.2 0h0m68.8 0h0m77.4 0h0m-176.3 7.6h0m-184.9 7.6h0m172 0h0m77.4 0h0m17.2 0h0m86 0h0m-313.9 7.6h0m34.4 0h0m34.4 0h0m17.2 0h0m146.2 0h0m17.2 0h0m34.4 0h0m-288.1 7.6h0m8.6 0h0m232.2 0h0m25.8 0h0m-262.3 7.6h0m25.8 0h0m8.6 0h0m43 0h0m103.2 0h0m-240.8 15.2h0m17.2 0h0m215 0h0m-288.1 7.6h0m8.6 0h0m266.6 0h0m86 0h0m-313.9 7.6h0m17.2 0h0m25.8 0h0m154.8 0h0m68.8 0h0m12.9 7.6h0m17.2 0h0m17.2 0h0m-313.9 7.6h0m60.2 0h0m34.4 0h0m120.4 0h0m8.6 0h0m-279.5 7.6h0m34.4 0h0m60.2 0h0m240.8 0h0m-313.9 7.6h0m86 0h0m8.6 0h0m25.8 0h0m120.4 0h0m-219.3 7.6h0m8.6 0h0m60.2 0h0m137.6 0h0m-236.5 7.6h0m43 0h0m43 0h0m86 0h0m68.8 0h0m-159.1 7.6h0m-30.1 7.7h0m51.6 0h0m60.2 0h0m-141.9 22.8h0m8.6 0h0m34.4 0h0m43 0h0m-81.7 7.6h0m25.8 0h0" stroke="#A6B8B0" stroke-width="7.0" opacity="0.3"/>
<path d="M0 0m1810.2 895.2h0m-34.4 30.4h0m60.2 0h0m-103.2 15.2h0m-292.4 15.2h0m184.9 7.6h0m163.4 0h0m-348.3 7.6h0m17.2 0h0m262.3 7.6h0m-227.9 7.6h0m197.8 0h0m-348.3 7.6h0m34.4 0h0m206.4 0h0m-34.4 15.2h0m-55.9 7.6h0m339.7 7.6h0m-391.3 7.6h0m197.8 0h0m-202.1 7.7h0m-68.8 15.2h0m387 0h0m-288.1 7.6h0m43 0h0m64.5 22.8h0m275.2 0h0m-176.3 7.6h0m68.8 0h0m-193.5 7.6h0m172 0h0m-120.4 15.2h0m107.5 7.6h0m43 15.2h0m60.2 0h0m-447.2 15.2h0m25.8 15.2h0m322.5 7.6h0m-262.3 7.6h0m55.9 7.6h0m-90.3 7.6h0m279.5 7.6h0m90.3 7.6h0m86 0h0m-232.2 15.2h0m-249.4 15.2h0m262.3 7.6h0m-262.3 7.6h0m17.2 0h0m240.8 0h0m-236.5 7.6h0m60.2 0h0m189.2 0h0m-262.3 7.6h0m8.6 0h0m275.2 0h0m-167.7 7.6h0m-73.1 7.6h0m129 0h0m73.1 7.6h0m-236.5 7.6h0m172 0h0m25.8 0h0m-202.1 7.6h0m90.3 7.6h0m17.2 0h0m107.5 7.6h0m12.9 7.6h0m-150.5 7.6h0m43 0h0m77.4 0h0m-180.6 15.3h0m111.8 0h0m12.9 7.6h0m-98.9 7.6h0m73.1 7.6h0m-55.9 7.6h0" stroke="#5a3a4a" stroke-opacity="0.3" stroke-width="7.7"/>
<path d="M0 0m1810.2 895.2h0m-34.4 30.4h0m60.2 0h0m-103.2 15.2h0m-292.4 15.2h0m184.9 7.6h0m163.4 0h0m-348.3 7.6h0m17.2 0h0m262.3 7.6h0m-227.9 7.6h0m197.8 0h0m-348.3 7.6h0m34.4 0h0m206.4 0h0m-34.4 15.2h0m-55.9 7.6h0m339.7 7.6h0m-391.3 7.6h0m197.8 0h0m-202.1 7.7h0m-68.8 15.2h0m387 0h0m-288.1 7.6h0m43 0h0m64.5 22.8h0m275.2 0h0m-176.3 7.6h0m68.8 0h0m-193.5 7.6h0m172 0h0m-120.4 15.2h0m107.5 7.6h0m43 15.2h0m60.2 0h0m-447.2 15.2h0m25.8 15.2h0m322.5 7.6h0m-262.3 7.6h0m55.9 7.6h0m-90.3 7.6h0m279.5 7.6h0m90.3 7.6h0m86 0h0m-232.2 15.2h0m-249.4 15.2h0m262.3 7.6h0m-262.3 7.6h0m17.2 0h0m240.8 0h0m-236.5 7.6h0m60.2 0h0m189.2 0h0m-262.3 7.6h0m8.6 0h0m275.2 0h0m-167.7 7.6h0m-73.1 7.6h0m129 0h0m73.1 7.6h0m-236.5 7.6h0m172 0h0m25.8 0h0m-202.1 7.6h0m90.3 7.6h0m17.2 0h0m107.5 7.6h0m12.9 7.6h0m-150.5 7.6h0m43 0h0m77.4 0h0m-180.6 15.3h0m111.8 0h0m12.9 7.6h0m-98.9 7.6h0m73.1 7.6h0m-55.9 7.6h0" stroke="#C8C2A8" stroke-width="7.0" opacity="0.62"/>
<path d="M0 0m1633.9 933.2h0m-81.7 7.6h0m-81.7 22.8h0m-47.3 7.6h0m8.6 0h0m318.2 15.2h0m-236.5 7.6h0m-30.1 7.6h0m154.8 0h0m-38.7 7.6h0m94.6 60.9h0m21.5 7.6h0m-249.4 15.2h0m-25.8 15.2h0m124.7 22.8h0m-111.8 15.2h0m107.5 7.6h0m-4.3 7.6h0m51.6 0h0m184.9 38h0m-382.7 7.6h0m391.3 7.6h0m-137.6 15.2h0m-124.7 7.6h0m-103.2 15.2h0m279.5 22.8h0m-227.9 22.8h0m86 0h0m-176.3 7.6h0m309.6 0h0m-253.7 7.6h0m129 0h0m-167.7 7.6h0m232.2 15.2h0m-219.3 7.6h0m60.2 0h0m150.5 7.6h0m-150.5 7.7h0m8.6 0h0m60.2 0h0m-141.9 7.6h0m154.8 0h0m-30.1 7.6h0m-111.8 15.2h0" stroke="#5a3a4a" stroke-opacity="0.3" stroke-width="7.7"/>
<path d="M0 0m1633.9 933.2h0m-81.7 7.6h0m-81.7 22.8h0m-47.3 7.6h0m8.6 0h0m318.2 15.2h0m-236.5 7.6h0m-30.1 7.6h0m154.8 0h0m-38.7 7.6h0m94.6 60.9h0m21.5 7.6h0m-249.4 15.2h0m-25.8 15.2h0m124.7 22.8h0m-111.8 15.2h0m107.5 7.6h0m-4.3 7.6h0m51.6 0h0m184.9 38h0m-382.7 7.6h0m391.3 7.6h0m-137.6 15.2h0m-124.7 7.6h0m-103.2 15.2h0m279.5 22.8h0m-227.9 22.8h0m86 0h0m-176.3 7.6h0m309.6 0h0m-253.7 7.6h0m129 0h0m-167.7 7.6h0m232.2 15.2h0m-219.3 7.6h0m60.2 0h0m150.5 7.6h0m-150.5 7.7h0m8.6 0h0m60.2 0h0m-141.9 7.6h0m154.8 0h0m-30.1 7.6h0m-111.8 15.2h0" stroke="#E2D2A8" stroke-width="7.0" opacity="0.62"/>
<path d="M0 0m1831.7 902.8h0m-262.3 38h0m77.4 0h0m-189.2 15.2h0m25.8 0h0m193.5 7.6h0m-210.7 7.6h0m12.9 22.8h0m38.7 7.6h0m-133.3 7.6h0m197.8 0h0m-8.6 15.2h0m163.4 15.3h0m-21.5 7.6h0m-111.8 15.2h0m103.2 30.4h0m141.9 22.8h0m-30.1 7.6h0m-81.7 38h0m-288.1 7.6h0m111.8 0h0m-133.3 7.6h0m430 0h0m-34.4 30.4h0m-305.3 7.6h0m-73.1 7.6h0m86 0h0m184.9 7.6h0m-339.7 7.6h0m146.2 0h0m86 15.2h0m-55.9 7.6h0m-34.4 30.4h0m-60.2 15.2h0m326.8 0h0m-374.1 7.6h0m8.6 0h0m107.5 7.6h0m111.8 15.2h0m-81.7 7.6h0m-60.2 30.5h0m8.6 0h0m8.6 0h0m34.4 0h0m-116.1 7.6h0m55.9 7.6h0" stroke="#5a3a4a" stroke-opacity="0.45" stroke-width="7.7"/>
<path d="M0 0m1831.7 902.8h0m-262.3 38h0m77.4 0h0m-189.2 15.2h0m25.8 0h0m193.5 7.6h0m-210.7 7.6h0m12.9 22.8h0m38.7 7.6h0m-133.3 7.6h0m197.8 0h0m-8.6 15.2h0m163.4 15.3h0m-21.5 7.6h0m-111.8 15.2h0m103.2 30.4h0m141.9 22.8h0m-30.1 7.6h0m-81.7 38h0m-288.1 7.6h0m111.8 0h0m-133.3 7.6h0m430 0h0m-34.4 30.4h0m-305.3 7.6h0m-73.1 7.6h0m86 0h0m184.9 7.6h0m-339.7 7.6h0m146.2 0h0m86 15.2h0m-55.9 7.6h0m-34.4 30.4h0m-60.2 15.2h0m326.8 0h0m-374.1 7.6h0m8.6 0h0m107.5 7.6h0m111.8 15.2h0m-81.7 7.6h0m-60.2 30.5h0m8.6 0h0m8.6 0h0m34.4 0h0m-116.1 7.6h0m55.9 7.6h0" stroke="#F0D4A4" stroke-width="7.0" opacity="0.85"/>
<path d="M0 0m1698.4 910.4h0m-184.9 53.2h0m64.5 7.6h0m-47.3 7.6h0m236.5 22.8h0m-167.7 22.8h0m-232.2 15.3h0m98.9 7.6h0m-4.3 38h0m193.5 22.8h0m210.7 68.4h0m-477.3 7.6h0m77.4 15.2h0m30.1 38h0m-103.2 30.4h0m64.5 22.8h0m163.4 0h0m-210.7 7.6h0m120.4 0h0m-4.3 7.6h0m103.2 0h0m137.6 0h0m-232.2 15.2h0m51.6 0h0m-184.9 7.6h0m8.6 0h0m21.5 7.6h0m60.2 0h0m8.6 0h0m94.6 0h0m77.4 0h0m-249.4 15.2h0m17.2 0h0m8.6 15.3h0m34.4 0h0m111.8 0h0m-38.7 7.6h0m17.2 0h0" stroke="#5a3a4a" stroke-opacity="0.45" stroke-width="7.7"/>
<path d="M0 0m1698.4 910.4h0m-184.9 53.2h0m64.5 7.6h0m-47.3 7.6h0m236.5 22.8h0m-167.7 22.8h0m-232.2 15.3h0m98.9 7.6h0m-4.3 38h0m193.5 22.8h0m210.7 68.4h0m-477.3 7.6h0m77.4 15.2h0m30.1 38h0m-103.2 30.4h0m64.5 22.8h0m163.4 0h0m-210.7 7.6h0m120.4 0h0m-4.3 7.6h0m103.2 0h0m137.6 0h0m-232.2 15.2h0m51.6 0h0m-184.9 7.6h0m8.6 0h0m21.5 7.6h0m60.2 0h0m8.6 0h0m94.6 0h0m77.4 0h0m-249.4 15.2h0m17.2 0h0m8.6 15.3h0m34.4 0h0m111.8 0h0m-38.7 7.6h0m17.2 0h0" stroke="#F6C48C" stroke-width="7.0" opacity="0.85"/>
<path d="M0 0m1590.9 1298.1h0m-133.3 22.8h0m38.7 22.8h0m-30.1 7.6h0m111.8 0h0m-103.2 15.3h0m17.2 0h0" stroke="#5a3a4a" stroke-opacity="0.6" stroke-width="7.7"/>
<path d="M0 0m1590.9 1298.1h0m-133.3 22.8h0m38.7 22.8h0m-30.1 7.6h0m111.8 0h0m-103.2 15.3h0m17.2 0h0" stroke="#FDAE61" stroke-width="7.0" opacity="1"/>
<path d="M0 0m1380.2 986.4h0m47.3 7.6h0m-43 258.5h0m150.5 53.2h0m38.7 7.6h0m-120.4 30.4h0m-17.2 15.3h0m0 15.2h0m-12.9 7.6h0m34.4 0h0m17.2 0h0" stroke="#5a3a4a" stroke-opacity="0.6" stroke-width="7.7"/>
<path d="M0 0m1380.2 986.4h0m47.3 7.6h0m-43 258.5h0m150.5 53.2h0m38.7 7.6h0m-120.4 30.4h0m-17.2 15.3h0m0 15.2h0m-12.9 7.6h0m34.4 0h0m17.2 0h0" stroke="#F46D43" stroke-width="7.0" opacity="1"/>
<path d="M0 0m1358.7 978.8h0m34.4 15.2h0m219.3 296.5h0m-51.6 15.2h0m-129 15.2h0m111.8 0h0m94.6 0h0m-81.7 7.6h0m-21.5 7.6h0m-43 15.2h0m-25.8 15.3h0m137.6 0h0m-73.1 7.6h0" stroke="#5a3a4a" stroke-opacity="0.6" stroke-width="7.7"/>
<path d="M0 0m1358.7 978.8h0m34.4 15.2h0m219.3 296.5h0m-51.6 15.2h0m-129 15.2h0m111.8 0h0m94.6 0h0m-81.7 7.6h0m-21.5 7.6h0m-43 15.2h0m-25.8 15.3h0m137.6 0h0m-73.1 7.6h0" stroke="#D53E4F" stroke-width="7.0" opacity="1"/>
<path d="M0 0m1470.5 978.8h0m116.1 7.6h0m-154.8 15.2h0m-12.9 281.3h0m116.1 7.6h0m21.5 7.6h0m-4.3 38h0m68.8 0h0m-81.7 22.9h0" stroke="#5a3a4a" stroke-opacity="0.6" stroke-width="7.7"/>
<path d="M0 0m1470.5 978.8h0m116.1 7.6h0m-154.8 15.2h0m-12.9 281.3h0m116.1 7.6h0m21.5 7.6h0m-4.3 38h0m68.8 0h0m-81.7 22.9h0" stroke="#9E0142" stroke-width="7.0" opacity="1"/>
</g>
</g>
<defs><linearGradient id="spg"><stop offset="0" stop-color="#5E4FA2"/><stop offset="0.1" stop-color="#3288BD"/><stop offset="0.2" stop-color="#66C2A5"/><stop offset="0.3" stop-color="#ABDDA4"/><stop offset="0.4" stop-color="#E6F598"/><stop offset="0.5" stop-color="#FFFFBF"/><stop offset="0.6" stop-color="#FEE08B"/><stop offset="0.7" stop-color="#FDAE61"/><stop offset="0.8" stop-color="#F46D43"/><stop offset="0.9" stop-color="#D53E4F"/><stop offset="1" stop-color="#9E0142"/></linearGradient></defs>
<rect x="1729.2" y="1406.4" width="108.7" height="21.6" fill="url(#spg)"/>
<text x="1725.6" y="1399.6" font-size="19.5">0</text>
<text x="1817.6" y="1399.6" font-size="19.5">&gt;q99</text>
<path d="M1347.2,402.4H1428.3" stroke="#000" stroke-width="1.6"/>
<text x="1387.5" y="392.3" font-size="17.5" text-anchor="middle">1 mm</text>
<text x="1610.8" y="405.3" font-size="30.1"><tspan font-style="italic">SFTPA2+</tspan> signature</text>
<text x="1781.1" y="787.7" font-size="29.6" font-style="italic">PTEN</text>
<text x="1326.9" y="902.9" font-size="30.1"><tspan font-style="italic">SFTPA2+</tspan> signature</text>
</g>
<g id="panel_b">
<circle cx="462.4" cy="629.9" r="9.3" fill="#97DFCB"/>
<text x="476.6" y="637.1" font-size="19.5">A</text>
<circle cx="530.5" cy="629.9" r="9.3" fill="#80B1D3"/>
<text x="544.7" y="637.1" font-size="19.5">C</text>
<circle cx="598.5" cy="629.9" r="9.3" fill="#ADE75C"/>
<text x="612.7" y="637.1" font-size="19.5">E</text>
<circle cx="666.3" cy="629.9" r="9.3" fill="#B47CC7"/>
<text x="680.5" y="637.1" font-size="19.5">G</text>
<circle cx="462.4" cy="659.3" r="9.3" fill="#F0766C"/>
<text x="476.6" y="666.5" font-size="19.5">B</text>
<circle cx="530.5" cy="659.3" r="9.3" fill="#EEA95C"/>
<text x="544.7" y="666.5" font-size="19.5">D</text>
<circle cx="598.5" cy="659.3" r="9.3" fill="#F3C7E6"/>
<text x="612.7" y="666.5" font-size="19.5">F</text>
<circle cx="666.3" cy="659.3" r="9.3" fill="#A9D5E5"/>
<text x="680.5" y="666.5" font-size="19.5">H</text>
<defs><linearGradient id="cnvg"><stop offset="0" stop-color="#0000ff"/><stop offset="0.5" stop-color="#fff"/><stop offset="1" stop-color="#ff0000"/></linearGradient></defs>
<rect x="1037.4" y="637" width="120.5" height="12.6" fill="url(#cnvg)"/>
<path d="M1054.6,649.6v3M1075.6,649.6v3M1097.4,649.6v3M1115,649.6v3M1133,649.6v3M1150.3,649.6v3" stroke="#555" stroke-width="0.8"/>
<text x="920.3" y="649.8" font-size="20.4">CNV score</text>
<text x="1096.6" y="628.6" font-size="20.4" text-anchor="middle">diploid</text>
<text x="1028" y="670.8" font-size="20.4">loss</text>
<text x="1173.6" y="670.8" font-size="20.4" text-anchor="end">gain</text>
<text x="27.4" y="744.3" font-size="35.4">Chr</text>
<text x="128.3" y="741.3" font-size="27.2" text-anchor="middle">1</text>
<text x="226" y="741.3" font-size="27.2" text-anchor="middle">2</text>
<text x="297" y="741.3" font-size="27.2" text-anchor="middle">3</text>
<text x="350.4" y="741.3" font-size="27.2" text-anchor="middle">4</text>
<text x="398.5" y="741.3" font-size="27.2" text-anchor="middle">5</text>
<text x="454.3" y="741.3" font-size="27.2" text-anchor="middle">6</text>
<text x="512.5" y="741.3" font-size="27.2" text-anchor="middle">7</text>
<text x="559.8" y="741.3" font-size="27.2" text-anchor="middle">8</text>
<text x="600.5" y="741.3" font-size="27.2" text-anchor="middle">9</text>
<text x="642.6" y="741.3" font-size="27.2" text-anchor="middle">10</text>
<text x="699" y="741.3" font-size="27.2" text-anchor="middle">11</text>
<text x="762" y="741.3" font-size="27.2" text-anchor="middle">12</text>
<text x="800.2" y="718.2" font-size="27.2" text-anchor="middle">13</text>
<text x="839.7" y="741.3" font-size="27.2" text-anchor="middle">14</text>
<text x="877" y="718.2" font-size="27.2" text-anchor="middle">15</text>
<text x="917.7" y="741.3" font-size="27.2" text-anchor="middle">16</text>
<text x="979" y="741.3" font-size="27.2" text-anchor="middle">17</text>
<text x="1016" y="718.2" font-size="27.2" text-anchor="middle">18</text>
<text x="1063.4" y="741.3" font-size="27.2" text-anchor="middle">19</text>
<text x="1122" y="741.3" font-size="27.2" text-anchor="middle">20</text>
<text x="1143.6" y="718.2" font-size="27.2" text-anchor="middle">21</text>
<text x="1165.8" y="741.3" font-size="27.2" text-anchor="middle">22</text>
<rect x="42.8" y="754.2" width="24.4" height="20" fill="#A9D5E5"/>
<text x="22.6" y="773.4" font-size="25.5" text-anchor="middle">H</text>
<rect x="42.8" y="774.2" width="24.4" height="68.4" fill="#ADE75C"/>
<text x="22.6" y="817.6" font-size="25.5" text-anchor="middle">E</text>
<rect x="42.8" y="842.6" width="24.4" height="111.6" fill="#80B1D3"/>
<text x="22.6" y="907.6" font-size="25.5" text-anchor="middle">C</text>
<rect x="42.8" y="954.2" width="24.4" height="65" fill="#B47CC7"/>
<text x="22.6" y="995.9" font-size="25.5" text-anchor="middle">G</text>
<rect x="42.8" y="1019.2" width="24.4" height="112.8" fill="#F0766C"/>
<text x="22.6" y="1084.8" font-size="25.5" text-anchor="middle">B</text>
<rect x="42.8" y="1132" width="24.4" height="103.9" fill="#EEA95C"/>
<text x="22.6" y="1193.2" font-size="25.5" text-anchor="middle">D</text>
<rect x="42.8" y="1235.9" width="24.4" height="123.4" fill="#97DFCB"/>
<text x="22.6" y="1306.8" font-size="25.5" text-anchor="middle">A</text>
<rect x="42.8" y="1359.3" width="24.4" height="66.4" fill="#F3C7E6"/>
<text x="22.6" y="1401.7" font-size="25.5" text-anchor="middle">F</text>
<rect x="73.3" y="754.2" width="1107.2" height="671.5" fill="#fff"/>
<path d="M0 0m548 756h11m54 0h3m127 0h2m152 0h13m-751 1h7m54 0h7m205 0h7m20 0h9m60 0h2m82 0h6m37 0h7m35 0h6m40 0h2m280 0h27m-642 1h11m20 0h5m251 0h9m9 0h9m284 0h9m39 0h4m-782 1h3m7 0h5m143 0h11m257 0h6m349 0h4m-623 1h4m170 0h7m79 0h8m188 0h10m58 0h3m-746 1h11m206 0h8m169 0h4m337 0h3m114 0h6m-994 1h2m219 0h2m122 0h9m32 0h4m170 0h3m16 0h9m329 0h7m53 0h9m-635 1h8m8 0h5m32 0h11m400 0h6m134 0h18m46 0h7m-740 1h3m62 0h11m117 0h9m17 0h7m99 0h13m253 0h2m40 0h4m67 0h4m-964 1h11m54 0h6m250 0h8m46 0h11m59 0h11m-8 0h12m-11 0h10m181 0h11m14 0h11m-10 0h11m363 0h6m-586 1h2m77 0h4m344 0h5m10 0h4m13 0h15m-692 1h4m76 0h10m-6 0h5m1 0h3m404 0h6m140 0h7m79 0h6m-903 1h3m171 0h2m154 0h2m2 0h3m87 0h7m-3 0h3m10 0h4m41 0h4m35 0h4m66 0h7m108 0h7m97 0h9m-577 1h4m-2 0h5m2 0h3m396 0h3m51 0h8m-7 0h7m-724 1h7m249 0h10m-8 0h5m249 0h14m166 0h3m22 0h8m-597 1h3m137 0h9m106 0h10m177 0h4m95 0h2m-522 1h5m105 0h5m252 0h7m53 0h3m195 0h9m206 0h3m-738 1h3m1 0h8m147 0h11m246 0h2m229 0h3m-677 2h3m272 0h9m83 0h9m-350 1h12m-10 0h13m82 0h3m4 0h3m72 0h7m-7 0h8m94 0h9m174 0h6m96 0h9m-6 0h7m-879 1h3m306 0h7m-2 0h11m298 0h9m17 0h4m57 0h11m11 0h6m25 0h12m-11 0h9m234 0h7m11 0h7m-591 1h11m467 0h41m-733 1h5m21 0h7m179 0h7m38 0h6m73 0h14m331 0h3m-1 0h14m-981 1h4m4 0h4m6 0h7m52 0h7m275 0h12m117 0h12m41 0h4m425 0h9m-9 0h20m-10 0h11m-11 0h4m14 0h4m3 0h3m68 0h3m-889 1h3m172 0h7m168 0h8m116 0h6m18 0h9m233 0h6m42 0h20m-14 0h19m30 0h11m-972 1h11m105 0h3m350 0h8m55 0h4m48 0h6m171 0h5m44 0h7m2 0h3m47 0h11m31 0h26m17 0h5m-889 1h6m140 0h7m132 0h3m160 0h3m31 0h5m196 0h9m-7 0h4m27 0h9m56 0h3m52 0h35m-6 0h12m-806 1h4m91 0h3m231 0h5m69 0h6m0 0h13m313 0h27m34 0h7m-948 1h2m113 0h7m219 0h7m42 0h3m79 0h7m7 0h6m57 0h13m191 0h9m100 0h7m40 0h23m9 0h6m-3 0h8m-995 1h4m441 0h3m146 0h14m106 0h3m79 0h6m58 0h5m41 0h3m33 0h11m34 0h10m58 0h5m-746 1h3m172 0h2m21 0h8m-2 0h6m131 0h5m84 0h3m50 0h7m57 0h9m3 0h6m26 0h8m13 0h22m-851 1h3m116 0h11m24 0h6m206 0h14m12 0h9m93 0h13m-10 0h15m189 0h5m24 0h3m76 0h4m25 0h9m41 0h18m-99 1h2m-841 1h3m27 0h9m141 0h7m110 0h7m45 0h5m35 0h11m2 0h6m37 0h11m-4 0h8m129 0h7m-612 1h3m127 0h5m126 0h2m201 0h9m224 0h5m231 0h14m-856 1h9m186 0h13m-8 0h9m165 0h10m45 0h5m22 0h15m125 0h6m93 0h7m16 0h11m85 0h37m-17 0h11m-4 0h17m-852 1h7m100 0h3m255 0h5m280 0h12m97 0h6m-6 0h3m39 0h55m-54 0h27m6 0h17m-9 0h6m-658 1h11m56 0h3m110 0h5m54 0h2m20 0h6m300 0h8m13 0h26m11 0h19m-575 1h4m55 0h8m42 0h6m-3 0h4m382 0h3m83 0h12m-965 1h9m96 0h11m185 0h3m198 0h6m19 0h4m30 0h9m194 0h5m-4 0h7m-568 1h3m554 0h6m101 0h7m52 0h21m-18 0h35m-1011 1h6m18 0h4m179 0h3m346 0h4m201 0h3m36 0h3m20 0h3m189 0h3m8 0h7m-952 1h6m10 0h2m7 0h3m371 0h7m73 0h4m41 0h8m46 0h4m83 0h5m47 0h5m0 0h7m-3 0h4m100 0h5m20 0h23m88 0h6m-1053 1h5m31 0h6m114 0h6m38 0h6m259 0h15m5 0h4m116 0h10m85 0h3m2 0h11m198 0h7m15 0h20m-14 0h34m-27 0h55m-48 0h35m-35 0h47m-655 1h6m253 0h7m188 0h12m128 0h15m6 0h46m-16 0h15m-13 0h14m-637 1h2m68 0h4m79 0h5m144 0h5m83 0h11m-10 0h3m227 0h15m-904 1h11m24 0h3m540 0h7m247 0h23m55 0h4m68 0h4m-1072 1h7m93 0h7m85 0h4m109 0h6m17 0h9m-7 0h10m-9 0h12m4 0h3m23 0h9m124 0h9m51 0h3m165 0h3m240 0h10m-712 1h3m49 0h13m44 0h7m116 0h6m202 0h9m-2 0h9m-2 0h5m118 0h3m69 0h22m-20 0h36m-30 0h14m-616 1h10m26 0h6m135 0h4m-4 0h5m74 0h15m146 0h7m170 0h14m-610 1h8m91 0h3m102 0h11m410 0h24m0 0h11m-674 1h11m4 0h11m69 0h9m-4 0h11m79 0h8m73 0h11m254 0h3m125 0h6m29 0h9m42 0h7m-4 0h4m-772 1h3m158 0h14m112 0h11m-9 0h9m119 0h7m11 0h6m153 0h6m75 0h10m26 0h6m-982 1h11m94 0h2m128 0h9m450 0h3m78 0h3m101 0h28m-24 0h15m-13 0h27m-20 0h19m30 0h15m-565 1h3m259 0h9m196 0h8m-6 0h4m-1 0h5m77 0h9m-941 1h9m226 0h5m44 0h9m144 0h5m20 0h4m81 0h6m57 0h6m-5 0h7m38 0h3m103 0h11m75 0h7m-7 0h7m78 0h7m-750 1h7m261 0h8m75 0h10m27 0h2m161 0h10m171 0h3m11 0h6m24 0h11m-1025 1h6m26 0h4m120 0h2m44 0h7m18 0h5m-5 0h3m101 0h4m-3 0h8m-5 0h5m23 0h9m70 0h5m60 0h8m25 0h9m264 0h6m19 0h6m77 0h26m10 0h20m-715 1h4m670 0h52m-829 1h3m60 0h3m23 0h5m2 0h6m331 0h9m116 0h3m55 0h4m64 0h7m63 0h11m-5 0h52m-46 0h11m19 0h23m-392 1h9m193 0h9m121 0h23m-17 0h17m37 0h10m69 0h3m-909 1h5m236 0h6m15 0h7m77 0h2m289 0h13m38 0h2m158 0h3m-772 1h5m213 0h4m-4 0h18m-3 0h8m316 0h12m-9 0h8m176 0h14m-12 0h13m-6 0h12m30 0h9m35 0h4m-790 1h3m143 0h3m76 0h7m-5 0h5m255 0h3m23 0h7m133 0h51m-30 0h24m-919 1h9m-2 0h11m211 0h4m35 0h12m141 0h2m28 0h7m67 0h9m88 0h3m0 0h9m200 0h7m-6 0h5m35 0h24m-14 0h20m-7 0h31m63 0h11m-1047 1h3m167 0h9m18 0h2m121 0h3m113 0h17m-14 0h10m382 0h5m76 0h5m2 0h22m2 0h19m-857 1h2m169 0h9m70 0h5m6 0h7m115 0h6m431 0h9m-7 0h36m-823 1h4m170 0h12m110 0h8m-4 0h11m62 0h4m56 0h7m7 0h4m314 0h19m-14 0h10m-916 1h11m362 0h4m109 0h6m383 0h8m19 0h17m-958 1h5m188 0h2m272 0h17m38 0h5m279 0h7m96 0h8m13 0h11m3 0h2m24 0h29m-527 1h9m120 0h12m-8 0h5m331 0h20m6 0h31m51 0h6m-966 1h2m177 0h5m7 0h2m27 0h9m26 0h12m-11 0h12m-11 0h12m-8 0h6m2 0h7m160 0h4m-1 0h4m126 0h6m66 0h11m160 0h11m31 0h27m-500 1h13m42 0h7m547 0h2m-740 1h3m0 0h11m155 0h2m13 0h8m-8 0h9m71 0h11m41 0h5m143 0h12m150 0h21m-19 0h43m-488 1h6m75 0h12m78 0h2m293 0h12m-10 0h7m64 0h7m-722 1h10m-7 0h6m447 0h9m79 0h3m44 0h27m28 0h9m36 0h9m-941 1h2m0 0h3m8 0h3m22 0h3m199 0h8m222 0h4m354 0h28m-26 0h13m121 0h5m0 0h3m-868 1h4m698 0h5m21 0h24m-18 0h21m42 0h3m29 0h2m-960 1h5m258 0h13m-12 0h11m165 0h7m-7 0h8m-3 0h4m66 0h14m302 0h3m-3 0h7m23 0h12m43 0h8m23 0h2m-874 1h3m68 0h3m116 0h12m-8 0h4m-4 0h8m110 0h16m39 0h4m330 0h3m75 0h21m-8 0h39m76 0h9m-6 0h4m-722 1h2m-1 0h8m113 0h14m55 0h4m58 0h13m216 0h6m73 0h6m18 0h2m58 0h8m-897 1h3m197 0h5m215 0h8m34 0h11m25 0h14m-4 0h9m240 0h3m48 0h7m-2 0h4m25 0h16m101 0h3m-3 0h4m-1027 1h9m139 0h3m123 0h7m38 0h5m160 0h4m277 0h10m92 0h6m27 0h16m-9 0h14m-2 0h31m-26 0h55m-865 1h11m1 0h6m352 0h7m186 0h9m277 0h11m43 0h7m-717 1h11m12 0h9m86 0h17m-12 0h10m-5 0h9m15 0h9m14 0h6m74 0h7m149 0h3m37 0h7m148 0h49m-39 0h38m-11 0h17m-16 0h15m-12 0h7m-544 3h6m51 0h9m71 0h4m20 0h4m65 0h4m118 0h4m-501 1h5m68 0h5m0 0h9m261 0h4m141 0h8m-5 0h8m105 0h6m15 0h15m-14 0h12m-732 1h5m167 0h7m213 0h9m91 0h5m322 0h9m-949 1h2m52 0h4m87 0h3m326 0h2m24 0h11m-9 0h6m243 0h9m49 0h8m23 0h5m-655 1h8m253 0h7m41 0h12m462 0h7m-781 1h3m298 0h14m100 0h9m35 0h9m16 0h3m21 0h7m127 0h13m-972 1h2m70 0h3m17 0h9m181 0h7m64 0h3m52 0h7m39 0h6m121 0h4m239 0h4m89 0h5m77 0h4m-1 0h4m-665 1h4m214 0h2m38 0h11m167 0h6m86 0h5m54 0h3m-636 1h3m11 0h10m430 0h3m177 0h6m-4 0h4m71 0h13m-953 1h3m342 0h7m66 0h3m0 0h3m190 0h7m137 0h5m-4 0h5m129 0h14m-500 1h7m106 0h5m29 0h15m166 0h3m10 0h7m8 0h3m7 0h11m-28 1h6m-5 0h6m101 0h5m19 0h16m118 0h9m-656 1h3m116 0h9m48 1h15m54 0h4m130 0h9m97 0h11m-113 1h8m95 0h8m20 0h11m13 0h22m-613 1h3m21 0h12m2 0h11m526 0h17m45 0h3m28 0h9m27 0h5m-1082 1h7m281 0h15m299 0h15m-12 0h10m-8 0h11m338 0h57m-22 0h17m-993 1h6m2 0h4m138 0h6m59 0h9m107 0h12m246 0h14m-11 0h6m60 0h4m31 0h5m31 0h9m71 0h2m167 0h17m-1016 1h6m190 0h2m47 0h7m152 0h9m-6 0h4m205 0h3m367 0h2m-815 1h11m222 0h7m32 0h6m142 0h4m113 0h3m232 0h27m34 0h7m-956 1h6m73 0h6m180 0h11m-7 0h5m240 0h3m365 0h25m-18 0h27m-967 1h7m34 0h6m690 0h3m175 0h7m25 0h39m-24 0h7m-944 1h5m5 0h6m348 0h3m300 0h3m65 0h9m35 0h11m-6 0h11m75 0h2m38 0h11m-547 1h7m507 0h7m19 0h22m-566 1h12m-8 0h9m214 0h6m177 0h9m100 0h7m-863 1h11m224 0h14m526 0h11m100 0h23m-9 0h30m-619 1h11m16 0h3m1 0h7m506 0h9m-6 0h3m-770 1h3m29 0h5m163 0h10m182 0h2m172 0h3m192 0h7m-4 0h7m-6 0h8m-112 2h5m96 0h8m-5 0h4m-620 1h12m89 0h3m457 0h2m54 0h4m-594 1h2m508 0h9m95 0h24m34 0h3m43 0h3m-1016 1h3m154 0h2m83 0h4m102 0h3m457 0h9m68 0h4m17 0h14m-409 1h3m264 0h5m-5 0h10m99 0h5m-630 1h18m68 0h7m112 1h3m107 0h7m194 0h5m151 0h6m-737 1h5m161 0h13m15 0h3m498 0h9m-536 1h7m298 0h4m97 0h11m-3 0h9m86 0h7m-902 1h9m325 0h8m-7 0h5m42 0h8m20 0h3m71 0h7m358 0h3m-852 1h11m44 0h3m281 0h3m43 0h5m21 0h9m371 0h11m44 0h5m-806 1h6m228 0h18m5 0h4m168 0h11m103 0h7m135 0h6m2 0h11m-7 0h7m36 0h4m108 0h4m45 0h40m-993 1h7m186 0h2m49 0h6m256 0h3m11 0h2m81 0h3m66 0h3m123 0h6m120 0h25m-21 0h22m-13 0h12m-5 0h9m9 0h32m-714 1h13m-3 0h10m499 0h11m47 0h6m80 0h16m47 0h6m-877 1h2m463 0h7m17 0h7m276 0h4m109 0h9m-743 1h16m40 0h8m210 0h3m229 0h3m2 0h12m-11 0h12m-10 0h5m127 0h13m19 0h3m109 0h3m-739 1h9m251 0h6m299 0h8m76 0h11m5 0h9m-956 1h9m218 0h17m41 0h11m1 0h2m87 0h3m459 0h6m-803 1h7m73 0h6m-3 0h7m83 0h13m78 0h4m50 0h3m382 0h9m-721 1h4m422 0h7m368 0h4m2 0h6m74 0h3m-921 1h5m344 0h9m45 0h5m328 0h4m85 0h5m-690 1h9m44 0h6m11 0h17m183 0h9m164 0h2m109 0h5m30 0h13m-12 0h12m-11 0h11m83 0h2m31 0h25m62 0h11m-1021 1h5m382 0h4m299 0h5m29 0h3m59 0h3m-527 1h5m87 0h4m230 0h6m43 0h3m0 0h9m228 0h2m20 0h7m18 0h16m-15 0h20m-14 0h26m-831 1h5m210 0h5m446 0h9m-6 0h10m79 0h4m12 0h7m85 0h11m-978 1h5m58 0h5m243 0h6m44 0h10m61 0h6m329 0h11m-9 0h10m-9 0h11m146 0h9m-860 1h4m68 0h9m349 0h7m274 0h4m84 0h3m19 0h3m0 0h9m-2 0h9m-486 1h11m330 0h4m122 0h28m-892 1h3m179 0h6m23 0h2m8 0h15m123 0h2m93 0h2m182 0h3m97 0h12m129 0h13m18 0h9m38 0h4m-648 1h3m362 0h5m49 0h11m-5 0h4m14 0h11m101 0h26m-15 0h11m-414 1h4m54 0h13m89 0h3m375 0h5m-1084 1h11m165 0h3m164 0h7m-7 0h11m40 0h8m399 0h8m88 0h4m38 0h19m-890 1h6m55 0h5m718 0h11m128 0h9m-1002 1h3m264 0h6m55 0h6m115 0h9m343 0h9m127 0h23m-22 0h18m-756 1h2m40 0h4m30 0h4m62 0h9m94 0h3m54 0h5m33 0h5m258 0h9m-8 0h7m98 0h6m-5 0h8m-4 0h4m-353 1h3m48 0h2m80 0h9m73 0h3m51 0h5m106 0h19m-175 1h2m17 0h3m97 0h8m-5 0h5m-5 0h4m3 0h3m10 0h24m-18 0h15m46 0h11m-997 1h11m267 0h14m285 0h7m6 0h14m190 0h6m-730 1h3m96 0h9m552 0h9m52 0h10m99 0h3m-840 1h2m9 0h9m278 0h3m19 0h7m114 0h7m75 0h11m-8 0h12m49 0h11m-4 0h7m125 0h9m51 0h3m0 0h3m45 0h6m24 0h18m52 0h4m-780 1h6m248 0h9m307 0h6m40 0h7m34 0h9m8 0h3m11 0h4m11 0h19m-16 0h36m52 0h7m-999 1h4m323 0h11m35 0h9m108 0h2m380 0h6m18 0h13m-12 0h28m61 0h6m-740 1h12m120 0h3m79 0h2m356 0h3m-797 1h9m78 0h5m234 0h10m250 0h5m31 0h4m107 0h3m106 0h3m-769 1h4m19 0h9m821 0h7m-200 1h11m40 0h11m42 0h7m-6 0h8m22 0h11m8 0h24m5 0h15m-12 0h13m-302 1h6m-605 1h3m9 0h11m425 0h4m250 0h13m133 0h53m-27 0h3m-376 1h12m189 0h6m-5 0h6m99 0h7m-843 1h11m21 0h5m490 0h15m229 0h6m40 0h3m13 0h9m-6 0h5m-571 1h8m645 0h2m40 0h5m30 0h3m-899 1h3m152 0h9m359 0h5m65 0h6m25 0h12m117 0h25m-710 1h6m77 0h9m32 0h6m3 0h7m214 0h5m142 0h9m102 0h3m86 0h37m64 0h6m-1006 1h3m237 0h18m66 0h3m27 0h9m147 0h3m56 0h9m35 0h5m137 0h12m96 0h4m21 0h26m-10 0h33m-697 1h20m350 0h5m141 0h12m242 0h5m-797 1h7m460 0h4m56 0h7m5 0h5m87 0h11m2 0h7m-7 0h7m18 0h20m-20 0h23m-23 0h25m-24 0h16m102 0h6m-763 1h11m93 0h9m-2 0h5m114 0h7m8 0h9m380 0h28m-23 0h22m-18 0h24m-676 1h16m631 0h13m1 0h10m-934 1h2m149 0h9m211 0h9m81 0h6m17 0h2m91 0h7m186 0h11m-3 0h9m179 0h13m-766 1h7m585 0h7m105 0h4m-300 1h3m90 0h3m60 0h11m61 0h7m46 0h11m21 0h22m11 0h6m-586 1h3m121 0h6m-214 1h7m136 0h11m410 0h3m11 0h8m49 0h45m-43 0h7m13 0h3m-991 1h2m260 0h4m28 0h15m112 0h2m15 0h11m315 0h7m141 0h4m28 0h24m-24 0h17m25 0h3m78 0h3m-877 1h6m26 0h3m43 0h9m140 0h3m256 0h11m117 0h6m-6 0h5m-3 0h6m99 0h5m124 0h6m-773 1h11m235 0h11m272 0h13m-11 0h9m22 0h9m18 0h11m31 0h2m24 0h25m-20 0h27m27 0h10m-992 1h6m130 0h4m87 0h11m358 0h6m1 0h3m188 0h10m-9 0h8m102 0h5m-841 1h5m43 0h6m261 0h9m470 0h7m33 0h5m21 0h21m41 0h6m-54 1h53m-30 0h24m-393 1h8m26 0h3m277 0h5m28 0h33m-840 1h11m129 0h23m28 0h2m306 0h6m29 0h2m263 0h17m-17 0h12m23 0h7m70 0h3m-1019 1h4m42 0h4m241 0h9m51 0h9m329 0h3m85 0h3m114 0h16m74 0h11m-939 1h4m185 0h14m406 0h6m157 0h3m17 0h4m18 0h8m74 0h15m42 0h6m-1011 1h3m469 0h4m196 0h9m81 0h8m-7 0h5m131 0h12m41 0h6m-969 1h9m542 0h11m5 0h2m30 0h5m211 0h3m59 0h6m-656 1h7m34 0h2m11 0h5m175 0h3m40 0h11m54 0h12m-8 0h7m2 0h3m27 0h9m42 0h3m53 0h9m21 0h6m13 0h12m-8 0h7m-7 0h7m16 0h2m-774 1h4m83 0h2m522 0h11m133 0h5m127 0h9m14 0h3m-575 1h13m-11 0h5m37 0h11m6 0h3m455 0h3m61 0h2m-567 1h5m121 0h9m310 0h3m66 0h7m-740 1h11m12 0h4m29 0h3m483 0h4m65 0h9m100 0h4m76 0h9m-8 0h9m30 0h3m-2 0h3m-973 1h3m518 0h2m286 0h3m59 0h23m-944 3h5m180 0h3m157 0h3m233 0h3m4 0h9m191 0h10m82 0h7m36 0h16m-711 1h11m49 0h3m494 0h3m-757 1h11m615 0h11m266 0h38m-1001 1h7m521 0h7m286 0h7m125 0h21m28 0h6m-450 1h9m53 0h12m-12 0h10m107 0h5m81 0h10m120 0h12m-843 1h7m31 0h9m375 0h11m277 0h9m150 0h3m-980 1h7m509 0h3m86 0h11m7 0h6m304 0h22m-21 0h28m13 0h39m55 0h2m-1077 1h4m248 0h4m90 0h5m0 0h2m275 0h3m288 0h11m16 0h28m-918 1h9m511 0h11m111 0h3m219 0h3m140 0h9m-1075 1h3m87 0h11m38 0h2m223 0h6m155 0h9m-6 0h10m-6 0h5m73 0h13m170 0h2m184 0h30m-19 0h3m-691 1h5m183 0h6m110 0h12m171 0h2m25 0h5m-3 0h11m2 0h7m8 0h6m67 0h2m-454 1h2m430 0h2m96 0h5m-984 1h11m165 0h9m15 0h3m390 0h15m395 0h9m8 0h3m-891 1h3m3 0h3m376 0h6m57 0h9m205 0h4m259 0h4m-704 1h3m83 0h3m146 0h14m190 0h8m121 0h27m-810 1h9m85 0h6m39 0h4m57 0h6m48 0h11m108 0h9m76 0h5m86 0h6m61 0h2m-713 1h3m378 0h5m160 0h13m-8 0h5m-3 0h5m373 0h9m-972 1h4m181 0h3m4 0h5m518 0h4m183 0h4m-882 1h4m142 0h2m245 0h2m104 0h2m53 0h9m65 0h7m231 0h6m17 0h17m-12 0h14m-753 1h6m-2 0h4m630 0h6m91 0h27m-680 1h3m312 0h11m76 0h5m-527 1h3m44 0h2m308 0h6m-4 0h3m66 0h9m5 0h8m344 0h27m70 0h5m2 0h5m-1067 1h11m252 0h9m-5 0h3m113 0h5m275 0h6m96 0h3m180 0h9m-891 1h5m96 0h11m5 0h3m42 0h2m134 0h3m41 0h6m185 0h9m335 0h12m123 0h9m-1000 1h4m24 0h9m58 0h11m127 1h11m190 0h10m7 0h2m62 0h7m-6 0h14m413 0h9m-767 1h11m241 0h11m61 0h14m287 0h3m54 0h32m-772 1h3m12 0h5m270 0h11m13 0h5m25 0h5m64 0h4m171 0h12m156 0h2m-824 1h5m108 0h4m819 0h4m-1058 1h4m143 0h7m54 0h5m518 0h3m234 0h7m16 0h11m29 0h2m-538 1h5m94 0h6m99 0h6m73 0h8m120 0h28m-487 1h5m331 0h9m45 0h5m64 0h25m-922 1h7m148 0h3m125 0h11m244 0h3m21 0h9m-9 0h8m-458 1h5m269 0h6m48 0h3m100 0h5m7 0h3m7 0h9m190 0h3m130 0h27m56 0h11m-808 1h2m442 0h3m277 0h18m-966 1h2m156 0h6m913 0h3m-1086 1h5m66 0h11m-6 0h6m302 0h4m226 0h8m-6 0h11m322 0h56m-476 1h7m74 0h8m63 0h5m9 0h9m153 0h9m77 0h29m88 0h5m-731 1h2m113 0h5m76 0h9m-9 0h7m533 0h5m-1042 1h4m100 0h9m100 0h5m132 0h6m121 0h3m99 0h7m79 0h2m8 0h2m-80 1h5m181 0h11m-613 1h7m33 0h3m105 0h7m159 0h8m88 0h9m-3 0h11m252 0h5m43 0h25m126 0h4m-632 1h6m1 0h3m55 0h9m-7 0h6m72 0h13m54 0h9m33 0h11m84 0h6m152 0h7m-674 1h9m22 0h6m269 0h7m71 0h7m-476 1h3m145 0h9m427 0h4m30 0h2m112 0h14m17 0h4m-718 1h3m117 0h11m191 0h11m-7 0h11m216 0h9m140 0h3m-809 1h4m381 0h6m58 0h8m183 0h3m223 0h7m-860 1h5m222 0h6m237 0h3m159 0h11m1 0h9m-809 1h3m10 0h7m355 0h3m36 0h3m139 0h9m22 0h16m253 0h3m-858 1h6m202 0h4m347 0h3m19 0h2m88 0h11m143 0h6m87 0h3m50 0h9m-771 1h2m130 0h11m45 0h5m164 0h11m99 0h6m201 0h6m32 0h7m-2 0h22m28 0h7m16 0h11m-960 1h6m6 0h4m193 0h4m131 0h5m229 0h9m162 0h5m116 0h23m105 0h3m17 0h3m-999 1h7m161 0h3m265 0h7m42 0h2m175 0h5m13 0h11m-743 1h3m122 0h7m24 0h11m-9 0h2m0 0h7m180 0h7m132 0h2m1 0h4m70 0h14m-10 0h8m-7 0h14m-13 0h15m127 0h7m191 0h3m68 0h9m-868 1h2m177 0h5m182 0h10m-7 0h9m24 0h3m3 0h7m34 0h5m105 0h6m223 0h12m73 0h4m-956 1h6m346 0h2m587 0h3m-977 1h4m15 0h3m456 0h6m12 0h6m60 0h5m32 0h11m-1 0h2m93 0h6m29 0h11m123 0h9m-771 1h4m45 0h3m119 0h2m38 0h3m183 0h3m0 0h6m39 0h10m473 0h4m-958 1h3m256 0h7m210 0h9m155 0h11m17 0h4m111 0h11m41 0h20m78 0h3m-1016 1h9m59 0h11m189 0h3m49 0h3m234 0h11m82 0h2m194 0h2m104 0h5m-888 1h3m103 0h9m61 0h11m49 0h7m460 0h6m128 0h45m-962 1h6m153 0h4m64 0h2m32 0h2m303 0h10m117 0h7m40 0h2m152 0h9m24 0h38m75 0h4m-959 1h6m-3 0h7m144 0h9m320 0h6m-4 0h7m322 0h24m14 0h3m-89 2h3m-885 1h5m83 0h11m114 0h6m405 0h3m89 0h3m111 0h9m-529 1h11m75 0h6m243 0h4m124 0h3m303 0h2m-428 1h3m-78 1h2m341 0h11m-106 1h2m-699 1h3m35 0h6m16 0h9m155 0h11m23 0h11m15 0h3m135 0h2m358 0h7m72 0h7m64 0h7m-6 0h3m-676 1h6m79 0h3m-371 1h5m22 0h3m8 0h6m47 0h2m189 0h11m-10 0h9m-8 0h9m-310 1h4m-2 0h7m262 0h5m270 0h3m55 0h3m255 0h2m-953 1h9m122 0h11m47 0h3m37 0h7m152 0h13m-13 0h11m47 0h4m151 0h2m372 0h7m-766 1h5m171 0h6m-2 0h6m196 0h7m-440 1h11m106 0h15m196 0h5m330 0h6m70 0h7m-859 1h2m245 0h7m81 0h11m358 0h4m209 0h6m-730 1h3m60 0h2m277 0h2m452 0h3m-747 1h2m62 0h3m29 0h8m479 0h6m-844 1h6m112 0h2m66 0h3m157 0h11m37 0h3m252 0h7m-609 1h3m916 0h5m-852 1h9m219 0h10m-8 0h8m-8 1h12m127 0h6m0 0h11m245 0h7m-778 1h6m226 0h11m40 0h7m537 0h2m-805 1h2m117 0h3m10 0h4m207 0h9m-238 1h9m182 0h6m210 0h11m66 0h5m326 0h3m-875 1h3m337 0h7m532 0h5m-889 1h9m180 0h11m94 0h12m-2 0h9m8 0h3m38 0h4m451 0h2m-750 1h2m9 0h6m105 0h15m90 0h7m109 0h7m124 0h11m124 0h4m-508 2h6m156 0h6m290 0h9m242 0h3m-727 1h3m22 0h21m17 0h5m280 0h3m192 0h6m-690 1h3m163 0h11m-9 0h21m152 0h4m598 0h3m-1032 1h2m253 0h21m169 0h5m450 0h7m62 0h2m-453 1h11m11 0h4m46 0h2m232 0h2m183 0h4m-1000 1h4m235 0h18m125 0h3m540 0h5m-580 1h7m631 0h3m7 0h7m-937 1h9m154 0h2m27 0h6m80 0h6m278 0h3m148 0h4m-537 1h3m-3 0h10m42 0h9m-111 1h7m16 0h9m117 0h8m-7 0h13m336 0h11m130 0h5m180 0h9m-3 0h3m-788 1h10m48 0h11m36 0h10m14 0h2m182 0h3m225 0h3m226 0h3m-836 1h2m101 0h2m65 0h9m477 0h5m90 0h2m92 0h5m-714 1h7m52 0h5m124 0h4m174 0h3m-516 1h5m63 0h14m92 0h3m61 0h11m201 0h3m312 0h2m-954 1h9m359 0h7m650 0h9m-860 1h6m84 0h3m14 0h6m307 0h3m127 0h9m-617 1h4m57 0h9m28 0h4m463 0h7m208 0h5m142 0h2m-1049 1h4m226 0h11m50 1h7m59 0h2m7 0h12m-328 1h3m21 0h11m288 0h5m293 0h6m89 0h11m132 0h7m1 0h4m63 0h9m-493 1h3m497 0h5m44 0h11m-939 1h4m145 0h8m656 0h6m-826 1h7m314 0h4m-453 1h7m697 0h3m-423 1h9m209 0h3m297 0h6m-741 1h9m957 0h4m-1030 1h2m6 0h11m252 0h11m90 0h12m10 0h7m-422 1h5m319 0h2m539 0h9m94 0h4m104 0h3m-1001 1h9m209 0h11m345 0h5m359 0h2m-990 1h6m253 0h11m-10 0h18m185 0h5m102 0h2m-594 1h4m92 0h5m5 0h11m168 0h9m97 0h8m9 0h4m55 0h5m147 0h2m-412 1h9m60 0h16m-11 0h14m325 0h2m61 0h2m-496 1h4m-46 1h2m140 0h8m24 0h9m-235 1h3m137 0h5m50 0h6m91 0h9m34 0h11m31 0h2m22 0h9m282 0h3m-539 1h5m586 0h7m89 0h3m-67 1h11m90 0h3m-836 1h11m131 0h11m131 0h3m122 0h9m-5 0h3m414 0h6m-924 1h6m219 0h5m105 0h9m-8 0h6m-218 1h11m84 0h5m139 0h5m538 0h6m-982 1h11m481 0h4m291 0h4m121 0h11m144 0h3m-1077 1h2m198 0h5m108 0h14m113 0h9m-135 1h10m542 0h9m-643 1h2m175 0h8m-5 0h11m231 0h4m170 0h2m-775 1h3m216 0h9m185 0h3m-218 1h5m56 0h9m239 0h11m529 0h2m-694 1h10m98 0h3m63 0h9m66 0h4m-378 1h3m22 1h9m-234 1h3m91 0h11m112 0h17m-10 0h7m100 0h6m133 0h7m34 0h7m-191 1h11m544 0h3m-832 1h5m91 0h11m168 0h8m-308 1h6m415 0h4m-495 1h3m368 0h8m-5 0h6m10 0h4m307 0h9m146 0h9m-351 1h6m493 0h11m-1025 1h2m298 0h2m-208 1h11m50 0h3m103 0h18m-13 0h12m303 0h5m-214 1h4m661 0h2m-1081 1h2m412 0h8m249 0h6m78 0h11m-435 1h3m76 0h13m-13 0h11m-9 0h11m-142 1h6m82 0h2m38 0h10m646 0h2m-943 1h6m132 0h11m135 0h11m-7 0h6m476 0h4m166 0h9m-1018 1h3m487 0h11m252 0h5m183 0h11m-804 1h3m66 0h4m135 0h12m139 0h2m-477 1h7m19 0h5m3 0h4m164 0h4m13 0h20m-19 0h8m748 0h9m-766 1h13m341 0h11m177 0h4m6 0h5m-688 1h11m7 0h6m47 0h6m55 0h12m92 0h12m82 0h3m171 0h9m303 0h7m-852 1h9m305 0h11m-7 0h5m44 0h2m257 0h7m-325 1h4m420 0h11m69 0h3m-794 1h5m8 0h3m226 0h12m-9 0h4m72 0h7m164 0h6m184 0h2m224 0h3m-1042 1h2m375 0h13m60 0h9m95 0h2m138 0h5m247 0h11m99 0h11m-994 1h7m65 0h7m79 0h6m65 0h7m62 0h12m-4 0h6m229 0h3m103 0h4m126 0h2m195 0h5m-921 1h4m845 0h2m-686 1h3m41 0h4m27 0h11m-3 0h3m185 0h4m242 0h4m61 0h3m-800 1h9m143 0h4m21 0h3m48 0h5m59 0h11m213 0h2m203 0h3m-1 0h3m-483 1h9m5 0h6m597 0h6m89 0h3m-831 1h9m51 0h15m609 0h5m57 0h3m-612 1h2m15 0h11m250 0h7m-480 1h5m111 0h3m-185 1h6m188 0h8m93 0h7m655 0h5m-571 1h3m293 0h3m249 0h2m-995 1h3m152 0h3m237 0h7m191 0h4m315 0h4m108 0h7m-1046 1h7m349 0h13m75 0h3m148 0h6m343 0h3m-588 1h11m292 0h3m126 0h2m62 0h5m-612 3h7m6 0h15m83 0h11m-4 0h5m411 0h3m-818 1h14m132 0h11m128 0h11m170 0h13m226 0h2m144 0h11m89 0h6m-959 1h32m364 0h3m-2 0h10m31 0h7m28 0h11m106 1h9m164 0h3m99 0h2m-757 1h4m192 0h7m73 0h6m49 0h7m433 0h9m-703 1h7m225 0h7m42 0h16m7 1h3m63 0h3m328 0h3m-411 1h3m220 0h5m-704 1h28m400 0h6m481 0h6m-772 2h7m35 0h3m137 0h3m239 0h2m298 0h7m-859 1h2m263 0h14m93 0h2m237 0h9m206 0h3m-815 1h7m39 0h6m119 0h7m318 0h11m25 0h4m472 0h9m-1062 1h30m133 0h9m240 0h3m32 0h3m61 0h11m-437 1h9m97 0h7m11 0h2m263 0h13m152 0h5m200 0h2m65 0h5m-857 1h7m226 0h21m-20 0h17m-292 1h28m49 0h6m69 0h4m125 0h5m171 0h13m279 0h3m97 0h7m47 0h4m-290 1h6m-3 0h7m-637 1h9m274 0h9m50 0h4m125 0h14m61 0h9m106 0h5m286 0h5m-782 1h3m75 0h3m-176 1h9m304 0h3m74 0h10m506 0h3m8 0h11m-1022 1h11m169 0h11m39 0h4m245 0h16m537 0h3m12 0h6m-870 1h9m111 0h14m42 0h2m265 0h9m192 0h7m70 0h9m24 0h2m-608 1h6m67 0h12m326 0h3m32 0h7m249 0h6m-1023 1h26m184 0h7m67 0h21m169 0h4m131 0h3m208 0h6m153 0h2m44 0h3m-1021 1h17m9 0h4m248 0h20m206 0h4m168 0h2m97 0h4m-500 1h17m160 0h11m-7 0h15m166 0h2m98 0h3m126 0h11m184 0h2m-870 1h3m112 0h7m13 0h11m-4 0h5m40 0h12m344 0h7m-580 1h6m191 0h9m85 0h13m-301 1h5m61 0h3m424 0h2m76 0h3m13 0h3m-780 1h34m302 0h3m140 0h13m-8 0h5m156 0h4m139 0h4m42 0h3m-537 1h20m162 0h6m-5 0h10m321 0h7m-794 1h4m145 0h11m83 0h9m18 0h19m184 0h7m84 0h3m37 0h3m447 0h3m-1039 1h6m45 0h6m290 0h7m287 0h7m321 0h5m37 0h3m-949 1h7m230 0h2m76 0h5m220 0h7m-288 1h4m43 0h3m126 0h2m24 0h4m-280 1h18m168 0h9m-374 1h6m139 0h5m181 0h2m429 0h2m-824 1h3m450 0h7m-5 0h6m296 0h4m72 0h4m35 0h11m70 0h11m-913 1h3m190 0h8m514 0h4m-545 1h9m78 0h11m148 0h7m-459 1h3m106 0h9m108 0h13m91 0h12m-7 0h6m67 0h8m75 0h2m198 0h5m53 0h3m14 0h7m117 0h11m-400 1h4m71 0h4m24 0h5m-85 1h9m274 0h3m-871 1h21m359 0h3m85 0h11m129 0h3m12 0h3m286 0h5m-804 1h11m923 0h7m-242 1h2m-669 1h5m67 0h9m27 0h2m444 0h3m4 0h3m-672 1h3m225 0h7m15 0h14m642 0h5m-669 1h19m-5 0h8m465 0h2m122 0h6m124 0h11m-930 1h3m232 0h3m129 0h11m291 0h3m63 0h4m-394 1h3m17 0h14m-191 1h9m91 0h9m2 0h7m55 0h9m104 0h3m-367 1h7m721 0h3m132 0h3m0 0h5m-993 1h9m253 0h9m28 0h10m319 0h2m-606 1h3m165 0h14m96 0h7m17 0h4m53 0h7m56 0h7m23 0h9m36 0h6m358 0h6m75 0h9m-674 1h8m391 0h3m100 0h6m-819 1h3m42 0h2m232 1h6m20 0h7m550 0h11m-484 1h10m-8 0h6m0 0h6m136 0h11m185 0h11m-825 1h25m-17 0h17m462 0h2m103 0h11m313 0h7m-767 1h4m127 0h11m67 0h6m100 0h8m262 0h5m52 0h6m-663 1h7m118 0h7m-253 1h4m128 0h7m74 0h9m136 0h6m4 0h12m-3 0h2m163 0h4m86 0h3m324 0h4m-607 1h3m90 0h8m293 0h6m-783 1h22m-7 0h19m-5 0h9m54 0h3m689 0h2m-787 1h33m441 0h6m-4 0h10m-9 0h12m2 0h9m410 0h3m24 0h3m29 0h4m-894 1h6m452 0h7m-544 1h29m150 0h7m103 0h18m-14 0h4m177 0h6m107 0h9m58 0h11m107 0h2m173 0h5m-4 0h2m-789 1h7m232 0h3m74 0h7m93 0h11m130 0h6m-609 1h6m174 0h16m34 0h2m33 0h4m87 0h13m79 0h9m-498 1h4m106 0h2m108 0h17m164 0h12m345 0h4m124 0h3m-956 1h6m341 0h4m118 0h6m40 0h3m291 0h4m229 0h11m-834 1h11m236 0h10m31 0h11m-528 1h21m323 0h5m69 0h9m182 0h7m171 0h3m93 0h3m-1 0h4m78 0h6m110 0h6m-1074 1h13m146 0h11m293 0h14m-468 1h2m83 0h2m364 0h17m15 0h3m226 0h3m56 0h9m-797 1h26m341 0h3m-163 1h5m68 0h22m581 0h7m-883 1h13m45 0h3m104 0h6m107 0h17m-17 0h23m224 0h2m156 0h2m345 0h2m-982 1h4m54 0h2m348 0h17m52 0h4m159 0h7m-2 0h7m-618 1h6m375 0h7m-395 1h2m199 0h19m-8 0h2m168 0h16m7 0h11m214 0h5m209 0h2m-766 1h4m89 0h9m27 0h9m88 0h4m95 0h9m-493 1h24m133 0h3m175 0h3m49 0h10m68 0h8m86 0h3m26 0h3m191 0h4m-753 1h2m172 0h11m173 0h9m72 0h8m144 0h7m46 0h5m-706 1h9m74 0h4m220 0h23m83 0h13m136 0h9m76 0h9m103 0h3m223 0h4m65 0h3m45 0h3m-1085 1h29m197 0h9m8 0h9m138 0h10m-297 1h5m9 0h7m121 0h7m5 0h9m17 0h3m58 0h2m83 0h9m-70 1h7m18 0h6m-4 0h8m66 0h6m-4 0h8m294 0h3m194 0h3m111 0h2m-1063 1h4m444 0h8m85 0h6m-403 1h6m55 0h4m234 0h15m162 0h2m-620 1h7m679 0h5m-327 1h6m75 0h7m358 0h2m38 0h11m-786 1h7m271 0h6m84 0h11m129 0h4m169 0h3m97 0h3m-217 1h6m122 0h3m-789 1h14m298 0h5m275 0h7m-610 1h7m290 0h11m325 0h3m24 0h6m-377 1h18m49 0h2m36 0h11m-7 0h8m17 0h6m45 0h8m111 0h7m-600 1h7m389 0h7m0 0h9m562 0h5m61 0h2m42 0h3m-997 1h2m304 0h3m57 0h2m133 0h5m131 0h2m164 0h3m59 0h5m-818 1h6m97 0h5m43 0h18m734 0h3m-802 1h4m127 0h2m332 0h6m-87 2h9m431 1h7m-366 1h5m321 0h2m-746 1h19m507 0h11m-797 1h4m167 0h9m69 0h6m6 0h13m25 0h3m61 0h6m-5 0h6m32 0h6m191 0h3m166 0h3m28 0h7m60 0h7m-613 1h7m66 0h2m210 0h9m2 0h11m-312 1h18m-15 0h8m175 0h8m473 0h2m90 0h3m-761 1h18m-15 0h20m75 0h6m2 0h7m577 0h11m-976 1h5m171 0h6m30 0h6m75 0h2m39 0h7m76 0h3m37 0h10m-9 0h11m362 0h3m-556 1h18m147 0h7m418 0h11m-683 1h3m18 0h3m60 0h11m120 0h7m3 0h3m35 0h8m159 0h4m-322 1h6m64 0h10m-6 0h12m-12 0h5m192 0h5m171 0h5m44 0h9m-681 1h11m42 0h9m87 0h15m33 0h7m127 0h3m97 0h2m187 0h11m-186 1h3m332 0h5m-638 1h17m83 0h9m67 0h14m-12 0h10m91 0h2m281 0h5m81 0h2m-867 1h9m41 0h2m26 0h9m96 0h4m28 0h21m155 0h15m238 0h7m136 0h2m-877 1h9m-1 0h7m307 0h9m152 0h12m217 0h6m231 0h5m88 0h5m-989 1h6m477 0h2m505 0h3m-946 1h5m69 0h7m57 0h4m62 0h11m603 0h11m92 0h3m61 0h3m-842 1h3m49 0h5m-5 0h13m-10 0h11m16 0h3m74 0h5m378 0h3m40 0h5m-2 0h6m32 0h9m18 0h5m8 0h4m38 0h2m-782 1h3m189 0h3m111 0h7m329 0h6m47 0h3m205 0h3m-939 1h4m136 0h5m7 0h10m-9 0h3m344 0h11m119 0h11m62 0h6m-552 1h8m97 0h9m-8 0h5m6 0h3m61 0h8m-425 1h5m229 0h21m6 0h11m101 0h9m377 0h7m111 0h3m58 0h2m-863 1h2m338 0h6m172 0h3m36 0h3m42 0h11m-704 1h9m244 1h12m12 0h5m124 0h11m-9 0h5m-355 1h6m13 0h11m162 0h11m-7 0h12m162 0h13m267 0h3m98 0h4m37 0h4m-753 1h4m116 0h6m129 0h10m59 0h15m101 0h9m11 0h2m-575 1h11m27 0h5m215 0h11m-5 0h16m104 0h5m364 0h2m-727 1h5m117 0h4m107 0h17m87 0h6m468 0h3m-573 1h11m-2 0h9m114 0h2m39 0h11m-11 0h10m246 0h7m155 0h7m57 0h4m-662 1h16m87 0h9m610 0h5m-1040 1h11m146 0h11m138 0h11m328 0h5m-471 1h3m74 0h11m500 0h6m-746 1h3m76 0h4m81 0h9m97 0h3m111 0h10m-6 0h8m179 0h6m256 0h9m4 0h3m4 0h7m209 0h6m-1098 1h9m139 0h5m117 0h5m26 0h17m88 0h8m-6 0h4m39 0h6m38 0h5m480 0h7m96 0h3m-783 1h10m311 0h3m116 0h5m169 0h3m-750 1h3m56 0h5m87 0h5m78 0h11m-9 0h12m58 0h17m240 0h11m179 0h6m123 0h9m-1051 1h7m5 0h3m277 0h20m37 0h7m40 0h9m350 0h5m315 0h3m-912 1h5m48 0h3m778 0h7m-974 1h3m44 0h3m263 1h3m277 0h3m-508 1h3m270 0h8m68 0h11m107 0h2m223 0h3m191 0h2m-824 1h11m118 0h9m71 0h8m1 0h11m56 0h9m145 0h11m50 0h2m147 0h9m225 0h3m-881 1h11m84 0h23m-9 0h3m-3 0h12m139 0h6m21 0h3m253 0h5m8 0h3m246 0h4m61 0h2m-928 1h7m189 0h3m104 0h9m88 0h9m42 0h9m241 0h9m-531 1h2m323 0h3m64 0h9m286 0h5m-742 1h5m27 0h9m161 0h5m-2 0h2m448 0h6m-5 0h3m-725 1h11m63 0h7m381 0h3m-553 2h9m179 0h8m12 0h11m146 0h6m143 0h6m96 0h2m65 0h11m173 0h7m-860 1h11m151 0h19m-15 0h18m-14 0h4m33 0h4m60 0h10m83 0h5m90 0h11m15 0h3m-510 1h5m361 0h9m144 0h3m192 0h2m-748 1h4m30 0h6m483 0h7m278 0h6m131 0h9m-895 1h7m148 0h23m393 0h3m218 0h5m86 0h3m-669 1h4m13 0h9m154 0h9m132 0h4m154 0h3m167 0h11m-709 1h11m-8 0h9m225 0h9m28 0h9m231 0h3m141 0h9m43 0h4m35 0h6m-768 1h3m0 0h13m-8 0h12m-9 0h18m-18 0h9m95 0h11m-10 0h7m77 0h9m-394 1h5m213 0h6m150 0h8m-413 1h11m84 0h2m122 0h19m49 0h6m206 0h11m173 0h4m-470 1h23m-1 0h9m152 0h16m-8 0h3m194 0h5m389 0h2m-1019 1h3m68 0h11m260 0h4m73 0h15m-329 1h5m13 0h6m62 0h3m141 0h9m17 0h6m53 0h2m-186 1h20m222 0h6m257 0h4m-502 1h19m289 0h11m357 0h3m-953 1h9m265 0h17m96 0h2m65 0h15m405 0h3m30 0h7m-905 1h3m373 0h3m298 0h2m90 0h5m79 0h4m173 0h9m-7 0h11m-1043 1h3m141 0h9m75 0h9m217 0h11m153 0h3m220 0h3m124 0h6m-713 1h18m-18 0h11m100 0h5m356 0h4m148 0h2m-685 1h9m130 0h3m550 0h3m-740 1h7m99 0h8m15 0h5m78 0h5m482 0h7m118 0h3m-984 1h4m9 0h9m171 0h4m67 0h11m24 0h11m12 0h7m113 0h17m-8 0h3m170 0h11m310 0h6m-689 1h14m171 0h11m34 0h6m51 0h9m420 0h7m-1027 1h6m58 0h11m330 0h5m4 0h7m-282 1h3m165 0h9m172 0h10m-6 0h6m-85 1h5m130 0h11m393 0h7m-552 1h13m-361 1h4m56 0h3m89 0h3m197 1h8m445 0h3m-381 1h11m89 0h6m204 0h11m157 0h3m-669 1h20m189 0h5m497 0h6m0 0h3m-963 1h5m49 0h5m186 0h19m-17 0h19m-14 0h17m213 0h2m73 0h7m-3 0h9m76 0h4m268 0h11m1 0h6m-494 1h3m-412 1h9m201 0h3m4 0h14m66 0h3m19 0h8m-3 0h8m-196 1h5m73 0h21m-17 0h19m87 0h6m69 0h8m10 0h3m143 0h4m76 0h3m205 0h5m-636 1h9m332 0h6m47 0h5m389 0h6m-1095 1h7m338 0h9m434 0h6m-614 1h4m220 0h10m-9 0h9m15 0h3m250 0h3m409 0h2m-1038 1h2m424 0h7m20 0h5m-222 1h22m-4 0h4m98 0h3m67 0h9m32 0h5m329 0h9m-743 1h9m268 0h7m-6 0h4m71 0h11m-10 0h3m-1 0h9m-6 0h9m460 0h3m-898 1h3m225 0h3m192 0h8m409 0h3m-470 1h3m48 0h11m205 0h7m283 0h3m101 0h3m-910 2h2m291 0h3m468 0h2m-905 1h9m108 0h4m131 0h11m36 0h3m154 0h3m132 0h3m-394 1h5m228 0h8m209 0h2m-676 1h3m667 0h3m178 0h3m-872 1h3m39 0h11m239 0h13m-12 0h14m-9 0h13m91 0h5m0 0h3m46 0h3m15 0h10m80 0h3m306 0h2m-880 1h9m69 0h2m99 0h5m241 0h4m109 0h7m44 0h7m489 0h11m-899 1h5m97 0h11m96 0h5m71 0h10m155 0h9m359 0h3m-777 1h5m37 0h4m119 0h10m-10 0h7m250 0h11m-666 1h3m89 0h3m25 0h4m70 0h3m89 0h21m153 0h3m470 0h4m21 0h2m-704 1h4m2 0h5m127 0h12m-2 0h3m123 0h3m457 0h9m-7 0h6m21 0h3m-924 1h2m84 0h3m285 0h13m-9 0h7m420 0h3m11 0h2m64 0h11m-516 1h6m46 0h3m174 0h3m-528 1h3m210 0h8m113 0h9m517 0h7m6 0h7m-7 0h11m-592 1h14m93 0h5m102 0h7m104 0h4m-634 1h4m72 0h2m18 0h3m97 0h3m28 0h5m344 0h4m223 0h9m-982 1h7m390 0h12m351 0h7m10 0h4m42 0h9m83 0h3m-824 1h2m194 0h17m-15 0h9m-1 0h10m164 0h12m-481 1h3m8 0h4m48 0h11m583 0h3m78 0h2m-674 1h6m214 0h14m-12 0h9m148 0h5m22 0h6m197 0h11m240 0h3m93 0h6m-892 1h7m252 0h5m576 0h3m-766 1h5m68 0h9m50 0h11m497 0h6m-768 1h2m198 0h14m430 0h9m207 0h3m78 1h3m-810 1h3m243 0h8m60 0h4m28 0h7m-449 1h2m7 0h7m153 0h11m12 0h4m16 0h3m49 0h9m389 0h4m-647 1h6m127 0h23m-11 0h11m-8 0h6m5 0h7m77 0h12m15 0h7m31 0h4m6 0h10m-9 0h15m514 0h5m-918 1h5m196 0h17m-12 0h11m-11 0h11m-5 0h8m-6 0h8m163 0h7m-143 2h4m-344 1h6m19 1h5m372 0h10m69 0h10m303 0h9m-486 1h7m75 0h11m61 0h17m-10 0h10m473 0h2m51 0h4m13 0h11m-879 1h11m118 0h23m11 0h5m55 0h4m312 0h4m75 0h9m9 0h2m7 0h3m49 0h9m49 0h11m-891 1h3m36 0h11m387 0h18m-13 0h7m82 0h2m-396 1h2m271 0h11m15 0h7m-6 0h10m-8 0h9m115 0h6m0 0h9m196 0h5m-684 1h7m18 0h3m31 0h11m7 0h2m187 0h12m62 0h16m-14 0h13m181 0h7m120 0h9m26 0h9m91 0h5m-682 1h2m39 0h17m93 0h5m65 0h11m-7 0h6m342 0h3m94 0h2m78 0h3m-998 1h20m116 0h3m46 0h2m202 0h7m34 0h5m561 0h7m-923 1h3m349 0h3m54 0h9m-501 1h11m-2 0h7m-7 0h16m265 0h20m-16 0h14m6 0h11m70 0h8m16 0h7m44 0h16m-421 1h6m157 0h3m25 0h11m207 0h6m-6 0h9m13 0h4m143 0h4m178 0h3m31 0h9m69 0h7m-824 1h4m352 0h7m325 0h3m-698 1h3m120 0h4m230 0h14m-6 0h5m561 0h3m-816 1h6m294 0h2m441 0h6m8 0h3m-596 1h12m347 0h9m269 0h5m-713 1h3m66 0h12m-8 0h7m42 0h6m73 0h3m-450 1h7m135 0h3m186 0h6m58 0h14m61 0h3m254 0h6m233 0h3m-923 1h11m153 0h19m-17 0h18m87 0h12m455 0h7m117 0h7m-1005 1h3m158 0h2m135 0h11m98 0h10m-8 0h5m67 0h4m58 0h4m46 0h9m446 0h7m-832 1h4m254 0h17m93 0h6m-505 1h6m24 0h2m284 0h2m68 0h18m21 0h11m110 0h5m-348 1h23m-13 0h3m28 0h9m59 0h9m-7 0h9m69 0h4m46 0h11m143 0h9m209 0h6m-901 1h33m261 0h16m-6 0h3m400 0h4m-695 1h3m92 0h3m22 0h4m167 0h7m126 0h3m133 0h9m489 0h11m-940 1h11m48 0h9m16 0h5m124 0h3m33 0h12m65 0h12m255 0h9m35 0h7m124 0h6m117 0h5m-1035 1h19m137 0h3m332 0h9m62 0h9m-590 1h11m8 0h30m104 0h9m94 0h2m151 0h11m64 0h10m37 0h5m498 0h7m-1021 1h4m290 0h6m88 0h8m-8 0h12m161 0h3m80 0h6m80 0h3m184 0h11m-760 1h9m283 0h15m-12 0h14m45 0h11m46 0h2m35 0h3m317 0h4m9 0h2m-920 1h7m185 0h11m42 0h16m-5 0h14m82 0h12m65 0h18m-13 0h12m-11 0h10m472 0h7m11 0h7m-993 1h6m220 0h6m-1 0h9m244 0h8m42 0h9m39 0h3m66 0h9m268 0h7m-664 1h4m27 0h17m89 0h10m594 0h6m31 0h11m-897 1h7m241 0h6m-5 0h6m63 0h14m-8 0h7m84 0h11m203 0h6m-315 1h5m288 0h3m3 0h7m109 0h3m7 0h4m166 0h5m-911 1h9m172 0h9m117 0h18m-14 0h12m456 0h2m78 0h6m41 0h9m-893 1h2m212 0h12m27 0h4m35 0h13m24 0h11m7 0h3m317 0h5m-408 1h9m5 0h4m12 0h10m-435 1h3m415 0h4m178 0h6m281 0h3m-897 1h5m206 0h11m27 0h16m632 0h3m47 0h6m-1013 1h5m310 0h22m76 0h13m-385 1h11m34 0h5m108 0h2m2 0h5m26 0h5m40 0h11m34 0h6m321 0h5m222 0h4m134 0h6m60 0h9m-1011 1h9m322 0h8m-2 0h4m39 0h6m180 0h9m212 0h7m60 0h4m151 0h7m-1078 1h20m160 0h5m206 0h12m514 0h9m90 0h11m-1030 1h6m0 0h6m138 0h6m135 0h23m-23 0h12m179 0h9m19 0h3m109 0h6m134 0h3m247 0h7m65 0h5m-1050 1h5m190 0h3m57 0h12m92 0h11m64 0h12m227 0h5m-5 0h5m-729 1h2m132 0h11m156 0h21m86 0h10m218 0h4m196 0h4m-827 1h28m262 0h19m-18 0h2m181 0h15m303 0h7m55 0h3m-750 1h6m171 0h4m91 0h3m325 0h4m-725 1h7m292 0h12m121 0h7m208 0h7m-246 1h8m-5 0h9m55 0h2m11 0h11m9 0h9m158 0h9m61 0h6m59 0h11m208 0h6m-1021 1h7m106 0h7m18 0h6m151 0h18m158 0h17m-486 1h27m95 0h9m155 0h19m-14 0h9m174 0h6m116 0h11m224 0h2m45 0h3m57 0h5m-831 1h2m289 0h3m4 0h5m44 0h3m507 0h2m-941 1h7m256 0h9m-42 1h3m279 0h9m93 0h9m9 0h2m141 0h2m64 0h4m55 0h2m61 0h2m-993 1h23m86 0h3m279 0h9m535 0h6m-3 0h7m78 0h3m-1040 1h7m132 0h4m58 0h5m-5 0h3m201 0h12m68 0h7m-7 0h10m-10 0h13m318 0h4m110 0h3m-872 1h4m237 0h11m245 0h5m144 0h9m144 0h5m149 0h7m-930 1h9m97 0h3m170 0h5m109 0h11m-369 1h5m94 0h4m163 0h6m197 0h2m306 0h3m24 0h2m-906 1h4m136 0h2m136 0h10m-9 0h15m31 0h6m69 0h4m106 0h9m495 0h3m-563 1h14m424 0h6m104 0h3m61 0h3m-1029 1h5m68 0h9m28 0h9m114 0h19m36 0h6m123 0h8m-4 0h8m73 0h9m156 0h4m137 0h7" stroke="#f4b8be" stroke-width="1.1" fill="none"/>
<path d="M0 0m156 756h12m17 0h7m679 0h3m46 0h9m210 0h2m-769 1h5m261 1h6m-222 1h4m212 0h11m104 0h7m71 0h7m81 0h8m93 0h9m60 0h2m78 0h4m-901 1h5m252 0h2m10 0h15m85 0h7m477 0h3m-1042 1h12m544 0h4m236 0h2m-543 1h4m574 0h11m-384 1h6m373 0h6m-295 1h10m-6 0h6m136 0h2m138 0h10m-10 0h11m142 0h9m38 0h3m-643 1h3m89 0h7m92 0h9m239 0h6m-4 0h4m-754 1h3m259 0h3m61 0h5m36 0h9m-8 0h9m59 0h6m93 0h6m83 0h2m40 0h3m45 0h7m259 0h2m-517 1h11m0 0h12m37 0h6m-367 1h4m201 0h10m-354 1h7m78 0h9m252 0h12m-382 1h2m458 0h13m102 0h6m8 0h2m-255 1h12m113 0h9m276 0h11m194 0h12m36 0h5m-934 1h12m5 0h7m233 0h2m24 0h3m65 0h6m36 0h10m303 0h2m-313 1h5m312 0h2m-417 2h5m-114 1h12m99 0h12m88 0h3m-273 1h9m163 0h8m-7 0h9m82 0h9m-6 0h11m250 0h3m176 0h12m66 0h12m-966 1h4m331 0h15m-236 1h3m316 0h13m386 0h4m-773 1h12m218 0h4m138 0h11m469 0h3m-348 1h6m139 0h11m-554 1h5m17 0h3m81 0h5m10 0h12m412 0h8m-726 1h9m323 0h2m3 0h2m92 0h12m305 0h9m137 0h7m-241 1h7m-680 1h5m278 0h5m27 0h12m74 0h6m45 0h5m128 0h6m144 0h5m129 0h6m-818 1h5m430 0h3m236 0h8m8 0h12m-658 1h3m248 0h5m-1 0h6m368 0h7m-688 1h3m394 0h12m-412 1h4m126 0h3m272 0h4m-476 1h4m679 0h6m-476 1h3m255 0h5m241 0h2m30 0h11m20 0h7m88 0h7m85 0h2m-765 1h6m9 0h12m37 0h12m472 0h7m-6 0h7m-292 1h11m-10 0h11m-11 0h8m-7 0h8m273 0h6m-4 0h4m158 0h6m80 0h9m-259 1h5m-350 1h4m91 0h3m289 0h5m-828 1h2m374 0h9m14 0h9m-2 0h12m82 0h7m-5 0h6m407 0h7m80 0h6m-227 1h7m121 0h12m-681 1h9m111 0h5m19 0h3m23 0h5m365 0h10m-5 0h3m-695 1h5m55 0h12m209 0h12m82 0h4m24 0h10m326 0h7m23 0h7m-921 1h7m97 0h9m90 0h2m241 0h9m93 0h12m-7 0h7m-6 0h7m275 0h5m-384 1h8m86 0h12m251 0h3m12 0h11m204 0h3m-1036 1h2m276 0h5m257 0h8m53 0h4m58 0h6m7 0h6m-652 1h3m409 0h3m2 0h13m44 0h5m43 0h2m-504 1h4m1015 0h3m-834 1h9m67 0h5m220 0h13m8 0h4m371 0h2m-924 1h12m-9 0h2m33 0h7m220 0h5m31 0h2m504 0h11m-837 1h2m392 0h3m39 0h3m391 0h5m-308 1h5m19 0h8m111 0h12m328 0h3m-690 1h5m216 0h9m-9 0h11m-10 0h12m144 0h6m-696 2h7m319 0h3m464 0h3m19 0h9m-5 0h6m-851 1h9m193 0h2m73 0h3m105 0h9m438 0h2m7 0h10m188 0h4m-480 1h3m-4 1h7m272 0h11m-689 1h2m397 0h6m-4 0h5m221 0h3m47 0h12m-5 0h5m88 0h4m-613 1h7m128 0h5m87 0h11m514 0h2m-909 1h3m288 0h6m87 0h6m277 0h9m214 1h6m-1046 1h2m436 0h15m84 0h8m-8 0h4m39 0h12m253 0h12m212 1h7m-675 1h9m83 0h3m473 0h4m-873 1h12m326 0h12m-10 0h15m82 0h11m126 0h9m38 0h3m92 0h10m-577 1h5m187 0h7m84 0h13m-11 0h7m1 0h3m86 0h12m2 0h12m160 0h13m75 0h12m-725 1h5m336 0h11m-10 0h9m-9 0h11m303 0h6m188 0h9m-765 1h3m-75 1h9m295 0h5m105 0h7m44 0h3m-265 1h3m111 0h12m183 0h7m55 0h12m19 0h7m-520 1h6m254 0h6m4 0h2m40 0h12m260 0h3m-814 1h7m354 1h12m-10 0h13m11 0h3m15 0h2m46 0h11m268 0h3m93 0h2m-672 1h2m166 0h6m25 0h12m13 0h2m25 0h9m7 0h6m23 0h8m-7 0h12m-9 0h6m-470 1h6m47 0h7m62 0h2m339 0h11m-353 1h7m244 0h6m-6 0h6m-10 1h10m78 0h13m-8 0h7m-5 0h11m-10 0h12m269 0h9m7 0h4m44 0h5m76 0h6m11 0h3m-931 1h2m225 0h5m251 0h10m248 0h3m21 0h6m-385 1h12m-12 0h11m85 1h8m-6 0h10m83 0h3m188 0h7m-792 1h6m497 0h7m163 1h5m17 0h3m17 0h3m-254 1h3m171 0h9m82 0h12m-770 1h6m536 0h2m68 0h5m71 0h5m120 0h5m-3 0h8m-827 3h9m190 0h3m121 0h6m0 0h5m484 0h9m185 0h9m-385 1h7m385 0h4m-890 1h12m564 0h12m52 0h2m-349 1h15m-12 0h8m107 0h7m366 0h3m-839 1h2m723 0h8m160 0h2m-705 1h3m249 0h11m271 0h10m-8 0h7m-809 1h7m539 0h7m247 0h12m97 0h2m59 0h12m-585 2h3m198 0h2m301 0h2m-624 1h6m516 0h8m-724 1h3m228 0h8m-174 1h2m268 0h15m-12 0h14m361 0h12m-558 1h2m60 0h6m-20 1h9m489 0h6m-785 1h12m458 0h3m292 0h2m-495 1h7m125 0h9m-7 0h6m-4 0h9m582 0h6m-601 1h6m298 0h9m-749 1h2m340 0h7m39 0h7m35 0h14m-438 1h9m107 0h12m73 0h2m321 0h10m273 0h8m-7 0h7m-514 1h2m3 0h9m117 0h6m81 0h12m162 0h3m274 0h7m-461 1h6m287 0h2m-820 1h2m22 0h6m93 0h9m685 0h7m-363 1h3m147 0h12m362 0h2m81 0h3m-374 1h2m-637 1h12m361 0h13m263 0h5m17 0h9m-3 0h3m91 0h2m77 0h2m-476 1h10m368 0h12m-501 1h9m196 0h10m253 0h7m218 0h3m-916 1h7m255 0h4m66 0h14m475 0h9m54 0h5m-559 1h14m369 0h4m178 0h2m-702 1h3m134 0h15m-13 0h8m365 0h12m167 0h12m8 0h6m-974 1h12m166 0h3m605 0h2m-817 1h4m622 0h3m170 0h13m-612 1h7m221 0h5m13 0h5m552 0h12m-3 0h3m-1045 1h4m342 0h5m99 0h14m-7 0h8m-15 1h6m376 0h6m-834 1h9m111 0h3m215 0h8m104 0h9m61 0h9m295 0h10m1 0h6m-659 1h3m387 0h6m-126 1h11m306 0h5m164 0h4m83 1h9m-494 1h9m13 0h6m-571 1h6m228 0h3m211 0h5m-179 1h12m41 0h5m-241 1h4m52 0h2m300 0h11m37 0h5m44 0h7m-103 1h15m63 0h2m19 0h10m29 0h12m377 0h2m105 0h6m-63 1h10m-9 0h6m-4 0h6m-857 1h12m262 0h9m-8 0h8m239 0h2m157 0h6m-510 1h3m83 0h3m102 0h6m104 0h4m79 0h5m131 0h3m151 0h7m-845 1h7m197 0h9m43 0h15m44 0h12m311 0h9m-718 1h4m81 0h7m238 0h11m-7 0h6m341 0h2m27 0h6m-654 1h6m130 0h5m208 0h4m-379 1h3m232 0h2m61 0h9m88 0h4m475 0h9m-590 1h10m90 0h3m456 0h12m7 0h9m-8 0h8m-999 1h6m298 0h8m104 0h13m-13 0h11m364 0h7m190 0h9m22 0h3m-718 1h7m-5 0h7m98 0h10m21 0h2m219 0h4m126 0h6m-647 1h3m832 0h13m-903 1h6m274 0h7m128 0h5m274 0h10m-478 1h12m68 0h12m1 0h11m562 0h10m-583 1h12m-57 1h2m630 0h2m26 0h2m-240 1h5m-3 0h7m225 0h5m-1003 1h5m433 0h12m45 0h9m114 0h9m242 0h2m92 1h7m-892 1h2m11 0h12m661 0h8m-839 1h3m142 0h9m485 0h3m98 0h4m-741 1h12m814 0h10m231 0h2m-924 1h12m294 0h10m-5 0h6m86 0h7m-464 1h4m284 0h9m637 0h6m-986 1h2m405 0h8m467 0h9m51 0h9m5 0h2m-661 1h4m682 1h9m-1023 1h5m358 0h5m26 0h4m131 0h13m82 0h12m169 0h7m0 0h10m-792 1h7m397 0h10m567 0h9m-737 1h3m151 0h7m-4 0h9m561 0h11m-758 1h2m746 0h6m-88 1h9m-907 1h12m227 0h2m254 0h3m100 0h6m169 0h2m6 0h11m190 0h5m-647 1h3m331 0h5m-601 1h12m79 0h5m40 0h9m69 0h9m200 0h9m274 0h5m-4 0h7m-660 1h3m220 0h6m40 0h13m-7 0h11m9 0h3m-19 1h7m360 0h2m2 0h9m189 0h9m-1033 1h9m12 0h2m24 0h7m197 0h5m82 0h9m100 0h10m288 1h7m3 0h3m45 0h2m19 0h12m178 0h2m48 0h5m-932 1h4m200 0h4m102 0h8m-4 0h14m366 0h5m-848 1h3m790 0h2m42 0h11m-565 1h7m645 0h3m-847 1h2m67 0h3m382 0h4m-241 1h12m63 0h4m40 0h2m30 0h6m372 0h10m-98 1h7m83 0h11m-827 1h6m507 0h4m496 0h8m-216 1h12m-155 2h12m141 0h10m159 0h2m26 0h9m-5 0h5m31 0h6m-706 1h7m76 0h7m-7 0h12m-459 1h3m63 0h6m727 0h7m-542 1h4m55 0h9m29 0h9m80 0h7m349 0h4m-469 1h6m100 0h11m-10 0h12m195 0h2m339 0h5m-989 1h6m299 0h4m131 0h11m-10 1h12m79 0h7m523 0h12m-880 1h9m217 0h12m179 0h4m46 0h7m-227 1h7m54 0h3m546 0h7m-1059 1h12m266 0h2m17 0h6m26 0h7m-7 0h9m106 0h10m81 0h5m471 0h11m-470 1h2m-223 1h6m101 0h14m81 0h11m129 0h3m47 1h2m125 0h2m-503 1h5m246 0h5m-528 1h4m354 0h15m185 0h2m179 0h7m41 0h7m143 0h12m-590 1h12m369 0h6m16 0h5m-653 1h9m237 0h12m566 0h7m4 0h7m-594 1h13m-11 0h5m372 0h6m-218 1h3m155 2h9m261 0h6m-845 1h7m-1 0h3m102 0h6m56 0h2m537 0h9m33 0h5m-839 2h2m18 0h9m79 0h9m652 0h9m-697 1h5m53 0h3m345 0h3m213 0h5m122 0h9m59 0h8m42 0h13m-4 0h3m-14 1h7m-1057 1h3m93 1h2m21 0h2m225 1h12m21 0h12m10 0h4m22 0h9m23 0h2m342 0h13m-387 1h7m3 0h6m138 0h2m-480 1h6m688 0h5m-1 0h11m-7 0h6m-627 1h3m506 0h2m5 0h6m322 0h6m-192 1h3m-430 1h6m92 0h5m95 0h12m240 0h3m44 0h2m88 0h7m16 0h9m15 0h5m-638 1h6m111 0h12m-117 1h5m-240 1h3m90 0h4m269 0h4m493 0h6m-880 1h2m44 0h2m78 0h5m-15 1h6m216 0h2m353 0h3m-879 1h4m300 0h7m15 0h6m439 0h4m135 0h9m-496 1h12m522 0h5m41 0h6m40 0h8m-768 1h4m511 0h7m38 0h7m30 0h5m14 0h3m-796 1h12m0 0h6m300 0h6m-114 1h3m48 0h6m127 0h12m141 0h5m5 0h9m-316 1h3m25 0h3m33 0h14m-242 1h5m294 0h3m302 0h10m134 0h12m-989 1h12m425 0h3m81 1h2m296 0h9m7 0h8m48 0h4m108 0h2m-550 1h14m6 0h7m473 0h5m-881 1h2m206 0h2m-265 1h9m155 0h3m134 0h6m55 0h3m68 0h8m-7 0h3m443 0h4m-823 1h4m124 0h6m89 0h6m339 0h3m224 0h12m98 0h3m38 0h12m-10 0h6m38 0h10m-1028 1h12m103 0h7m499 0h3m151 0h7m47 0h3m113 0h2m-653 1h6m102 0h5m19 0h5m20 0h3m163 0h2m-591 1h4m28 0h4m338 0h5m370 0h4m-551 1h4m166 0h5m332 0h7m47 0h5m116 0h9m-862 1h6m148 0h12m46 0h5m368 0h2m179 0h5m-415 1h3m169 0h6m-616 1h3m27 0h9m339 0h4m616 0h10m35 0h8m-955 1h5m113 0h3m114 0h2m14 1h3m84 0h5m362 0h6m-8 1h8m242 0h4m-973 1h4m68 0h6m266 0h6m363 0h4m242 0h15m-601 1h2m120 0h9m139 0h7m132 0h4m-724 1h6m275 0h7m48 0h2m321 0h6m214 0h3m-975 1h3m80 0h2m247 0h2m73 0h12m331 0h8m-599 1h2m213 0h7m35 0h6m43 0h5m-388 1h2m72 0h9m4 0h2m341 0h12m19 0h9m-344 1h3m124 0h12m402 0h11m94 0h6m62 0h12m-561 1h8m78 0h7m-475 1h4m56 0h3m198 0h3m326 0h6m-549 1h3m121 0h2m240 0h9m510 0h3m-522 1h3m348 0h12m54 0h3m142 0h9m17 0h10m-931 1h12m26 0h9m296 0h2m-315 1h12m90 0h9m537 0h6m-4 0h9m-389 1h15m65 0h2m20 0h9m5 0h6m167 0h7m-701 1h3m19 0h2m288 0h9m396 0h2m61 0h13m-10 0h8m81 0h3m28 0h7m115 0h15m-291 1h3m-513 1h3m394 0h4m214 0h3m-621 1h3m546 0h10m-4 0h3m-524 3h2m289 1h3m342 0h3m75 2h8m-692 1h4m101 0h15m-370 1h4m350 0h15m562 0h10m-612 1h9m21 0h12m363 0h10m-686 1h4m188 0h4m-1 0h12m467 0h6m-492 1h9m259 0h5m214 0h8m-616 1h9m68 0h5m41 0h6m477 0h11m190 0h5m-690 2h6m52 0h3m49 0h6m14 0h7m18 0h6m555 0h12m-737 1h4m114 0h10m570 0h4m-691 1h6m94 0h15m336 0h6m-254 1h7m278 0h4m191 0h12m-10 0h11m-9 0h4m-1048 1h2m350 0h10m278 0h6m250 0h4m138 0h5m-908 1h2m703 0h11m205 0h7m-710 1h10m173 0h7m8 0h9m1 0h5m-479 1h2m270 0h5m105 0h6m509 0h2m-936 1h6m328 0h12m66 0h12m84 0h9m276 0h10m5 0h2m180 0h11m-211 1h10m-7 0h8m191 0h7m-581 1h14m268 0h3m86 0h11m-675 1h2m284 0h15m-9 0h5m85 0h9m52 0h3m223 0h10m-498 1h8m421 0h5m-745 1h9m105 0h12m716 0h5m148 0h9m-9 0h10m-960 1h3m8 0h9m176 0h12m57 0h6m101 0h14m82 0h11m94 0h3m175 0h11m47 0h3m55 0h2m-750 1h9m63 0h3m33 0h2m38 0h6m-4 0h4m72 0h2m35 0h2m108 0h3m107 0h5m143 0h11m-524 1h9m22 0h4m99 0h15m-11 0h13m113 0h2m354 0h3m85 0h11m-692 1h7m-8 1h9m190 1h9m22 1h2m339 0h3m-670 1h2m302 0h8m272 0h9m-7 0h8m-551 1h3m24 0h2m137 0h11m154 0h6m206 0h8m-6 0h6m-11 1h13m125 0h5m57 0h9m-7 0h6m-490 1h10m80 0h12m143 0h7m33 0h10m188 0h11m-584 1h6m369 0h6m37 0h2m-424 1h10m75 0h3m-556 1h3m355 0h10m-6 0h7m196 0h8m274 0h6m-577 1h9m131 0h2m211 0h12m202 0h13m-11 0h9m-8 0h7m-497 2h9m-5 0h5m446 0h2m-623 1h7m-6 0h4m103 0h5m32 0h2m49 0h12m163 0h13m-11 0h9m275 0h9m-587 1h12m96 0h2m251 0h6m128 0h3m-411 1h4m112 0h6m-5 0h8m302 0h3m60 0h10m184 0h11m-585 1h10m-3 0h6m368 0h5m217 0h3m-940 1h7m284 0h12m412 0h5m191 0h9m-967 1h3m170 0h6m485 0h5m219 0h3m-925 1h6m3 0h2m188 0h3m107 0h7m18 0h5m84 0h3m368 0h10m190 0h9m-585 1h12m65 0h12m292 0h7m30 0h12m127 0h7m8 0h11m-87 1h7m-502 1h7m368 0h12m-7 0h5m109 0h12m69 0h7m-695 1h9m677 0h11m-490 1h10m32 0h9m230 0h12m182 0h13m-11 0h13m-11 0h7m48 0h7m-1094 1h4m833 0h4m76 1h4m-795 1h5m329 0h2m-463 1h3m48 0h6m815 0h3m158 1h10m-8 0h12m-796 1h9m197 0h11m26 0h2m537 0h8m-925 1h4m54 0h7m372 0h7m-555 1h6m340 0h7m104 1h8m108 0h7m81 0h4m59 0h4m102 0h8m-7 0h9m188 0h10m-693 1h5m317 0h2m54 0h3m68 0h3m33 0h10m-693 1h9m673 0h13m-11 0h10m-360 1h2m547 0h9m-810 1h12m217 0h6m-14 1h5m-2 0h12m206 0h3m161 0h5m154 0h12m22 0h12m-11 0h10m-587 1h9m-412 1h3m500 0h4m61 0h3m153 0h3m60 0h6m-801 1h12m383 0h12m425 0h4m-425 1h7m246 0h3m121 0h12m-10 0h8m-5 0h9m-849 1h12m77 0h2m210 0h3m153 0h3m-3 0h14m24 0h4m47 0h2m123 0h9m65 0h4m91 0h8m185 0h8m-4 0h5m-486 1h6m274 0h10m13 0h4m-517 1h2m27 0h6m179 1h4m60 0h2m209 0h10m-6 0h10m-591 1h2m204 0h5m85 0h10m232 0h3m-752 1h12m-12 0h3m26 0h6m377 0h14m-11 0h10m83 0h7m278 0h6m183 0h13m-901 1h12m196 0h10m192 0h12m273 0h10m190 0h11m-894 1h3m681 0h9m37 0h3m152 0h6m-693 1h6m478 0h12m184 0h12m-912 1h9m104 0h4m101 0h9m-8 0h10m431 0h2m43 1h11m6 0h4m26 0h3m159 0h2m-210 1h6m-4 0h5m189 0h4m-2 0h5m-4 0h6m-847 1h7m255 0h14m-9 0h8m367 0h5m-684 1h2m212 0h9m78 0h7m99 0h4m-458 1h7m93 0h12m131 0h3m480 0h10m-590 1h2m200 0h7m36 0h2m332 0h8m52 0h7m135 0h4m-960 1h12m82 0h4m117 0h4m34 0h4m79 0h3m91 0h3m319 0h13m244 0h2m-677 1h2m205 0h3m413 0h7m-265 1h4m54 0h4m-716 1h7m216 0h7m11 0h7m88 0h9m368 0h10m185 0h11m-591 1h6m379 0h5m190 0h10m42 0h9m-928 1h12m169 0h9m101 0h11m9 0h3m111 0h5m239 0h11m-537 1h9m121 0h12m5 0h2m379 0h5m-4 0h7m-736 1h5m303 0h3m414 0h8m96 0h2m-591 1h6m98 0h11m-154 1h2m54 0h3m377 0h2m135 0h2m-273 1h2m220 0h12m188 0h6m-907 1h7m413 0h7m274 0h9m124 0h12m51 0h9m-448 1h9m106 0h6m-1 0h2m125 0h4m191 0h11m-850 1h5m637 0h7m157 0h7m66 0h5m-796 1h12m361 0h2m195 0h9m-805 1h6m224 1h2m169 0h9m87 0h5m512 0h12m-624 1h11m237 0h6m95 0h9m-623 1h7m672 0h5m-324 1h9m-9 0h10m144 0h9m319 0h4m-963 1h3m414 0h9m-5 0h2m332 0h10m-9 0h9m-756 1h5m245 0h6m212 0h12m469 0h5m-1041 1h3m382 0h3m36 0h2m35 0h11m-7 0h6m106 0h2m398 0h2m106 0h12m-745 1h6m479 0h11m-10 0h11m107 0h7m74 0h7m-1046 1h5m195 0h6m186 0h7m60 0h13m-9 0h9m305 0h9m-56 2h9m100 0h7m-690 2h12m51 0h2m645 0h3m-27 1h5m185 0h4m-481 1h10m-8 0h7m187 0h5m86 0h7m-293 1h12m276 0h5m-296 1h12m-11 0h11m-4 0h10m266 0h12m-9 0h8m-8 0h4m0 0h4m25 0h2m51 0h9m16 0h5m128 0h10m-833 1h9m191 1h7m24 0h6m60 0h9m181 0h6m84 0h13m26 0h5m-639 1h4m310 0h6m466 0h12m-582 1h10m90 0h5m-137 1h4m123 0h12m32 0h9m232 0h6m126 0h2m32 0h5m-799 1h2m262 0h3m77 0h11m-10 0h12m-10 0h8m-7 0h6m244 0h3m28 0h5m-2 0h5m239 0h9m-937 1h7m419 0h2m-497 1h5m151 0h6m204 0h9m89 0h13m-10 0h5m277 0h9m-8 0h12m-694 1h6m303 0h9m82 0h11m270 0h5m-2 0h7m-783 1h3m392 0h11m-56 1h7m412 0h9m-3 0h5m-5 0h6m91 0h2m19 0h12m48 0h4m-1009 1h4m82 0h5m356 0h10m-274 1h4m90 0h4m124 0h3m38 0h6m95 0h4m275 0h13m-40 1h12m-806 1h9m127 0h10m-9 0h5m155 0h6m140 0h12m-319 1h14m292 0h11m83 0h12m-9 0h11m-8 0h4m272 0h5m-5 0h13m-384 1h5m369 0h8m141 0h12m-622 1h3m87 0h7m83 0h5m-408 1h10m95 0h2m68 0h9m215 0h9m-6 0h9m104 0h7m-637 1h5m193 0h12m182 0h4m20 0h12m370 0h7m94 0h3m-784 1h6m294 0h14m84 0h13m446 0h4m-940 1h12m63 0h5m-2 0h10m300 0h6m82 0h10m-8 0h5m82 0h5m-236 1h3m421 0h8m-687 1h7m225 0h12m684 0h6m-1066 1h7m430 0h8m175 0h6m78 0h12m90 0h7m1 0h5m200 0h6m-389 1h3m-672 1h5m613 0h7m14 0h6m83 0h3m111 0h9m-286 1h6m272 0h12m-9 0h11m231 0h8m-649 1h5m108 0h11m-7 0h11m86 0h6m42 0h6m6 0h9m-667 1h3m91 0h6m682 0h9m-6 0h6m-5 0h4m-759 1h2m230 0h5m232 0h10m272 0h10m238 0h7m-573 1h6m29 0h10m96 0h12m122 0h2m19 0h2m258 0h13m-726 1h9m85 0h9m92 0h6m272 0h12m-616 1h2m321 0h12m-10 0h8m-8 0h6m273 0h9m-8 0h7m-6 0h12m-11 0h12m-646 1h7m506 0h3m118 0h4m-3 0h8m-670 1h9m273 0h13m85 0h6m276 0h8m208 0h3m-498 1h8m272 0h8m-294 1h5m-3 0h9m501 0h6m-613 1h11m-11 0h9m367 0h10m111 0h2m-401 1h10m-102 1h7m80 0h9m-7 0h9m-6 0h6m271 0h12m-10 0h8m-4 0h4m-2 0h5m191 0h4m-486 1h6m274 0h10m-6 0h8m-653 1h9m350 0h10m-8 0h11m-10 0h7m-7 0h8m425 0h2m-321 1h12m152 0h12m-10 0h5m-5 0h11m-200 2h4m123 0h12m-10 0h5m57 0h6m-836 1h2m116 0h9m326 0h9m31 0h4m22 0h6m302 0h10m-8 0h11m195 0h5m-587 1h9m121 0h7m236 0h11m-9 0h12m-825 1h2m46 0h5m481 0h4m76 0h3m169 0h9m17 0h8m-350 1h3m54 0h13m-9 0h11m-11 0h9m131 0h12m128 0h13m-11 0h7m-5 0h6m-5 0h7m-825 1h9m525 0h7m129 0h7m46 0h2m90 0h5m235 0h13m-968 1h7m191 0h7m130 0h14m-11 0h15m362 0h4m-1 0h6m87 0h2m-777 1h6m294 0h12m85 0h6m64 0h7m206 0h10m-289 1h5m58 0h4m305 0h2m146 0h9m-981 1h7m346 0h15m83 0h6m84 0h9m176 0h12m-8 0h11m-297 1h13m-11 0h7m-7 0h11m-8 0h8m-6 0h6m157 0h9m105 0h13m213 0h12m-1045 1h3m755 0h12m40 0h4m25 0h3m-370 1h3m251 0h6m75 0h8m105 0h6m81 0h2m-611 1h12m18 0h14m-8 0h6m-341 1h3m82 0h3m340 0h9m-117 1h5m10 0h5m368 0h11m-8 0h8m17 0h6m-774 1h9m141 0h2m248 0h2m390 0h3m-869 1h2m130 0h11m46 0h7m31 0h5m119 0h5m78 0h6m38 0h9m29 0h3m13 0h12m-9 0h7m-6 0h4m90 0h2m182 0h13m-9 0h7m-696 1h12m165 0h6m136 0h2m366 0h8m-7 0h5m-3 0h4m193 0h12m12 0h5m-513 1h9m-5 0h12m265 0h12m-596 1h3m301 0h12m3 0h6m28 0h2m208 0h2m23 0h5m-5 0h8m230 0h15m-818 1h5m253 0h4m19 0h11m-9 0h10m-10 0h4m278 0h6m18 0h12m208 0h8m-534 1h10m147 0h4m121 0h5m-4 1h5m-4 0h6m-6 0h6m209 0h3m-876 1h3m373 0h6m-156 1h3m47 0h11m-7 0h13m82 0h10m-7 0h5m97 0h6m410 0h14m-12 0h11m-617 1h7m71 0h10m273 0h10m-8 0h6m80 0h12m-489 1h12m-1 0h14m83 0h8m-6 0h6m-4 1h5m145 0h6m123 0h9m-8 0h9m-6 0h4m-745 1h3m115 0h3m331 0h13m243 0h6m-6 0h2m27 0h11m-6 0h6m21 0h2m163 0h2m-1003 1h3m79 0h12m328 0h13m85 0h9m275 0h8m51 0h4m-786 1h2m121 0h7m212 0h15m-12 0h16m24 0h5m49 0h11m-10 0h10m269 0h8m-818 1h12m269 0h7m527 0h8m31 0h7m-417 1h2m89 0h6m191 0h9m-628 1h7m64 0h4m114 0h7m75 0h7m220 0h3m203 0h9m-799 1h6m499 0h10m-8 0h9m145 0h7m65 0h2m50 0h11m-10 0h12m-10 0h8m-7 0h7m-6 0h4m-288 1h10m-10 0h7m-412 1h14m292 0h12m86 0h7m-5 0h6m-3 0h5m445 0h3m-934 1h9m64 0h10m395 0h4m115 0h2m412 0h4m-949 1h9m5 0h5m259 0h5m30 0h12m-7 0h10m6 0h6m241 0h12m98 0h12m-586 1h2m185 0h2m102 0h12m99 0h3m89 0h9m70 0h11m178 0h7m60 0h6m-609 1h2m63 0h5m-5 0h10m-9 0h8m278 0h6m186 0h6m39 0h15m-258 1h12m-8 0h5m-603 1h12m483 0h5m100 0h4m-7 1h11m-718 1h12m167 0h6m128 0h12m105 0h6m-374 1h9m350 0h10m-5 0h11m206 0h5m259 0h6m37 0h9m-842 1h12m245 0h2m330 0h6m-686 1h6m673 0h11m-9 0h4m236 0h13m-906 1h7m362 0h7m225 0h2m54 0h6m178 0h4m-473 1h13m189 0h4m73 0h13m-292 1h13m-12 0h5m271 0h10m-9 0h10m-223 1h2m-323 2h6m45 0h4m200 0h13m270 0h5m78 0h6m130 0h12m-877 2h9m19 0h3m74 0h5m361 0h2m172 0h13m-696 1h2m178 0h7m494 0h7m-6 0h11m-803 1h9m139 0h12m-9 0h8m147 0h10m98 0h13m365 0h11m-658 1h14m-6 0h4m147 0h10m64 0h2m56 0h7m150 0h12m74 0h5m-3 0h2m111 0h4m194 0h8m18 0h2m4 0h2m14 0h8m-959 1h9m109 0h5m205 0h5m243 0h7m-255 1h6m90 0h11m230 0h2m37 0h5m-4 0h9m71 0h8m-888 1h12m217 0h2m191 0h14m84 0h5m188 0h7m79 0h8m190 0h10m-584 1h10m88 0h8m353 0h7m153 0h16m-960 1h7m49 0h7m-2 0h7m146 0h9m452 0h5m119 0h9m6 0h21m99 0h12m-920 1h7m181 0h8m-8 0h7m102 0h13m-10 0h7m365 0h13m-12 0h11m-9 0h8m89 0h2m-712 1h5m71 0h7m148 0h14m88 0h6m273 0h9m188 0h10m-691 1h4m37 0h2m161 0h6m183 0h5m87 0h11m148 0h6m-543 1h12m-238 1h5m112 0h7m63 0h9m154 0h6m93 0h2m222 0h6m6 0h7m-5 0h4m-4 0h9m107 0h8m-958 1h6m198 0h12m535 0h9m-7 0h9m69 0h9m24 0h11m53 0h9m58 0h11m-905 1h10m152 0h8m201 0h9m-103 1h5m55 0h5m23 0h9m76 0h7m190 0h9m76 0h8m-579 1h9m-8 0h10m-10 0h9m-8 0h10m99 0h15m78 0h10m-6 0h6m252 0h2m18 0h9m-9 0h11m93 0h27m-17 0h23m13 0h12m-993 1h12m140 0h12m139 0h2m130 0h2m178 0h3m215 0h9m-9 0h10m-8 0h11m-532 1h6m26 0h6m203 0h5m172 0h5m98 0h11m67 0h10m-10 0h9m-7 0h10m-8 0h5m156 0h10m-253 1h4m173 0h3m-776 1h9m339 0h3m84 0h3m90 0h7m63 0h5m72 0h9m-5 0h4m-606 1h3m28 0h7m-6 0h8m7 0h5m184 0h5m22 0h12m103 0h6m131 0h13m-9 0h8m74 0h5m6 0h3m111 0h4m-859 1h6m157 0h6m72 0h2m119 0h9m-7 0h12m272 0h6m77 0h5m-577 1h5m0 0h5m193 0h12m353 0h6m115 0h6m1 0h9m-816 1h5m107 0h12m475 0h8m71 0h10m0 0h12m113 0h3m37 0h3m-993 1h5m246 0h6m103 0h11m83 0h7m-7 0h6m129 0h3m96 0h2m50 0h6m-6 0h5m73 0h7m-5 0h4m-830 1h7m248 0h10m425 0h2m66 0h7m58 0h5m20 0h3m61 0h2m-452 1h8m118 0h3m148 0h12m-7 0h6m73 0h6m30 0h12m113 0h11m-532 1h8m64 0h3m76 0h5m203 0h9m-7 0h5m111 0h10m-7 0h7m-3 0h3m36 0h7m-900 1h6m157 0h9m193 0h11m-6 0h5m272 0h8m-5 0h8m75 0h3m153 0h15m-1008 1h3m41 0h2m29 0h9m181 0h8m-7 0h4m222 0h5m156 0h12m87 0h9m101 0h17m-613 1h5m197 0h12m272 0h8m-7 0h11m72 0h4m-856 1h9m75 0h11m391 0h7m278 0h7m-420 1h5m126 0h6m275 0h12m-12 0h8m71 0h8m24 0h12m74 0h9m33 0h11m-10 0h14m-14 0h13m-11 0h8m-790 1h3m107 0h12m-5 0h4m34 0h12m89 0h3m305 0h2m53 0h7m-6 0h9m158 0h8m-949 1h2m205 0h7m198 0h10m271 0h9m-688 1h10m667 0h13m55 0h12m2 0h7m-4 0h7m149 0h14m-1051 1h3m39 0h6m155 0h3m314 0h8m267 0h9m-6 0h9m75 0h5m-931 1h7m176 0h3m653 0h9m-7 0h10m-8 0h10m68 0h10m-3 0h4m104 0h13m-853 1h6m143 1h3m8 0h8m-6 0h6m97 0h15m95 0h9m263 0h9m69 0h8m-8 0h10m16 0h23m14 0h6m50 0h12m34 0h7m-1014 1h2m118 0h6m113 0h3m523 0h10m68 0h9m-9 0h9m53 0h7m-794 1h13m52 0h9m76 0h5m3 0h9m194 0h11m-6 0h4m275 0h9m-7 0h8m-697 1h14m-10 0h7m188 0h8m199 0h12m264 0h9m-570 1h9m68 0h10m-8 0h7m-5 0h5m106 0h6m83 0h9m-6 0h12m64 0h3m200 0h11m188 0h10m41 0h8m-7 0h7m-933 1h5m392 0h9m-5 0h6m89 0h5m181 0h7m72 0h5m-465 1h6m373 0h6m-3 0h6m235 0h8m-986 1h2m449 0h10m-8 0h7m270 0h6m-4 0h12m73 0h3m-735 1h12m632 0h13m-9 0h6m-2 0h10m65 0h10m-797 1h12m208 0h7m100 0h15m85 0h8m271 0h7m76 0h8m-7 0h4m115 0h7m-696 1h9m198 0h4m-442 1h6m33 0h5m394 0h8m-6 0h4m273 0h12m73 0h4m115 0h6m41 0h4m-903 1h13m352 0h9m-7 0h6m-3 0h4m271 0h12m77 0h6m147 0h2m1 0h6m-932 1h11m185 0h10m215 0h5m258 0h7m-6 0h9m185 0h9m-5 0h8m34 0h15m-6 0h6m-744 1h4m-3 0h7m199 0h12m186 0h4m79 0h6m-490 1h4m404 0h3m92 0h6m55 0h8m-569 1h4m195 0h10m209 0h2m145 0h4m9 0h2m142 0h16m-803 1h12m59 0h6m189 0h12m296 0h3m167 0h8m-1033 1h4m445 0h15m84 0h7m157 0h6m108 0h9m-9 0h12m-12 0h9m-6 0h5m-286 1h4m153 0h7m117 0h5m-5 0h11m17 0h4m-565 1h2m247 0h12m-8 0h4m136 0h4m10 0h6m203 0h9m62 0h5m-884 1h3m34 0h15m187 0h9m585 0h19m30 0h4m-840 1h10m288 0h13m370 0h7m74 0h3m85 0h12m-867 1h13m1 0h7m17 0h12m351 0h10m119 0h6m148 0h10m-654 1h6m357 0h9m269 0h12m15 0h4m219 0h12m-941 1h13m10 0h5m7 0h7m237 0h5m205 0h4m193 0h5m69 0h10m-6 0h6m109 0h9m-897 1h3m-1 0h5m283 0h3m125 0h12m115 0h9m133 0h9m-8 0h12m-11 0h9m27 0h12m195 0h10m-897 1h6m155 0h2m203 0h6m272 0h9m-8 0h9m87 0h2m13 0h20m-881 1h2m27 0h5m229 0h9m104 0h6m8 0h3m363 0h6m-390 1h13m84 0h9m272 0h11m70 0h8m115 0h4m33 0h15m-175 1h8m24 0h23m38 0h12m13 0h11m-695 1h5m46 0h4m54 0h5m322 0h3m49 0h3m-3 0h9m232 0h10m-859 1h2m116 0h3m201 0h6m-4 0h6m276 0h6m-3 0h4m199 0h9m27 0h15m-14 0h7m-986 1h9m114 0h2m262 0h3m3 0h6m41 0h4m10 0h9m272 0h10m72 0h9m-933 1h2m82 0h7m470 0h8m275 0h5m69 0h4m0 0h10m-899 1h4m219 0h3m98 0h8m194 0h7m269 0h12m-6 0h8m-7 0h10m-10 0h7m13 0h2m59 0h7m160 0h6m-738 1h3m200 0h7m355 0h4m137 0h4m20 0h7m-255 1h11m-11 0h7m-4 0h8m70 0h9m65 0h12m86 0h6m-665 1h12m480 0h5m154 0h9m-957 1h4m32 0h4m121 0h3m162 0h16m-12 0h10m50 0h3m312 0h11m69 0h10m-372 1h11m269 0h12m71 0h8m153 0h15m-12 0h6m-250 1h10m69 0h9m-9 0h7m112 0h5m-1012 1h6m35 0h2m141 0h7m129 0h10m-9 0h10m89 0h3m240 1h2m177 0h7m69 0h25m5 0h3m-424 1h9m-9 0h10m-9 0h11m349 0h8m-657 1h6m183 0h10m90 0h6m78 0h3m238 0h6m-345 1h4m289 0h9m-1 0h4m29 0h4m37 0h5m-4 0h3m154 0h3m-760 1h7m25 0h10m64 0h6m29 0h7m87 0h10m278 0h6m-388 1h10m256 0h7m103 0h11m75 0h5m56 0h4m100 0h9m-745 1h5m199 0h10m-9 0h4m-3 0h5m272 0h12m71 0h8m-6 0h4m-665 1h12m83 0h3m103 0h11m-7 0h8m85 0h10m467 0h6m40 0h14m-940 1h13m219 0h12m159 0h7m272 0h11m190 0h6m-499 1h3m10 0h4m279 0h5m72 0h9m-5 0h6m-736 1h12m148 0h5m201 0h6m356 0h8m-735 1h12m147 0h4m109 0h6m86 0h11m273 0h9m-654 1h8m-8 0h5m43 0h9m147 0h3m189 0h3m221 0h5m12 0h13m-7 0h8m-7 0h13m-13 0h4m108 0h17m106 0h2m-1040 1h3m154 0h12m350 0h11m356 0h4m63 0h12m-848 1h15m389 0h9m273 0h7m-7 0h4m51 0h3m11 0h6m1 0h9m157 0h5m-737 1h8m195 0h9m295 0h2m96 0h12m113 0h10m-643 1h9m101 0h4m-2 0h5m472 0h2m-2 0h12m-849 1h9m143 0h10m194 0h11m-9 0h9m-9 0h6m357 0h4m-4 0h5m-678 1h4m91 0h9m0 0h9m189 0h4m6 0h5m-2 0h9m263 0h10m-1 0h4m-684 1h2m102 0h7m177 0h4m101 0h12m9 0h2m262 0h8m-6 0h12m65 0h7m158 0h6m-851 1h3m73 0h3m33 0h10m97 0h5m96 0h12m266 0h13m-500 1h5m108 0h10m334 0h2m33 0h6m73 0h4m24 0h22m80 0h2m-968 1h12m140 0h2m110 0h9m101 0h9m365 0h11m-7 0h12m-11 0h9m235 0h5m-1002 1h2m128 0h12m231 0h8m87 0h12m164 0h3m102 0h11m-6 0h8m70 0h7m-3 0h3m-366 1h11m352 0h4m21 0h20m16 0h12m44 0h11m-698 1h8m201 0h8m469 0h8m-987 1h4m198 0h5m287 0h11m-8 0h5m108 0h2m12 0h3m154 0h9m235 0h8m-740 1h9m60 0h3m39 0h10m81 0h10m48 0h3m211 0h2m11 0h6m70 0h10m-571 1h5m209 0h2m111 0h6m85 0h3m65 0h9m-8 0h9m30 0h6m34 0h8m-731 1h12m2 0h5m71 0h6m165 0h14m-13 0h14m194 0h2m52 0h9m106 0h11m99 0h21m69 0h8m-5 0h5m11 0h2m-1018 1h3m376 0h3m62 0h2m354 0h4m76 0h10m155 0h8m-997 1h2m360 0h13m86 0h12m-11 0h5m-2 0h5m356 0h3m-797 1h3m488 0h5m324 0h2m-392 1h4m165 0h6m190 0h5m36 0h12m-780 1h14m88 0h2m332 0h12m278 0h8m17 0h27m98 0h3m-878 1h5m229 0h5m28 0h6m87 0h11m-6 0h7m276 0h4m157 0h9m27 0h11m-913 3h3m207 0h8m273 0h9m280 0h6m-3 0h5m-874 1h2m90 0h7m198 0h10m-9 0h9m-7 0h4m104 0h11m370 0h8m-521 1h4m18 0h10m-9 0h9m98 0h12m-10 0h11m59 0h5m302 0h12m99 0h6m-761 1h9m-8 0h10m340 0h5m232 0h3m121 0h5m8 0h6m-5 0h6m121 0h3m30 0h10m-738 1h6m107 0h9m32 0h3m48 0h10m272 0h9m-8 0h5m250 0h3m-1074 1h9m123 0h2m37 0h5m-3 0h7m111 0h4m456 0h3m98 0h12m35 0h4m-3 0h4m-579 1h10m200 0h5m88 0h12m277 0h5m6 0h12m96 0h2m-917 1h7m38 0h15m-7 0h5m208 0h2m47 0h9m370 0h7m94 0h22m-771 1h14m631 0h7m-5 0h8m-8 0h7m70 0h4m0 0h10m-735 1h6m153 0h9m103 0h9m360 0h6m2 0h5m59 0h5m-849 1h9m584 0h7m129 0h2m126 0h10m-577 1h4m104 0h12m367 0h11m-7 0h5m26 0h2m116 0h9m-793 1h7m453 0h12m-9 0h2m164 0h9m-7 0h10m73 0h8m89 0h6m-674 1h10m-8 0h7m59 0h3m596 0h5m-677 1h2m7 0h8m349 0h2m146 0h4m55 0h9m-7 0h4m-2 0h5m42 0h3m28 0h5m-814 1h13m630 0h13m105 0h15m-746 1h3m126 0h6m439 0h5m38 0h6m236 0h9m-1016 1h7m3 0h2m267 0h7m-7 0h7m-6 0h9m95 0h11m212 0h7m159 0h3m71 0h10m-6 0h4m13 0h26m-770 1h9m560 0h4m35 0h4m103 0h2m-909 1h2m184 0h9m-6 0h9m260 0h8m217 0h4m144 0h11m99 0h26m108 0h13m-897 1h5m148 0h8m-6 0h5m28 0h3m68 0h15m-11 0h14m470 0h2m-816 1h12m66 0h3m387 0h2m218 0h5m132 0h20m44 0h4m54 0h11m-627 1h3m138 0h9m311 0h8m134 0h5m7 0h7m-805 1h7m66 0h9m180 0h12m127 0h2m154 0h12m71 0h9m11 0h7m135 0h12m-1052 1h7m152 0h6m149 0h5m532 0h5m54 0h24m105 0h15m-1065 1h9m151 0h15m632 0h9m-4 0h6m-4 0h4m108 0h22m-774 1h12m360 0h4m372 0h29m-626 1h4m478 0h13m-10 0h8m-666 1h3m67 0h2m100 0h7m105 0h7m448 0h6m-816 1h5m78 0h10m150 0h7m100 0h13m-7 0h7m87 0h7m120 0h4m230 0h4m154 0h13m-633 1h10m-5 0h9m448 0h7m-579 1h9m-6 0h7m589 0h23m-18 0h13m-664 1h3m344 0h3m11 0h6m269 0h27m-126 1h8m-4 0h10m64 0h10m26 0h21m-624 1h6m41 0h2m66 0h6m308 0h3m24 0h12m20 0h6m-4 0h9m71 0h7m-577 1h10m-8 0h10m307 0h12m37 0h9m195 0h6m-729 1h9m233 0h2m71 0h7m52 0h12m33 0h2m272 0h5m-250 1h6m-588 1h3m29 0h2m94 0h13m25 0h3m121 0h6m559 0h7m18 0h21m-20 0h22m-909 1h7m69 0h4m53 0h10m-8 0h6m146 0h10m105 0h14m-11 0h6m294 0h12m183 0h15m-11 0h3m-131 1h11m76 0h6m21 0h29m107 0h3m-735 1h4m101 0h12m112 0h9m233 0h9m-612 1h7m609 0h13m-11 0h10m-304 1h3m165 0h12m100 0h12m3 0h8m234 0h14m-14 0h6m-895 1h8m52 0h7m19 0h6m65 0h8m0 0h6m333 0h4m117 0h3m20 0h7m-3 0h5m72 0h5m155 0h11m-741 1h6m480 0h7m-6 0h11m-503 1h2m4 0h4m100 0h3m99 0h4m273 0h12m-10 0h5m18 0h5m28 0h3m47 0h23m14 0h4m93 0h3m-889 1h12m148 0h9m-8 0h8m-9 1h8m278 0h3m177 0h6m60 0h7m32 0h6m-6 0h5m18 0h18m18 0h6m27 0h9m-670 1h9m96 0h15m-15 0h14m189 0h3m175 0h11m-10 0h13m226 0h16m-1 0h3m-579 1h3m91 0h2m358 0h9m-518 1h10m-10 0h7m-440 1h12m17 0h6m124 0h13m-6 0h13m209 0h6m133 0h9m23 0h9m211 0h7m24 0h6m102 0h19m117 0h8m-921 1h3m5 0h9m-5 0h4m0 0h15m344 0h2m290 0h9m75 0h3m-668 1h5m91 0h7m41 0h2m60 0h7m-3 0h7m366 0h9m148 0h7m-807 1h5m148 0h8m342 0h9m84 0h6m41 0h5m76 0h4m-675 1h5m301 0h9m-7 0h4m275 0h12m43 0h4m24 0h8m-6 0h3m158 0h10m-7 0h2m-1035 1h3m286 0h3m5 0h7m238 0h3m237 0h7m106 0h21m-947 1h4m326 0h6m214 0h5m23 0h12m224 0h11m73 0h7m25 0h17m-865 1h3m131 0h7m310 0h9m352 0h3m77 0h5m83 0h8m-898 1h11m12 0h6m127 0h10m205 0h4m351 0h6m-6 0h5m150 0h2m4 0h6m-740 1h10m172 0h5m386 0h9m-8 0h3m153 0h15m-741 1h4m86 0h3m55 0h5m138 0h3m160 0h3m139 0h3m-598 1h9m211 0h3m263 0h12m69 0h8m-7 0h6m21 0h23m-131 1h13m67 0h6" stroke="#9c9cf5" stroke-width="1.1" fill="none"/>
<path d="M0 0m437 756h11m-9 0h9m-10 1h7m-10 4h12m-9 1h8m-6 1h7m-12 2h11m-9 0h7m-10 1h7m-3 0h7m-8 1h12m-12 0h13m-11 0h5m-4 0h5m-11 4h13m-10 1h11m-11 1h12m241 3h15m-10 2h9m191 0h12m-8 0h12m-15 1h11m-11 0h9m-7 0h6m-213 1h10m200 1h4m-214 1h14m-11 0h6m-3 0h15m183 1h10m100 1h4m17 0h26m-21 0h25m-159 1h7m98 1h6m21 0h18m-16 0h15m-44 1h7m-313 2h12m327 1h15m-14 0h15m-155 1h9m-9 0h9m94 0h9m-6 0h6m-113 1h12m97 1h6m28 0h12m-154 1h9m-8 0h6m122 0h22m-45 1h8m-7 0h5m26 0h13m-355 1h15m-9 0h5m325 0h23m-20 0h18m-350 2h6m190 0h13m-216 2h15m326 0h28m-366 1h8m196 0h5m-10 1h11m-8 0h10m99 0h4m-319 3h13m-6 1h8m187 0h13m-7 0h4m97 0h9m-315 1h13m-10 3h7m189 0h12m-10 0h10m126 0h22m-15 0h12m-152 1h5m126 0h28m-55 1h8m11 0h26m-152 1h7m-5 0h12m-211 1h5m299 0h8m-5 0h3m24 0h17m-20 1h25m-158 1h7m-213 1h9m305 0h3m19 0h16m-15 0h25m-50 1h9m-321 1h12m-8 0h6m300 0h9m-313 1h7m300 0h5m18 0h25m-154 1h7m-7 0h8m99 0h4m-315 1h13m-9 0h12m-17 1h15m-10 0h8m191 0h8m123 0h17m-351 1h13m188 0h12m122 0h15m-144 2h7m125 0h17m-149 1h7m123 0h18m-348 1h9m323 0h20m-13 0h14m-360 1h13m333 0h15m-359 1h10m195 0h5m98 1h7m20 0h17m-147 1h6m-213 1h11m192 0h8m-6 1h9m96 0h9m-317 1h12m295 0h9m-7 1h8m26 0h11m-356 1h13m-10 1h9m296 0h8m-315 1h7m306 0h4m26 0h9m-42 1h5m20 0h26m-22 0h25m-161 1h7m-1 0h5m-350 396h16m-13 0h11m-7 0h12m-17 1h13m-13 5h16m-13 2h11m-11 4h17m-20 7h16m-7 0h9m-12 4h9m-13 1h8m-9 14h13m-16 8h16m-16 1h16m-12 0h14m-11 0h9m-7 3h7m-14 2h15m-9 1h10m-12 1h8m-13 3h18m-12 7h15m-19 2h12m-7 6h8m-15 3h16m-8 0h6m-4 1h8m-13 1h16m-16 0h12m-13 2h16m-17 5h11m-9 2h10m-10 0h8m-9 4h13m-12 0h17m-16 2h15m-14 0h14m-17 2h16m-14 2h6m-6 4h6m-9 1h15m-16 14h17m-16 0h14m-14 5h16m-17 4h17m-18 2h15m-12 0h18m-17 0h9m-12 1h17m-18 1h15m-12 0h18m-17 2h11m-17 3h18m-12 0h8m-13 1h18m-17 0h16m-13 1h9m-5 2h7m-16 1h18m-10 0h9m-17 4h16m-7 1h12m-16 1h17m-13 2h11m-18 2h17m-13 0h13m-17 1h18m-13 5h9m-6 0h10m-10 0h9m-11 2h12m-11 0h6m-5 2h8m-8 1h8m-16 2h10m-9 0h18m-16 0h9m-8 2h17m-16 0h6m-10 1h10m-12 3h17m-16 0h17m-16 0h16m-15 0h17m-16 2h10m-11 4h17m-18 1h12m-12 0h17m-12 0h16m-16 0h8m-7 1h12m-19 1h13m-11 0h10m-8 0h7m-13 2h17m-9 0h7m-10 2h13m-19 3h16m-10 1h12m-15 2h13m-12 1h17m-14 0h14m-11 0h9m-12 1h10" stroke="#f0909a" stroke-width="1.35" fill="none"/>
<path d="M0 0m637 756h11m-9 0h9m452 0h6m-1019 1h2m37 0h9m378 0h3m121 0h10m50 0h2m221 1h12m-11 0h6m-388 1h4m95 0h8m-6 0h9m-365 1h2m351 1h10m275 0h6m-706 1h2m413 0h4m0 0h9m267 0h7m-3 0h12m153 0h7m-866 1h5m280 0h12m112 0h12m-12 0h8m49 0h3m342 0h2m-401 1h7m93 0h3m178 0h11m165 0h5m-243 1h4m-381 1h3m153 0h5m-5 0h9m-12 1h10m-4 0h6m125 0h5m-98 1h3m244 0h5m-293 1h12m-11 0h10m216 0h9m-772 1h3m446 0h3m82 0h12m271 1h10m-290 1h11m-268 1h2m-195 3h3m50 0h4m91 0h7m34 0h3m258 0h8m-4 0h4m9 0h6m263 0h5m-390 1h12m335 0h3m133 0h2m-871 1h5m478 0h12m177 0h12m85 0h7m151 0h3m-545 1h15m85 1h8m324 0h12m-346 1h11m-9 0h7m272 0h5m-1 0h6m-6 0h6m-5 0h4m-92 1h6m-203 1h6m-5 0h4m-4 0h12m270 0h12m-12 0h9m-7 0h7m-358 1h9m41 0h2m13 0h12m177 0h3m88 0h12m-301 1h3m-527 1h2m434 0h15m370 0h5m155 0h3m-547 1h13m153 0h3m211 0h9m-567 1h4m179 0h11m79 0h10m-9 0h12m-6 0h6m125 0h2m21 0h2m120 0h13m-704 1h3m312 0h8m89 0h5m377 0h12m-760 1h3m450 0h4m126 0h2m-202 1h4m259 0h6m-841 1h2m410 0h9m67 0h6m-178 1h9m135 0h13m21 0h12m110 0h3m216 0h11m-388 1h6m89 0h9m276 0h8m-648 1h3m39 0h5m209 0h12m211 0h3m154 0h12m-12 0h6m-380 1h11m-11 0h11m125 0h7m236 0h5m-4 0h4m-427 1h6m128 0h12m-10 0h11m54 0h2m210 0h13m-5 0h8m-852 1h3m501 0h5m-342 1h3m226 0h5m60 0h14m-11 0h12m235 0h3m310 0h7m-472 1h6m-544 1h5m326 0h2m206 0h8m-8 0h10m-7 0h5m273 0h9m-787 1h5m276 0h12m201 0h11m227 0h3m69 0h7m112 0h4m18 0h5m-958 1h5m456 0h12m29 0h7m60 0h3m215 0h11m-667 1h7m267 0h13m72 0h7m9 0h10m-11 1h7m-5 0h11m267 0h11m-11 0h11m-9 0h6m-6 0h7m-229 1h2m22 0h5m-184 1h12m88 0h6m-274 1h7m163 0h11m364 0h12m-389 1h5m91 0h9m272 0h5m-608 1h9m178 0h4m127 0h9m31 0h3m76 0h7m21 0h2m156 0h9m-762 1h2m358 0h6m67 0h2m15 0h5m61 0h3m216 0h7m-381 1h10m80 0h5m32 0h9m115 0h4m10 0h4m-652 1h7m465 0h13m88 0h9m397 0h2m-226 2h9m-9 0h11m-9 0h8m-795 1h5m496 0h10m232 0h5m41 0h7m90 1h9m-489 1h12m-8 0h6m-2 0h6m364 0h10m-7 0h6m-619 1h2m351 0h2m254 0h8m-6 1h4m-4 0h12m-682 1h12m375 0h10m245 0h4m25 0h5m-291 1h6m-1 0h5m-511 1h6m292 0h9m196 0h9m-7 0h10m271 0h10m-356 1h3m239 0h6m97 0h8m-762 1h9m86 0h5m211 0h3m66 0h8m83 0h10m-6 0h8m87 0h4m183 0h6m-659 1h4m203 0h5m-4 0h4m157 0h9m-7 1h8m252 0h2m51 0h2m-411 1h15m78 0h10m-3 0h5m272 0h10m191 0h6m-716 1h4m124 0h3m97 0h5m276 0h5m153 0h3m-873 1h4m326 0h15m-7 0h5m83 0h12m276 0h5m-290 1h6m322 0h7m201 0h6m-1033 1h9m105 0h2m95 0h4m558 0h7m220 0h9m-515 1h6m243 0h2m29 0h9m-382 1h5m84 0h8m-6 0h5m470 0h5m-203 1h10m-8 0h10m-774 1h6m85 0h2m258 0h3m413 0h9m-8 0h9m2 0h5m-342 1h2m27 0h7m4 0h10m-9 0h12m119 0h4m-132 1h6m275 0h10m-412 1h9m14 0h12m88 0h7m273 0h8m-757 1h7m789 0h4m67 0h7m-412 1h12m-9 0h6m272 0h3m2 0h5m-851 3h2m97 0h3m107 0h2m767 0h3m-925 1h9m452 0h7m322 0h5m-455 2h2m370 0h4m320 0h5m-971 1h6m-117 1h4m578 0h5m5 0h7m-354 1h7m577 0h10m-581 1h3m569 0h7m-737 1h2m723 0h13m40 1h9m-518 1h5m239 0h3m470 0h3m-1079 1h9m256 0h4m-27 1h3m-161 1h2m84 0h2m538 0h6m171 1h7m-131 1h5m50 0h13m-406 1h7m227 0h5m-78 1h4m84 0h7m138 0h9m-833 1h2m110 0h3m572 0h3m38 0h5m-346 1h12m561 0h3m97 1h3m-916 1h5m142 0h9m521 1h10m219 1h3m-523 1h12m406 0h7m-673 1h7m529 0h12m-648 1h4m205 0h7m141 3h9m93 0h12m171 1h4m-752 1h9m741 0h5m224 0h4m8 0h6m-411 1h2m381 0h3m-506 2h12m-101 2h6m378 0h5m-818 2h7m179 0h12m598 0h8m-7 0h7m-6 0h12m-11 0h7m-2 0h4m-179 1h2m166 0h8m-588 1h7m78 0h4m413 0h2m14 0h2m-451 1h2m207 0h4m170 0h6m123 0h9m71 1h12m-611 1h2m522 1h6m-845 2h2m235 1h6m-19 1h12m86 0h12m-120 1h9m861 0h9m-1066 1h4m10 0h9m134 0h7m67 0h7m206 0h7m357 0h11m-468 1h3m25 0h2m289 0h9m75 0h5m46 0h12m-824 1h2m399 0h12m389 1h4m10 0h5m-4 0h6m5 0h2m157 0h6m-472 1h12m-410 1h9m678 0h9m27 0h5m-278 1h12m-107 2h12m392 0h9m-431 1h6m-4 0h5m-498 1h2m843 0h9m-804 1h6m1023 0h3m-175 1h2m-722 1h6m130 0h4m285 0h2m134 0h12m295 0h4m38 0h4m-156 1h2m20 1h4m-638 1h5m-324 1h3m830 0h6m181 1h12m-199 1h4m-440 2h5m427 0h10m-776 1h2m334 0h3m394 2h4m28 0h9m-205 1h3m198 0h7m-7 0h5m150 2h5m-936 1h3m728 0h3m203 1h2m-849 1h4m36 0h12m24 0h12m594 0h10m-9 0h11m114 0h12m-705 1h2m566 0h10m-9 0h9m-8 0h7m143 0h5m96 1h7m-262 1h10m-468 1h5m-116 1h2m524 0h9m37 0h9m-6 0h8m-6 1h7m138 0h3m-151 1h5m84 0h3m-472 1h5m374 0h5m180 0h4m-272 2h6m78 0h7m18 0h2m-305 1h4m303 0h3m-617 1h9m555 0h9m-230 1h5m129 0h2m293 0h6m-530 1h9m190 0h3m134 2h9m-8 0h10m-39 1h5m23 0h8m-5 0h5m239 1h12m-305 1h2m70 2h2m-732 1h2m365 0h12m158 0h2m-368 1h6m360 0h12m-335 1h12m435 0h4m35 0h11m-4 0h7m-315 1h3m305 0h6m-746 1h2m39 0h12m9 0h2m217 0h5m233 0h3m-335 1h6m-131 1h3m211 0h4m90 0h7m83 0h2m276 0h7m-759 4h12m329 0h12m90 0h7m33 0h2m-98 1h3m406 0h2m-556 1h3m213 0h7m54 0h9m242 0h3m-844 1h9m1056 0h2m-809 1h3m269 3h9m317 1h3m-141 1h12m222 0h3m-238 1h3m297 0h5m-767 1h4m820 0h2m-158 1h4m130 0h5m-1044 1h2m477 1h2m576 0h5m-1074 2h12m557 0h4m124 0h6m109 0h2m-321 1h2m44 0h6m58 0h3m425 0h7m-17 2h9m-479 1h3m194 0h7m-665 2h2m164 0h9m-3 0h9m260 0h3m446 0h6m7 0h9m-641 1h4m447 0h2m12 0h5m81 0h9m-109 1h6m-519 1h2m228 0h12m-428 1h9m899 1h2m18 1h7m-1054 1h3m757 0h2m-60 1h12m-247 1h2m61 0h3m544 0h4m-896 2h2m764 0h6m-540 1h7m291 1h4m271 0h7m-751 3h5m290 0h6m510 0h3m-1043 1h3m536 0h4m-250 1h6m142 0h2m406 0h2m-155 2h2m52 0h2m-552 2h12m82 0h3m204 1h7m50 0h2m166 0h5m-650 1h2m70 0h3m315 0h3m481 0h2m91 0h3m-373 1h9m5 0h9m139 1h4m11 0h7m-836 2h2m95 0h6m-11 2h2m88 0h7m61 0h7m317 0h12m445 1h2m-353 1h9m-680 1h6m116 0h6m298 2h7m520 0h12m-793 1h9m13 0h2m278 0h2m326 0h3m-836 1h6m65 0h3m329 1h12m86 0h12m298 0h2m-146 1h3m269 0h9m-107 4h7m-50 1h11m-8 0h8m-7 0h10m-9 0h5m-13 1h12m-5 0h5m161 0h9m-965 1h7m57 0h2m350 0h2m194 0h4m-236 1h5m-183 1h5m514 0h4m-513 1h2m574 0h12m-11 0h6m172 0h2m-581 1h4m259 0h2m-485 2h2m616 0h12m124 0h3m-376 1h2m11 0h3m225 0h5m-4 0h7m-61 1h6m46 0h6m127 0h5m22 0h12m-379 1h5m201 0h7m-7 0h11m-333 2h5m313 1h12m-8 0h7m-689 1h12m673 0h7m157 0h4m-556 1h9m50 0h6m412 0h2m-872 1h7m288 1h9m475 0h9m115 0h2m-463 1h3m334 0h12m59 0h3m-294 1h3m-615 1h7m825 0h9m-9 0h8m-682 1h2m460 0h7m206 0h9m107 2h4m-121 2h9m233 0h5m-985 1h2m162 0h6m228 0h6m96 0h12m165 0h5m-559 1h2m65 2h2m541 0h12m-10 1h9m47 0h2m-57 1h10m123 0h12m-542 1h7m391 0h11m-9 0h7m-11 1h9m-8 0h8m-4 0h9m-12 1h13m-12 1h13m-707 1h7m302 0h7m375 0h10m-8 0h6m-6 0h4m-721 1h5m709 0h12m-345 1h3m334 0h4m-595 1h3m514 0h12m-31 1h4m89 0h7m62 0h3m80 0h4m14 0h5m67 0h6m-251 1h12m-10 0h12m178 0h5m-719 1h4m207 0h2m315 0h5m247 0h3m-955 2h12m36 0h2m180 0h2m464 0h11m-386 1h2m-311 1h2m679 0h10m-9 0h9m-6 0h5m-471 1h12m335 0h7m-436 1h3m544 0h9m-9 0h13m-428 2h9m405 0h11m-10 0h5m188 0h7m-1007 1h2m27 1h3m330 0h3m189 0h3m249 0h8m-6 0h8m-7 0h9m-815 1h12m248 0h12m533 0h7m104 0h2m-782 1h6m664 0h5m62 1h3m-68 1h6m-12 1h11m208 0h2m-567 2h2m343 2h9m19 0h2m-294 1h5m258 0h13m-9 0h7m-6 0h4m-200 1h6m-269 1h9m239 0h9m199 0h11m-677 1h9m-79 1h3m126 0h7m70 0h2m446 0h7m78 0h2m-325 1h6m319 0h5m-528 1h2m517 0h12m-843 1h7m825 0h5m-5 0h12m-687 1h5m670 0h8m127 0h5m-758 1h3m621 0h7m-766 1h4m351 0h9m598 0h4m-909 1h9m690 1h9m-755 2h3m743 0h4m-670 1h2m88 0h3m572 0h8m-676 1h12m364 0h7m283 0h5m-4 1h5m-465 1h3m460 0h5m-5 0h5m-110 1h3m100 0h7m-5 0h9m-16 1h7m82 0h12m-94 1h4m202 0h7m-519 1h5m293 0h12m-8 1h11m-123 2h4m105 0h10m-9 2h11m-11 0h13m-9 0h10m-9 0h8m2 0h9m-742 1h2m370 0h7m156 0h3m158 0h9m153 0h7m-96 1h5m-588 1h2m552 0h12m-546 2h6m509 0h7m149 0h3m42 0h9m-212 1h12m-10 0h6m76 0h3m-863 1h6m164 1h6m139 0h2m470 0h3m-790 1h2m738 0h2m142 0h2m43 1h5m-923 1h4m336 0h3m42 0h12m366 0h11m-10 1h11m-354 1h3m134 0h3m206 0h4m86 0h12m-103 1h7m-211 1h6m194 0h12m-558 1h3m548 3h11m-9 0h7m-585 2h3m196 0h7m-7 1h6m84 0h13m-11 0h9m-9 0h10m-9 0h10m-6 0h6m164 0h7m-271 1h6m77 0h9m284 0h7m61 0h12m-461 1h15m-11 0h6m85 0h7m-4 0h9m269 0h10m-217 1h3m207 0h12m-389 1h5m-2 0h6m86 0h6m-3 0h5m274 0h9m-642 1h12m243 1h13m-11 0h11m-7 0h6m610 0h4m-828 1h7m289 0h10m-8 0h9m-7 0h7m275 0h8m150 0h7m-549 1h14m558 0h3m-575 1h11m48 0h3m37 0h8m276 0h7m-7 0h8m-245 1h12m-9 0h5m224 0h11m-516 1h6m-295 1h4m419 0h6m282 0h9m137 0h7m59 0h2m-412 1h10m-8 0h12m-11 0h5m146 0h6m123 0h10m133 0h5m-870 1h4m36 0h6m397 0h9m-9 0h6m172 0h12m88 0h12m-10 0h10m-9 0h10m-385 1h3m90 0h13m-12 0h6m-4 0h5m274 0h9m-6 0h4m-468 1h12m67 0h11m-8 0h10m366 0h8m-6 0h13m-10 0h4m-288 1h4m-4 0h6m273 1h4m-597 1h5m33 0h6m154 0h7m11 0h14m83 0h4m-4 0h13m353 0h5m-480 1h2m14 0h8m85 0h9m-8 0h10m-6 0h4m277 0h5m221 0h4m-610 1h10m368 0h5m-700 1h5m308 0h8m96 0h5m74 0h6m191 0h12m-11 0h4m-3 0h6m-6 0h7m69 1h5m-459 1h11m-10 0h10m252 0h9m133 0h7m34 0h7m-450 1h7m364 0h10m-9 0h12m-563 1h2m267 0h12m-105 1h9m87 0h6m-5 0h9m271 0h6m-4 0h7m-458 1h6m160 0h10m-10 0h8m26 0h6m173 0h4m63 0h11m-384 1h10m86 0h6m274 0h11m15 0h2m-315 1h11m-9 0h13m-11 0h8m-7 0h5m-547 1h2m302 0h2m140 0h7m87 0h8m-3 0h5m218 0h6m19 0h6m23 0h12m-8 0h5m-598 1h5m206 0h7m87 0h11m-6 0h7m45 0h5m222 0h6m-625 1h6m138 0h3m194 0h5m271 0h12m-10 0h11m-8 0h9m-293 1h11m271 0h10m-386 1h7m84 0h10m-7 0h9m267 0h10m-838 1h6m226 0h2m221 0h6m-5 0h10m85 0h7m276 0h7m-290 1h7m95 0h3m178 0h5m133 0h2m-512 1h12m75 0h8m-6 0h11m270 0h12m-8 0h6m-833 1h3m153 0h7m105 0h2m275 0h9m276 0h5m-538 1h2m1 0h6m44 0h9m468 0h11m-10 0h8m222 0h6m-525 1h12m-4 0h6m270 0h11m-383 1h8m367 0h4m-2 0h4m172 0h2m-931 1h2m308 0h5m57 0h10m85 0h11m-8 0h5m101 0h9m170 0h6m85 0h12m84 0h2m-479 1h8m274 0h11m55 0h3m-350 1h10m-8 0h11m-9 0h8m-6 0h10m-108 1h10m81 0h8m-2 0h6m462 0h5m-513 1h9m388 0h2m-456 1h11m82 0h10m-9 1h11m190 0h5m72 0h10m-9 0h7m-379 1h10m81 0h7m-4 0h6m269 0h11m-8 0h2m1 0h8m-6 1h5m-4 0h9m43 0h2m35 0h9m-735 1h2m349 0h11m269 0h10m-4 0h6m-1 0h9m87 0h7m91 0h12m-495 1h8m302 0h12m-323 1h11m149 0h3m117 0h11m-6 0h6m-6 0h7m-388 1h10m364 0h11m-6 0h10m169 0h2m-727 1h2m262 0h11m268 0h13m-10 0h7m-4 0h7m-294 1h5m7 0h6m99 0h3m53 0h7m102 0h10m-385 1h12m361 0h11m157 0h2m-977 1h3m117 0h9m302 0h12m85 0h8m-8 0h13m492 0h9m-614 1h13m-8 0h11m80 0h10m279 0h6m143 0h6m-790 1h9m621 0h5m-2 0h6m-708 1h12m594 0h4m-605 1h2m215 0h7m91 0h15m-11 0h15m78 0h10m-8 0h10m-10 0h8m-7 0h8m-8 0h9m-7 0h7m201 0h7m-312 1h9m84 0h13m400 0h6m-512 1h13m-12 0h6m-4 0h6m84 0h12m-11 0h7m33 0h3m-142 1h15m151 0h3m-212 1h2m138 0h8m-6 0h11m272 0h5m-4 0h8m-8 0h5m-384 1h12m85 0h7m382 0h12m-500 1h15m82 0h11m-10 0h10m-9 0h8m-6 0h8m-466 1h12m440 0h10m-6 0h12m-11 0h9m268 0h8m-4 0h12m-841 1h5m304 0h9m132 0h15m79 0h8m274 0h10m-292 1h9m-4 0h6m-6 0h5m-4 0h4m272 0h9m-5 0h9m-385 1h6m88 0h5m271 0h13m-415 1h2m25 0h14m-10 0h11m194 0h2m170 0h4m217 0h2m-912 1h3m286 0h2m110 0h12m-6 0h5m173 0h2m102 0h7m-679 2h4m288 0h14m-13 0h10m80 0h12m-9 0h8m280 0h7m-297 1h13m-13 0h12m-11 0h8m-8 0h12m272 0h9m-9 0h9m-5 0h5m11 0h2m-306 1h11m-9 0h7m-6 0h10m170 0h2m-182 1h8m262 0h5m8 0h9m12 0h5m-30 1h6m-4 0h13m-12 0h10m-729 1h12m321 0h13m92 0h5m177 0h6m90 1h12m-9 1h9m-9 0h10m138 0h2m-601 1h9m59 0h11m86 0h12m274 0h8m17 0h4m-580 1h5m87 0h6m74 0h10m72 0h3m10 0h8m-8 1h10m-8 0h7m107 0h7m388 0h2m-826 1h5m213 0h15m-13 0h7m-5 0h7m87 0h6m275 0h9m156 0h4m-764 1h4m309 0h6m274 1h8m-7 0h9m-7 0h8m-9 1h4m-2 0h12m149 0h5m-451 1h12m196 1h6m67 0h12m133 0h7m-819 1h2m46 0h5m3 0h12m456 0h7m68 0h5m63 0h11m-8 0h7m66 0h9m-368 1h12m-10 0h9m-8 0h5m274 0h11m-11 0h10m59 0h9m-7 0h3m-71 1h5m-5 0h9m-8 0h7m-5 0h5m-291 1h7m-6 0h9m274 0h9m-168 1h5m154 0h6m-2 0h6m-335 1h3m89 0h7m202 0h9m12 0h8m-6 0h10m-6 0h7m-389 1h11m84 0h11m272 3h12m-10 0h5m-733 1h3m88 0h12m340 0h8m-7 0h5m278 0h9m-9 0h11m-557 1h9m251 0h11m-103 1h10m2 0h2m277 0h9m-305 1h15m58 0h2m39 0h6m262 0h11m-789 1h5m488 0h5m-4 0h10m10 0h4m255 0h11m-9 0h9m-5 0h5m-801 1h3m115 0h2m150 0h9m142 0h6m36 0h4m48 0h5m277 0h9m-560 1h5m164 0h13m124 0h7m237 0h8m-7 0h8m-457 1h2m68 0h7m370 0h8m-8 0h5m-4 0h5m104 0h4m138 0h4m-942 1h7m396 0h8m124 0h12m136 0h12m-6 0h5m146 0h7m-655 1h3m210 0h7m273 0h11m117 0h9m-628 1h2m113 0h9m26 0h7m332 0h10m-9 0h9m-7 0h8m-387 1h10m-4 0h6m59 0h2m306 0h10m-9 0h7m-6 0h7m190 0h3m-485 1h8m93 0h6m174 0h11m-7 0h7m-610 1h2m316 0h10m-6 0h4m275 0h8m-382 1h7m-6 0h7m83 0h9m-9 0h9m274 0h11m89 0h3m-387 2h8m273 0h11m-10 0h6m-632 1h3m341 0h8m-6 0h13m-13 0h8m-401 1h12m377 0h12m-11 0h12m172 0h7m90 0h8m-288 1h10m257 0h6m7 0h11m-6 0h9m-623 1h7m202 0h9m4 0h3m12 0h11m360 0h12m-9 0h11m-347 1h3m561 0h3m-604 1h6m368 0h7m-6 0h7m-754 1h7m454 0h12m-4 0h4m273 0h9m-6 0h6m126 0h3m-138 1h10m-8 0h4m-380 1h10m55 0h2m30 0h6m270 0h10m-10 0h9m-673 1h3m279 0h2m380 0h13m-13 0h12m-10 0h10m-430 1h9m411 0h11m-292 1h7m273 0h5m-474 1h9m176 0h7m275 0h11m-7 0h7m-385 1h8m47 0h3m32 0h6m-1 1h9m269 0h11m-8 0h6m-287 1h10m114 0h6m151 0h11m-10 0h7m-4 0h5m59 0h3m-453 1h14m-4 0h8m579 0h6m-605 1h7m-4 0h14m-9 0h10m82 0h12m222 0h3m65 0h4m110 0h6m-399 1h2m105 0h5m147 0h11m-11 0h9m-762 1h2m252 0h3m69 0h2m-231 1h6m288 0h4m76 0h12m-5 0h8m-18 1h13m277 0h5m-377 1h6m80 0h10m269 0h12m-762 1h5m373 0h11m82 0h12m272 0h6m-4 0h12m170 0h3m-469 1h13m-490 1h2m205 0h4m139 0h6m25 0h9m370 0h4m-7 1h5m-3 0h9m-9 0h5m-3 0h5m-387 1h16m-15 0h11m83 0h11m273 0h11m-384 1h6m368 0h5m-4 0h9m211 0h2m-942 1h2m717 0h9m-3 0h7m-390 1h5m27 0h4m57 0h8m275 0h6m-6 0h11m-645 1h3m571 0h9m51 0h4m-384 1h9m91 0h5m498 0h2m-707 1h9m193 0h5m272 0h8m-5 0h9m-9 0h11m-11 0h8m-7 0h12m182 0h3m-480 1h5m244 0h5m30 0h7m-6 0h4m67 0h6m-362 1h9m-8 0h6m270 0h10m-4 0h7m-628 1h3m187 0h3m145 0h7m-103 1h10m366 0h11m-8 0h7m-6 0h6m2 0h7m-569 1h5m265 0h10m-102 1h8m83 0h6m275 0h12m-11 0h6m-6 0h13m45 0h2m-439 1h14m85 0h7m10 0h12m253 0h10m-9 0h7m-602 1h2m309 0h4m-3 0h7m202 0h3m68 0h12m-10 0h7m-383 1h9m371 0h5m-621 1h12m317 0h8m-4 0h5m-118 1h12m93 0h10m-8 0h10m-5 0h6m33 0h3m-45 1h8m379 0h6m143 1h6m-544 1h8m-8 0h13m3 0h3m166 0h3m99 0h5m-677 1h6m385 0h9m265 0h12m-11 0h12m-10 0h9m-464 1h2m77 0h7m-455 2h6m441 0h11m90 0h6m269 0h11m-9 0h12m-294 1h10m129 0h4m139 0h11m-386 1h5m83 0h6m281 0h10m-9 0h10m-298 1h13m273 0h6m-1 0h6m-811 1h3m519 0h6m271 0h11m-9 0h10m-7 0h4m-2 0h6m-732 1h5m391 0h2m326 0h6m212 0h9m-798 1h2m189 0h12m82 0h6m-5 0h8m114 0h3m158 0h12m-12 0h6m145 0h6m-538 1h12m89 0h5m276 0h9m-290 1h9m143 0h7m106 0h3m8 0h8m-385 1h15m85 0h10m-106 1h5m369 0h9m-666 1h6m90 0h2m215 0h5m56 0h10m-7 0h7m159 0h5m111 0h7m-3 0h6m-389 1h14m363 0h12m-10 0h11m-638 1h2m344 0h5m-5 0h6m427 0h4m-758 1h3m220 0h10m-1 0h5m81 0h12m271 0h13m-12 0h8m-477 1h3m115 0h9m341 0h10m-10 0h6m-1 0h8m-754 1h2m361 0h15m-12 0h7m-6 0h6m366 0h10m-8 0h7m83 0h2m70 0h4m-449 1h11m277 0h7m60 0h2m-812 1h7m355 0h5m-2 0h7m83 0h11m269 0h13m-9 0h11m-10 0h13m-642 1h12m301 0h4m29 0h6m-315 1h5m484 0h3m103 0h7m-639 1h5m73 0h2m268 0h8m196 0h2m76 0h4m94 0h5m-382 1h5m271 0h10m116 0h3m-319 1h4m186 0h10m-9 0h9m-556 1h3m162 0h12m87 0h9m-6 0h9m270 0h8m-5 0h5m-381 1h11m76 0h12m-5 0h6m-528 1h6m793 0h10m-8 0h7m-5 0h4m-2 0h5m-5 0h6m-292 1h11m471 0h2m52 0h3m-1031 1h3m241 0h2m245 0h12m-9 0h10m269 0h2m1 0h11m-387 1h10m84 0h8m-5 0h4m122 0h5m-147 1h6m4 0h7m-7 0h7m-6 0h8m-2 0h6m311 0h12m-671 1h2m331 0h12m-10 0h12m270 0h10m-6 0h5m-292 1h11m276 0h7m-368 1h2m7 0h9m61 0h8m-6 0h5m270 0h10m-10 0h12m-8 0h10m-9 0h10m-10 0h5m-289 1h5m279 0h6m-334 1h2m312 0h2m-715 1h2m341 0h10m81 0h7m1 0h11m-9 0h11m267 0h10m-5 0h4m-842 1h9m393 0h12m48 0h9m99 0h3m-2 0h6m258 0h8m-3 0h5m168 0h6m-467 1h9m-218 1h2m82 0h6m119 0h12m-8 0h9m270 0h7m-5 0h11m-11 0h13m-296 1h8m-8 0h8m276 0h8m-388 1h13m-16 1h14m-13 0h15m83 0h11m-8 0h9m273 0h12m-298 1h12m113 0h7m86 0h12m54 0h6m-622 1h5m328 0h4m89 0h6m24 0h7m152 0h12m84 0h4m-940 1h3m19 0h9m245 0h5m186 0h7m86 0h6m-5 0h11m-11 1h4m-3 0h7m272 0h11m-839 1h6m822 0h6m-1 0h5m-628 1h2m307 0h3m25 0h6m276 0h9m140 0h3m-950 1h2m411 0h8m90 0h11m-3 0h4m274 0h9m-634 1h9m241 0h12m217 0h9m-149 1h9m-8 0h12m230 0h3m37 0h8m-7 0h8m134 0h2m23 0h2m-661 1h2m139 0h5m461 0h12m-128 3h8m-5 0h11m-10 0h9m-594 1h2m87 0h9m48 0h12m427 0h5m-3 0h6m-10 1h11m-9 0h4m117 0h5m-127 1h9m-103 1h3m-167 1h5m-5 0h9m247 0h12m-34 1h9m-830 1h12m41 0h9m550 0h2m230 0h11m-11 1h5m-2 0h7m-761 1h2m588 0h6m154 0h11m-7 0h4m39 0h3m-568 1h6m19 0h9m194 0h6m66 0h2m101 0h3m106 0h9m-2 1h8m-205 1h2m126 1h2m69 0h11m-67 1h9m44 0h5m-5 0h12m-12 0h13m12 0h5m185 0h6m-221 1h13m-9 0h5m-8 1h9m-7 0h7m-438 1h5m390 0h6m27 0h13m-10 0h8m24 1h3m-37 1h6m-593 1h5m132 0h7m209 0h5m-269 1h5m184 0h5m306 0h5m-292 1h3m280 0h11m-9 0h11m18 0h9m-37 1h6m-10 1h13m-185 1h12m21 0h12m132 0h7m39 0h4m33 0h12m-587 1h2m546 0h5m-696 1h3m163 0h3m93 0h12m356 0h12m-211 1h2m199 0h9m-8 0h8m-8 0h4m147 0h7m-785 1h6m-4 0h12m-2 0h2m476 0h6m3 0h9m119 0h11m-10 0h5m-5 0h13m-11 0h6m-6 0h12m116 0h3m-546 2h12m123 0h4m113 0h2m155 0h8m50 0h12m33 0h12m-468 2h4m353 0h12m-13 1h10m-420 1h12m313 0h3m-516 1h4m595 0h11m-194 1h9m305 0h7m-288 1h2m145 0h11m89 0h2m-463 1h12m348 0h10m-7 0h11m-266 1h3m239 0h4m5 0h3m-2 0h13m-545 1h2m419 0h3m224 1h3m-642 2h6m545 0h9m-826 1h7m546 0h5m46 0h3m185 0h5m0 0h8m20 0h3m-173 1h9m128 0h6m-77 1h7m30 0h6m-240 1h3m298 0h7m-865 1h7m555 0h3m204 0h9m46 0h6m-510 1h7m-246 1h5m191 0h2m324 0h7m233 0h2m-390 1h4m254 0h3m-710 1h2m673 0h7m355 0h3m-912 1h6m317 0h12m203 0h4m183 0h12m-414 1h9m357 1h12m-12 0h11m-6 0h8m-137 2h12m113 0h12m-555 1h3m292 0h6m76 0h5m161 0h10m-9 0h10m-9 0h4m-638 1h9m204 0h2m420 0h5m81 0h12m-104 1h4m-1 0h11m61 0h2m-753 1h7m385 0h2m288 0h7m-7 0h5m100 0h4m4 0h9m-159 1h2m34 0h11m-406 1h7" stroke="#7070ee" stroke-width="1.4" fill="none"/>
<path d="M185.4,754.2V1425.7M267.7,754.2V1425.7M329.2,754.2V1425.7M372.4,754.2V1425.7M424.1,754.2V1425.7M483.6,754.2V1425.7M540.6,754.2V1425.7M579.8,754.2V1425.7M623.6,754.2V1425.7M666.3,754.2V1425.7M732.2,754.2V1425.7M790.6,754.2V1425.7M813.2,754.2V1425.7M861.1,754.2V1425.7M895.5,754.2V1425.7M943.8,754.2V1425.7M1009.7,754.2V1425.7M1026.5,754.2V1425.7M1105.4,754.2V1425.7M1136.9,754.2V1425.7M1151.6,754.2V1425.7" stroke="#4b8bb5" stroke-width="1.1" fill="none"/>
<path d="M73.3,774.2H1180.5M73.3,842.6H1180.5M73.3,954.2H1180.5M73.3,1019.2H1180.5M73.3,1132H1180.5M73.3,1235.9H1180.5M73.3,1359.3H1180.5" stroke="#000" stroke-width="1.4" fill="none"/>
<rect x="73.3" y="754.2" width="1107.2" height="671.5" fill="none" stroke="#000" stroke-width="1.3"/>
<path d="M1186.4,763.4H1230.9V876.3M1186.4,808.3H1219.1V943.4M1186.4,898.9H1204.4V986.7H1186.4M1204.4,943.4H1219.1M1219.1,876.3H1230.9M1230.9,804H1266.5V1170H1241M1186.4,1076H1241V1269M1186.4,1183.8H1222.5V1345M1186.4,1298H1197.7V1392.9H1186.4M1197.7,1345H1222.5M1222.5,1269H1241" stroke="#666" stroke-width="1.6" fill="none"/>
</g>
<g id="panel_d">
<rect x="47.7" y="1489.6" width="1165.7" height="144.6" fill="#F9FCDF" stroke="#c9c9c4" stroke-width="1.2"/>
<text class="mono" x="69.3" y="1523.2" font-size="24" fill="#222">Chr 10</text>
<path id="chrom" d="M65,1596.5H384C393.5,1596.5 400.7,1601.5 400.7,1608.0C400.7,1614.5 393.5,1619.5 384,1619.5H65ZM418,1596.5H1196.1V1619.5H418C408.5,1619.5 401.3,1614.5 401.3,1608.0C401.3,1601.5 408.5,1596.5 418,1596.5Z" fill="#fff"/>
<rect x="89.5" y="1596.5" width="6.4" height="23.0" fill="#ccc"/>
<rect x="120.7" y="1596.5" width="46" height="23.0" fill="#838383"/>
<rect x="210.7" y="1596.5" width="41.5" height="23.0" fill="#838383"/>
<rect x="271" y="1596.5" width="41.4" height="23.0" fill="#bdbdbd"/>
<rect x="327.5" y="1596.5" width="25.2" height="23.0" fill="#c4c4c4"/>
<rect x="449.9" y="1596.5" width="25.6" height="23.0" fill="#c4c4c4"/>
<rect x="496.9" y="1596.5" width="68.6" height="23.0" fill="#000"/>
<rect x="594.8" y="1596.5" width="50.1" height="23.0" fill="#000"/>
<rect x="682.1" y="1596.5" width="23.8" height="23.0" fill="#bdbdbd"/>
<rect x="743.5" y="1596.5" width="48.6" height="23.0" fill="#000"/>
<rect x="809.4" y="1596.5" width="24.1" height="23.0" fill="#7c7c7c"/>
<rect x="844" y="1596.5" width="24.9" height="23.0" fill="#c4c4c4"/>
<rect x="889.6" y="1596.5" width="20" height="23.0" fill="#c4c4c4"/>
<rect x="920.1" y="1596.5" width="15.4" height="23.0" fill="#ccc"/>
<rect x="944.2" y="1596.5" width="50.8" height="23.0" fill="#000"/>
<rect x="1019.9" y="1596.5" width="35" height="23.0" fill="#7c7c7c"/>
<rect x="1077.9" y="1596.5" width="12.4" height="23.0" fill="#c8c8c8"/>
<rect x="1126.5" y="1596.5" width="25.2" height="23.0" fill="#c4c4c4"/>
<path d="M217.7,1596.5V1619.5" stroke="#d8d8d8" stroke-width="1"/>
<path d="M65,1596.5H384C393.5,1596.5 400.7,1601.5 400.7,1608.0C400.7,1614.5 393.5,1619.5 384,1619.5H65ZM418,1596.5H1196.1V1619.5H418C408.5,1619.5 401.3,1614.5 401.3,1608.0C401.3,1601.5 408.5,1596.5 418,1596.5Z" fill="none" stroke="#222" stroke-width="1.3"/>
<g class="mono" font-size="15.2" fill="#2a3a3a">
<text transform="translate(80.3,1591.3) rotate(-90)">p15.3</text>
<text transform="translate(111.6,1591.3) rotate(-90)">p15.1</text>
<text transform="translate(146.2,1591.3) rotate(-90)">p14</text>
<text transform="translate(191.8,1591.3) rotate(-90)">p13</text>
<text transform="translate(239.6,1591.3) rotate(-90)">p12.31</text>
<text transform="translate(264.8,1591.3) rotate(-90)">p12.2</text>
<text transform="translate(295,1591.3) rotate(-90)">p12.1</text>
<text transform="translate(343.9,1591.3) rotate(-90)">p11.22</text>
<text transform="translate(373.3,1591.3) rotate(-90)">p11.21</text>
<text transform="translate(435.4,1591.3) rotate(-90)">q11.21</text>
<text transform="translate(465.6,1591.3) rotate(-90)">q11.22</text>
<text transform="translate(488.1,1591.3) rotate(-90)">q11.23</text>
<text transform="translate(534.4,1591.3) rotate(-90)">q21.1</text>
<text transform="translate(584.2,1591.3) rotate(-90)">q21.2</text>
<text transform="translate(623.7,1591.3) rotate(-90)">q21.3</text>
<text transform="translate(665.8,1591.3) rotate(-90)">q22.1</text>
<text transform="translate(695.9,1591.3) rotate(-90)">q22.2</text>
<text transform="translate(727.2,1591.3) rotate(-90)">q22.3</text>
<text transform="translate(771.3,1591.3) rotate(-90)">q23.1</text>
<text transform="translate(822.8,1591.3) rotate(-90)">q23.31</text>
<text transform="translate(859.7,1591.3) rotate(-90)">q23.33</text>
<text transform="translate(883.1,1591.3) rotate(-90)">q24.1</text>
<text transform="translate(902.3,1591.3) rotate(-90)">q24.2</text>
<text transform="translate(972.7,1591.3) rotate(-90)">q25.1</text>
<text transform="translate(1010.4,1591.3) rotate(-90)">q25.2</text>
<text transform="translate(1040.5,1591.3) rotate(-90)">q25.3</text>
<text transform="translate(1069.9,1591.3) rotate(-90)">q26.11</text>
<text transform="translate(1111.3,1591.3) rotate(-90)">q26.13</text>
<text transform="translate(1142.2,1591.3) rotate(-90)">q26.2</text>
<text transform="translate(1176.1,1591.3) rotate(-90)">q26.3</text>
</g>
<path d="M737.9,1592.5V1623.5M807.1,1592.5V1623.5" stroke="#e8262a" stroke-width="3"/>
<text x="639.6" y="1655.8" font-size="30.8" font-style="italic">SFTPA2</text>
<text x="793.2" y="1655.8" font-size="30.8" font-style="italic">PTEN</text>
<text x="1255.3" y="1512.8" font-size="19.6">Tissue site</text>
<rect x="1257.2" y="1521.6" width="23.2" height="23.4" fill="#E64B3C"/>
<text x="1284.8" y="1539.2" font-size="19.6">Bone</text>
<rect x="1257.2" y="1546.7" width="23.2" height="23.4" fill="#6FCADB"/>
<text x="1284.8" y="1564.3" font-size="19.6">LN</text>
<rect x="1257.2" y="1571.8" width="23.2" height="23.4" fill="#4CAF8C"/>
<text x="1284.8" y="1589.4" font-size="19.6">Other Soft tissue</text>
<rect x="1257.2" y="1596.9" width="23.2" height="23.4" fill="#435B93"/>
<text x="1284.8" y="1614.5" font-size="19.6">Liver</text>
<rect x="1257.2" y="1622" width="23.2" height="23.4" fill="#EE9B88"/>
<text x="1284.8" y="1639.6" font-size="19.6">Adrenal</text>
<rect x="1257.2" y="1647.1" width="23.2" height="23.4" fill="#8794BB"/>
<text x="1284.8" y="1664.7" font-size="19.6">Prostate</text>
<text x="1433" y="1512.8" font-size="19.6">Gleason score</text>
<rect x="1446.8" y="1526.6" width="23.2" height="23.4" fill="#F9E3D9"/>
<text x="1471.9" y="1544.2" font-size="19.6">6</text>
<rect x="1446.8" y="1551.7" width="23.2" height="23.4" fill="#F1A98F"/>
<text x="1471.9" y="1569.3" font-size="19.6">7</text>
<rect x="1446.8" y="1576.8" width="23.2" height="23.4" fill="#F1654B"/>
<text x="1471.9" y="1594.4" font-size="19.6">8</text>
<rect x="1446.8" y="1601.9" width="23.2" height="23.4" fill="#E03228"/>
<text x="1471.9" y="1619.5" font-size="19.6">9</text>
<rect x="1446.8" y="1627" width="23.2" height="23.4" fill="#A81C1C"/>
<text x="1471.9" y="1644.6" font-size="19.6">10</text>
<text x="1583" y="1513.2" font-size="19.6">Pathology classification</text>
<rect x="1584.3" y="1526.6" width="23.2" height="23.4" fill="#95E0CC"/>
<text x="1613.8" y="1544.2" font-size="19.6">Inadequate for diagnosis</text>
<rect x="1584.3" y="1551.7" width="23.2" height="23.4" fill="#F3FDB4"/>
<text x="1613.8" y="1569.3" font-size="19.6">Adenocarcinoma</text>
<rect x="1584.3" y="1576.8" width="23.2" height="23.4" fill="#C0BBDE"/>
<text x="1613.8" y="1594.4" font-size="19.6">Not available</text>
<rect x="1584.3" y="1601.9" width="23.2" height="23.4" fill="#EF7A72"/>
<text x="1613.8" y="1619.5" font-size="19.6">Adenocarcinoma with NE features</text>
<rect x="1584.3" y="1627" width="23.2" height="23.4" fill="#82B2D2"/>
<text x="1613.8" y="1644.6" font-size="19.6">Small cell</text>
</g>
<g id="panel_e">
<rect x="160.7" y="1685.1" width="233.1" height="342.2" fill="#fff" stroke="#7a7a7a" stroke-width="1"/>
<path d="M204.1,1772.2V1794.9M204.1,1866.4V1972.2" stroke="#111" stroke-width="1.4"/>
<rect x="176.7" y="1794.9" width="54.9" height="71.5" fill="#F9E3D9" stroke="#111" stroke-width="1.4"/>
<path d="M176.7,1817.6H231.6" stroke="#111" stroke-width="2.7"/>
<path d="M277.1,1755.6V1789.6M277.1,1877.8V2005.1" stroke="#111" stroke-width="1.4"/>
<rect x="249.6" y="1789.6" width="55.1" height="88.2" fill="#F1A98F" stroke="#111" stroke-width="1.4"/>
<path d="M249.6,1834.4H304.7" stroke="#111" stroke-width="2.7"/>
<path d="M350.1,1776.7V1829.6M350.1,1927.6V2011.8" stroke="#111" stroke-width="1.4"/>
<rect x="322.4" y="1829.6" width="55.4" height="98" fill="#F1654B" stroke="#111" stroke-width="1.4"/>
<path d="M322.4,1879.1H377.8" stroke="#111" stroke-width="2.7"/>
<path d="M209.2,1779.5h0M208.5,1816.3h0M200,1862.6h0M207.4,1964.5h0M205.3,1793.6h0M206.2,1800.5h0M199.8,1845.6h0M210.6,1886.6h0M209.2,1792.8h0M207.1,1798.1h0M199.7,1823.8h0M202.2,1880.3h0M203.1,1775.9h0M206.1,1816.7h0M202.1,1850.7h0M211.2,1931.8h0M204,1790.2h0M201.4,1798.7h0M203.3,1820.8h0M207.8,1866.5h0M209.5,1789.9h0M203.4,1805.8h0M208.1,1841.1h0M199.9,1968.8h0M199.9,1776.7h0M204,1812.8h0M199.8,1845.8h0M211.1,1877.9h0M210.8,1779.1h0M203.8,1816.3h0M203.3,1772.2h0M204.3,1972.2h0M282.1,1787.7h0M283.7,1825.3h0M284.9,1836h0M280.2,1909.2h0M284.6,1781.2h0M276,1814h0M274.1,1848.1h0M281.3,1888.5h0M272.3,1786.4h0M279.1,1833.8h0M275,1852h0M278,1977.1h0M284.5,1788.8h0M278.6,1791.1h0M273.5,1870.8h0M280.5,1996.9h0M277.7,1787.7h0M283.5,1796.3h0M278,1847.2h0M285.3,1981.2h0M281.9,1776.2h0M275.7,1811.1h0M273.7,1851.9h0M285.1,2003.2h0M276.4,1775.8h0M275.5,1793.6h0M283.8,1868.3h0M282.5,1970.9h0M282.3,1769.6h0M281.5,1805.9h0M278.4,1846.6h0M275.8,1956.5h0M279.8,1770.2h0M279.3,1790.1h0M281.1,1845.3h0M280.7,1975.6h0M280.7,1781h0M283.2,1822.7h0M283.5,1849.6h0M285.3,1956.1h0M279.1,1775.1h0M283.4,1797h0M278.3,1875.1h0M281.9,1960.8h0M279.8,1765h0M277.5,1819.4h0M282.5,1861.5h0M272,1960.9h0M280.8,1777.9h0M281.3,1799.4h0M272.2,1861.8h0M272.4,1896.2h0M274.2,1782h0M272.1,1798.3h0M277,1854.6h0M275,1941.9h0M277.3,1789.6h0M277.4,1802.1h0M283.3,1839.4h0M280.2,1879.5h0M276.4,1774.1h0M285.1,1815.6h0M277.5,1869.9h0M276.8,1949.4h0M279.5,1772.3h0M285.2,1832.5h0M277.8,1755.6h0M276.3,2005.1h0M346.1,1829.6h0M353.2,1857.6h0M353.4,1885.9h0M350.6,1951.2h0M358.2,1818.9h0M358.1,1848.4h0M352.9,1923.4h0M351.5,2009.7h0M358.4,1817.6h0M348.6,1853.9h0M346.3,1902.2h0M348.7,1956.9h0M344.8,1788.3h0M348.4,1856h0M355.5,1924.5h0M346.8,1942.8h0M353.1,1818.9h0M353.6,1853.1h0M355,1908.4h0M348.8,1986.6h0M348.8,1816.8h0M351.1,1855.8h0M355,1896.6h0M348.1,1928.7h0M357,1782.4h0M344.8,1856.6h0M350.6,1916.9h0M353.5,1981.4h0M350,1782.7h0M356.5,1849h0M348.8,1888.6h0M356.3,1930.1h0M348.6,1811.8h0M357.3,1868.2h0M351.3,1886h0M349.2,1961.6h0M356,1803.2h0M347.8,1833h0M355.7,1918.9h0M354.7,1928.3h0M353,1776.7h0M353.1,2011.8h0" stroke="#000" stroke-width="3.7" stroke-linecap="round" fill="none"/>
<path d="M160.7,1685.1V2027.3H393.8M160.7,1738.4h-3.2M160.7,1835.3h-3.2M160.7,1931.1h-3.2M204,2027.3v3.2M277.1,2027.3v3.2M350,2027.3v3.2" stroke="#222" stroke-width="1.3" fill="none"/>
<text x="155.7" y="1746.8" font-size="23.6" text-anchor="end">0.6</text>
<text x="155.7" y="1843.7" font-size="23.6" text-anchor="end">0.4</text>
<text x="155.7" y="1939.5" font-size="23.6" text-anchor="end">0.2</text>
<text x="204" y="2055.6" font-size="24.5" text-anchor="middle">6</text>
<text x="277.1" y="2055.6" font-size="24.5" text-anchor="middle">7</text>
<text x="350" y="2055.6" font-size="24.5" text-anchor="middle">≥8</text>
<path d="M204,1714.4V1706.2H350V1714.4" stroke="#222" stroke-width="1.1" fill="none"/>
<text x="280.4" y="1701.1" font-size="19.8" text-anchor="middle">p=0.006</text>
<path d="M277.1,1738.4V1730.4H350V1738.4" stroke="#222" stroke-width="1.1" fill="none"/>
<text x="310.4" y="1725.6" font-size="19.8" text-anchor="middle">p=0.003</text>
<text transform="translate(107.8,1843.1) rotate(-90)" text-anchor="middle" font-size="26.7">Type2 signature</text>
<text x="277.1" y="2086.7" font-size="29.3" text-anchor="middle">Gleason</text>
<circle cx="198.9" cy="2008.7" r="1.8"/>
<rect x="505.1" y="1685.1" width="225.3" height="342.2" fill="#fff" stroke="#7a7a7a" stroke-width="1"/>
<path d="M547.4,1763.8V1806.7M547.4,1888.4V1968.9" stroke="#111" stroke-width="1.4"/>
<rect x="520.7" y="1806.7" width="53.3" height="81.7" fill="#F9E3D9" stroke="#111" stroke-width="1.4"/>
<path d="M520.7,1850.2H574" stroke="#111" stroke-width="2.7"/>
<path d="M618,1728.9V1794.4M618,1868.4V1949.6" stroke="#111" stroke-width="1.4"/>
<rect x="591.3" y="1794.4" width="53.4" height="74" fill="#F1A98F" stroke="#111" stroke-width="1.4"/>
<path d="M591.3,1828.7H644.7" stroke="#111" stroke-width="2.7"/>
<path d="M688.2,1716.2V1815.6M688.2,1917.3V2011.8" stroke="#111" stroke-width="1.4"/>
<rect x="661.6" y="1815.6" width="53.3" height="101.7" fill="#F1654B" stroke="#111" stroke-width="1.4"/>
<path d="M661.6,1887.1H714.9" stroke="#111" stroke-width="2.7"/>
<path d="M553,1805.9h0M550.6,1816.2h0M551.4,1886.6h0M553.9,1904.7h0M547.8,1784.1h0M550.3,1813.7h0M544.1,1851.9h0M543.5,1891h0M553.4,1777.6h0M548,1812.5h0M550.1,1862.2h0M547.3,1962.5h0M544.7,1779.9h0M548.9,1834.2h0M549.5,1885h0M549.5,1902.6h0M549.1,1777.2h0M545.7,1812.5h0M551.7,1864.4h0M550.7,1940.3h0M543.9,1781.3h0M550,1812.1h0M553.4,1859.3h0M552.4,1906.9h0M543.5,1778.5h0M554.3,1813.3h0M545.5,1876.2h0M550.8,1966.1h0M550.3,1803.4h0M545.7,1822.1h0M546.3,1763.8h0M548,1968.9h0M614.4,1775.4h0M621.6,1822.9h0M618.6,1860.6h0M620.8,1902.9h0M618,1750.1h0M613,1797.7h0M613.1,1836.7h0M623.1,1899.8h0M625,1769.8h0M618.5,1815.6h0M613.9,1847.2h0M617.7,1875.8h0M614.6,1738.9h0M616.4,1803.1h0M616.5,1835.1h0M612.9,1899.8h0M625.6,1776.5h0M621.9,1818h0M625.7,1847.4h0M616.6,1916.5h0M614.8,1750.9h0M612.8,1801.3h0M613.6,1837.8h0M617.6,1946.8h0M616.5,1770h0M622.6,1819.5h0M615.9,1835.2h0M621.5,1943.4h0M612.6,1731h0M623.4,1796.5h0M613.1,1845h0M619.8,1948.5h0M613.5,1791.4h0M619.4,1825.2h0M613.3,1865.8h0M618.1,1870.1h0M618.2,1783.3h0M613.2,1804.9h0M626.1,1830.2h0M618.1,1902.1h0M616.9,1791.8h0M620.1,1798.1h0M620.9,1865.3h0M612.7,1879.4h0M620.5,1768.7h0M621.3,1807.3h0M625.3,1857.5h0M624.1,1897.1h0M616.9,1790.4h0M623.3,1797.4h0M616.9,1861.2h0M615.9,1871.5h0M620.6,1772.6h0M613.4,1802.8h0M613.2,1856.5h0M617.7,1884.4h0M616.9,1773.2h0M620.3,1820.2h0M621.7,1864.3h0M618.7,1907.9h0M625.9,1756.6h0M622.3,1819.4h0M623.9,1839.3h0M613.4,1874.1h0M622,1782.9h0M613.4,1804.2h0M619.6,1728.9h0M618.3,1949.6h0M684.6,1813.5h0M694.8,1841.1h0M691.3,1915.8h0M687.8,1948.7h0M690.9,1815.3h0M692.9,1874.7h0M690.2,1890h0M689,1977.8h0M684.4,1741.9h0M695.6,1838.3h0M688.8,1901h0M695.9,1984.3h0M691.1,1720.1h0M694.1,1823h0M683.5,1899.8h0M690.8,1918.4h0M688.2,1731.2h0M686.6,1831h0M690.6,1893.2h0M686.1,1982.4h0M696.5,1799.4h0M694.6,1875.7h0M688.4,1905.8h0M689.6,1991.7h0M684.1,1805.7h0M695.4,1866.9h0M693.9,1893.1h0M694.8,1974.9h0M688,1741.2h0M689.9,1816.3h0M685.3,1904.8h0M683.1,1938.5h0M689.4,1787.1h0M688.3,1865.9h0M694.2,1916.8h0M692.1,1975.9h0M687.8,1741.4h0M692.3,1858h0M686.7,1902.9h0M687.7,1921.3h0M688.7,1716.2h0M689.8,2011.8h0" stroke="#000" stroke-width="3.7" stroke-linecap="round" fill="none"/>
<path d="M505.1,1685.1V2027.3H730.4M505.1,1755.3h-3.2M505.1,1832.4h-3.2M505.1,1909.6h-3.2M505.1,1986.7h-3.2M547.1,2027.3v3.2M617.8,2027.3v3.2M688.2,2027.3v3.2" stroke="#222" stroke-width="1.3" fill="none"/>
<text x="500.3" y="1763.7" font-size="23.6" text-anchor="end">0.50</text>
<text x="500.3" y="1840.8" font-size="23.6" text-anchor="end">0.25</text>
<text x="500.3" y="1918" font-size="23.6" text-anchor="end">0</text>
<text x="500.3" y="1995.1" font-size="23.6" text-anchor="end">-0.25</text>
<text x="547.1" y="2054.5" font-size="24.5" text-anchor="middle">6</text>
<text x="617.8" y="2054.5" font-size="24.5" text-anchor="middle">7</text>
<text x="688.2" y="2054.5" font-size="24.5" text-anchor="middle">≥8</text>
<path d="M617.8,1711.8V1702.9H688.2V1711.8" stroke="#222" stroke-width="1.1" fill="none"/>
<text x="643.8" y="1700" font-size="19.8" text-anchor="middle">p=0.001</text>
<text transform="translate(435.1,1853.8) rotate(-90)" text-anchor="middle" font-size="22.8">Type1 signature</text>
<text x="615" y="2085.1" font-size="29.3" text-anchor="middle">Gleason</text>
<rect x="160.7" y="2114.7" width="243.5" height="356.4" fill="#fff" stroke="#7a7a7a" stroke-width="1"/>
<path d="M206.3,2174V2204.4M206.3,2302.2V2447.1" stroke="#111" stroke-width="1.4"/>
<rect x="177.6" y="2204.4" width="57.5" height="97.8" fill="#7DD3AE" stroke="#111" stroke-width="1.4"/>
<path d="M177.6,2251.6H235.1" stroke="#111" stroke-width="2.7"/>
<path d="M282.6,2193.3V2242.4M282.6,2328.2V2451.1" stroke="#111" stroke-width="1.4"/>
<rect x="253.8" y="2242.4" width="57.5" height="85.8" fill="#EF8A62" stroke="#111" stroke-width="1.4"/>
<path d="M253.8,2268.4H311.3" stroke="#111" stroke-width="2.7"/>
<path d="M358.9,2432.2V2437.6M358.9,2449.3V2454.9" stroke="#111" stroke-width="1.4"/>
<rect x="330" y="2437.6" width="57.8" height="11.7" fill="#E78ACF" stroke="#111" stroke-width="1.4"/>
<path d="M330,2443.6H387.8" stroke="#111" stroke-width="2.7"/>
<path d="M214.7,2197.9h0M211.3,2217.4h0M211.9,2255.2h0M214.2,2439h0M211.7,2180.2h0M203.2,2233.2h0M214.2,2277.7h0M208.6,2442.3h0M206.1,2204.4h0M210.3,2212.8h0M214.4,2297.1h0M201.6,2344.3h0M211.3,2190.3h0M214,2222.1h0M204.7,2262.4h0M214.2,2380.4h0M212.1,2187.6h0M200.9,2215h0M213.1,2280.2h0M206.5,2398.1h0M214.3,2191.1h0M204.3,2218.7h0M215.3,2282.2h0M201.7,2303.7h0M202.8,2188.6h0M209.4,2213.4h0M210.9,2284.3h0M207.6,2306.1h0M204.9,2175.7h0M210.2,2244.5h0M203.5,2298.5h0M207.5,2417.8h0M202.4,2200.8h0M202.3,2208.8h0M201.5,2282.8h0M212.9,2399.5h0M214.6,2184.8h0M209.9,2249.6h0M201.5,2300.4h0M203.2,2306.3h0M210.7,2193.4h0M201.2,2239.5h0M208.5,2272h0M209.4,2311.2h0M207.8,2185.9h0M215,2249.8h0M212,2255.3h0M201.7,2332h0M211.6,2196.5h0M206,2247.7h0M207.8,2266.3h0M209.1,2408.7h0M213.4,2197h0M200.7,2228.9h0M203.7,2272.9h0M204.2,2307.1h0M215.6,2192.8h0M206,2230h0M201.3,2298.9h0M199.9,2412.5h0M200.1,2196.3h0M207.2,2216.2h0M205.6,2174h0M206.5,2447.1h0M291.6,2235.6h0M283.6,2253.9h0M280.5,2273.5h0M284.2,2403.6h0M288.5,2227.8h0M285.5,2253.7h0M286.4,2322.4h0M276.4,2329.8h0M290,2226.8h0M290.7,2263.9h0M292,2291h0M278.4,2434.1h0M291.6,2226.4h0M279.5,2268.2h0M280.4,2293.6h0M286.7,2352.4h0M283.4,2237.5h0M282.1,2244.3h0M290.2,2322.1h0M289.3,2328.9h0M278.2,2217.2h0M290.8,2248.6h0M276.5,2324.5h0M280.3,2369.1h0M288.5,2228.8h0M284.3,2246.4h0M287.3,2326.7h0M286.3,2335.3h0M283.7,2229h0M291.5,2257.5h0M285.1,2282.8h0M287.8,2384.1h0M287.3,2223.4h0M288.4,2242.6h0M284.1,2293.4h0M276.9,2419.1h0M282.2,2241.7h0M276.4,2251.4h0M283.3,2286.2h0M282,2439.2h0M291,2210.8h0M291.9,2267.1h0M278.7,2286.4h0M283.2,2332.6h0M282.3,2221h0M280.8,2266.4h0M289.3,2301.4h0M284,2359.7h0M283.3,2236h0M277.5,2244h0M278.4,2288.9h0M280.5,2349.9h0M280.2,2209.1h0M286.1,2264h0M286.1,2291.6h0M290.1,2349.9h0M278.9,2199.8h0M276.9,2246h0M285,2312.6h0M289.2,2330.3h0M276.7,2201.4h0M277.9,2257.7h0M285.8,2311.5h0M291.2,2345.5h0M287,2241h0M277.1,2244.8h0M286.4,2295.9h0M277.2,2408.5h0M278,2203h0M280.2,2262h0M276.1,2286.3h0M290.5,2380.2h0M279.5,2238h0M291.2,2249.2h0M277.5,2280.7h0M282.9,2332.7h0M278.8,2214.3h0M283.9,2246h0M283.2,2309.5h0M278.4,2437.2h0M284.6,2222.8h0M284.9,2265.8h0M282.8,2308h0M280.7,2425.6h0M280.2,2193.3h0M281.1,2451.1h0M358,2432.2h0M361.2,2454.9h0" stroke="#000" stroke-width="3.7" stroke-linecap="round" fill="none"/>
<path d="M160.7,2114.7V2471.1H404.2M160.7,2156.9h-3.2M160.7,2262.2h-3.2M160.7,2367.3h-3.2M206,2471.1v3.2M282.2,2471.1v3.2M358.7,2471.1v3.2" stroke="#222" stroke-width="1.3" fill="none"/>
<text x="155.7" y="2165.3" font-size="23.6" text-anchor="end">0.6</text>
<text x="155.7" y="2270.6" font-size="23.6" text-anchor="end">0.4</text>
<text x="155.7" y="2375.7" font-size="23.6" text-anchor="end">0.2</text>
<text x="206" y="2498.9" font-size="23.5" text-anchor="middle">T2</text>
<text x="282.2" y="2498.9" font-size="23.5" text-anchor="middle">T3</text>
<text x="358.7" y="2498.9" font-size="23.5" text-anchor="middle">T4</text>
<path d="M206,2145.6V2137.3H358.7V2145.6" stroke="#222" stroke-width="1.1" fill="none"/>
<text x="282.2" y="2131.1" font-size="20.2" text-anchor="middle">p=0.0009</text>
<path d="M282.2,2175.6V2167.1H358.7V2175.6" stroke="#222" stroke-width="1.1" fill="none"/>
<text x="319.6" y="2161.1" font-size="20.2" text-anchor="middle">p=0.004</text>
<text transform="translate(111.6,2278.2) rotate(-90)" text-anchor="middle" font-size="22.5">Type2 signature</text>
<rect x="503.3" y="2114.7" width="225.6" height="356.4" fill="#fff" stroke="#7a7a7a" stroke-width="1"/>
<path d="M545.7,2152.9V2239.6M545.7,2327.1V2410" stroke="#111" stroke-width="1.4"/>
<rect x="519.1" y="2239.6" width="53.1" height="87.5" fill="#7DD3AE" stroke="#111" stroke-width="1.4"/>
<path d="M519.1,2290.7H572.2" stroke="#111" stroke-width="2.7"/>
<path d="M616.2,2166V2245.6M616.2,2338.4V2453.8" stroke="#111" stroke-width="1.4"/>
<rect x="589.6" y="2245.6" width="53.1" height="92.8" fill="#EF8A62" stroke="#111" stroke-width="1.4"/>
<path d="M589.6,2276H642.7" stroke="#111" stroke-width="2.7"/>
<path d="M686.8,2218.9V2250.7M686.8,2314.2V2345.6" stroke="#111" stroke-width="1.4"/>
<rect x="660.2" y="2250.7" width="53.1" height="63.5" fill="#E78ACF" stroke="#111" stroke-width="1.4"/>
<path d="M660.2,2282.2H713.3" stroke="#111" stroke-width="2.7"/>
<path d="M549.1,2192.1h0M541.8,2288.5h0M544.9,2318.7h0M552,2372.8h0M553.8,2237.8h0M549.1,2259.2h0M543.8,2317.1h0M541.5,2346.7h0M545.9,2183.4h0M541,2284h0M542.7,2301.7h0M552.7,2388.2h0M546,2235h0M540.5,2251.2h0M544.2,2311.3h0M553.2,2361.8h0M541.6,2207.5h0M541.8,2278.9h0M541.3,2310.3h0M546.3,2364.6h0M553.8,2199.7h0M543.1,2261.5h0M553,2309.4h0M553,2372.9h0M547.6,2173.6h0M540.9,2246.7h0M546.7,2324.9h0M548.2,2401.2h0M550.6,2222.7h0M546.7,2252.7h0M548.6,2318.3h0M549.9,2337.5h0M554.1,2235.1h0M542.5,2246.4h0M546.4,2294h0M542.4,2395h0M548.3,2235h0M545.1,2252.5h0M550.2,2292.6h0M544.9,2385.5h0M547,2191.2h0M553,2284.2h0M544.8,2301h0M546,2333.1h0M541.9,2155.6h0M550.7,2273.1h0M540.2,2317.2h0M552.1,2345.4h0M551.9,2211.5h0M544.9,2274.1h0M547.2,2317.3h0M551.3,2371.1h0M540.2,2204.9h0M551,2280h0M540.8,2321.2h0M541.8,2358.9h0M552.1,2155.8h0M551.8,2251.8h0M545.5,2314.4h0M544,2339.3h0M548.3,2189.4h0M547.2,2277.6h0M545.3,2152.9h0M544.5,2410h0M619,2223.5h0M616.9,2268.6h0M611.5,2318.8h0M612.7,2430.5h0M621.4,2245.3h0M617.1,2248.8h0M621.9,2303.4h0M611,2387.9h0M619.4,2189.2h0M619.2,2271h0M622.6,2320.7h0M623,2339.1h0M611.6,2235.7h0M612.1,2255.9h0M611.9,2299h0M616.7,2338.5h0M616.1,2192.8h0M624,2250.6h0M620.3,2331.8h0M617,2373.8h0M617,2244.9h0M620.4,2268.9h0M620.2,2329.7h0M623.5,2434.8h0M619.9,2220.1h0M623,2265.6h0M616.9,2320.5h0M614.2,2365.4h0M613.3,2189h0M622.4,2261.8h0M612,2298.8h0M612.7,2369.2h0M612.7,2245.5h0M612.1,2258.5h0M618.3,2276.4h0M615.2,2429.5h0M612.8,2242.6h0M611.5,2245.8h0M621.2,2313.6h0M617,2425.2h0M618.2,2203.9h0M616.6,2250.8h0M622.2,2303.5h0M622.1,2362h0M613.7,2210.1h0M619,2265.8h0M620.9,2281.9h0M622.6,2364.7h0M620.1,2228.3h0M617.9,2249.4h0M619.6,2281.1h0M611.2,2402.5h0M616.9,2215.8h0M614.5,2250.2h0M611.6,2304h0M614.7,2356.8h0M623.7,2228.8h0M612,2254.5h0M623.9,2297.6h0M613.6,2367.1h0M612,2216.5h0M615.2,2271.8h0M617,2318.8h0M613.8,2341.3h0M622.2,2231.5h0M615.5,2260.9h0M622.5,2307.6h0M619.8,2379.4h0M616.6,2221h0M616.8,2249.6h0M614.9,2330.8h0M618.9,2398.2h0M620.9,2217.7h0M612.2,2246.9h0M623.3,2323.1h0M619.4,2342.8h0M611.1,2199.5h0M612.9,2259.5h0M620.4,2296.7h0M622.4,2432.3h0M613.1,2181.4h0M615.1,2260h0M612.2,2315h0M621.6,2370.1h0M618.8,2166h0M618.8,2453.8h0M686.1,2218.9h0M688.9,2345.6h0" stroke="#000" stroke-width="3.7" stroke-linecap="round" fill="none"/>
<path d="M503.3,2114.7V2471.1H728.9M503.3,2114.7h-3.2M503.3,2192.9h-3.2M503.3,2271.1h-3.2M503.3,2349.6h-3.2M503.3,2427.8h-3.2M545.6,2471.1v3.2M616,2471.1v3.2M686.4,2471.1v3.2" stroke="#222" stroke-width="1.3" fill="none"/>
<text x="498.5" y="2123.1" font-size="23.6" text-anchor="end">0.75</text>
<text x="498.5" y="2201.3" font-size="23.6" text-anchor="end">0.50</text>
<text x="498.5" y="2279.5" font-size="23.6" text-anchor="end">0.25</text>
<text x="498.5" y="2358" font-size="23.6" text-anchor="end">0</text>
<text x="498.5" y="2436.2" font-size="23.6" text-anchor="end">-0.25</text>
<text x="545.6" y="2498.9" font-size="23.5" text-anchor="middle">T2</text>
<text x="616" y="2498.9" font-size="23.5" text-anchor="middle">T3</text>
<text x="686.4" y="2498.9" font-size="23.5" text-anchor="middle">T4</text>
<text transform="translate(440,2281.1) rotate(-90)" text-anchor="middle" font-size="22.9">Type1 signature</text>
<text x="181.7" y="2541" font-size="21.8">Subtype</text>
<rect x="169.4" y="2555.3" width="23.2" height="23.6" fill="#7DD3AE"/>
<text x="197.3" y="2574" font-size="20.3">1−ERG</text>
<rect x="169.4" y="2580.6" width="23.2" height="23.6" fill="#EF8A62"/>
<text x="197.3" y="2599.3" font-size="20.3">2−ETV1</text>
<rect x="169.4" y="2605.9" width="23.2" height="23.6" fill="#8DA0CB"/>
<text x="197.3" y="2624.6" font-size="20.3">3−ETV4</text>
<rect x="169.4" y="2631.2" width="23.2" height="23.6" fill="#E78AC3"/>
<text x="197.3" y="2649.9" font-size="20.3">4−ETV1</text>
<rect x="285.4" y="2555.3" width="23.2" height="23.6" fill="#A6E85A"/>
<text x="312.6" y="2574" font-size="20.3">5-FLI1</text>
<rect x="285.4" y="2580.6" width="23.2" height="23.6" fill="#F0DF3C"/>
<text x="312.6" y="2599.3" font-size="20.3">6−SPOP</text>
<rect x="285.4" y="2605.9" width="23.2" height="23.6" fill="#E5C494"/>
<text x="312.6" y="2624.6" font-size="20.3">7−FOXA1</text>
<rect x="285.4" y="2631.2" width="23.2" height="23.6" fill="#B3B3B3"/>
<text x="312.6" y="2649.9" font-size="20.3">8−other</text>
<text x="437" y="2543.5" font-size="19.8" font-style="italic">ERG,ETV1,ETV4,</text>
<text x="437" y="2569.1" font-size="19.8"><tspan font-style="italic">ETV5</tspan> &amp; <tspan font-style="italic">FLI1</tspan></text>
<rect x="452.8" y="2579" width="23.2" height="23.4" fill="#E8E8E8"/>
<text x="481" y="2597.8" font-size="20.3">none</text>
<rect x="452.8" y="2604.1" width="23.2" height="23.4" fill="#666666"/>
<text x="481" y="2622.9" font-size="20.3">high</text>
<rect x="452.8" y="2629.2" width="23.2" height="23.4" fill="#E87D2E"/>
<text x="481" y="2648" font-size="20.3">fusion</text>
<text x="609.9" y="2558.3" font-size="19.8"><tspan font-style="italic">SPOP,FOXA1</tspan> &amp; <tspan font-style="italic">IDH1</tspan></text>
<rect x="625.7" y="2569.1" width="23.2" height="23.6" fill="#E8E8E8"/>
<text x="653.3" y="2586.9" font-size="20.3">WT</text>
<rect x="625.7" y="2594.3" width="23.2" height="23.6" fill="#3A7FBF"/>
<text x="653.3" y="2612.1" font-size="20.3">MUT</text>
</g>
<g id="panel_f">
<text x="1240.4" y="1723" font-size="31.8" text-anchor="middle">CRPC (SUC2C/PCF, PNAS, 208cases)</text>
<rect x="823.6" y="1747.7" width="830.3" height="18.5" fill="#5FC4DB"/>
<path d="M823.6,1756.95h7.98M843.56,1756.95h3.99M879.49,1756.95h3.99M903.44,1756.95h23.95M943.36,1756.95h3.99M955.34,1756.95h3.99M963.32,1756.95h3.99M975.3,1756.95h3.99M983.28,1756.95h11.98M1003.24,1756.95h11.98M1019.21,1756.95h7.98M1047.15,1756.95h7.98M1087.07,1756.95h3.99M1111.02,1756.95h7.98M1123,1756.95h7.98M1134.98,1756.95h11.98M1154.94,1756.95h11.98M1174.9,1756.95h7.98M1186.87,1756.95h3.99M1194.86,1756.95h7.98M1206.83,1756.95h7.98M1218.81,1756.95h3.99M1226.79,1756.95h3.99M1242.76,1756.95h19.96M1278.69,1756.95h3.99M1286.67,1756.95h3.99M1294.66,1756.95h3.99M1302.64,1756.95h7.98M1322.6,1756.95h3.99M1330.58,1756.95h3.99M1342.56,1756.95h19.96M1370.5,1756.95h3.99M1378.49,1756.95h11.98M1394.46,1756.95h7.98M1406.43,1756.95h3.99M1414.42,1756.95h3.99M1426.39,1756.95h3.99M1438.37,1756.95h3.99M1450.34,1756.95h7.98M1470.3,1756.95h35.93M1526.19,1756.95h3.99M1534.18,1756.95h3.99M1542.16,1756.95h3.99M1550.14,1756.95h15.97M1590.06,1756.95h3.99M1602.04,1756.95h11.98M1618.01,1756.95h7.98M1629.98,1756.95h23.95" stroke="#5FC4DB" stroke-width="18.5"/>
<path d="M831.58,1756.95h11.98M855.54,1756.95h23.95M883.48,1756.95h3.99M927.39,1756.95h3.99M951.34,1756.95h3.99M959.33,1756.95h3.99M979.29,1756.95h3.99M1015.22,1756.95h3.99M1031.18,1756.95h11.98M1059.13,1756.95h27.94M1091.06,1756.95h11.98M1107.03,1756.95h3.99M1119.01,1756.95h3.99M1130.98,1756.95h3.99M1146.95,1756.95h7.98M1166.91,1756.95h7.98M1190.86,1756.95h3.99M1234.78,1756.95h7.98M1262.72,1756.95h3.99M1270.7,1756.95h7.98M1282.68,1756.95h3.99M1290.66,1756.95h3.99M1298.65,1756.95h3.99M1334.58,1756.95h7.98M1366.51,1756.95h3.99M1374.5,1756.95h3.99M1390.46,1756.95h3.99M1402.44,1756.95h3.99M1410.42,1756.95h3.99M1418.41,1756.95h7.98M1430.38,1756.95h7.98M1458.33,1756.95h3.99M1466.31,1756.95h3.99M1506.23,1756.95h3.99M1522.2,1756.95h3.99M1546.15,1756.95h3.99M1570.1,1756.95h15.97M1598.05,1756.95h3.99M1614.02,1756.95h3.99M1625.99,1756.95h3.99" stroke="#E64B3C" stroke-width="18.5"/>
<path d="M847.55,1756.95h3.99M939.37,1756.95h3.99M967.31,1756.95h3.99M995.26,1756.95h7.98M1055.14,1756.95h3.99M1566.11,1756.95h3.99" stroke="#8794BB" stroke-width="18.5"/>
<path d="M851.54,1756.95h3.99M887.47,1756.95h3.99M895.46,1756.95h3.99M971.3,1756.95h3.99M1027.19,1756.95h3.99M1182.88,1756.95h3.99M1202.84,1756.95h3.99M1222.8,1756.95h3.99M1266.71,1756.95h3.99M1310.62,1756.95h11.98M1326.59,1756.95h3.99M1362.52,1756.95h3.99M1446.35,1756.95h3.99M1462.32,1756.95h3.99M1514.22,1756.95h7.98M1538.17,1756.95h3.99M1586.07,1756.95h3.99" stroke="#3B5A9A" stroke-width="18.5"/>
<path d="M891.46,1756.95h3.99M899.45,1756.95h3.99M931.38,1756.95h7.98M1214.82,1756.95h3.99M1230.78,1756.95h3.99M1442.36,1756.95h3.99M1530.18,1756.95h3.99M1594.06,1756.95h3.99" stroke="#4CAF8C" stroke-width="18.5"/>
<path d="M947.35,1756.95h3.99M1043.16,1756.95h3.99M1103.04,1756.95h3.99M1510.22,1756.95h3.99" stroke="#F0A090" stroke-width="18.5"/>
<rect x="823.6" y="1767.8" width="830.3" height="18.5" fill="#E8221E"/>
<path d="M823.6,1777.06h7.98M835.58,1777.06h3.99M847.55,1777.06h3.99M903.44,1777.06h3.99M915.42,1777.06h3.99M955.34,1777.06h7.98M1023.2,1777.06h3.99M1035.18,1777.06h3.99M1095.06,1777.06h3.99M1111.02,1777.06h3.99M1126.99,1777.06h3.99M1194.86,1777.06h7.98M1218.81,1777.06h3.99M1238.77,1777.06h3.99M1254.74,1777.06h3.99M1262.72,1777.06h3.99M1274.7,1777.06h15.97M1294.66,1777.06h7.98M1330.58,1777.06h3.99M1426.39,1777.06h3.99M1446.35,1777.06h3.99M1474.3,1777.06h3.99M1482.28,1777.06h7.98M1578.09,1777.06h3.99M1590.06,1777.06h3.99M1622,1777.06h7.98M1645.95,1777.06h3.99" stroke="#F0D070" stroke-width="18.5"/>
<path d="M831.58,1777.06h3.99M839.57,1777.06h3.99M859.53,1777.06h3.99M871.5,1777.06h3.99M1019.21,1777.06h3.99M1170.9,1777.06h3.99M1382.48,1777.06h3.99M1418.41,1777.06h3.99M1466.31,1777.06h7.98M1582.08,1777.06h7.98" stroke="#FFFFC8" stroke-width="18.5"/>
<path d="M843.56,1777.06h3.99M883.48,1777.06h3.99M935.38,1777.06h3.99M963.32,1777.06h3.99M1007.23,1777.06h7.98M1027.19,1777.06h3.99M1055.14,1777.06h3.99M1063.12,1777.06h7.98M1115.02,1777.06h7.98M1150.94,1777.06h3.99M1182.88,1777.06h3.99M1214.82,1777.06h3.99M1226.79,1777.06h3.99M1234.78,1777.06h3.99M1250.74,1777.06h3.99M1414.42,1777.06h3.99M1430.38,1777.06h3.99M1438.37,1777.06h7.98M1450.34,1777.06h11.98M1478.29,1777.06h3.99M1530.18,1777.06h7.98M1570.1,1777.06h3.99M1594.06,1777.06h3.99M1606.03,1777.06h3.99M1633.98,1777.06h3.99" stroke="#BDBDBD" stroke-width="18.5"/>
<path d="M851.54,1777.06h3.99M863.52,1777.06h7.98M875.5,1777.06h7.98M887.47,1777.06h7.98M899.45,1777.06h3.99M907.43,1777.06h3.99M919.41,1777.06h7.98M939.37,1777.06h3.99M947.35,1777.06h3.99M975.3,1777.06h3.99M987.27,1777.06h3.99M999.25,1777.06h7.98M1015.22,1777.06h3.99M1031.18,1777.06h3.99M1039.17,1777.06h15.97M1059.13,1777.06h3.99M1071.1,1777.06h7.98M1083.08,1777.06h7.98M1107.03,1777.06h3.99M1130.98,1777.06h7.98M1154.94,1777.06h11.98M1174.9,1777.06h3.99M1186.87,1777.06h3.99M1202.84,1777.06h11.98M1222.8,1777.06h3.99M1230.78,1777.06h3.99M1246.75,1777.06h3.99M1258.73,1777.06h3.99M1266.71,1777.06h7.98M1290.66,1777.06h3.99M1302.64,1777.06h27.94M1334.58,1777.06h7.98M1346.55,1777.06h3.99M1354.54,1777.06h19.96M1390.46,1777.06h3.99M1398.45,1777.06h11.98M1434.38,1777.06h3.99M1462.32,1777.06h3.99M1498.25,1777.06h15.97M1538.17,1777.06h27.94M1574.1,1777.06h3.99M1598.05,1777.06h7.98M1614.02,1777.06h3.99M1629.98,1777.06h3.99" stroke="#E8221E" stroke-width="18.5"/>
<path d="M855.54,1777.06h3.99M895.46,1777.06h3.99M943.36,1777.06h3.99M967.31,1777.06h7.98M979.29,1777.06h3.99M991.26,1777.06h7.98M1079.09,1777.06h3.99M1099.05,1777.06h3.99M1123,1777.06h3.99M1138.97,1777.06h7.98M1178.89,1777.06h3.99M1242.76,1777.06h3.99M1342.56,1777.06h3.99M1494.26,1777.06h3.99M1514.22,1777.06h7.98M1526.19,1777.06h3.99M1566.11,1777.06h3.99M1610.02,1777.06h3.99" stroke="#F08030" stroke-width="18.5"/>
<path d="M911.42,1777.06h3.99M931.38,1777.06h3.99M951.34,1777.06h3.99M1103.04,1777.06h3.99M1350.54,1777.06h3.99M1378.49,1777.06h3.99M1386.47,1777.06h3.99M1394.46,1777.06h3.99M1490.26,1777.06h3.99M1522.2,1777.06h3.99M1618.01,1777.06h3.99M1637.97,1777.06h3.99" stroke="#F8A060" stroke-width="18.5"/>
<path d="M927.39,1777.06h3.99M983.28,1777.06h3.99M1091.06,1777.06h3.99M1146.95,1777.06h3.99M1166.91,1777.06h3.99M1190.86,1777.06h3.99M1374.5,1777.06h3.99M1410.42,1777.06h3.99M1422.4,1777.06h3.99M1641.96,1777.06h3.99M1649.94,1777.06h3.99" stroke="#8B1020" stroke-width="18.5"/>
<rect x="823.6" y="1787.9" width="830.3" height="18.5" fill="#F3FDB4"/>
<path d="M855.54,1797.17h3.99M871.5,1797.17h3.99M1043.16,1797.17h3.99M1123,1797.17h3.99M1238.77,1797.17h3.99M1262.72,1797.17h3.99M1554.14,1797.17h3.99M1622,1797.17h3.99M1629.98,1797.17h3.99" stroke="#C0BBDE" stroke-width="18.5"/>
<path d="M899.45,1797.17h3.99M907.43,1797.17h3.99M991.26,1797.17h3.99M1007.23,1797.17h3.99M1031.18,1797.17h7.98M1047.15,1797.17h3.99M1067.11,1797.17h3.99M1346.55,1797.17h7.98M1374.5,1797.17h3.99M1382.48,1797.17h3.99M1398.45,1797.17h3.99M1422.4,1797.17h3.99M1430.38,1797.17h3.99M1454.34,1797.17h3.99M1466.31,1797.17h7.98M1478.29,1797.17h3.99M1518.21,1797.17h3.99M1574.1,1797.17h7.98M1594.06,1797.17h3.99" stroke="#95E0CC" stroke-width="18.5"/>
<path d="M1406.43,1797.17h3.99" stroke="#EF7A72" stroke-width="18.5"/>
<path d="M1410.42,1797.17h3.99M1442.36,1797.17h3.99M1566.11,1797.17h3.99" stroke="#82B2D2" stroke-width="18.5"/>
<rect x="823.6" y="1808" width="399.2" height="18.5" fill="#7DD3AE"/>
<rect x="1222.8" y="1808" width="71.86" height="18.5" fill="#EF8A62"/>
<rect x="1294.66" y="1808" width="43.91" height="18.5" fill="#8DA0CB"/>
<rect x="1338.57" y="1808" width="7.98" height="18.5" fill="#E78AC3"/>
<rect x="1346.55" y="1808" width="3.99" height="18.5" fill="#A6E85A"/>
<rect x="1350.54" y="1808" width="71.86" height="18.5" fill="#F0DF3C"/>
<rect x="1422.4" y="1808" width="39.92" height="18.5" fill="#E5C494"/>
<rect x="1462.32" y="1808" width="191.62" height="18.5" fill="#B3B3B3"/>
<rect x="823.6" y="1828.1" width="830.3" height="18.5" fill="#E6E6E6"/>
<rect x="823.6" y="1828.1" width="399.2" height="18.5" fill="#E67D2E"/>
<rect x="823.6" y="1848.2" width="830.3" height="18.5" fill="#E6E6E6"/>
<rect x="823.6" y="1848.2" width="3.99" height="18.5" fill="#666666"/>
<rect x="1222.8" y="1848.2" width="51.9" height="18.5" fill="#E67D2E"/>
<rect x="1274.7" y="1848.2" width="19.96" height="18.5" fill="#666666"/>
<rect x="823.6" y="1868.4" width="830.3" height="18.5" fill="#E6E6E6"/>
<rect x="1294.66" y="1868.4" width="23.95" height="18.5" fill="#E67D2E"/>
<rect x="1318.61" y="1868.4" width="19.96" height="18.5" fill="#666666"/>
<rect x="823.6" y="1888.5" width="830.3" height="18.5" fill="#E6E6E6"/>
<rect x="1338.57" y="1888.5" width="7.98" height="18.5" fill="#E67D2E"/>
<rect x="823.6" y="1908.6" width="830.3" height="18.5" fill="#E6E6E6"/>
<rect x="1346.55" y="1908.6" width="3.99" height="18.5" fill="#E67D2E"/>
<rect x="823.6" y="1928.7" width="830.3" height="18.5" fill="#E6E6E6"/>
<rect x="827.59" y="1928.7" width="11.98" height="18.5" fill="#3A7FBF"/>
<rect x="1318.61" y="1928.7" width="3.99" height="18.5" fill="#3A7FBF"/>
<rect x="1350.54" y="1928.7" width="71.86" height="18.5" fill="#3A7FBF"/>
<rect x="823.6" y="1948.8" width="830.3" height="18.5" fill="#E6E6E6"/>
<rect x="1322.6" y="1948.8" width="3.99" height="18.5" fill="#3A7FBF"/>
<rect x="1350.54" y="1948.8" width="7.98" height="18.5" fill="#3A7FBF"/>
<rect x="1422.4" y="1948.8" width="39.92" height="18.5" fill="#3A7FBF"/>
<rect x="823.6" y="1968.9" width="830.3" height="18.5" fill="#E6E6E6"/>
<rect x="839.57" y="1968.9" width="3.99" height="18.5" fill="#3A7FBF"/>
<g font-size="17.25">
<text x="1660.6" y="1763">Tissue site</text>
<text x="1660.6" y="1783.1">Gleason score</text>
<text x="1660.6" y="1803.2">Pathology classification</text>
<text x="1660.6" y="1823.3">Subtype</text>
<text x="1660.6" y="1843.4">ERG</text>
<text x="1660.6" y="1863.5">ETV1</text>
<text x="1660.6" y="1883.7">ETV4</text>
<text x="1660.6" y="1903.8">ETV5</text>
<text x="1660.6" y="1923.9">FLI1</text>
<text x="1660.6" y="1944">FOXA1</text>
<text x="1660.6" y="1964.1">SPOP</text>
<text x="1660.6" y="1984.2">IDH1</text>
</g>
<rect x="823.6" y="1991.4" width="830.3" height="696" fill="#C2DDEC"/>
<g transform="translate(823.6,1991.4) scale(3.992,17.845) translate(0,0.5)" fill="none" stroke-width="1.03">
<path d="M0 0m38 5h1m157 0h1m-115 2h1m-33 2h1m154 5h1m-90 4h1m-92 5h1m152 0h1m1 0h1m1 0h1m-149 1h5m20 0h1m34 0h1m54 0h1m29 0h1m1 0h1m2 0h1" stroke="#053061"/>
<path d="M0 0m148 3h1m-11 1h1m-95 1h1m11 0h1m52 0h1m10 0h1m15 0h1m12 0h1m44 0h1m-186 1h1m5 0h1m5 0h1m15 0h1m29 0h1m32 0h1m3 0h1m34 0h1m-51 1h1m34 0h1m1 0h1m-97 2h1m27 0h1m54 0h1m14 0h1m8 0h1m18 0h1m7 0h1m-116 6h1m-33 1h1m123 2h1m54 0h1m-83 1h1m-8 3h1m59 0h1m27 0h1m9 0h1m-171 1h4m9 0h1m6 0h1m9 0h1m22 0h1m6 0h1m41 0h1m36 0h1m1 0h1m-176 1h1m19 0h1m22 0h1m46 0h1m27 0h1m1 0h2m5 0h1m16 0h1m25 0h1m6 0h1m1 0h1m1 0h2m-64 1h1m-105 6h1m78 0h1m5 0h1m86 0h1" stroke="#2166AC"/>
<path d="M0 0m103 0h1m82 0h1m1 0h1m14 0h1m-189 3h1m44 0h1m5 0h1m15 0h1m58 0h1m16 0h1m-158 1h1m10 0h1m9 0h1m3 0h1m18 0h1m2 0h1m18 0h1m16 0h1m23 0h1m32 0h1m11 0h1m9 0h1m43 0h1m-208 1h2m7 0h1m2 0h1m9 0h1m22 0h1m8 0h1m2 0h1m38 0h1m6 0h1m25 0h1m4 0h1m7 0h1m22 0h1m13 0h1m12 0h1m12 0h1m-188 1h1m24 0h1m5 0h1m68 0h1m6 0h1m22 0h1m4 0h1m16 0h1m5 0h1m-124 1h1m13 0h1m22 0h1m49 0h1m22 0h1m2 0h1m28 0h2m-193 2h1m51 0h1m11 0h1m11 0h1m17 0h1m31 0h1m21 0h1m46 0h1m-199 1h1m2 0h1m5 0h1m7 0h1m23 0h1m12 0h2m23 0h1m7 0h1m31 0h2m16 0h1m13 0h1m25 0h1m5 0h1m5 0h1m2 0h1m-155 1h1m25 0h1m5 0h1m8 0h1m10 0h1m13 0h1m12 0h1m86 0h3m-172 1h1m31 0h1m71 1h1m62 0h1m-198 1h1m3 0h1m26 0h1m12 0h1m5 0h1m73 0h1m49 0h1m-150 1h1m3 0h1m24 0h1m43 0h1m5 0h1m-99 1h1m21 0h1m68 0h1m16 0h1m48 0h1m-156 1h1m-4 1h1m16 0h1m4 0h1m23 0h1m28 0h1m85 0h1m14 0h2m11 0h1m-140 1h1m50 0h1m-85 3h1m121 0h1m-150 1h1m5 0h1m3 0h1m18 0h1m3 0h1m40 0h1m2 0h1m28 0h1m38 0h1m28 0h1m1 0h1m3 0h1m2 0h1m-185 1h1m8 0h1m2 0h1m33 0h1m3 0h1m35 0h1m10 0h1m22 0h1m6 0h1m3 0h1m6 0h1m37 0h2m19 0h1m6 0h1m-200 1h1m8 0h1m16 0h1m3 0h3m16 0h1m4 0h1m5 0h1m14 0h1m10 0h1m55 0h2m13 0h1m-162 1h1m21 0h1m30 0h1m8 0h1m11 0h1m5 0h1m92 0h1m-87 1h1m-79 4h1m10 0h1m4 0h1m7 0h1m6 0h1m14 0h1m6 0h1m76 0h1m46 0h1m18 0h1m-86 3h1m40 0h1m32 0h1m-64 2h2m9 0h2m7 0h1m45 0h1m8 0h1" stroke="#4393C3"/>
<path d="M0 0m100 0h1m3 0h1m3 0h1m1 0h1m7 0h1m5 0h1m2 0h1m2 0h1m1 0h1m4 0h1m1 0h1m2 0h1m10 0h1m2 0h1m3 0h3m6 0h4m4 0h2m1 0h1m1 0h1m1 0h1m11 0h1m1 0h2m5 0h1m-204 1h1m38 0h1m23 0h1m6 0h1m20 0h1m32 0h1m57 0h1m6 0h1m14 0h2m-181 1h1m109 0h1m-133 1h1m3 0h2m3 0h1m7 0h2m25 0h1m3 0h1m2 0h1m8 0h1m2 0h1m4 0h1m17 0h1m6 0h1m2 0h1m24 0h1m6 0h2m1 0h1m35 0h2m10 0h1m2 0h1m4 0h1m-191 1h1m13 0h1m2 0h2m25 0h1m3 0h1m6 0h1m1 0h1m6 0h1m16 0h1m3 0h1m13 0h1m1 0h1m10 0h1m10 0h1m2 0h1m3 0h1m7 0h1m17 0h2m20 0h2m8 0h1m-188 1h1m10 0h1m13 0h1m3 0h1m27 0h1m11 0h1m11 0h1m17 0h1m8 0h1m5 0h1m3 0h1m10 0h1m7 0h1m19 0h1m8 0h1m8 0h1m10 0h1m17 0h1m-194 1h1m21 0h1m5 0h1m2 0h1m11 0h1m3 0h1m9 0h1m14 0h1m22 0h1m11 0h1m2 0h1m4 0h1m4 0h1m12 0h1m7 0h1m5 0h2m4 0h1m14 0h1m3 0h1m16 0h1m-204 1h1m2 0h1m2 0h1m13 0h1m2 0h2m5 0h1m10 0h1m3 0h1m6 0h1m2 0h2m2 0h1m1 0h1m1 0h1m10 0h1m12 0h1m4 0h1m9 0h1m3 0h1m2 0h1m1 0h1m7 0h1m5 0h1m10 0h1m1 0h1m3 0h1m4 0h1m22 0h1m2 0h1m2 0h3m2 0h1m3 0h1m6 0h1m5 0h1m4 0h1m-186 1h1m5 0h2m9 0h1m6 0h1m1 0h1m76 0h1m2 0h1m5 0h1m4 0h1m2 0h1m21 0h2m8 0h2m4 0h1m8 0h1m8 0h1m11 0h1m-199 1h1m2 0h1m2 0h1m10 0h1m7 0h1m2 0h1m3 0h2m23 0h1m6 0h1m12 0h1m5 0h1m16 0h2m8 0h1m1 0h1m12 0h1m33 0h1m4 0h1m23 0h1m4 0h1m-193 1h1m3 0h1m1 0h1m12 0h1m5 0h1m3 0h1m1 0h1m2 0h1m1 0h1m14 0h1m6 0h1m17 0h1m16 0h1m2 0h2m29 0h1m7 0h1m4 0h1m6 0h1m2 0h1m4 0h1m26 0h1m4 0h1m-183 1h1m2 0h1m11 0h1m19 0h1m20 0h1m8 0h1m5 0h1m6 0h2m4 0h1m16 0h1m4 0h1m1 0h1m6 0h1m3 0h2m37 0h1m2 0h1m7 0h2m2 0h2m13 0h1m-196 1h1m4 0h1m7 0h1m21 0h1m16 0h1m36 0h1m15 0h1m1 0h1m32 0h1m6 0h1m2 0h1m7 0h3m16 0h1m17 0h1m-191 1h1m5 0h1m38 0h1m6 0h1m9 0h2m1 0h1m2 0h2m1 0h1m1 0h1m6 0h1m2 0h2m29 0h1m19 0h1m14 0h1m3 0h1m3 0h1m5 0h2m12 0h2m11 0h1m-203 1h1m27 0h1m2 0h2m8 0h1m6 0h1m10 0h1m1 0h1m6 0h1m9 0h1m1 0h1m8 0h1m4 0h1m3 0h1m1 0h1m2 0h1m3 0h1m2 0h1m4 0h1m5 0h1m1 0h1m29 0h2m6 0h1m20 0h1m24 0h1m-195 1h1m6 0h2m4 0h2m13 0h1m2 0h1m16 0h1m3 0h1m9 0h1m1 0h1m3 0h1m5 0h1m11 0h1m2 0h1m9 0h1m5 0h1m3 0h2m30 0h1m1 0h1m3 0h2m2 0h1m23 0h1m17 0h1m-198 1h1m17 0h1m3 0h1m78 0h1m3 0h1m23 0h1m5 0h1m7 0h1m3 0h1m-120 1h1m38 0h1m16 0h1m64 0h1m44 0h1m-204 1h1m3 0h2m1 0h1m12 0h1m4 0h1m4 0h1m11 0h1m8 0h1m8 0h2m13 0h1m17 0h1m5 0h1m4 0h1m26 0h2m11 0h1m9 0h1m3 0h2m1 0h1m30 0h1m8 0h1m3 0h1m-196 1h1m1 0h1m1 0h1m3 0h1m1 0h1m7 0h1m5 0h1m5 0h1m6 0h1m16 0h1m2 0h1m13 0h1m14 0h1m5 0h1m10 0h1m2 0h1m6 0h1m29 0h1m1 0h1m2 0h2m7 0h1m3 0h1m5 0h1m5 0h1m2 0h1m4 0h1m7 0h1m3 0h1m-171 1h1m56 0h1m45 0h1m1 0h1m25 0h1m32 0h1m-195 1h1m19 0h1m32 0h2m14 0h1m15 0h1m7 0h1m2 0h1m7 0h1m10 0h1m5 0h1m8 0h1m3 0h2m6 0h1m39 0h1m1 0h1m9 0h1m-197 1h1m17 0h2m4 0h1m3 0h2m13 0h1m1 0h1m9 0h1m11 0h1m9 0h1m1 0h2m5 0h1m5 0h1m7 0h1m1 0h1m16 0h1m12 0h1m19 0h1m8 0h1m13 0h2m7 0h1m10 0h1m3 0h1m1 0h2m-194 1h1m13 0h1m8 0h1m7 0h1m1 0h1m7 0h1m14 0h1m2 0h1m10 0h1m9 0h2m18 0h1m13 0h1m2 0h1m1 0h1m3 0h1m1 0h1m3 0h1m26 0h1m5 0h1m6 0h1m3 0h1m7 0h1m9 0h1m-195 1h2m23 0h1m21 0h1m5 0h1m2 0h1m3 0h1m5 0h1m13 0h2m4 0h1m4 0h1m13 0h1m10 0h1m8 0h1m11 0h1m9 0h3m10 0h1m24 0h1m6 0h1m-193 1h1m1 0h1m1 0h1m9 0h1m3 0h1m2 0h1m1 0h1m11 0h1m2 0h1m5 0h1m8 0h1m10 0h1m2 0h2m3 0h1m5 0h1m1 0h1m18 0h1m2 0h1m14 0h1m5 0h1m12 0h1m2 0h1m17 0h1m2 0h1m15 0h1m4 0h1m7 0h1m9 0h2m-206 1h1m17 0h3m2 0h1m1 0h1m1 0h1m1 0h1m5 0h1m1 0h1m15 0h1m4 0h1m10 0h2m4 0h1m4 0h1m34 0h1m5 0h1m13 0h1m9 0h1m1 0h1m3 0h2m3 0h1m19 0h1m5 0h1m1 0h1m1 0h1m3 0h2m-192 1h1m2 0h1m9 0h1m3 0h1m14 0h1m8 0h1m6 0h1m3 0h1m4 0h1m13 0h1m18 0h1m5 0h1m66 0h1m1 0h1m9 0h1m7 0h1m1 0h1m-142 1h1m1 0h1m11 0h2m20 0h1m50 0h1m6 0h1m16 0h1m17 0h1m21 0h1m4 0h1m-202 1h1m14 0h1m8 0h1m5 0h1m30 0h1m5 0h1m10 0h1m56 0h1m-129 1h1m16 0h1m1 0h1m6 0h1m14 0h1m8 0h1m30 0h1m3 0h1m20 0h1m4 0h1m10 0h1m4 0h1m3 0h1m12 0h1m2 0h1m10 0h1m-164 1h1m4 0h1m8 0h1m4 0h3m10 0h1m2 0h1m10 0h1m9 0h1m7 0h2m1 0h1m25 0h1m2 0h1m10 0h1m9 0h1m12 0h1m4 0h1m10 0h1m2 0h1m25 0h1m4 0h1m7 0h1m4 0h3m4 0h1m-191 1h1m32 0h1m49 0h1m2 0h1m25 0h1m12 0h1m9 0h1m7 0h1m4 0h1m10 0h1m-172 1h1m16 0h1m1 0h1m32 0h1m4 0h1m10 0h1m1 0h1m6 0h1m84 0h1m-164 1h1m6 0h1m6 0h1m2 0h1m28 0h1m13 0h1m34 0h1m4 0h1m14 0h1m6 0h1m4 0h2m1 0h1m6 0h1m1 0h3m2 0h2m6 0h1m13 0h1m5 0h1m11 0h2m11 0h1m2 0h1m-185 1h1m8 0h1m11 0h1m22 0h1m43 0h1m1 0h1m24 0h1m5 0h1m16 0h1m7 0h1m4 0h1m15 0h1m9 0h1m-193 1h1m11 0h1m2 0h1m3 0h1m1 0h1m15 0h1m9 0h1m12 0h2m12 0h1m21 0h2m2 0h1m4 0h1m5 0h1m11 0h2m3 0h1m4 0h1m3 0h1m17 0h1m16 0h1m1 0h1m1 0h1m17 0h1m1 0h1m-157 1h1m10 0h1m6 0h1m16 0h1m6 0h1m1 0h1m13 0h1m41 0h1m5 0h1m7 0h1m19 0h1m2 0h2m23 0h1m-201 1h1m24 0h1m3 0h1m26 0h1m70 0h1m11 0h2m30 0h1m19 0h1" stroke="#92C5DE"/>
<path d="M0 0m26 0h1m11 0h1m66 0h1m6 0h1m3 0h1m5 0h2m1 0h2m8 0h1m2 0h1m5 0h1m14 0h1m27 0h1m12 0h1m3 0h1m-205 1h1m3 0h1m3 0h1m2 0h1m2 0h5m1 0h1m3 0h1m5 0h1m2 0h2m2 0h2m1 0h1m3 0h1m2 0h1m1 0h2m1 0h2m1 0h1m1 0h2m1 0h1m1 0h2m2 0h3m7 0h1m1 0h1m2 0h1m2 0h2m1 0h1m7 0h1m2 0h2m19 0h2m9 0h1m2 0h2m4 0h1m3 0h1m4 0h1m3 0h1m1 0h1m4 0h3m1 0h1m1 0h2m4 0h3m1 0h2m8 0h3m6 0h4m1 0h1m5 0h1m-206 1h1m3 0h1m1 0h1m1 0h3m2 0h4m2 0h1m6 0h1m1 0h3m2 0h3m5 0h2m1 0h4m3 0h1m1 0h1m1 0h2m5 0h1m1 0h1m2 0h3m1 0h2m4 0h1m3 0h2m1 0h2m2 0h2m6 0h3m1 0h2m3 0h2m1 0h1m1 0h1m2 0h3m13 0h3m1 0h4m4 0h1m1 0h2m1 0h2m1 0h1m1 0h3m2 0h3m1 0h1m1 0h1m1 0h1m3 0h1m3 0h1m1 0h1m1 0h2m2 0h1m5 0h1m1 0h2m2 0h1m2 0h3m3 0h3m1 0h2m-203 1h1m3 0h1m2 0h1m1 0h1m2 0h1m2 0h1m10 0h1m4 0h1m19 0h1m1 0h1m4 0h1m1 0h1m4 0h1m6 0h2m1 0h1m9 0h2m8 0h1m2 0h1m5 0h1m2 0h1m2 0h3m2 0h2m2 0h2m10 0h1m1 0h1m2 0h1m5 0h1m7 0h1m7 0h1m1 0h1m4 0h2m6 0h2m3 0h1m7 0h1m12 0h1m1 0h1m1 0h1m-199 1h1m5 0h1m2 0h1m2 0h1m6 0h2m2 0h2m5 0h1m14 0h2m5 0h1m10 0h2m2 0h2m3 0h1m4 0h1m1 0h1m1 0h1m8 0h1m4 0h1m7 0h1m2 0h2m4 0h1m17 0h1m5 0h1m2 0h2m2 0h1m2 0h1m8 0h2m4 0h2m2 0h1m1 0h2m4 0h1m11 0h2m-185 1h1m12 0h1m8 0h1m2 0h1m2 0h1m1 0h1m4 0h1m11 0h1m5 0h1m3 0h1m10 0h2m8 0h1m26 0h1m11 0h1m1 0h1m8 0h1m7 0h1m6 0h1m7 0h1m3 0h1m7 0h1m8 0h1m3 0h1m-165 1h1m1 0h1m9 0h1m11 0h1m20 0h1m1 0h1m1 0h1m3 0h1m4 0h1m19 0h2m3 0h1m15 0h1m9 0h1m5 0h1m1 0h2m17 0h1m29 0h1m4 0h1m-190 1h1m3 0h1m1 0h1m1 0h1m7 0h1m4 0h1m1 0h2m7 0h1m8 0h1m15 0h1m5 0h2m5 0h1m7 0h1m12 0h2m9 0h1m2 0h1m5 0h2m14 0h1m4 0h1m5 0h1m5 0h1m1 0h2m1 0h1m1 0h2m4 0h1m16 0h1m2 0h1m14 0h1m1 0h1m-196 1h1m1 0h1m4 0h1m1 0h1m1 0h2m2 0h1m1 0h1m5 0h1m1 0h3m2 0h1m2 0h2m14 0h1m7 0h1m3 0h1m1 0h2m3 0h2m10 0h1m3 0h1m4 0h1m6 0h1m4 0h1m1 0h1m2 0h1m1 0h2m2 0h2m5 0h1m4 0h1m8 0h1m2 0h2m1 0h1m4 0h1m3 0h1m2 0h1m1 0h2m6 0h2m13 0h1m3 0h1m5 0h1m1 0h1m7 0h1m-198 1h1m12 0h1m1 0h1m5 0h1m1 0h1m5 0h1m12 0h1m8 0h1m19 0h1m6 0h1m8 0h1m4 0h2m3 0h1m24 0h1m9 0h2m9 0h1m15 0h1m2 0h2m12 0h1m2 0h1m1 0h1m1 0h2m15 0h1m3 0h1m-197 1h2m3 0h1m15 0h2m1 0h1m3 0h1m1 0h1m6 0h2m2 0h1m16 0h1m4 0h2m1 0h2m17 0h1m3 0h1m2 0h1m7 0h2m10 0h1m5 0h1m7 0h1m10 0h1m1 0h1m3 0h1m8 0h1m3 0h1m5 0h1m15 0h1m5 0h1m7 0h1m-203 1h1m2 0h1m1 0h1m1 0h1m1 0h3m12 0h1m6 0h2m14 0h1m10 0h1m8 0h1m13 0h3m11 0h1m31 0h1m13 0h1m5 0h1m1 0h1m2 0h1m1 0h3m9 0h1m5 0h1m12 0h1m2 0h1m4 0h2m-194 1h1m2 0h2m2 0h3m4 0h1m2 0h1m4 0h2m5 0h1m3 0h1m3 0h1m7 0h2m1 0h1m1 0h4m4 0h1m3 0h1m2 0h1m4 0h1m2 0h1m1 0h1m3 0h3m1 0h1m6 0h1m4 0h2m1 0h2m1 0h1m1 0h2m9 0h1m3 0h2m10 0h1m1 0h1m1 0h2m1 0h1m2 0h1m1 0h2m5 0h2m2 0h2m2 0h2m11 0h1m13 0h1m3 0h1m14 0h1m-202 1h1m2 0h1m1 0h1m1 0h1m1 0h2m2 0h1m3 0h1m3 0h1m2 0h1m4 0h1m5 0h1m1 0h1m4 0h1m4 0h1m1 0h1m2 0h1m1 0h1m1 0h2m7 0h1m2 0h2m5 0h1m4 0h1m1 0h3m5 0h1m3 0h1m2 0h1m4 0h1m2 0h3m4 0h2m1 0h2m3 0h1m2 0h2m2 0h1m7 0h1m2 0h2m3 0h3m2 0h2m2 0h1m5 0h1m1 0h1m1 0h1m1 0h1m4 0h2m3 0h1m3 0h1m2 0h1m2 0h1m2 0h2m1 0h2m1 0h1m1 0h1m5 0h1m-198 1h1m13 0h1m2 0h1m7 0h3m3 0h1m6 0h1m2 0h1m1 0h1m3 0h1m2 0h1m5 0h1m4 0h1m7 0h1m3 0h2m3 0h1m10 0h1m3 0h1m3 0h1m5 0h4m3 0h1m5 0h1m9 0h1m2 0h1m1 0h1m17 0h1m9 0h1m6 0h2m3 0h1m3 0h1m7 0h1m2 0h1m1 0h5m-197 1h1m1 0h2m1 0h2m7 0h2m5 0h1m12 0h2m10 0h3m5 0h2m2 0h2m6 0h1m1 0h1m10 0h1m8 0h1m4 0h1m11 0h1m1 0h1m15 0h1m3 0h1m6 0h1m1 0h1m1 0h1m3 0h1m5 0h1m10 0h1m14 0h4m4 0h2m2 0h1m4 0h1m6 0h2m1 0h1m-205 1h1m4 0h1m21 0h1m14 0h1m9 0h1m4 0h1m2 0h1m1 0h1m4 0h2m11 0h1m6 0h1m7 0h1m35 0h1m7 0h2m6 0h1m16 0h1m1 0h1m6 0h1m1 0h2m29 0h1m-198 1h1m5 0h3m1 0h1m12 0h1m4 0h1m2 0h2m2 0h1m3 0h2m6 0h2m1 0h1m3 0h1m1 0h1m2 0h2m1 0h1m2 0h1m9 0h1m9 0h3m2 0h2m6 0h1m3 0h1m1 0h1m7 0h2m1 0h1m2 0h1m2 0h1m2 0h2m3 0h1m2 0h1m6 0h1m1 0h2m6 0h1m1 0h1m5 0h1m4 0h1m2 0h1m6 0h1m4 0h2m1 0h1m3 0h2m2 0h1m2 0h1m-189 1h1m4 0h1m15 0h2m2 0h1m4 0h2m9 0h1m4 0h1m6 0h2m1 0h1m11 0h1m12 0h2m1 0h1m3 0h1m1 0h1m3 0h1m1 0h1m4 0h1m27 0h1m5 0h1m15 0h1m2 0h1m6 0h1m1 0h1m2 0h1m5 0h2m8 0h1m2 0h1m4 0h1m2 0h1m-207 1h1m4 0h2m9 0h1m2 0h1m2 0h1m1 0h1m23 0h1m3 0h2m2 0h4m2 0h2m10 0h1m1 0h1m8 0h1m1 0h1m4 0h1m1 0h1m2 0h2m2 0h1m2 0h1m2 0h3m10 0h1m1 0h1m1 0h2m4 0h1m2 0h2m10 0h2m3 0h1m1 0h1m9 0h3m1 0h1m1 0h2m5 0h1m4 0h1m4 0h1m11 0h1m2 0h1m6 0h1m-208 1h3m3 0h1m1 0h1m1 0h1m2 0h1m2 0h1m3 0h2m2 0h1m2 0h1m4 0h1m2 0h4m3 0h1m6 0h1m2 0h1m4 0h1m1 0h2m8 0h2m1 0h2m2 0h1m4 0h1m3 0h2m11 0h2m10 0h1m1 0h1m1 0h2m5 0h1m6 0h3m3 0h1m2 0h1m1 0h2m1 0h1m1 0h1m2 0h3m1 0h6m1 0h2m1 0h3m1 0h3m1 0h1m7 0h3m2 0h1m1 0h1m1 0h1m2 0h1m2 0h1m6 0h1m1 0h2m3 0h1m-205 1h1m2 0h1m4 0h1m1 0h1m3 0h1m4 0h1m8 0h1m2 0h2m1 0h1m6 0h2m2 0h1m5 0h1m6 0h1m1 0h1m8 0h1m7 0h1m5 0h1m1 0h1m5 0h2m5 0h1m2 0h2m10 0h1m1 0h1m5 0h1m1 0h1m1 0h1m4 0h1m1 0h2m4 0h1m2 0h1m6 0h3m1 0h1m8 0h4m3 0h1m4 0h3m10 0h1m1 0h1m2 0h1m1 0h1m3 0h1m2 0h1m2 0h1m1 0h1m-204 1h1m4 0h1m1 0h1m1 0h1m4 0h1m5 0h1m7 0h1m4 0h1m5 0h1m5 0h1m1 0h1m2 0h2m3 0h1m9 0h1m4 0h1m7 0h1m13 0h1m3 0h1m9 0h1m3 0h1m4 0h1m3 0h1m1 0h2m2 0h1m1 0h2m4 0h3m1 0h1m1 0h2m1 0h1m2 0h1m4 0h1m15 0h1m1 0h4m2 0h1m1 0h1m8 0h1m1 0h1m1 0h1m5 0h1m1 0h1m-200 1h1m1 0h1m1 0h1m9 0h1m3 0h1m8 0h1m10 0h1m1 0h1m2 0h1m4 0h1m2 0h1m30 0h2m10 0h1m24 0h1m1 0h1m2 0h1m15 0h1m4 0h1m8 0h1m4 0h1m6 0h1m17 0h1m12 0h1m-185 1h1m8 0h1m2 0h1m1 0h1m3 0h1m18 0h1m4 0h1m7 0h1m3 0h2m6 0h1m4 0h1m12 0h1m4 0h1m7 0h1m1 0h1m7 0h1m6 0h1m14 0h1m1 0h1m16 0h1m3 0h1m6 0h1m1 0h1m13 0h1m13 0h4m3 0h1m-208 1h2m4 0h1m1 0h1m1 0h1m2 0h1m1 0h1m11 0h1m5 0h1m13 0h1m7 0h1m2 0h1m3 0h1m3 0h1m1 0h1m14 0h2m1 0h1m1 0h2m7 0h1m1 0h1m1 0h1m14 0h1m11 0h1m7 0h2m6 0h1m8 0h3m4 0h1m23 0h2m3 0h1m5 0h1m3 0h2m-175 1h1m1 0h1m7 0h1m7 0h1m1 0h1m2 0h2m1 0h1m4 0h2m3 0h1m3 0h1m1 0h1m4 0h2m3 0h3m4 0h1m3 0h1m2 0h1m20 0h1m4 0h1m2 0h1m2 0h2m1 0h1m2 0h2m12 0h1m3 0h1m6 0h1m14 0h1m4 0h1m14 0h1m6 0h4m2 0h1m-200 1h1m1 0h2m3 0h2m4 0h1m5 0h1m2 0h1m1 0h1m1 0h1m1 0h2m2 0h1m1 0h1m7 0h3m3 0h2m2 0h2m2 0h2m1 0h1m1 0h3m1 0h1m2 0h1m4 0h1m4 0h2m3 0h1m2 0h2m1 0h1m5 0h1m2 0h1m1 0h1m1 0h1m3 0h1m3 0h2m2 0h1m1 0h3m2 0h2m1 0h1m3 0h1m10 0h1m1 0h1m3 0h1m2 0h1m4 0h1m2 0h1m1 0h2m4 0h1m1 0h1m2 0h1m5 0h2m1 0h1m13 0h1m2 0h2m1 0h2m2 0h1m-207 1h1m1 0h1m4 0h4m1 0h1m3 0h3m1 0h2m4 0h1m6 0h1m2 0h1m1 0h2m12 0h1m3 0h4m3 0h1m1 0h2m1 0h2m5 0h1m2 0h1m4 0h1m2 0h2m3 0h1m1 0h1m2 0h1m1 0h1m2 0h2m5 0h2m2 0h1m4 0h2m1 0h2m1 0h2m1 0h2m2 0h1m3 0h4m3 0h2m1 0h2m6 0h2m1 0h1m2 0h6m4 0h1m1 0h1m3 0h1m1 0h2m2 0h2m3 0h1m4 0h2m2 0h1m3 0h1m1 0h1m4 0h2m-205 1h3m2 0h1m1 0h1m3 0h1m1 0h1m1 0h1m3 0h2m7 0h1m7 0h1m3 0h1m3 0h1m4 0h1m3 0h2m1 0h1m4 0h1m1 0h2m2 0h2m3 0h2m1 0h1m14 0h2m2 0h3m3 0h2m1 0h2m2 0h2m1 0h4m2 0h1m1 0h1m1 0h3m2 0h1m1 0h1m4 0h1m2 0h1m1 0h2m2 0h1m2 0h2m3 0h1m1 0h6m1 0h1m3 0h1m1 0h3m1 0h2m1 0h1m1 0h1m4 0h1m4 0h1m2 0h1m2 0h1m3 0h1m3 0h1m2 0h1m4 0h1m-208 1h2m13 0h1m3 0h1m1 0h1m1 0h1m4 0h1m2 0h2m2 0h1m2 0h2m3 0h1m1 0h1m8 0h1m6 0h1m7 0h1m3 0h1m7 0h1m3 0h1m1 0h1m6 0h3m3 0h1m1 0h1m3 0h1m3 0h1m1 0h2m2 0h1m3 0h2m7 0h1m3 0h2m1 0h1m3 0h1m10 0h1m5 0h2m3 0h1m1 0h2m2 0h2m2 0h1m1 0h4m2 0h1m2 0h2m5 0h1m3 0h1m2 0h1m1 0h1m1 0h1m3 0h3m-206 1h1m1 0h2m8 0h2m4 0h1m6 0h1m3 0h2m6 0h1m2 0h1m1 0h1m2 0h2m1 0h1m4 0h1m4 0h1m3 0h3m2 0h1m2 0h1m6 0h1m6 0h2m10 0h1m1 0h1m2 0h1m1 0h1m1 0h1m23 0h1m4 0h1m2 0h1m1 0h1m4 0h1m1 0h1m2 0h1m4 0h1m3 0h2m2 0h1m1 0h3m2 0h1m1 0h1m8 0h1m1 0h1m4 0h2m8 0h2m1 0h1m2 0h1m-201 1h3m2 0h1m3 0h1m4 0h1m2 0h1m1 0h2m1 0h2m1 0h1m4 0h1m1 0h2m5 0h1m2 0h1m1 0h1m2 0h2m1 0h2m1 0h1m1 0h1m3 0h1m2 0h2m1 0h1m2 0h1m1 0h9m3 0h3m1 0h2m2 0h1m1 0h1m2 0h1m1 0h6m1 0h2m1 0h2m1 0h1m1 0h1m3 0h1m1 0h1m2 0h1m2 0h1m3 0h1m1 0h1m3 0h1m1 0h2m2 0h1m3 0h2m2 0h2m4 0h1m2 0h1m3 0h2m3 0h1m1 0h1m1 0h1m1 0h1m1 0h1m3 0h1m1 0h1m1 0h1m4 0h1m3 0h1m5 0h1m2 0h1m-201 1h3m5 0h1m1 0h3m3 0h1m2 0h1m7 0h1m2 0h2m8 0h1m1 0h2m3 0h1m1 0h3m5 0h1m3 0h2m6 0h1m1 0h2m1 0h1m1 0h1m1 0h1m5 0h1m4 0h1m4 0h1m2 0h1m1 0h1m3 0h1m2 0h1m1 0h1m6 0h2m3 0h4m6 0h3m1 0h2m1 0h1m2 0h1m1 0h1m5 0h4m2 0h1m4 0h3m6 0h1m1 0h1m7 0h1m1 0h1m4 0h1m8 0h1m3 0h1m1 0h2m-205 1h2m2 0h1m3 0h1m2 0h1m2 0h1m8 0h1m5 0h1m2 0h2m11 0h2m1 0h1m1 0h1m1 0h2m1 0h2m2 0h1m3 0h1m2 0h2m1 0h2m6 0h1m10 0h1m3 0h1m1 0h1m2 0h1m4 0h3m4 0h2m5 0h2m4 0h1m4 0h1m19 0h1m1 0h1m1 0h1m2 0h1m7 0h2m3 0h1m3 0h1m3 0h1m1 0h1m8 0h1m2 0h2m5 0h2m-200 1h1m1 0h2m2 0h1m1 0h1m1 0h4m1 0h1m1 0h1m1 0h1m2 0h2m4 0h1m2 0h1m2 0h2m2 0h1m1 0h1m1 0h3m3 0h1m3 0h1m3 0h1m1 0h2m3 0h3m4 0h2m1 0h1m3 0h1m1 0h2m4 0h1m1 0h1m2 0h1m1 0h4m1 0h2m1 0h1m2 0h1m3 0h2m1 0h1m6 0h2m1 0h1m2 0h4m5 0h1m3 0h1m4 0h1m1 0h1m3 0h3m1 0h1m3 0h1m5 0h1m2 0h2m2 0h1m5 0h4m7 0h4m2 0h1m3 0h5m2 0h1m1 0h1m-197 1h1m1 0h1m10 0h1m4 0h1m2 0h1m2 0h1m3 0h1m2 0h1m2 0h1m1 0h1m2 0h1m7 0h1m1 0h1m1 0h1m4 0h1m7 0h1m6 0h2m1 0h1m3 0h1m1 0h1m3 0h1m6 0h2m4 0h1m2 0h2m8 0h1m2 0h2m3 0h1m3 0h1m9 0h1m5 0h4m4 0h2m1 0h1m1 0h1m1 0h2m1 0h2m2 0h2m1 0h2m1 0h1m4 0h1m3 0h1m1 0h2m3 0h2m8 0h2m1 0h1m-200 1h1m1 0h1m6 0h2m1 0h1m1 0h2m1 0h1m3 0h1m6 0h1m2 0h1m3 0h1m2 0h1m5 0h3m4 0h1m1 0h2m4 0h1m4 0h2m1 0h2m2 0h1m1 0h1m12 0h1m9 0h3m2 0h1m2 0h3m2 0h3m1 0h1m2 0h2m14 0h3m6 0h2m6 0h1m3 0h1m6 0h2m1 0h1m1 0h1m4 0h1m16 0h3m1 0h1m2 0h1m1 0h1m4 0h3m-203 1h3m6 0h1m3 0h1m1 0h1m2 0h1m5 0h1m1 0h1m2 0h1m3 0h1m1 0h4m1 0h1m5 0h2m1 0h2m1 0h1m2 0h3m4 0h1m1 0h1m4 0h1m2 0h1m1 0h1m3 0h1m2 0h2m4 0h1m5 0h1m1 0h1m2 0h1m1 0h1m1 0h7m3 0h2m3 0h1m2 0h2m2 0h1m1 0h2m2 0h4m5 0h1m1 0h1m6 0h2m2 0h1m2 0h1m9 0h1m7 0h1m4 0h1m8 0h1m2 0h1m1 0h1m4 0h1m2 0h1" stroke="#DCEAF2"/>
<path d="M0 0m17 0h1m13 0h1m9 0h1m38 0h1m11 0h1m48 0h1m26 0h1m-164 1h1m7 0h1m14 0h2m49 0h1m41 0h1m1 0h1m3 0h2m11 0h2m25 0h2m33 0h1m-196 1h1m13 0h1m3 0h1m10 0h1m2 0h1m10 0h1m1 0h1m33 0h2m15 0h2m11 0h2m21 0h2m1 0h1m35 0h1m5 0h1m-173 1h1m5 0h1m1 0h1m4 0h2m4 0h1m2 0h1m6 0h1m1 0h1m6 0h1m12 0h1m3 0h1m4 0h1m5 0h1m6 0h3m8 0h1m6 0h1m28 0h1m6 0h1m3 0h2m6 0h1m4 0h1m2 0h3m3 0h1m10 0h1m2 0h1m1 0h1m9 0h1m-188 1h1m1 0h1m3 0h1m13 0h1m5 0h1m6 0h2m4 0h1m5 0h1m2 0h2m9 0h1m6 0h2m6 0h1m13 0h1m4 0h1m19 0h1m5 0h1m5 0h2m3 0h1m8 0h1m7 0h1m9 0h1m5 0h1m4 0h1m11 0h1m3 0h1m3 0h1m3 0h2m7 0h1m-204 1h1m4 0h1m2 0h1m7 0h1m6 0h1m16 0h1m22 0h1m4 0h1m11 0h1m5 0h1m1 0h1m4 0h1m4 0h1m5 0h2m36 0h2m6 0h1m2 0h1m14 0h1m2 0h1m10 0h1m1 0h1m4 0h1m14 0h1m-197 1h2m10 0h1m1 0h1m5 0h1m19 0h1m8 0h1m5 0h2m18 0h1m1 0h3m1 0h1m15 0h1m3 0h2m1 0h1m1 0h1m19 0h1m32 0h1m5 0h1m7 0h1m1 0h1m19 0h1m-205 1h1m10 0h1m3 0h2m9 0h1m3 0h1m3 0h1m2 0h3m6 0h1m16 0h1m5 0h1m6 0h1m1 0h1m1 0h1m6 0h1m12 0h1m6 0h1m3 0h1m2 0h1m5 0h1m1 0h1m3 0h1m2 0h1m10 0h1m4 0h1m17 0h1m3 0h1m18 0h5m14 0h1m-207 1h1m2 0h1m1 0h1m2 0h2m4 0h1m24 0h1m5 0h1m1 0h1m4 0h1m2 0h1m4 0h1m5 0h1m3 0h1m11 0h1m6 0h1m4 0h1m2 0h1m27 0h1m5 0h1m4 0h1m7 0h1m1 0h2m3 0h1m4 0h1m5 0h1m6 0h1m11 0h1m5 0h1m14 0h1m-198 1h1m4 0h1m9 0h1m7 0h1m6 0h1m8 0h1m14 0h1m1 0h1m20 0h1m20 0h1m6 0h3m2 0h1m7 0h1m15 0h1m5 0h1m7 0h1m4 0h2m3 0h1m11 0h1m1 0h1m2 0h1m4 0h1m5 0h1m2 0h1m10 0h2m-204 1h1m1 0h1m13 0h1m9 0h1m1 0h1m14 0h1m12 0h1m1 0h1m1 0h1m1 0h1m16 0h1m1 0h1m2 0h1m20 0h1m1 0h1m2 0h1m51 0h2m10 0h1m4 0h1m2 0h2m19 0h1m-204 1h1m14 0h1m11 0h2m3 0h1m6 0h1m2 0h2m3 0h1m13 0h1m4 0h1m6 0h1m11 0h1m5 0h2m1 0h1m2 0h1m5 0h1m1 0h1m7 0h1m13 0h1m4 0h3m3 0h1m2 0h1m1 0h1m5 0h1m1 0h1m4 0h1m1 0h1m1 0h2m1 0h1m12 0h1m1 0h2m18 0h1m-199 1h1m9 0h1m4 0h1m2 0h1m7 0h1m2 0h1m1 0h1m23 0h1m3 0h1m8 0h1m2 0h1m4 0h1m8 0h1m52 0h1m6 0h1m14 0h1m10 0h1m1 0h1m5 0h1m6 0h1m1 0h1m15 0h1m-202 1h1m20 0h1m2 0h1m32 0h1m2 0h2m3 0h1m4 0h1m5 0h1m16 0h1m12 0h1m9 0h2m5 0h1m3 0h1m16 0h1m6 0h1m14 0h1m10 0h1m3 0h1m19 0h1m-204 1h1m2 0h1m6 0h3m2 0h1m18 0h1m3 0h2m3 0h1m4 0h1m14 0h1m16 0h2m1 0h1m2 0h1m15 0h1m10 0h1m13 0h1m10 0h1m5 0h1m2 0h1m13 0h1m12 0h1m5 0h2m2 0h2m3 0h1m1 0h1m10 0h1m-207 1h1m4 0h1m2 0h1m20 0h1m6 0h1m8 0h1m2 0h1m4 0h1m3 0h1m6 0h1m14 0h1m2 0h1m5 0h1m1 0h1m4 0h1m4 0h2m11 0h1m1 0h2m8 0h2m5 0h2m3 0h1m9 0h1m5 0h1m1 0h1m1 0h1m1 0h1m2 0h1m4 0h1m4 0h1m2 0h2m14 0h1m1 0h2m1 0h1m-194 1h1m1 0h1m9 0h1m2 0h1m4 0h1m8 0h2m1 0h1m8 0h1m7 0h1m3 0h1m15 0h1m35 0h1m6 0h1m5 0h1m1 0h3m3 0h1m9 0h1m11 0h1m2 0h1m3 0h2m2 0h1m21 0h1m21 0h1m-205 1h1m5 0h1m15 0h2m1 0h1m8 0h1m2 0h1m19 0h1m2 0h2m17 0h1m12 0h1m4 0h1m3 0h1m12 0h1m12 0h1m3 0h1m7 0h1m1 0h1m4 0h1m8 0h1m2 0h1m1 0h1m6 0h1m6 0h1m28 0h1m-179 1h1m9 0h1m15 0h1m8 0h1m16 0h1m18 0h1m1 0h1m4 0h1m12 0h2m2 0h1m1 0h1m12 0h2m1 0h1m21 0h1m6 0h1m5 0h1m5 0h1m1 0h1m6 0h1m3 0h1m4 0h1m2 0h1m-202 1h1m1 0h1m19 0h1m1 0h1m1 0h1m3 0h1m3 0h1m6 0h1m1 0h1m5 0h1m9 0h1m8 0h1m5 0h1m27 0h1m1 0h1m11 0h1m3 0h1m5 0h1m1 0h1m5 0h1m1 0h1m1 0h1m1 0h1m28 0h1m23 0h1m1 0h1m-190 1h1m15 0h1m1 0h1m2 0h1m11 0h2m14 0h1m10 0h1m25 0h1m3 0h1m19 0h1m1 0h2m4 0h1m17 0h1m29 0h1m-168 1h1m2 0h1m8 0h1m5 0h1m3 0h1m2 0h1m7 0h1m5 0h1m4 0h1m8 0h1m5 0h2m7 0h1m1 0h2m2 0h2m2 0h1m12 0h1m8 0h1m1 0h2m10 0h1m1 0h1m6 0h1m1 0h1m7 0h1m2 0h1m3 0h1m1 0h1m30 0h1m1 0h1m1 0h1m2 0h1m2 0h1m13 0h1m-202 1h2m2 0h1m14 0h1m4 0h1m7 0h1m3 0h1m2 0h1m6 0h1m3 0h1m4 0h2m2 0h2m1 0h2m6 0h1m2 0h1m1 0h1m6 0h1m6 0h1m5 0h1m10 0h1m4 0h1m65 0h1m27 0h1m-191 1h1m3 0h1m6 0h1m2 0h2m6 0h1m4 0h1m16 0h1m11 0h1m18 0h2m4 0h1m2 0h1m4 0h1m2 0h1m3 0h1m2 0h1m8 0h1m2 0h1m5 0h1m10 0h1m6 0h2m9 0h1m25 0h2m1 0h1m3 0h1m7 0h1m-202 1h2m9 0h1m15 0h2m13 0h1m9 0h1m12 0h1m6 0h1m3 0h1m3 0h1m6 0h1m5 0h1m6 0h1m1 0h2m6 0h1m2 0h1m16 0h1m5 0h1m1 0h1m9 0h1m9 0h1m7 0h1m3 0h1m15 0h1m-186 1h1m24 0h1m13 0h1m6 0h1m6 0h1m3 0h1m5 0h1m1 0h2m21 0h1m10 0h1m14 0h1m10 0h1m4 0h1m4 0h1m16 0h1m1 0h1m9 0h1m3 0h1m5 0h1m24 0h1m1 0h1m-202 1h1m25 0h1m14 0h1m21 0h1m1 0h2m12 0h1m6 0h1m3 0h1m3 0h1m11 0h1m3 0h1m1 0h1m11 0h1m13 0h1m13 0h2m10 0h1m3 0h2m2 0h1m12 0h1m4 0h1m10 0h2m-206 1h1m11 0h1m6 0h1m4 0h1m29 0h1m8 0h1m6 0h1m4 0h1m4 0h1m3 0h1m3 0h1m4 0h1m1 0h1m4 0h1m1 0h1m5 0h1m7 0h1m9 0h1m1 0h1m3 0h1m6 0h1m1 0h1m4 0h1m6 0h1m3 0h1m17 0h1m6 0h2m-154 1h1m2 0h1m8 0h1m3 0h1m5 0h1m10 0h1m12 0h1m19 0h1m9 0h1m6 0h1m24 0h1m9 0h2m14 0h1m6 0h1m10 0h1m9 0h1m-186 1h1m25 0h2m5 0h1m1 0h1m6 0h1m8 0h1m1 0h1m10 0h2m4 0h1m3 0h1m3 0h1m1 0h1m1 0h1m17 0h1m8 0h1m10 0h1m2 0h2m2 0h1m8 0h2m3 0h2m11 0h1m2 0h1m12 0h1m2 0h1m1 0h1m2 0h1m11 0h1m-196 1h1m2 0h1m6 0h1m6 0h1m1 0h1m18 0h1m6 0h1m1 0h1m13 0h2m17 0h1m15 0h1m4 0h1m17 0h1m2 0h2m10 0h1m3 0h1m5 0h3m9 0h1m3 0h1m6 0h1m7 0h1m6 0h1m3 0h1m2 0h1m-187 1h1m2 0h1m8 0h1m9 0h1m1 0h1m5 0h1m3 0h1m5 0h1m5 0h3m3 0h1m16 0h1m1 0h1m4 0h1m6 0h2m1 0h1m13 0h1m7 0h1m2 0h1m3 0h1m5 0h1m4 0h1m1 0h2m17 0h1m4 0h1m3 0h1m9 0h1m3 0h2m17 0h1m-193 1h1m12 0h1m3 0h1m36 0h1m1 0h1m9 0h1m24 0h1m19 0h1m5 0h1m6 0h1m9 0h1m5 0h1m3 0h1m4 0h1m35 0h1m8 0h1m1 0h1m6 0h1m-207 1h1m11 0h1m9 0h2m3 0h2m2 0h1m2 0h1m5 0h1m1 0h1m30 0h1m11 0h1m7 0h1m6 0h2m1 0h1m3 0h1m4 0h1m1 0h1m4 0h1m2 0h1m1 0h1m13 0h1m4 0h1m18 0h1m4 0h1m4 0h1m18 0h1m6 0h1m1 0h1m-200 1h1m10 0h1m2 0h1m2 0h1m8 0h2m7 0h1m3 0h1m4 0h1m24 0h1m6 0h1m7 0h1m2 0h1m3 0h1m14 0h1m2 0h1m22 0h2m1 0h1m5 0h1m15 0h1m15 0h2m11 0h1m5 0h1m-176 1h1m13 0h1m14 0h1m1 0h1m3 0h1m21 0h1m20 0h1m2 0h1m2 0h1m10 0h1m7 0h2m5 0h3m2 0h2m34 0h3m-169 1h1m7 0h1m2 0h2m2 0h1m5 0h2m2 0h1m5 0h1m2 0h1m8 0h1m5 0h1m7 0h1m4 0h1m1 0h1m2 0h2m11 0h1m47 0h1m5 0h1m20 0h1m11 0h1m5 0h1m10 0h2m7 0h1m7 0h1m-205 1h1m4 0h1m1 0h1m9 0h1m5 0h1m32 0h1m8 0h1m1 0h1m44 0h1m12 0h1m6 0h2m1 0h1m6 0h1m20 0h1m9 0h1m23 0h1m-196 1h1m19 0h1m7 0h1m18 0h2m5 0h1m7 0h1m20 0h1m8 0h2m6 0h1m12 0h1m4 0h1m19 0h1m32 0h1m10 0h1m4 0h1m6 0h1m3 0h1" stroke="#F7F1EC"/>
<path d="M0 0m0 0h1m2 0h1m7 0h1m2 0h1m4 0h1m2 0h1m6 0h1m12 0h1m3 0h1m9 0h1m1 0h1m1 0h1m16 0h1m3 0h1m6 0h1m5 0h4m-96 3h2m13 0h1m3 0h1m7 0h1m14 0h1m9 0h1m6 0h1m8 0h1m17 0h1m11 0h1m16 0h1m3 0h1m3 0h1m5 0h1m39 0h1m-172 1h1m2 0h1m3 0h1m9 0h1m18 0h1m10 0h1m3 0h1m22 0h1m20 0h2m1 0h1m1 0h1m1 0h1m2 0h1m14 0h1m12 0h1m13 0h1m6 0h1m5 0h1m5 0h1m2 0h1m15 0h2m2 0h1m8 0h1m-195 1h1m3 0h1m7 0h1m4 0h1m1 0h1m7 0h1m3 0h1m7 0h1m18 0h1m4 0h1m15 0h1m14 0h1m5 0h1m7 0h1m20 0h1m3 0h1m10 0h1m1 0h1m5 0h1m2 0h1m3 0h2m2 0h1m3 0h1m3 0h1m6 0h1m2 0h1m12 0h1m2 0h2m-199 1h1m15 0h1m8 0h1m3 0h1m6 0h1m3 0h1m3 0h1m6 0h1m17 0h1m1 0h1m2 0h1m4 0h1m13 0h2m14 0h1m3 0h1m1 0h1m3 0h1m7 0h1m10 0h3m4 0h1m6 0h1m9 0h1m1 0h1m8 0h1m9 0h1m11 0h1m-190 1h1m3 0h1m10 0h1m10 0h1m43 0h1m4 0h1m12 0h1m6 0h1m8 0h1m24 0h1m8 0h1m1 0h1m2 0h1m1 0h1m27 0h1m10 0h1m6 0h2m-201 1h1m59 0h1m1 0h1m14 0h2m6 0h1m2 0h1m23 0h1m7 0h1m3 0h1m2 0h1m2 0h1m68 0h1m-195 1h1m4 0h1m2 0h1m30 0h2m9 0h1m6 0h1m12 0h1m6 0h1m2 0h1m16 0h1m16 0h2m1 0h1m4 0h1m1 0h1m10 0h3m15 0h1m8 0h2m7 0h1m4 0h1m18 0h1m-201 1h1m65 0h1m3 0h1m17 0h1m1 0h2m1 0h1m22 0h2m7 0h1m2 0h2m11 0h1m2 0h1m8 0h1m2 0h1m1 0h2m17 0h1m21 0h1m3 0h1m-185 1h1m2 0h1m9 0h1m3 0h1m5 0h1m12 0h1m2 0h1m29 0h1m11 0h1m20 0h1m2 0h1m24 0h1m10 0h1m6 0h1m21 0h1m1 0h1m3 0h2m1 0h1m3 0h1m-148 1h1m113 0h1m28 0h1m-161 1h1m18 0h1m31 0h1m23 0h1m25 0h1m28 0h1m-148 1h1m46 0h1m3 0h1m4 0h1m3 0h1m25 0h1m25 0h1m13 0h2m1 0h1m13 0h1m1 0h1m3 0h1m28 0h1m1 0h1m-181 1h1m60 0h1m34 0h1m9 0h1m19 0h1m1 0h1m13 0h1m8 0h1m2 0h1m6 0h1m7 0h1m8 0h1m-202 1h1m6 0h1m6 0h1m6 0h2m2 0h1m3 0h2m5 0h1m22 0h1m6 0h1m3 0h2m1 0h2m3 0h2m11 0h1m25 0h1m12 0h2m10 0h2m17 0h1m4 0h1m1 0h1m2 0h3m8 0h2m1 0h1m3 0h2m8 0h4m-194 1h1m51 0h1m9 0h1m19 0h1m15 0h1m19 0h1m28 0h1m16 0h1m-173 1h1m10 0h1m27 0h1m6 0h1m8 0h1m1 0h1m6 0h1m23 0h2m1 0h1m9 0h1m22 0h1m7 0h1m2 0h1m6 0h1m5 0h1m10 0h1m7 0h1m1 0h2m10 0h1m1 0h1m8 0h1m-183 1h1m5 0h1m15 0h1m15 0h1m15 0h1m4 0h1m1 0h2m4 0h1m16 0h1m4 0h1m17 0h1m9 0h1m2 0h1m25 0h1m7 0h1m6 0h2m8 0h1m5 0h1m-185 1h1m17 0h1m20 0h1m17 1h1m24 0h1m3 0h1m-91 1h1m6 0h2m1 0h1m5 0h2m13 0h1m1 0h1m6 0h1m9 0h1m9 0h1m5 0h2m2 0h1m33 0h1m1 0h1m14 0h2m1 0h1m30 0h2m2 0h1m3 0h1m2 0h1m16 0h1m4 0h1m15 0h1m-202 1h1m4 0h1m5 0h1m8 0h1m2 0h1m25 0h1m4 0h2m1 0h1m1 0h1m8 0h2m10 0h1m19 0h1m4 0h1m3 0h1m2 0h1m2 0h1m3 0h1m7 0h1m1 0h1m10 0h1m7 0h1m2 0h2m8 0h2m19 0h1m1 0h1m6 0h1m3 0h1m6 0h2m-205 1h1m16 0h2m18 0h1m2 0h1m13 0h1m15 0h1m1 0h1m3 0h1m5 0h2m15 0h1m2 0h1m30 0h1m22 0h1m3 0h1m3 0h1m26 0h1m2 0h1m-194 1h1m15 0h2m3 0h1m9 0h1m9 0h1m33 0h1m3 0h1m7 0h1m5 0h1m15 0h1m9 0h2m1 0h2m4 0h1m17 0h1m2 0h1m4 0h1m3 0h1m9 0h1m1 0h1m1 0h1m15 0h1m1 0h1m7 0h1m-162 1h2m5 0h2m7 0h1m4 0h1m26 0h1m16 0h1m2 0h1m11 0h1m1 0h1m3 0h1m5 0h1m6 0h2m11 0h1m16 0h1m7 0h1m5 0h1m7 0h1m15 0h1m-89 1h1m46 0h1m2 0h1m21 0h1m-163 1h1m25 0h1m36 0h1m12 0h1m67 0h1m-96 2h1m102 0h1m-181 1h1m59 0h1m23 0h1m11 0h1m14 0h1m5 0h1m5 0h1m3 0h3m6 0h1m5 0h1m10 0h2m19 0h1m9 0h1m15 0h1m-201 1h1m27 0h1m164 0h1m-26 1h1m-140 1h1m12 0h1m31 0h1m7 0h1m5 0h1m30 0h1m25 0h1m14 0h1m1 0h1m3 0h1m18 0h1m15 0h2m-184 1h1m8 0h2m36 0h1m-37 1h1m1 0h1m1 0h1m22 0h1m37 0h1m7 0h1m2 0h1m5 0h1m2 0h1m3 0h1m2 0h1m4 0h1m6 0h2m62 0h1m5 0h2m-28 2h1" stroke="#FDDBC7"/>
<path d="M0 0m6 0h2m1 0h2m12 0h3m1 0h1m5 0h1m2 0h1m6 0h2m5 0h1m2 0h1m12 0h2m1 0h1m2 0h1m1 0h2m3 0h1m3 0h3m3 0h1m3 0h1m5 0h1m-76 3h1m56 0h1m2 0h1m70 0h1m24 0h1m-176 1h1m52 0h1m1 0h1m14 0h1m9 0h1m21 0h1m16 0h1m10 0h1m10 0h1m10 0h1m15 0h1m9 0h1m15 0h1m1 0h1m1 0h1m-198 1h1m6 0h1m6 0h1m9 0h1m3 0h1m24 0h1m14 0h1m2 0h1m3 0h1m11 0h1m14 0h1m5 0h1m7 0h2m1 0h1m9 0h1m7 0h1m9 0h1m7 0h1m14 0h1m13 0h1m2 0h1m5 0h1m-187 1h1m5 0h1m12 0h1m19 0h1m1 0h1m1 0h1m3 0h1m2 0h2m12 0h1m2 0h1m3 0h1m7 0h2m9 0h1m4 0h1m24 0h1m18 0h1m5 0h1m1 0h1m2 0h1m1 0h1m7 0h1m10 0h1m8 0h1m4 0h1m2 0h1m5 0h1m-201 1h1m7 0h1m3 0h1m22 0h1m14 0h1m28 0h1m35 0h1m38 0h1m24 0h1m-13 1h1m-175 1h1m8 0h1m13 0h1m15 0h1m31 0h1m1 0h1m2 0h1m1 0h1m13 0h1m1 0h1m4 0h1m1 0h1m14 0h2m8 0h1m7 0h1m3 0h1m1 0h2m19 0h1m6 0h1m7 0h1m13 0h1m-191 1h1m23 0h1m19 0h1m2 0h1m5 0h1m3 0h1m6 0h1m1 0h1m6 0h1m7 0h1m12 0h1m2 0h1m3 0h1m2 0h1m17 0h1m5 0h1m4 0h2m7 0h1m8 0h1m5 0h1m11 0h1m10 0h1m2 0h1m4 0h1m5 0h1m3 0h2m4 0h1m-189 1h1m5 0h1m14 0h1m3 0h1m10 0h2m1 0h1m11 0h1m33 0h1m17 0h1m17 2h1m-121 1h1m9 0h1m29 0h1m41 0h1m8 0h1m29 0h1m20 0h1m10 0h1m5 0h2m-89 1h1m4 0h1m11 0h1m97 0h1m-197 1h1m1 0h2m4 0h1m24 0h1m4 0h1m13 0h1m4 0h1m1 0h1m30 0h1m10 0h1m6 0h1m2 0h1m8 0h1m4 0h1m15 0h1m14 0h1m5 0h1m15 0h2m4 0h1m4 0h1m7 0h1m-203 2h1m2 0h1m1 0h1m5 0h1m2 0h1m6 0h1m6 0h1m9 0h1m4 0h1m2 0h1m2 0h1m10 0h1m4 0h1m3 0h1m3 0h1m7 0h1m6 0h1m20 0h1m13 0h1m2 0h1m15 0h1m9 0h1m7 0h1m2 0h1m22 0h1m-177 1h1m1 0h1m75 0h1m69 0h1m12 0h1m3 0h1m11 0h1m-176 3h1m47 0h1m35 0h1m16 0h3m17 0h1m5 0h1m14 0h1m7 0h1m20 0h1m3 0h1m1 0h1m-180 1h1m4 0h1m28 0h1m19 0h1m2 0h1m3 0h1m14 0h1m24 0h1m5 0h1m15 0h1m4 0h1m7 0h1m53 0h1m-194 1h1m2 0h1m3 0h2m21 0h1m2 0h1m4 0h2m12 0h1m1 0h1m49 0h1m14 0h1m7 0h1m15 0h1m3 0h1m10 0h1m6 0h1m9 0h1m19 0h1m-130 1h1m18 0h1m8 0h1m36 0h1m35 0h1m19 0h1m-193 1h1m5 0h1m5 0h1m41 0h1m5 0h1m18 0h1m8 0h1m6 0h1m1 0h3m1 0h1m2 0h1m54 0h1m36 0h1m-200 4h1m4 1h1m21 0h1m3 0h1m9 0h1m34 0h1m15 0h1m24 0h1m37 0h1m7 0h1m14 0h1m13 0h1m-190 3h1m57 0h1m12 0h1m37 0h1m1 0h1m30 0h1m7 0h1m3 0h1m-18 2h1m7 0h1" stroke="#F4A582"/>
<path d="M0 0m1 0h2m2 0h1m6 0h1m3 0h1m1 0h1m1 0h2m8 0h1m6 0h1m1 0h2m6 0h2m2 0h2m1 0h1m8 0h3m2 0h1m2 0h1m1 0h1m2 0h1m1 0h1m3 0h1m3 0h2m2 0h1m7 0h1m-96 1h1m111 0h1m29 0h1m4 0h1m32 0h1m-73 1h1m-112 1h1m79 0h1m47 0h1m-104 1h1m1 0h1m28 0h1m32 0h1m3 0h1m12 0h1m12 0h1m16 0h1m25 0h1m28 0h1m-155 1h1m35 0h1m18 0h1m4 0h1m1 0h1m1 0h1m3 0h1m4 0h1m2 0h1m12 0h2m60 0h1m11 0h1m2 0h1m-203 1h1m4 0h1m27 0h1m34 0h1m24 0h1m33 0h1m21 0h2m12 0h1m13 0h1m12 0h1m4 0h1m-164 1h2m13 0h1m23 0h1m3 0h1m43 0h1m10 0h1m-74 1h1m15 0h1m64 0h1m57 0h1m-197 1h1m11 0h1m3 0h1m1 0h1m7 0h1m1 0h1m7 0h1m4 0h2m18 0h1m7 0h1m15 0h1m1 0h1m4 0h1m3 0h1m21 0h1m28 0h1m2 0h1m-122 1h1m5 0h1m46 0h1m2 0h1m28 0h1m8 0h1m1 0h1m13 0h1m6 0h1m20 0h1m3 0h1m2 0h2m10 0h1m19 0h1m-165 1h1m63 0h1m5 0h2m9 0h2m64 0h1m-84 1h1m7 0h1m37 0h1m38 0h1m-150 1h1m22 1h1m65 0h1m-79 1h1m30 0h1m85 0h1m27 0h1m-181 1h1m4 0h1m13 0h1m1 0h1m7 0h1m1 0h2m5 0h1m24 0h1m1 0h3m3 0h1m1 0h1m20 0h1m12 0h1m10 0h1m7 0h1m1 0h1m2 0h1m2 0h1m1 0h1m1 0h1m2 0h1m2 0h1m11 0h1m4 0h2m12 0h1m-174 1h1m21 0h1m75 0h2m-82 1h1m24 0h1m22 0h2m19 0h1m18 0h1m2 0h1m16 0h1m49 0h1m6 0h1m-197 1h1m29 0h1m49 0h1m22 0h1m20 0h1m60 0h1m4 0h1m-154 1h1m5 0h1m-6 1h1m-24 1h1m12 0h1m74 0h1m3 0h1m71 0h1m-166 1h1m23 0h1m9 0h1m7 0h1m17 0h1m4 0h1m12 0h1m4 0h1m5 0h1m38 0h1m7 0h1m29 0h1m-184 1h1m10 0h1m6 0h1m4 0h1m18 0h1m5 0h1m4 0h1m17 0h1m3 0h2m33 0h1m10 0h1m3 0h1m3 0h1m13 0h1m3 0h1m12 0h1m24 0h1m3 0h1m-146 1h1m31 0h1m33 0h1m1 0h1m14 0h1m17 0h1m23 0h1m-169 1h3m1 0h1m7 0h1m57 0h1m24 0h1m57 0h2m1 0h1m-121 1h1m64 0h1m3 0h1m4 0h1m54 0h1m21 0h1m-132 1h1m13 0h1m11 0h1m-62 1h1m5 0h1m11 0h1m18 0h1m112 0h1m28 0h1m-99 1h1m8 0h1m64 0h1m20 0h1m-121 1h1m31 0h1m43 0h1m-137 1h1m8 0h1m12 0h1m5 0h1m82 0h1m-84 1h1m89 0h1m6 0h1m-76 1h1m6 0h1m22 0h1m90 0h1m-84 1h1m47 0h1m30 0h1m-164 1h1m46 0h1m109 0h1m-147 1h1m14 0h1m32 0h1m6 0h1m1 0h1m80 0h1m12 0h1m12 0h1m-150 1h1m28 0h1m65 0h1m52 0h1m5 0h1" stroke="#D6604D"/>
<path d="M0 0m8 0h1m4 0h1m14 0h1m3 0h1m1 0h2m9 0h1m3 0h1m5 0h1m1 0h1m1 0h1m2 0h1m28 0h1m-65 1h1m61 0h1m10 0h1m5 0h1m4 0h1m1 0h2m1 0h2m28 0h1m4 0h1m27 0h1m-140 1h1m39 0h1m12 0h1m13 0h1m37 0h1m47 0h1m-100 1h1m11 0h2m1 0h1m17 0h1m17 0h1m1 0h1m35 0h1m-161 1h1m56 0h1m30 0h1m38 0h1m42 0h1m6 0h1m3 0h1m-157 1h2m19 0h1m8 0h1m6 0h2m37 0h1m26 0h1m16 0h1m3 0h1m8 0h1m15 0h1m6 0h1m-198 1h1m18 0h1m12 0h1m18 0h1m78 0h1m7 0h2m24 0h2m1 0h1m6 0h1m-109 1h1m17 0h1m2 0h2m17 0h1m31 0h1m25 0h1m3 0h1m-127 1h1m35 0h1m5 0h1m58 0h1m2 0h1m-116 1h1m10 0h1m1 0h2m2 0h1m11 0h1m1 0h1m57 0h1m4 0h1m14 0h1m2 0h1m6 0h1m13 0h1m2 0h1m6 0h1m13 0h1m4 0h1m3 0h1m-198 1h1m14 0h1m2 0h1m25 0h1m2 0h1m3 0h1m82 0h1m3 0h1m7 0h1m16 0h2m9 0h1m15 0h1m-183 1h1m83 0h1m11 0h1m27 0h1m3 0h1m1 0h1m39 0h1m10 0h1m-175 1h1m53 0h1m1 0h1m39 0h1m6 0h1m2 0h1m14 0h1m37 0h1m12 0h2m8 0h1m-203 1h1m12 0h1m4 0h1m41 0h1m26 0h1m3 0h1m31 0h1m-125 1h1m71 0h1m2 0h1m42 0h1m9 0h1m15 0h1m-131 1h1m50 0h1m2 0h1m21 0h1m15 0h1m6 0h1m21 0h1m6 0h1m-142 1h1m1 0h1m8 0h1m23 0h1m1 0h1m2 0h1m6 0h1m4 0h1m20 0h1m1 0h1m17 0h1m5 0h2m1 0h2m5 0h1m10 0h1m13 0h1m41 0h2m11 0h1m4 0h1m1 0h1m-180 1h1m3 0h1m6 0h1m43 0h1m5 0h1m3 0h1m65 0h1m3 0h1m22 0h1m13 0h1m7 0h1m4 0h1m-195 1h1m4 0h1m32 0h1m6 0h1m22 0h1m4 0h1m22 0h1m8 0h1m34 0h1m26 0h1m-141 1h1m7 0h1m5 0h1m2 0h1m22 0h1m2 0h1m3 0h1m8 0h1m32 0h1m77 0h1m-161 1h1m29 0h1m5 0h1m24 0h1m29 0h1m44 0h1m7 0h1m2 0h1m-179 1h1m11 0h1m12 0h1m50 0h1m69 0h1m36 0h1m-170 1h1m7 0h1m37 0h1m11 0h1m59 0h1m14 0h1m20 0h1m16 0h1m7 0h1m-202 1h1m3 0h1m66 0h2m16 0h1m9 0h1m14 0h1m28 0h1m11 0h1m46 0h1m-183 1h2m133 0h1m3 0h1m-143 1h2m40 0h1m42 0h1m3 0h1m1 0h1m13 0h1m59 0h1m10 0h1m-190 1h1m3 0h1m1 0h2m2 0h1m18 0h1m12 0h1m55 0h1m26 0h2m14 0h1m10 0h1m1 0h1m1 0h3m13 0h1m3 0h1m16 0h1m-141 1h1m75 0h1m47 0h1m17 0h1m-181 1h1m20 0h1m8 0h1m18 0h1m36 0h2m75 0h1m-156 1h1m16 0h1m4 0h1m83 0h1m48 0h1m5 0h1m10 0h2m-182 1h1m21 0h1m15 0h2m3 0h1m12 0h1m5 0h1m18 0h1m1 0h1m42 0h1m37 0h1m15 0h1m-194 1h1m64 0h1m7 0h1m6 0h1m17 0h1m1 0h1m32 0h1m5 0h1m-151 1h1m25 0h1m27 0h1m89 0h1m24 0h1m4 0h1m5 0h2m2 0h1m-177 1h2m54 0h1m21 0h1m19 0h1m44 0h1m5 0h1m2 0h1m13 0h1m2 0h1m3 0h1m2 0h1m19 0h1m-201 1h1m4 0h1m11 0h1m2 0h1m1 0h1m24 0h1m35 0h1m13 0h1m23 0h1m31 0h1m20 0h1m10 0h1m-186 1h1m4 0h1m11 0h1m4 0h1m49 0h1m11 0h2m50 0h1m1 0h1m17 0h1m2 0h1m2 0h1m5 0h1m5 0h2m-180 1h1m40 0h1m9 0h1m37 0h1m1 0h1m2 0h1m19 0h1m-86 1h1m7 0h1m58 0h1m19 0h1m6 0h1m3 0h1m3 0h1m2 0h1m15 0h1m15 0h1m13 0h1m1 0h1m1 0h1m9 0h1m-159 1h1m56 0h1m29 0h1m4 0h1m27 0h1m4 0h1m1 0h2m2 0h1m12 0h1m4 0h2m11 0h1" stroke="#B2182B"/>
<path d="M0 0m15 0h1m45 0h1m8 0h1m9 1h1m7 0h1m12 0h5m1 0h4m1 0h1m5 0h1m3 0h1m6 0h1m63 0h1m-174 1h1m16 0h2m35 0h1m1 0h1m41 0h11m-122 1h1m29 0h4m10 0h1m66 0h1m10 0h2m37 0h1m5 0h1m18 0h1m12 0h1m-89 1h1m3 0h1m8 0h1m24 0h1m22 0h1m26 0h1m-181 1h2m23 0h3m22 0h1m14 0h1m39 0h1m-105 1h1m46 0h1m4 0h1m15 0h1m104 0h1m3 0h1m-197 1h1m42 0h1m2 0h1m3 0h1m34 0h1m73 0h1m1 0h1m2 0h1m1 0h1m9 0h1m8 0h1m-168 1h1m19 0h1m1 0h1m2 0h1m2 0h1m8 0h1m7 0h1m20 0h1m6 0h1m8 0h1m63 0h1m20 0h1m10 0h1m-157 1h1m40 0h1m15 0h1m67 0h1m14 0h1m4 0h1m3 0h1m-175 1h1m2 0h1m44 0h1m17 0h1m1 0h1m24 0h1m18 0h1m64 0h1m-178 1h1m3 0h1m8 0h1m17 0h1m8 0h1m2 0h1m22 0h1m27 0h1m14 0h1m38 0h1m2 0h1m-160 1h1m12 0h1m14 0h1m7 0h1m11 0h1m2 0h1m13 0h1m9 0h1m33 0h1m8 0h1m44 0h1m18 0h1m-172 1h1m9 0h1m10 0h1m6 0h1m77 0h1m3 0h1m8 0h1m9 0h1m-154 1h1m9 0h2m22 0h1m17 0h1m20 0h1m17 0h1m31 0h1m10 0h1m34 0h1m-170 1h1m30 0h1m13 0h1m28 0h1m3 0h1m12 0h1m9 0h1m13 0h1m10 0h1m15 0h1m3 0h1m20 0h1m3 0h1m-119 1h1m6 0h1m1 0h1m11 0h1m3 0h1m2 0h1m3 0h1m1 0h1m4 0h1m5 0h1m6 0h1m4 0h1m75 0h1m6 0h1m8 0h1m-199 1h1m41 0h1m6 0h1m27 0h1m3 0h1m17 0h1m11 0h1m3 0h1m4 0h1m18 0h1m24 0h1m7 0h1m-160 1h1m3 0h1m21 0h1m34 0h1m1 0h1m13 0h1m13 0h2m5 0h1m5 0h1m10 0h1m21 0h1m21 0h1m1 0h1m10 0h1m-171 1h1m33 0h1m26 0h2m5 0h1m29 0h1m18 0h1m15 0h1m-150 1h1m13 0h1m28 0h1m19 0h1m13 0h2m3 0h3m5 0h1m4 0h4m7 0h1m11 0h1m8 0h1m12 0h1m14 0h1m43 0h1m-194 1h1m10 0h1m4 0h1m23 0h1m53 0h1m5 0h1m48 0h1m13 0h1m23 0h1m-194 1h1m16 0h1m71 0h1m45 0h1m-114 1h1m26 0h1m138 0h1m-105 1h1m21 0h1m35 0h1m2 0h1m23 0h1m12 0h1m10 0h1m-126 1h1m19 0h1m14 0h1m31 0h1m1 0h1m37 0h3m19 0h1m1 0h1m-193 1h1m1 0h1m49 0h1m21 0h1m24 0h1m21 0h1m2 0h1m1 0h1m57 0h1m7 0h1m-164 1h1m3 0h1m38 0h1m1 0h1m21 0h1m3 0h1m31 0h1m52 0h1m-183 1h1m3 0h1m5 0h1m1 0h1m9 0h1m42 0h1m3 0h1m5 0h1m4 0h1m10 0h1m31 0h1m65 0h1m-200 1h1m6 0h1m11 0h1m55 0h1m3 0h1m9 0h1m16 0h1m13 0h1m33 0h1m14 0h1m1 0h1m-144 1h1m3 0h1m36 0h1m1 0h1m7 0h1m3 0h1m22 0h1m12 0h1m2 0h1m58 0h2m3 0h1m1 0h1m-169 1h1m11 0h1m7 0h1m16 0h1m10 0h1m6 0h1m7 0h1m4 0h1m14 0h1m7 0h1m25 0h1m27 0h1m15 0h1m6 0h1m10 0h1m-201 1h1m4 0h1m11 0h1m44 0h1m17 0h1m70 0h1m1 0h1m10 0h1m9 0h1m3 0h1m-179 1h1m21 0h1m3 0h1m10 0h1m8 0h1m9 0h2m22 0h1m24 0h1m22 0h1m17 0h1m29 0h1m1 0h1m6 0h1m2 0h1m-182 1h1m11 0h1m8 0h1m5 0h1m27 0h2m16 0h1m1 0h1m6 0h1m66 0h1m7 0h1m2 0h1m8 0h3m13 0h1m7 0h1m-181 1h1m2 0h1m13 0h1m42 0h1m1 0h1m25 0h1m37 0h1m6 0h1m22 0h3m1 0h1m4 0h1m13 0h1m-200 1h1m1 0h2m1 0h1m39 0h1m3 0h1m2 0h1m9 0h1m6 0h1m10 0h1m25 0h1m40 0h1m8 0h1m6 0h1m10 0h1m1 0h3m6 0h1m-181 1h1m14 0h1m26 0h1m2 0h1m15 0h1m2 0h1m15 0h1m36 0h1m1 0h1m11 0h1m30 0h2m4 0h1m3 0h1m4 0h1m3 0h1m10 0h1m2 0h1m-205 1h1m24 0h1m9 0h1m10 0h1m1 0h1m9 0h1m12 0h1m34 0h1m20 0h1m30 0h2m11 0h1m9 0h2" stroke="#67001F"/>
</g>
<text x="1660.8" y="2007.3" font-size="18.8" font-style="italic" fill="#808080">ERG</text>
<text x="1660.8" y="2025.1" font-size="18.8" font-style="italic" fill="#808080">ETV1</text>
<text x="1660.8" y="2043" font-size="18.8" font-style="italic" fill="#808080">ETV4</text>
<text x="1660.8" y="2060.8" font-size="18.8" font-style="italic" fill="#808080">ETV5</text>
<text x="1660.8" y="2078.7" font-size="18.8" font-style="italic" fill="#808080">FLI1</text>
<text x="1660.8" y="2096.5" font-size="18.8" font-style="italic" fill="#D03A22">TFF3</text>
<text x="1660.8" y="2114.4" font-size="18.8" font-style="italic" fill="#D03A22">OR51E2</text>
<text x="1660.8" y="2132.2" font-size="18.8" font-style="italic" fill="#D03A22">HSD17B6</text>
<text x="1660.8" y="2150.1" font-size="18.8" font-style="italic" fill="#D03A22">RLN1</text>
<text x="1660.8" y="2167.9" font-size="18.8" font-style="italic" fill="#D03A22">TMEFF2</text>
<text x="1660.8" y="2185.8" font-size="18.8" font-style="italic" fill="#D03A22">PRIM2</text>
<text x="1660.8" y="2203.6" font-size="18.8" font-style="italic" fill="#3A78B8">SFTPA2</text>
<text x="1660.8" y="2221.4" font-size="18.8" font-style="italic" fill="#3A78B8">CST1</text>
<text x="1660.8" y="2239.3" font-size="18.8" font-style="italic" fill="#3A78B8">CST4</text>
<text x="1660.8" y="2257.1" font-size="18.8" font-style="italic" fill="#3A78B8">GCSAML</text>
<text x="1660.8" y="2275" font-size="18.8" font-style="italic" fill="#3A78B8">PGC</text>
<text x="1660.8" y="2292.8" font-size="18.8" font-style="italic" fill="#3DB33D">NEFH</text>
<text x="1660.8" y="2310.7" font-size="18.8" font-style="italic" fill="#3DB33D">AOC1</text>
<text x="1660.8" y="2328.5" font-size="18.8" font-style="italic" fill="#3DB33D">CPM</text>
<text x="1660.8" y="2346.4" font-size="18.8" font-style="italic" fill="#3DB33D">CD177</text>
<text x="1660.8" y="2364.2" font-size="18.8" font-style="italic" fill="#3DB33D">CCK</text>
<text x="1660.8" y="2382" font-size="18.8" font-style="italic" fill="#9B4FB0">TGM4</text>
<text x="1660.8" y="2399.9" font-size="18.8" font-style="italic" fill="#9B4FB0">SYT16</text>
<text x="1660.8" y="2417.7" font-size="18.8" font-style="italic" fill="#9B4FB0">CDK19</text>
<text x="1660.8" y="2435.6" font-size="18.8" font-style="italic" fill="#9B4FB0">GATA2</text>
<text x="1660.8" y="2453.4" font-size="18.8" font-style="italic" fill="#9B4FB0">GSTA1</text>
<text x="1660.8" y="2471.3" font-size="18.8" font-style="italic" fill="#9B4FB0">PSCA</text>
<text x="1660.8" y="2489.1" font-size="18.8" font-style="italic" fill="#E8872A">SCGB3A1</text>
<text x="1660.8" y="2507" font-size="18.8" font-style="italic" fill="#E8872A">SCGB1A1</text>
<text x="1660.8" y="2524.8" font-size="18.8" font-style="italic" fill="#E8872A">KRT4</text>
<text x="1660.8" y="2542.7" font-size="18.8" font-style="italic" fill="#E8872A">LTF</text>
<text x="1660.8" y="2560.5" font-size="18.8" font-style="italic" fill="#E8872A">PIGR</text>
<text x="1660.8" y="2578.3" font-size="18.8" font-style="italic" fill="#E0409A">KRT5</text>
<text x="1660.8" y="2596.2" font-size="18.8" font-style="italic" fill="#E0409A">KRT13</text>
<text x="1660.8" y="2614" font-size="18.8" font-style="italic" fill="#E0409A">KRT17</text>
<text x="1660.8" y="2631.9" font-size="18.8" font-style="italic" fill="#E0409A">KRT14</text>
<text x="1660.8" y="2649.7" font-size="18.8" font-style="italic" fill="#E0409A">KRT15</text>
<text x="1660.8" y="2667.6" font-size="18.8" font-style="italic" fill="#3DAE8E">CHGA</text>
<text x="1660.8" y="2685.4" font-size="18.8" font-style="italic" fill="#3DAE8E">CHGB</text>
<path d="M1762,1997.9V2076.1" stroke="#808080" stroke-width="2.2"/>
<text x="1772" y="2044.2" font-size="21" fill="#808080">ETS</text>
<path d="M1762,2087.1V2183.2" stroke="#D03A22" stroke-width="2.2"/>
<text x="1772" y="2142.4" font-size="21" fill="#D03A22">Type 2 lum</text>
<path d="M1762,2194.2V2272.4" stroke="#3A78B8" stroke-width="2.2"/>
<text x="1772" y="2240.5" font-size="21" fill="#3A78B8"><tspan font-style="italic">SFTPA2+</tspan> lum</text>
<path d="M1762,2283.4V2361.6" stroke="#3DB33D" stroke-width="2.2"/>
<text x="1772" y="2329.7" font-size="21" fill="#3DB33D">Type 1 lum</text>
<path d="M1762,2372.6V2468.7" stroke="#9B4FB0" stroke-width="2.2"/>
<text x="1772" y="2427.9" font-size="21" fill="#9B4FB0"><tspan font-style="italic">TGM4+</tspan> lum</text>
<path d="M1762,2479.7V2557.9" stroke="#E8872A" stroke-width="2.2"/>
<text x="1772" y="2526" font-size="21" fill="#E8872A">dLum</text>
<path d="M1762,2568.9V2647.2" stroke="#E0409A" stroke-width="2.2"/>
<text x="1772" y="2615.3" font-size="21" fill="#E0409A">Basal &amp; Hillock</text>
<path d="M1762,2657.2V2683.9" stroke="#3DAE8E" stroke-width="2.2"/>
<text x="1772" y="2677.7" font-size="21" fill="#3DAE8E">NE</text>
<path d="M1351.3,1725.5V2717" stroke="#E5211D" stroke-width="2.8" stroke-dasharray="10.5 5" fill="none"/>
<text x="1750" y="1900.6" font-size="22.3">Row z-score</text>
<defs><linearGradient id="zg"><stop offset="0" stop-color="#053061"/><stop offset="0.1" stop-color="#2166AC"/><stop offset="0.2" stop-color="#4393C3"/><stop offset="0.3" stop-color="#92C5DE"/><stop offset="0.4" stop-color="#D1E5F0"/><stop offset="0.5" stop-color="#F7F7F7"/><stop offset="0.6" stop-color="#FDDBC7"/><stop offset="0.7" stop-color="#F4A582"/><stop offset="0.8" stop-color="#D6604D"/><stop offset="0.9" stop-color="#B2182B"/><stop offset="1" stop-color="#67001F"/></linearGradient></defs>
<rect x="1754.2" y="1916.5" width="115.8" height="23.2" fill="url(#zg)"/>
<path d="M1760.2,1916.5v4.5M1760.2,1939.7v-4.5M1786.4,1916.5v4.5M1786.4,1939.7v-4.5M1812.2,1916.5v4.5M1812.2,1939.7v-4.5M1838.2,1916.5v4.5M1838.2,1939.7v-4.5M1864.2,1916.5v4.5M1864.2,1939.7v-4.5" stroke="#fff" stroke-width="1.1"/>
<text x="1755.3" y="1961.5" font-size="19.6" text-anchor="middle">-4</text>
<text x="1782.6" y="1961.5" font-size="19.6" text-anchor="middle">-2</text>
<text x="1811.5" y="1961.5" font-size="19.6" text-anchor="middle">0</text>
<text x="1837.2" y="1961.5" font-size="19.6" text-anchor="middle">2</text>
<text x="1865.5" y="1961.5" font-size="19.6" text-anchor="middle">4</text>
</g>
<g id="labels">
<text x="0.6" y="96.8" font-size="40">a</text>
<text x="3.7" y="671.2" font-size="40">b</text>
<text x="1261.7" y="113" font-size="40">c</text>
<text x="15" y="1487.1" font-size="40">d</text>
<text x="14.2" y="1762.7" font-size="40">e</text>
<text x="791.5" y="1738.9" font-size="40">f</text>
</g>
</svg>
</body></html>
